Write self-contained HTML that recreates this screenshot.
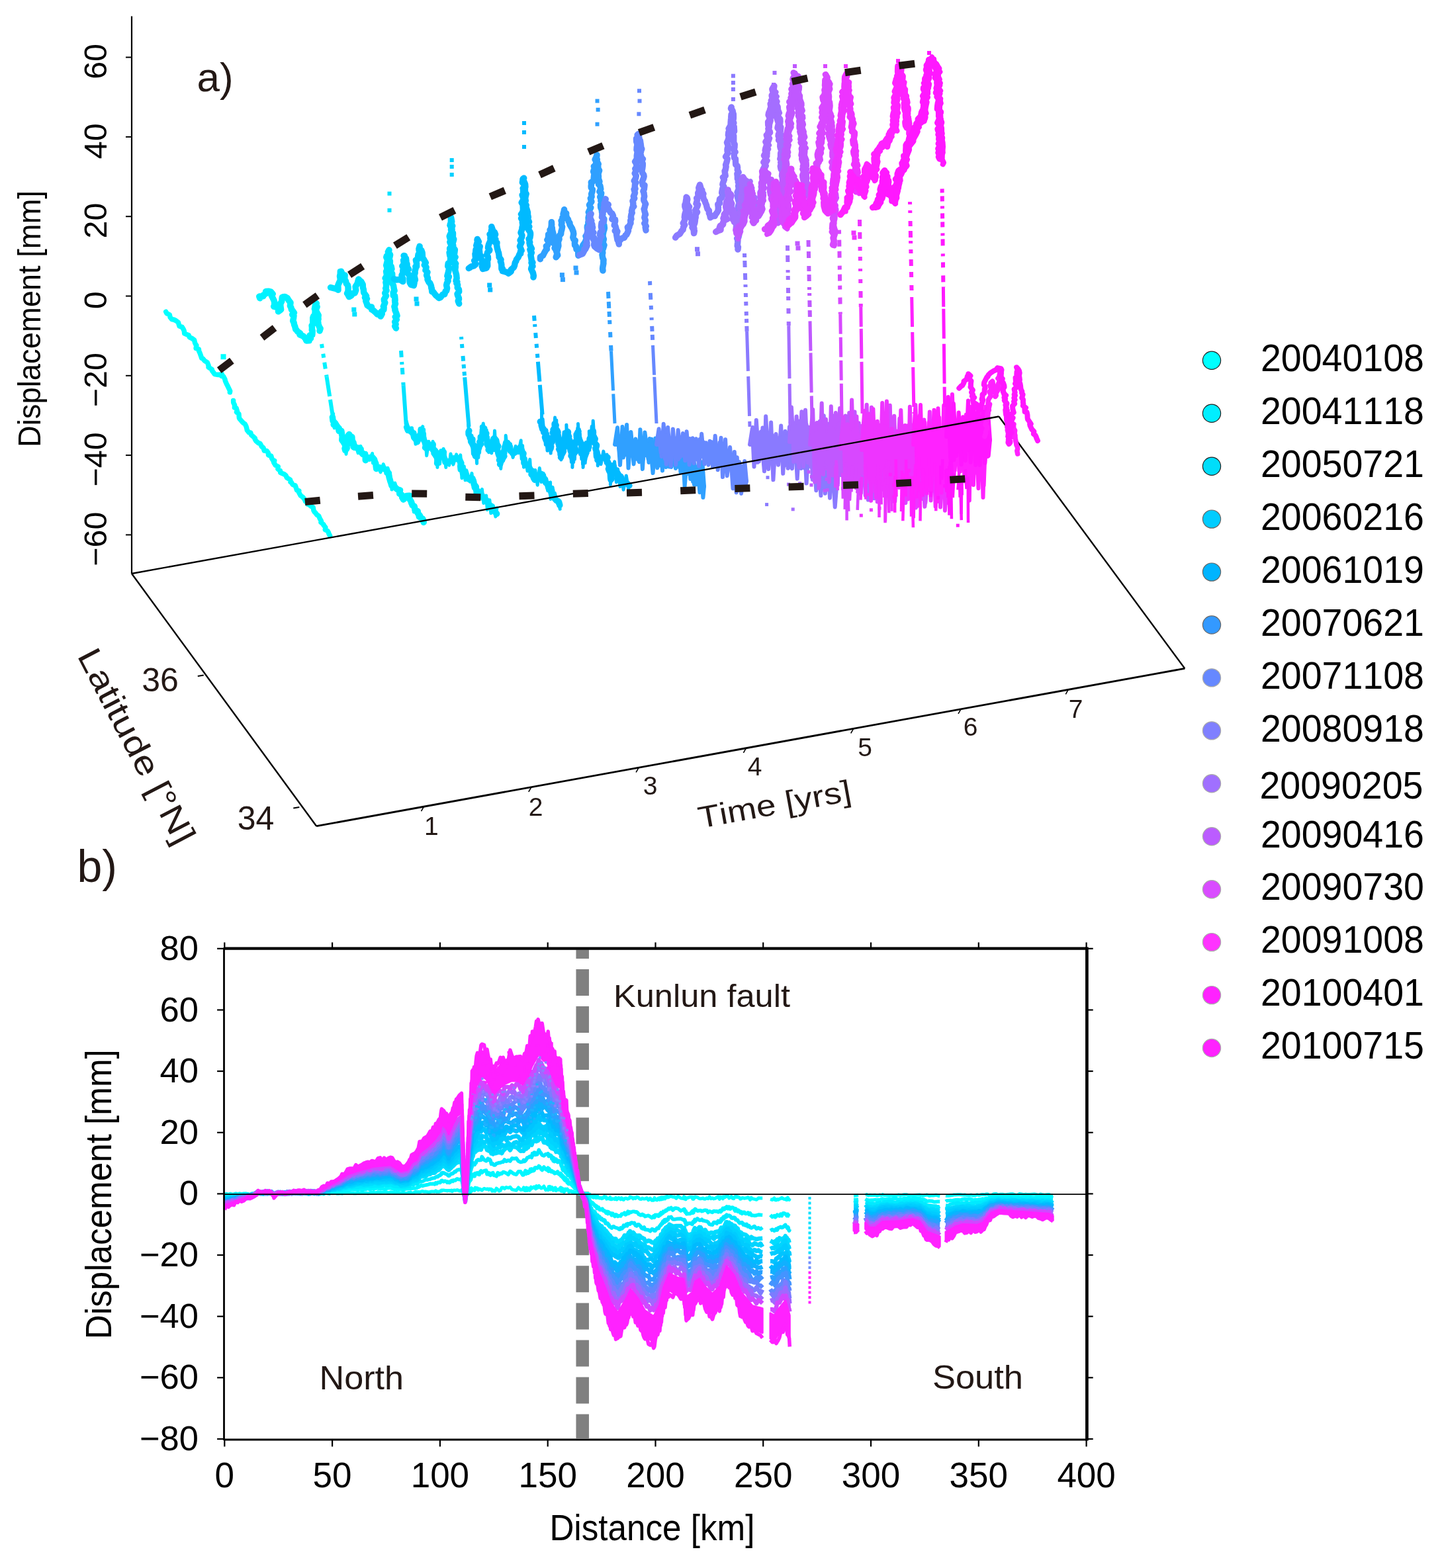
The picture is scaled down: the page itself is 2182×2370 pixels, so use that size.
<!DOCTYPE html>
<html><head><meta charset="utf-8"><title>Figure</title>
<style>html,body{margin:0;padding:0;background:#fff;}svg{display:block;}text{font-family:'Liberation Sans', Arial, sans-serif;font-kerning:none;}</style>
</head><body>
<svg width="2182" height="2370" viewBox="0 0 2182 2370">
<rect width="2182" height="2370" fill="#fff"/>
<line x1="199.0" y1="24.4" x2="199.0" y2="867.0" stroke="#000" stroke-width="2.2" />
<line x1="190.0" y1="86.6" x2="199.0" y2="86.6" stroke="#000" stroke-width="2" />
<text transform="translate(161.4,92.9) rotate(-90)" font-size="48.5" text-anchor="middle" fill="#000">60</text>
<line x1="190.0" y1="206.9" x2="199.0" y2="206.9" stroke="#000" stroke-width="2" />
<text transform="translate(161.4,213.2) rotate(-90)" font-size="48.5" text-anchor="middle" fill="#000">40</text>
<line x1="190.0" y1="327.2" x2="199.0" y2="327.2" stroke="#000" stroke-width="2" />
<text transform="translate(161.4,333.5) rotate(-90)" font-size="48.5" text-anchor="middle" fill="#000">20</text>
<line x1="190.0" y1="447.5" x2="199.0" y2="447.5" stroke="#000" stroke-width="2" />
<text transform="translate(161.4,453.8) rotate(-90)" font-size="48.5" text-anchor="middle" fill="#000">0</text>
<line x1="190.0" y1="567.8" x2="199.0" y2="567.8" stroke="#000" stroke-width="2" />
<text transform="translate(161.4,574.1) rotate(-90)" font-size="48.5" text-anchor="middle" fill="#000">−20</text>
<line x1="190.0" y1="688.1" x2="199.0" y2="688.1" stroke="#000" stroke-width="2" />
<text transform="translate(161.4,694.4) rotate(-90)" font-size="48.5" text-anchor="middle" fill="#000">−40</text>
<line x1="190.0" y1="808.4" x2="199.0" y2="808.4" stroke="#000" stroke-width="2" />
<text transform="translate(161.4,814.7) rotate(-90)" font-size="48.5" text-anchor="middle" fill="#000">−60</text>
<text transform="translate(60.5,482) rotate(-90)" font-size="48.5" text-anchor="middle" fill="#000" textLength="388" lengthAdjust="spacingAndGlyphs">Displacement [mm]</text>
<text x="297.5" y="138.0" font-size="62" text-anchor="start" fill="#231815" >a)</text>
<line x1="1509.4" y1="629.5" x2="1790.3" y2="1010.4" stroke="#000" stroke-width="2.4" />
<rect x="585.5" y="289.6" width="6" height="6" fill="#00E2FF"/>
<rect x="585.5" y="314.8" width="6" height="6" fill="#00E2FF"/>
<rect x="679.7" y="239.0" width="6" height="6" fill="#00D0FF"/>
<rect x="679.7" y="249.0" width="6" height="6" fill="#00D0FF"/>
<rect x="679.7" y="261.0" width="6" height="6" fill="#00D0FF"/>
<rect x="789.0" y="183.0" width="6" height="6" fill="#00BAFF"/>
<rect x="789.0" y="197.0" width="6" height="6" fill="#00BAFF"/>
<rect x="789.0" y="219.0" width="6" height="6" fill="#00BAFF"/>
<rect x="899.5" y="149.6" width="6" height="6" fill="#30A0FF"/>
<rect x="900.6" y="162.8" width="6" height="6" fill="#30A0FF"/>
<rect x="899.5" y="184.7" width="6" height="6" fill="#30A0FF"/>
<rect x="963.0" y="134.3" width="6" height="6" fill="#6688FF"/>
<rect x="963.5" y="149.6" width="6" height="6" fill="#6688FF"/>
<rect x="962.4" y="169.3" width="6" height="6" fill="#6688FF"/>
<rect x="1104.9" y="111.7" width="6" height="6" fill="#8A7AFF"/>
<rect x="1104.9" y="122.0" width="6" height="6" fill="#8A7AFF"/>
<rect x="1104.9" y="132.0" width="6" height="6" fill="#8A7AFF"/>
<rect x="1104.9" y="147.0" width="6" height="6" fill="#8A7AFF"/>
<rect x="1167.5" y="107.0" width="6" height="6" fill="#A46EFF"/>
<rect x="1166.0" y="125.0" width="6" height="6" fill="#A46EFF"/>
<rect x="1198.4" y="107.0" width="6" height="6" fill="#C058FF"/>
<rect x="1198.0" y="97.0" width="6" height="6" fill="#C058FF"/>
<rect x="1244.0" y="97.0" width="6" height="6" fill="#D848FF"/>
<rect x="1275.0" y="97.0" width="6" height="6" fill="#EE34FF"/>
<rect x="1354.0" y="89.0" width="6" height="6" fill="#FF22FF"/>
<rect x="1401.0" y="77.0" width="6" height="6" fill="#FF18FF"/>
<path d="M250.7,471.2 L252.0,473.6 L256.3,475.8 L257.1,479.6 L259.8,482.7 L262.4,483.0 L265.6,484.5 L269.4,487.2 L270.3,490.6 L271.1,493.0 L275.2,494.4 L277.2,497.7 L278.2,500.0 L278.5,501.8 L278.7,504.1 L285.2,506.8 L286.2,509.6 L289.7,511.3 L290.2,511.4 L293.6,514.0 L294.6,518.4 L296.7,522.5 L296.9,522.0 L296.1,526.4 L300.4,527.8 L300.6,530.6 L301.8,533.0 L303.5,537.6 L304.7,541.3 L306.4,542.0 L309.3,545.4 L313.3,547.9 L315.2,552.7 L315.0,555.1 L318.5,557.2 L320.4,558.6 L320.4,560.2 L322.5,562.9 L324.2,565.5 L330.1,566.5 L335.3,565.6 L335.0,568.5 L337.5,568.7 L340.0,573.5 L340.3,575.5 L342.6,580.9 L343.7,582.7 L344.7,584.9 L347.7,591.1 L347.4,592.9" fill="none" stroke="#00FFFF" stroke-width="7.5" stroke-linejoin="round" stroke-linecap="round" />
<path d="M352.6,605.6 L352.7,608.3 L354.6,612.4 L354.4,616.1 L357.0,616.7 L358.4,621.3 L357.5,622.9 L360.9,625.4 L361.4,631.8 L362.4,633.4 L366.4,638.0 L367.8,639.4 L370.1,640.9 L371.8,644.0 L372.8,647.3 L373.3,650.1 L376.3,653.8 L378.7,654.0 L379.9,657.8 L381.9,659.2 L385.4,662.5 L385.3,664.0 L387.0,666.6 L390.5,669.6 L393.0,670.4 L394.7,673.4 L395.2,674.8 L397.9,676.6 L399.3,681.2 L403.1,681.5 L405.4,684.7 L405.5,688.0 L409.7,689.2 L410.5,692.5 L412.5,695.7 L414.7,696.4 L413.6,698.8 L416.3,703.3 L420.3,705.4 L419.8,708.7 L423.5,711.5 L423.7,714.3 L428.8,716.7 L429.2,716.6 L432.0,718.7 L433.4,722.0 L438.6,725.1 L438.9,728.5 L439.9,728.5 L442.1,732.2 L446.2,734.0 L447.8,738.5 L448.5,740.8 L451.8,741.8 L451.0,742.9 L453.1,746.9 L454.2,749.0 L457.7,751.6 L460.4,755.0 L461.5,757.8 L463.9,759.2 L464.6,762.0 L466.3,762.2 L469.6,765.0 L473.2,767.0 L473.9,771.5 L475.7,774.4 L476.4,774.7 L478.8,778.0 L481.7,779.9 L483.5,784.3 L485.4,787.4 L484.9,789.5 L488.7,792.7 L488.2,792.6 L491.9,797.3 L491.3,800.7 L494.8,802.4 L496.5,805.0 L496.5,805.7 L498.6,809.9" fill="none" stroke="#00FFFF" stroke-width="7.5" stroke-linejoin="round" stroke-linecap="round" />
<rect x="333.5" y="535.2" width="8" height="8" fill="#00FFFF"/>
<path d="M502.4,630.5 L502.6,631.9 L503.1,636.1 L506.9,640.0 L504.2,641.8 L508.8,643.5 L511.4,646.7 L512.2,651.4 L515.9,651.6 L516.7,657.6 L517.8,660.3 L517.0,661.8 L516.8,665.2 L518.7,667.5 L522.0,673.2 L522.5,674.2 L521.0,677.8 L521.8,680.7 L524.2,677.3 L523.8,674.1 L526.1,669.8 L526.6,668.6 L526.2,665.6 L524.8,663.0 L526.3,658.1 L527.6,656.6 L527.9,658.4 L531.9,660.4 L531.9,663.3 L532.8,667.4 L534.1,669.0 L534.0,675.2 L535.1,676.2 L542.4,677.1 L545.2,678.8 L544.9,682.6 L548.4,686.7 L551.8,686.6 L552.2,690.6 L552.3,695.7 L555.0,692.8 L558.4,691.6 L561.3,691.2 L563.1,691.7 L565.5,694.4 L566.4,697.6 L567.8,700.6 L568.2,704.9 L568.7,708.5 L572.5,706.2 L576.1,707.9 L579.3,707.3 L580.2,708.5 L584.9,710.9 L584.9,714.7 L586.5,714.1 L587.5,718.2 L588.3,722.0 L590.0,727.8 L590.8,730.0 L591.9,734.0 L594.1,734.8 L597.0,736.8 L600.3,739.5 L604.5,741.0 L603.7,746.1 L607.6,748.3 L607.7,751.1 L609.5,754.9 L613.8,750.9 L614.5,749.5 L618.9,749.2 L617.8,749.5 L618.9,754.1 L621.8,759.1 L621.6,760.2 L624.3,764.5 L626.1,765.2 L627.1,769.8 L627.2,770.4 L631.3,772.9 L630.9,775.1 L634.6,779.5 L634.1,781.5 L636.5,782.5 L639.3,785.3 L640.2,789.4" fill="none" stroke="#00F2FF" stroke-width="9.5" stroke-linejoin="round" stroke-linecap="round" />
<path d="M503.7,625.3 L503.0,639.1 L504.7,635.4 L505.1,646.9 L509.8,641.0 L512.4,652.4 L514.3,646.3 L516.2,662.8 L516.7,655.8 L518.0,668.2 L518.9,666.2 L520.0,677.2 L522.8,672.4 L523.0,686.4 L524.9,673.5 L525.6,679.4 L525.2,665.8 L526.5,670.5 L526.6,655.9 L527.1,657.9 L529.7,656.0 L531.9,668.0 L532.1,662.9 L535.5,675.3 L537.2,671.6 L541.1,684.7 L545.0,674.3 L546.4,686.9 L549.4,683.2 L551.3,694.4 L554.3,690.4 L558.7,695.3 L562.6,685.4 L563.5,700.1 L566.5,695.8 L567.7,705.3 L568.4,700.4 L575.1,713.8 L579.3,701.5 L583.4,712.5 L586.0,707.3 L589.1,720.1 L589.6,714.3 L590.4,730.1 L590.9,726.5 L592.0,740.1 L596.8,730.0 L602.1,746.3 L603.5,740.0 L605.8,753.1 L608.2,748.8 L609.0,757.1 L613.7,747.5 L618.2,754.1 L620.5,749.9 L621.1,764.9 L623.3,761.2 L625.4,774.0 L628.7,769.1 L631.3,781.9 L633.8,777.5 L638.0,789.1 L640.0,782.5" fill="none" stroke="#00F2FF" stroke-width="5" stroke-linejoin="round" stroke-linecap="round" />
<line x1="486.0" y1="520.0" x2="493.6" y2="569.5" stroke="#00F2FF" stroke-width="6" stroke-dasharray="6 9 6 7 10 9 10 5 6 12 10 7 6 5 4 7 10 7 6 12 10 12 4 7"/>
<line x1="493.6" y1="569.5" x2="503.0" y2="630.0" stroke="#00F2FF" stroke-width="6" stroke-dasharray="30 5 80 8 45 8 80 8 80 5 45 3"/>
<path d="M392.8,450.8 L391.8,448.1 L397.8,447.8 L397.5,446.4 L402.2,443.5 L401.6,440.6 L405.6,440.2 L409.5,441.2 L412.1,444.3 L410.2,446.6 L412.1,450.2 L414.2,454.6 L414.6,456.2 L414.8,461.1 L413.7,463.2 L418.1,464.5 L421.3,466.9 L420.5,470.8 L424.6,467.8 L423.9,462.9 L423.7,458.7 L424.7,457.4 L425.7,455.4 L426.3,449.5 L428.2,448.7 L430.5,448.5 L434.4,450.7 L436.1,453.8 L439.0,457.5 L438.4,462.3 L440.0,465.3 L440.3,467.8 L441.4,468.6 L444.4,472.7 L441.7,475.6 L444.0,477.0 L443.5,481.1 L442.7,485.0 L444.1,487.7 L444.6,490.8 L445.7,493.3 L446.7,497.8 L447.2,497.7 L449.8,501.3 L453.6,503.7 L453.0,505.9 L458.4,508.2 L461.4,511.5 L463.0,514.9 L467.1,514.8 L467.2,512.1 L469.6,511.3 L468.2,506.8 L471.8,506.1 L472.2,499.9 L471.3,499.0 L471.5,495.4 L471.1,491.9 L473.0,489.9 L472.8,486.9 L472.8,480.4 L473.8,477.7 L475.9,476.7 L476.1,471.3 L476.7,470.5 L475.4,466.9 L476.5,461.3 L478.4,458.6 L477.5,462.9 L479.1,463.7 L477.2,468.7 L477.8,470.3 L481.2,476.5 L480.8,479.5 L481.1,482.7 L479.1,483.8 L480.8,486.8 L480.9,489.9 L483.0,495.3 L484.1,496.5 L483.0,500.0" fill="none" stroke="#00F2FF" stroke-width="9.5" stroke-linejoin="round" stroke-linecap="round" />
<path d="M614.6,645.6 L616.4,650.2 L620.1,649.4 L622.8,654.1 L624.9,654.7 L625.1,658.5 L625.8,661.2 L629.3,665.4 L630.5,667.8 L632.1,663.5 L631.7,661.3 L632.9,660.4 L634.0,658.0 L636.9,655.1 L636.3,649.3 L637.0,655.8 L639.3,655.6 L639.4,659.7 L640.0,662.7 L640.7,665.6 L642.1,668.2 L643.4,673.9 L642.6,676.4 L645.2,678.3 L647.0,675.6 L650.7,676.5 L654.2,671.6 L653.9,675.5 L654.3,680.0 L657.4,681.0 L656.0,685.0 L658.0,687.8 L660.3,691.6 L660.9,691.7 L661.0,696.4 L660.6,700.3 L662.1,696.9 L662.2,691.2 L663.3,688.4 L664.6,685.5 L668.0,685.6 L669.4,682.3 L670.4,683.3 L670.1,686.1 L670.4,689.9 L672.5,695.7 L673.2,698.1 L675.4,700.0 L675.9,698.1 L679.1,697.5 L682.2,696.4 L686.0,692.8 L691.2,693.9 L693.3,692.5 L695.1,696.3 L696.9,700.0 L695.7,704.3 L696.2,709.5 L699.9,710.0 L699.3,715.4 L702.8,717.0 L704.1,719.4 L705.5,722.7 L710.3,725.1 L713.9,723.2 L715.9,729.1 L716.1,731.8 L718.0,734.1 L719.2,736.4 L717.8,737.6 L721.6,742.3 L721.3,743.0 L726.0,744.8 L727.1,749.2 L728.2,748.7 L730.7,753.2 L734.6,755.7 L733.9,757.0 L737.6,759.9 L738.4,762.3 L742.9,765.6 L745.3,770.3 L745.7,771.9 L747.4,773.1 L750.6,776.5" fill="none" stroke="#00E2FF" stroke-width="9.5" stroke-linejoin="round" stroke-linecap="round" />
<path d="M614.0,636.2 L619.0,653.5 L622.5,646.8 L624.1,661.5 L626.1,653.2 L628.0,671.3 L630.0,658.4 L632.4,667.7 L634.3,647.8 L635.9,663.2 L638.8,644.6 L639.6,662.4 L640.6,649.1 L640.7,667.9 L641.3,658.0 L642.3,676.2 L643.1,667.4 L644.7,688.7 L647.9,667.2 L652.4,680.7 L654.1,667.3 L656.0,685.8 L657.5,678.2 L659.4,701.0 L661.4,682.4 L660.9,706.5 L663.2,683.7 L664.6,701.2 L665.9,680.7 L667.8,687.7 L670.2,678.3 L671.0,699.8 L671.4,685.1 L673.8,706.5 L673.9,694.0 L678.7,703.2 L681.0,686.1 L684.9,702.1 L689.6,686.9 L695.0,704.4 L695.8,687.8 L697.2,712.9 L696.7,698.7 L697.9,722.7 L701.3,704.7 L703.0,725.7 L704.8,710.8 L710.2,728.2 L713.0,715.4 L715.0,736.9 L717.3,725.9 L717.9,745.3 L721.1,734.3 L723.2,750.1 L728.4,739.6 L730.8,760.5 L734.7,749.0 L736.3,770.5 L739.9,755.8 L741.8,775.7 L745.2,764.1 L748.9,780.9 L750.9,767.8" fill="none" stroke="#00E2FF" stroke-width="5" stroke-linejoin="round" stroke-linecap="round" />
<line x1="606.0" y1="530.0" x2="609.6" y2="582.2" stroke="#00E2FF" stroke-width="6" stroke-dasharray="10 7 4 5 10 12 8 5 10 5 6 7 4 5 6 5 6 9 6 12 10 7 6 5"/>
<line x1="609.6" y1="582.2" x2="614.0" y2="646.0" stroke="#00E2FF" stroke-width="6" stroke-dasharray="60 3 45 8 80 5 60 3 80 8 45 8"/>
<path d="M499.6,434.5 L505.5,436.0 L507.2,435.9 L511.0,438.2 L510.9,433.9 L510.8,431.3 L511.8,428.8 L514.5,422.8 L514.1,420.9 L513.5,417.4 L514.3,413.7 L514.3,410.4 L515.6,410.3 L516.7,412.9 L517.2,415.2 L521.1,416.2 L520.8,420.9 L519.8,421.2 L522.5,424.8 L523.3,428.6 L525.4,430.9 L526.1,434.3 L526.1,439.8 L524.6,443.3 L524.8,443.4 L527.5,448.6 L531.1,446.6 L530.9,444.0 L536.2,442.8 L537.8,438.6 L537.5,436.9 L537.1,433.3 L539.0,430.3 L540.9,426.9 L540.6,426.4 L541.8,422.0 L544.4,424.8 L545.9,425.8 L548.2,430.0 L548.3,432.2 L548.4,434.7 L549.2,437.0 L549.5,439.6 L549.7,442.2 L553.5,447.5 L551.4,449.8 L554.4,451.7 L552.7,454.7 L554.4,459.1 L555.1,461.6 L559.2,464.2 L561.5,464.1 L561.7,467.9 L564.5,469.4 L568.4,473.0 L570.0,474.9 L572.1,473.9 L575.2,478.1 L577.3,474.3 L576.1,471.1 L579.9,468.0 L580.1,464.5 L579.3,463.3 L581.8,457.5 L580.5,454.7 L580.3,452.5 L581.0,451.3 L583.5,447.1 L581.7,443.1 L584.1,438.9 L582.7,435.8 L583.6,434.2 L583.5,429.6 L582.9,426.8 L585.2,424.6 L582.2,420.5 L583.8,417.8 L584.5,416.9 L584.0,412.5 L583.6,410.4 L584.9,407.7 L584.7,404.3 L583.7,401.1 L585.2,395.2 L585.5,392.7 L583.8,388.8 L584.3,387.0 L587.7,384.6 L587.5,379.8 L587.9,377.9 L586.4,380.9 L589.4,384.7 L589.6,385.3 L588.1,391.9 L587.8,391.9 L589.4,394.5 L589.2,400.5 L591.1,402.6 L591.9,406.4 L590.0,407.1 L590.1,410.4 L592.7,413.7 L592.7,419.3 L592.4,421.1 L593.1,423.8 L591.8,426.9 L594.5,431.4 L595.1,435.2 L595.3,436.6 L596.1,439.5 L594.2,441.8 L594.3,446.7 L596.6,447.4 L597.1,453.5 L596.6,453.6 L596.9,457.3 L597.5,459.2 L595.9,463.5 L597.2,468.0 L596.9,468.7 L599.0,474.0 L600.0,477.2 L597.3,479.0 L599.3,483.0 L596.7,486.5 L598.1,490.2 L596.7,493.0 L598.4,496.0" fill="none" stroke="#00E2FF" stroke-width="9.5" stroke-linejoin="round" stroke-linecap="round" />
<path d="M708.8,651.0 L708.0,652.7 L708.1,656.4 L710.2,659.8 L710.2,661.9 L713.9,663.9 L712.8,669.4 L713.8,670.9 L716.1,675.9 L718.0,677.2 L717.5,680.7 L717.7,684.4 L717.7,687.4 L718.6,689.2 L720.4,687.8 L720.8,683.4 L722.5,679.0 L723.9,676.4 L722.7,676.1 L726.5,671.3 L724.8,668.0 L726.5,666.2 L726.3,660.8 L729.5,660.3 L729.8,656.6 L729.5,653.8 L731.7,651.0 L729.6,645.7 L731.0,650.3 L730.9,654.0 L734.8,655.1 L733.3,660.3 L734.9,661.2 L735.7,664.1 L737.3,668.7 L737.1,673.3 L739.4,673.9 L738.5,677.9 L738.2,680.0 L740.5,679.2 L742.4,674.5 L744.7,673.8 L745.3,669.2 L746.1,666.9 L747.1,662.3 L749.7,665.7 L750.6,670.4 L751.5,672.5 L752.8,674.6 L750.5,679.3 L751.8,680.6 L753.4,686.8 L753.9,688.2 L756.0,692.8 L754.5,695.3 L757.0,696.9 L755.6,701.8 L756.8,697.5 L758.5,695.6 L759.7,692.7 L761.9,689.4 L759.3,687.7 L761.4,682.6 L761.9,681.3 L762.9,675.4 L763.9,673.1 L764.6,669.4 L766.8,669.6 L767.6,670.7 L767.3,672.9 L770.5,675.3 L771.3,681.2 L774.7,683.8 L774.5,685.0 L776.9,684.6 L778.3,683.6 L783.1,679.7 L786.1,677.7 L786.0,676.2 L787.5,678.4 L789.8,684.5 L791.0,685.3 L790.3,689.1 L790.3,692.7 L792.1,694.4 L791.9,699.8 L794.6,702.3 L794.4,702.3 L796.9,704.1 L800.2,707.3 L802.1,711.7 L803.7,713.1 L803.0,717.2 L805.4,718.9 L806.4,722.4 L808.0,725.2 L812.2,722.7 L812.5,721.3 L817.1,716.3 L818.8,716.8 L820.5,718.5 L819.9,720.5 L823.5,724.2 L823.1,724.5 L824.9,729.8 L826.0,730.2 L827.7,732.9 L829.2,738.5 L833.8,741.5 L832.5,742.7 L833.8,747.5 L836.1,748.0 L837.4,752.6 L840.9,756.5 L843.5,757.6 L844.6,758.9 L845.8,763.5" fill="none" stroke="#00D0FF" stroke-width="9.5" stroke-linejoin="round" stroke-linecap="round" />
<path d="M707.7,641.3 L709.5,668.4 L709.6,653.3 L711.4,669.5 L713.0,658.2 L714.4,686.0 L716.0,666.6 L716.8,690.9 L718.7,671.9 L720.6,700.5 L720.6,680.0 L722.8,691.8 L723.8,673.0 L724.6,684.5 L725.8,659.3 L725.7,673.4 L727.2,649.0 L728.3,665.0 L730.0,649.8 L730.5,662.2 L730.2,640.0 L732.8,663.3 L733.9,646.6 L733.7,672.3 L735.3,650.1 L735.6,673.5 L737.4,660.2 L738.7,683.8 L739.7,674.0 L742.8,684.9 L743.6,662.3 L746.1,680.8 L747.5,650.9 L748.9,676.2 L751.0,667.0 L751.2,686.1 L752.4,674.7 L753.7,693.9 L754.6,683.5 L756.1,703.5 L756.2,686.9 L756.8,708.4 L758.1,685.1 L758.5,696.9 L761.0,676.3 L760.6,694.6 L762.2,672.5 L764.0,685.7 L764.2,658.3 L766.0,674.4 L768.2,667.9 L769.8,682.9 L771.4,670.8 L775.1,691.5 L779.2,674.4 L783.3,684.7 L787.2,665.8 L787.5,687.7 L789.6,673.4 L790.4,700.9 L790.6,681.9 L791.4,706.2 L794.0,692.2 L797.1,712.1 L800.7,694.4 L802.1,717.4 L805.6,710.1 L807.1,725.7 L808.9,710.6 L812.2,733.2 L815.3,707.5 L818.0,728.6 L821.2,715.5 L823.1,730.9 L825.8,724.1 L827.7,741.8 L831.6,729.0 L831.9,754.4 L835.1,736.4 L837.0,753.8 L838.4,745.3 L842.3,760.8 L843.4,755.4 L846.2,769.4" fill="none" stroke="#00D0FF" stroke-width="5" stroke-linejoin="round" stroke-linecap="round" />
<line x1="697.0" y1="509.0" x2="702.2" y2="570.2" stroke="#00D0FF" stroke-width="6" stroke-dasharray="4 7 6 12 8 5 6 5 6 5 6 5 4 9 8 5 6 9 10 9 6 9 10 5"/>
<line x1="702.2" y1="570.2" x2="708.5" y2="645.0" stroke="#00D0FF" stroke-width="6" stroke-dasharray="80 5 45 5 45 8 30 3 30 8 30 3"/>
<path d="M595.2,421.5 L598.1,422.9 L604.0,422.4 L608.8,425.6 L608.9,420.8 L607.1,418.7 L607.0,416.1 L609.9,410.8 L608.7,409.7 L609.7,404.3 L607.8,402.2 L608.6,401.5 L610.4,398.6 L609.6,393.4 L612.1,391.2 L611.4,386.7 L610.1,386.5 L611.2,388.4 L613.4,390.4 L614.0,395.0 L612.5,397.5 L615.0,398.7 L615.1,403.5 L617.6,407.0 L615.8,407.7 L615.4,411.9 L617.9,415.4 L619.4,416.1 L618.9,420.1 L619.0,423.6 L619.2,427.2 L620.9,430.2 L625.3,431.5 L626.1,427.4 L625.6,425.4 L627.5,423.1 L626.4,418.6 L625.9,416.7 L627.2,412.3 L626.9,410.3 L628.2,405.4 L627.9,403.2 L629.6,402.5 L629.5,397.8 L628.4,393.1 L632.4,390.9 L631.3,390.4 L632.1,384.5 L633.6,382.7 L633.9,381.2 L633.1,378.0 L634.2,372.3 L633.0,376.0 L636.8,378.3 L638.1,382.1 L638.4,386.5 L638.3,389.8 L640.1,391.6 L642.3,395.6 L643.4,397.1 L641.3,400.5 L644.2,404.0 L642.9,408.3 L646.0,411.5 L645.8,411.4 L644.6,416.2 L646.5,420.5 L646.0,422.5 L648.1,426.7 L649.5,427.5 L651.4,431.8 L651.9,436.0 L652.3,435.6 L652.8,440.7 L654.4,441.0 L659.0,446.9 L658.5,446.1 L663.1,450.4 L665.7,449.5 L668.8,445.2 L671.7,444.9 L673.1,440.4 L674.7,439.4 L675.6,435.7 L674.6,431.1 L675.3,428.2 L677.1,424.5 L676.3,422.7 L678.3,418.4 L675.9,417.0 L677.7,410.4 L677.8,409.5 L678.8,405.1 L676.7,402.4 L677.3,398.0 L680.3,396.9 L680.6,391.8 L680.7,388.6 L679.8,386.3 L679.1,381.8 L681.0,380.6 L679.4,375.6 L681.9,373.1 L681.5,369.7 L679.8,365.8 L682.1,364.8 L680.3,361.0 L679.2,357.1 L680.6,353.7 L682.5,352.0 L681.5,347.2 L681.9,343.5 L680.1,340.8 L682.6,338.9 L681.3,335.9 L681.4,331.2 L681.1,327.7 L681.8,329.8 L682.8,335.2 L680.5,338.5 L683.8,341.5 L682.5,341.6 L683.1,347.3 L682.2,350.0 L684.5,352.1 L684.4,356.5 L684.3,359.2 L685.8,361.5 L684.8,365.4 L683.7,367.6 L684.8,370.9 L684.2,372.0 L685.2,374.5 L687.4,377.4 L686.7,382.5 L686.1,386.9 L688.2,388.6 L686.5,390.6 L686.4,395.7 L688.8,398.5 L687.3,401.7 L688.4,402.9 L687.7,408.2 L688.5,411.2 L689.6,415.0 L689.7,416.7 L690.2,420.6 L689.0,424.5 L690.8,426.1 L689.8,428.2 L691.6,430.3 L691.2,434.8 L693.4,437.5 L693.7,440.6 L691.0,444.3 L691.6,446.4 L693.4,450.7 L693.5,452.2 L692.2,454.8 L693.7,459.0" fill="none" stroke="#00D0FF" stroke-width="9.5" stroke-linejoin="round" stroke-linecap="round" />
<path d="M816.3,637.4 L818.0,638.4 L818.2,643.1 L818.9,645.3 L819.8,648.8 L823.7,651.4 L821.6,653.3 L825.5,656.3 L823.4,660.8 L824.9,665.0 L827.4,668.1 L827.5,671.3 L828.0,672.0 L829.7,677.4 L832.0,678.2 L832.7,674.7 L831.4,673.1 L830.9,671.2 L834.3,668.0 L835.0,665.1 L834.9,662.7 L836.5,657.3 L835.3,653.6 L837.9,650.7 L836.0,649.5 L838.5,646.1 L838.1,641.9 L838.1,640.5 L840.2,642.9 L839.0,646.4 L841.3,649.8 L842.9,652.8 L841.6,655.9 L843.3,658.4 L844.3,662.7 L844.6,663.4 L844.7,667.6 L845.1,669.6 L845.0,674.4 L846.1,676.8 L844.7,678.9 L847.8,684.8 L848.6,686.6 L847.5,691.2 L848.3,687.5 L849.8,685.4 L851.4,682.1 L850.7,677.4 L851.0,673.6 L853.2,670.5 L853.0,667.2 L854.9,665.7 L853.3,663.6 L854.2,658.3 L854.3,656.0 L854.3,655.6 L857.7,652.3 L858.6,653.8 L857.6,656.1 L859.7,659.9 L858.2,663.2 L860.8,665.4 L862.0,669.1 L861.0,673.6 L860.1,676.2 L862.0,678.2 L862.0,680.8 L864.0,685.7 L863.1,688.8 L864.4,689.4 L865.0,692.5 L864.8,690.1 L866.1,688.9 L866.9,686.1 L869.2,683.2 L869.5,678.7 L868.6,676.7 L868.0,673.4 L871.5,667.8 L869.5,668.1 L871.7,664.3 L871.4,661.6 L871.1,656.7 L872.3,655.5 L874.1,652.1 L872.9,653.3 L874.1,655.7 L874.2,659.8 L875.2,663.4 L875.8,665.1 L877.8,669.8 L879.5,671.5 L879.2,674.3 L879.6,678.7 L878.3,680.9 L878.4,685.5 L881.0,687.0 L881.3,690.9 L882.8,693.9 L882.9,692.0 L883.9,689.3 L885.8,684.4 L885.0,681.6 L885.0,680.3 L888.2,676.9 L889.7,675.6 L888.3,672.2 L891.0,668.9 L890.9,665.9 L891.2,662.8 L894.1,659.0 L893.5,657.9 L896.5,654.5 L896.3,651.7 L896.0,653.7 L896.3,657.4 L897.9,661.1 L899.3,663.4 L897.5,667.7 L900.4,671.7 L901.7,672.8 L900.5,677.7 L899.9,678.0 L901.4,682.8 L901.1,684.4 L901.5,690.0 L904.1,690.2 L902.9,695.3 L907.2,693.9 L908.4,692.9 L912.1,691.2 L918.0,691.3 L915.7,692.0 L917.0,696.1 L918.9,699.1 L919.9,703.5 L921.0,705.4 L919.4,708.8 L920.8,712.2 L922.8,714.2 L923.3,717.7 L923.1,720.3 L923.0,725.2 L924.3,723.3 L923.3,720.1 L924.4,714.3 L926.6,711.2 L926.7,708.4 L927.2,704.6 L927.8,707.6 L931.6,712.5 L931.4,715.3 L933.6,715.5 L935.1,718.9 L938.5,721.1 L938.6,724.5 L942.0,727.2 L944.6,729.3 L947.8,730.9 L950.9,733.8" fill="none" stroke="#00BAFF" stroke-width="9.5" stroke-linejoin="round" stroke-linecap="round" />
<path d="M818.6,623.4 L818.4,646.1 L820.1,633.2 L822.3,656.4 L823.1,646.7 L824.3,672.3 L825.8,649.7 L827.0,681.2 L829.1,659.6 L829.1,680.0 L829.8,666.4 L832.2,685.1 L832.5,660.2 L832.9,681.6 L835.2,649.6 L834.8,669.9 L836.7,641.4 L837.0,654.9 L838.6,631.1 L839.5,656.1 L840.8,635.1 L840.8,661.8 L841.0,647.7 L841.7,671.1 L843.4,653.4 L842.9,674.1 L845.0,654.1 L844.8,687.2 L845.7,666.7 L845.7,689.4 L846.6,680.7 L847.9,694.9 L849.8,674.6 L849.6,688.7 L850.3,667.2 L851.2,678.0 L852.1,652.9 L853.9,678.5 L853.9,652.4 L856.1,661.8 L855.9,642.2 L856.8,665.3 L858.1,650.0 L859.0,670.2 L860.2,651.8 L860.7,681.2 L860.9,659.7 L862.9,689.4 L862.4,674.9 L863.4,698.6 L865.4,679.3 L864.9,706.4 L865.7,679.9 L866.7,698.8 L867.4,668.7 L868.4,694.3 L869.4,664.4 L870.4,683.2 L870.6,660.3 L871.1,669.3 L872.8,646.7 L874.0,662.7 L873.5,640.6 L874.9,666.6 L875.3,648.7 L877.0,678.7 L875.9,656.3 L876.8,677.7 L878.1,667.5 L878.8,693.9 L879.8,672.5 L880.5,701.9 L881.2,682.0 L881.1,706.4 L882.5,676.0 L884.2,699.8 L885.3,668.5 L888.0,684.8 L889.4,665.2 L890.8,680.6 L890.3,651.7 L892.0,673.5 L894.2,644.6 L895.1,664.9 L896.2,635.9 L898.3,668.2 L897.1,650.0 L899.2,677.5 L898.5,656.9 L899.4,681.3 L900.4,667.7 L901.5,690.0 L902.8,680.3 L903.3,703.9 L904.0,682.6 L908.0,701.8 L911.9,682.1 L915.4,700.3 L917.1,687.0 L918.7,708.9 L918.7,693.3 L920.5,723.2 L920.7,699.2 L921.9,723.9 L922.9,710.8 L922.4,732.6 L924.7,708.9 L924.5,723.3 L925.0,701.5 L926.2,713.5 L928.6,697.8 L931.3,728.9 L933.6,709.1 L937.0,735.6 L938.9,718.1 L942.1,740.3 L946.3,719.0 L951.0,747.1" fill="none" stroke="#00BAFF" stroke-width="5" stroke-linejoin="round" stroke-linecap="round" />
<line x1="807.0" y1="477.0" x2="812.9" y2="546.8" stroke="#00BAFF" stroke-width="6" stroke-dasharray="8 5 4 9 8 9 6 9 6 7 4 12 8 7 10 12 10 12 6 7 8 9 4 9"/>
<line x1="812.9" y1="546.8" x2="820.0" y2="632.0" stroke="#00BAFF" stroke-width="6" stroke-dasharray="30 5 45 8 80 8 80 8 80 8 60 8"/>
<path d="M708.3,405.5 L709.7,404.7 L712.2,402.9 L715.8,402.0 L718.8,399.5 L717.5,396.0 L716.7,393.9 L719.9,390.9 L718.4,388.5 L718.0,383.8 L718.6,382.7 L719.0,377.4 L720.6,376.4 L721.6,372.0 L719.8,371.1 L721.7,364.7 L721.0,362.9 L721.3,361.4 L723.3,365.2 L722.1,366.0 L722.4,370.6 L725.2,372.5 L724.2,377.0 L724.3,377.2 L724.7,381.7 L725.1,385.7 L727.2,387.1 L726.6,390.4 L729.1,394.5 L727.9,398.0 L730.5,401.2 L728.3,402.9 L729.6,406.4 L735.1,405.1 L734.2,405.0 L736.7,401.9 L736.6,398.2 L736.4,393.3 L737.5,391.7 L737.3,387.9 L735.7,384.9 L736.7,381.3 L739.6,378.9 L739.8,377.6 L737.5,374.8 L737.9,371.9 L738.7,368.9 L741.2,363.4 L740.9,360.1 L741.3,357.1 L740.1,354.2 L742.8,352.6 L742.4,348.2 L743.4,347.7 L742.8,342.8 L744.3,347.0 L745.6,350.1 L747.3,351.0 L748.6,354.3 L746.5,360.0 L748.9,361.5 L748.5,366.3 L750.9,367.1 L750.5,370.0 L751.4,375.6 L751.8,376.7 L752.7,380.0 L753.5,382.3 L754.4,388.4 L754.1,388.4 L757.0,392.5 L756.3,395.3 L757.3,397.3 L757.8,400.3 L757.9,406.5 L759.5,406.3 L759.5,409.7 L763.4,410.8 L768.0,411.9 L768.3,413.4 L772.3,410.2 L772.2,407.6 L776.3,404.1 L777.5,401.3 L778.3,397.0 L779.8,394.7 L780.5,392.1 L783.2,388.7 L785.0,384.3 L786.7,383.4 L786.4,380.2 L788.1,378.7 L785.5,372.3 L786.0,371.0 L788.1,366.5 L786.1,363.2 L787.1,361.5 L788.5,358.7 L788.9,355.7 L787.0,351.7 L788.3,348.2 L788.7,346.5 L789.2,343.0 L790.1,341.7 L789.3,335.8 L790.5,334.2 L787.6,330.0 L790.1,326.6 L787.5,323.8 L789.4,321.3 L790.5,317.6 L790.4,316.3 L790.2,310.7 L790.4,309.7 L788.2,306.2 L790.7,302.1 L791.2,300.4 L789.2,294.8 L791.2,293.2 L790.6,289.3 L790.7,285.7 L790.2,284.7 L791.9,282.4 L792.5,279.4 L789.4,275.8 L790.3,270.2 L791.6,269.2 L790.0,271.1 L791.4,273.3 L793.6,278.4 L793.9,282.3 L793.5,282.4 L793.4,286.1 L793.5,290.8 L795.2,292.9 L794.4,295.8 L793.6,299.9 L794.3,303.4 L793.6,303.1 L794.0,309.0 L795.3,310.2 L794.5,312.6 L795.8,315.6 L797.4,320.9 L797.5,322.4 L797.3,323.9 L798.3,328.2 L797.2,330.2 L799.5,335.5 L796.7,339.2 L798.0,342.3 L799.8,342.5 L797.8,345.9 L800.9,350.7 L801.5,352.4 L801.5,355.0 L800.8,359.6 L799.1,361.1 L800.7,366.2 L800.0,366.9 L800.8,370.7 L803.4,375.9 L800.9,377.0 L802.0,380.5 L803.3,381.8 L801.9,385.7 L802.9,390.9 L803.3,394.0 L804.9,396.8 L803.0,397.0 L804.9,402.4 L803.3,403.6 L802.6,406.5 L805.5,412.6 L806.3,416.6 L806.0,419.0" fill="none" stroke="#00BAFF" stroke-width="9.5" stroke-linejoin="round" stroke-linecap="round" />
<path d="M929.0,672.0 L933.0,646.3 L937.0,703.0 L940.5,645.1 L943.1,688.6 L947.1,642.1 L949.5,707.5 L953.4,653.0 L957.6,701.4 L960.4,663.5 L965.4,697.2 L967.4,649.3 L970.9,709.0 L974.4,653.5 L979.5,693.9 L981.7,663.0 L986.6,715.1 L990.3,662.6 L993.3,707.3 L997.4,665.5 L1001.0,711.5 L1003.2,652.6 L1006.5,706.0 L1009.8,669.0 L1014.5,706.0 L1018.2,673.1 L1021.0,707.9 L1024.9,659.1 L1028.4,713.6 L1031.1,669.7 L1034.6,735.3 L1039.8,677.1 L1043.3,724.1 L1046.4,693.2 L1048.9,732.2 L1054.3,705.3 L1057.4,744.3 L1061.3,698.3 L1064.0,735.0" fill="none" stroke="#30A0FF" stroke-width="6" stroke-linejoin="round" stroke-linecap="round" />
<path d="M931.0,672.0 L933.2,660.0 L936.6,687.4 L939.0,663.8 L941.8,691.6 L944.4,665.5 L945.7,683.8 L949.4,659.3 L951.9,687.7 L953.2,661.0 L955.4,688.3 L957.9,667.6 L962.1,693.7 L962.7,667.4 L966.2,698.2 L968.1,665.2 L971.8,694.2 L973.5,665.5 L977.0,688.5 L978.7,671.5 L980.4,698.9 L984.6,663.8 L986.8,697.2 L988.6,672.3 L991.9,692.2 L993.6,670.8 L996.9,703.4 L998.7,663.4 L1001.7,698.0 L1003.4,670.3 L1005.6,697.8 L1009.8,672.4 L1011.6,705.5 L1013.5,671.7 L1015.9,695.7 L1019.6,669.1 L1021.9,699.9 L1024.2,670.1 L1026.9,706.7 L1029.3,680.8 L1031.3,708.0 L1034.3,681.8 L1037.3,714.1 L1039.1,689.2 L1041.5,716.6 L1044.3,700.0 L1047.1,728.0 L1049.5,701.1 L1051.7,732.6 L1054.6,705.9 L1057.2,738.5 L1059.4,710.2 L1062.4,752.1 L1064.0,735.0" fill="none" stroke="#30A0FF" stroke-width="6" stroke-linejoin="round" stroke-linecap="round" />
<line x1="919.0" y1="441.0" x2="923.5" y2="530.5" stroke="#30A0FF" stroke-width="6" stroke-dasharray="10 5 10 5 8 5 6 12 8 12 10 9 6 12 8 12 6 7 8 9 10 9 4 9"/>
<line x1="923.5" y1="530.5" x2="929.0" y2="640.0" stroke="#30A0FF" stroke-width="5" stroke-dasharray="60 5 45 3 80 3 30 3 60 3 45 8"/>
<path d="M816.4,391.7 L816.4,388.5 L820.5,386.2 L822.8,381.5 L825.5,377.1 L826.4,376.6 L825.3,372.0 L827.0,371.6 L829.5,365.8 L826.9,362.5 L828.2,360.5 L828.6,357.0 L828.6,354.4 L832.0,353.0 L831.0,347.5 L833.1,345.3 L832.8,344.1 L833.3,340.5 L833.4,335.7 L833.7,339.6 L832.9,343.2 L834.2,343.9 L834.5,347.8 L835.9,352.8 L836.2,356.3 L835.8,357.0 L837.6,360.0 L837.3,363.4 L836.3,367.3 L840.3,371.2 L838.1,375.0 L840.1,377.4 L840.1,378.3 L841.6,382.2 L842.7,385.8 L840.2,388.8 L841.7,384.3 L841.7,384.7 L841.3,379.3 L842.1,378.4 L843.1,374.4 L843.9,371.7 L843.4,366.2 L843.8,364.4 L845.1,361.3 L844.6,359.7 L845.5,355.8 L847.6,353.7 L848.0,349.7 L848.9,347.0 L849.6,342.7 L848.3,339.7 L849.0,336.8 L848.1,333.6 L851.4,330.0 L849.9,329.0 L853.0,327.3 L851.0,323.8 L852.3,319.0 L852.6,316.8 L852.3,320.0 L855.7,322.6 L855.3,324.4 L856.6,329.5 L858.4,331.4 L859.3,334.9 L861.0,337.0 L860.9,339.4 L862.6,342.2 L864.7,345.7 L865.3,347.8 L866.2,349.7 L866.8,353.5 L865.8,358.9 L866.8,361.6 L869.2,363.5 L868.4,367.0 L868.6,370.7 L870.4,372.0 L871.0,376.5 L874.1,377.2 L873.7,381.8 L873.9,386.2 L877.8,382.0 L877.3,378.6 L880.2,376.0 L880.2,372.3 L880.9,370.6 L884.0,366.3 L885.5,362.7 L886.3,360.9 L885.0,356.9 L886.2,355.6 L889.7,353.1 L888.2,348.7 L887.3,344.4 L887.4,341.8 L889.0,339.0 L888.8,335.9 L889.4,334.1 L889.1,329.1 L889.8,325.9 L891.2,323.0 L889.3,320.8 L891.1,317.0 L892.8,313.7 L892.1,313.7 L890.5,309.8 L893.9,304.9 L893.2,302.9 L892.3,299.7 L894.1,297.5 L893.6,293.3 L895.0,289.6 L895.3,286.1 L893.3,283.9 L893.2,281.4 L893.6,278.1 L893.3,275.5 L896.8,273.7 L897.3,268.6 L897.5,266.1 L898.0,262.7 L896.6,259.2 L897.5,256.6 L898.7,255.3 L897.4,251.4 L899.6,250.2 L900.8,245.4 L901.5,240.9 L899.1,241.2 L901.9,235.7 L902.0,234.0 L901.0,237.2 L902.3,241.3 L901.4,243.0 L904.2,247.9 L903.6,249.0 L903.9,254.5 L903.6,254.6 L905.6,257.7 L904.0,262.5 L904.5,267.4 L903.7,268.1 L904.8,271.4 L905.9,274.4 L904.5,278.6 L906.9,280.8 L907.8,285.8 L905.9,289.6 L908.7,291.7 L908.2,294.9 L906.7,297.6 L908.5,301.9 L907.8,303.6 L909.9,307.6 L907.5,309.2 L907.7,313.6 L909.3,317.3 L909.5,320.4 L910.9,323.9 L910.0,324.1 L909.8,327.0 L912.9,331.1 L912.2,336.2 L910.3,337.2 L912.9,340.3 L913.4,344.7 L912.9,347.2 L912.0,349.8 L911.0,355.0 L911.2,358.3 L912.4,361.4 L911.6,364.5 L911.4,366.0 L911.0,367.2 L913.0,370.5 L911.4,375.9 L910.0,377.4 L910.8,382.0 L910.0,385.2 L910.3,387.1 L910.8,390.1 L912.0,392.8 L911.8,396.3 L911.9,398.2 L910.9,403.3 L910.6,406.0 L911.0,409.0" fill="none" stroke="#30A0FF" stroke-width="9.5" stroke-linejoin="round" stroke-linecap="round" />
<path d="M992.0,672.0 L995.6,648.3 L999.8,690.0 L1002.7,640.8 L1006.8,701.8 L1009.2,646.1 L1013.6,704.6 L1016.9,648.4 L1021.2,702.5 L1024.7,650.1 L1027.1,691.3 L1031.7,655.1 L1035.3,696.3 L1037.6,652.3 L1041.6,702.5 L1045.0,665.0 L1048.6,700.3 L1051.9,663.2 L1056.2,704.4 L1060.2,655.7 L1064.4,700.8 L1067.0,669.2 L1070.6,702.7 L1075.0,667.9 L1077.0,705.6 L1080.7,658.8 L1084.7,710.2 L1089.5,661.7 L1092.0,721.1 L1096.1,664.2 L1098.7,719.2 L1103.1,675.9 L1107.5,738.4 L1109.8,682.9 L1112.7,744.4 L1117.4,700.3 L1120.1,745.9 L1125.2,696.9 L1128.0,727.0" fill="none" stroke="#6688FF" stroke-width="6" stroke-linejoin="round" stroke-linecap="round" />
<path d="M994.0,672.0 L996.4,659.6 L998.6,683.7 L1001.3,653.0 L1004.9,693.4 L1006.2,658.4 L1009.2,694.4 L1011.3,661.3 L1014.2,695.2 L1016.7,663.7 L1019.5,685.4 L1021.4,662.5 L1025.0,694.2 L1026.9,668.5 L1030.3,688.7 L1031.4,659.8 L1033.8,689.4 L1036.6,658.0 L1039.5,694.3 L1042.2,663.0 L1043.8,696.7 L1046.7,662.3 L1049.3,694.8 L1052.2,668.7 L1054.4,694.7 L1057.4,664.0 L1059.2,690.2 L1063.1,668.3 L1064.9,701.4 L1067.9,674.4 L1070.0,696.5 L1072.6,666.7 L1075.7,697.9 L1077.2,671.4 L1079.4,703.2 L1083.2,673.2 L1085.7,694.3 L1087.4,669.1 L1090.6,699.7 L1091.9,671.4 L1095.2,707.3 L1097.3,681.6 L1100.4,708.5 L1101.9,683.0 L1105.9,714.6 L1108.1,688.4 L1110.7,717.3 L1113.8,691.3 L1114.5,730.8 L1117.3,698.2 L1121.3,735.3 L1122.2,704.9 L1126.3,736.1 L1128.0,727.0" fill="none" stroke="#6688FF" stroke-width="6" stroke-linejoin="round" stroke-linecap="round" />
<line x1="982.0" y1="425.0" x2="986.5" y2="521.8" stroke="#6688FF" stroke-width="6" stroke-dasharray="6 12 10 9 6 12 4 9 8 5 8 9 6 7 6 7 6 7 8 5 4 7 4 12"/>
<line x1="986.5" y1="521.8" x2="992.0" y2="640.0" stroke="#6688FF" stroke-width="5" stroke-dasharray="45 3 80 5 30 3 60 5 80 3 30 8"/>
<path d="M875.5,385.4 L880.4,383.6 L882.8,379.1 L882.9,376.6 L884.5,376.8 L887.1,371.2 L885.5,369.9 L887.0,367.4 L886.5,365.2 L886.8,360.2 L889.8,357.7 L886.7,355.1 L887.5,351.3 L888.9,347.6 L888.5,344.8 L891.0,341.7 L891.5,337.9 L891.6,335.3 L889.7,334.3 L892.3,330.7 L890.9,325.4 L893.1,323.2 L891.7,326.7 L891.7,329.5 L893.8,333.8 L892.1,337.4 L894.8,338.9 L895.0,342.3 L895.6,343.8 L894.0,349.1 L897.0,351.4 L894.6,354.4 L896.6,358.3 L897.7,359.5 L896.7,362.0 L898.5,364.7 L897.5,370.0 L898.7,372.7 L902.4,375.8 L905.6,377.5 L906.1,373.6 L904.5,372.4 L904.9,367.7 L905.7,366.1 L905.8,363.8 L907.2,359.3 L908.7,357.4 L906.4,355.0 L907.1,351.2 L909.9,348.9 L908.5,343.1 L908.5,341.3 L909.1,336.7 L911.9,335.2 L912.0,331.2 L909.4,328.2 L910.0,327.8 L910.2,323.3 L911.4,319.8 L913.4,316.7 L912.3,313.9 L913.2,311.7 L913.0,307.5 L914.6,303.9 L915.2,300.8 L914.3,304.4 L916.3,307.7 L919.3,309.3 L917.6,311.6 L919.1,314.8 L920.4,317.4 L922.8,321.6 L924.9,322.7 L926.5,326.3 L924.8,331.2 L929.5,331.9 L929.7,333.9 L928.2,340.5 L929.9,341.6 L931.2,346.5 L929.2,348.8 L932.9,349.7 L931.5,353.9 L932.1,357.6 L933.0,362.8 L935.0,364.3 L935.3,369.0 L934.6,366.1 L936.9,363.1 L940.3,359.9 L943.4,359.3 L945.1,355.7 L946.7,354.7 L948.2,351.8 L949.5,348.6 L948.3,343.4 L950.8,343.4 L951.4,340.2 L953.0,337.3 L952.7,333.2 L953.9,331.0 L953.3,328.0 L954.0,323.8 L955.2,321.7 L954.5,319.3 L955.6,314.0 L957.7,312.0 L956.6,310.5 L956.8,307.1 L956.0,303.9 L958.7,299.6 L957.3,296.9 L959.3,292.1 L959.5,291.2 L958.1,286.2 L960.0,285.2 L959.2,282.8 L959.6,277.3 L961.1,276.1 L958.3,273.4 L960.6,269.2 L961.3,265.7 L959.2,262.0 L961.2,258.0 L959.8,255.0 L962.5,254.2 L961.8,249.7 L960.9,246.0 L959.6,244.3 L962.7,239.7 L962.3,239.5 L962.3,235.3 L963.0,230.7 L963.4,229.4 L962.0,226.6 L962.2,222.8 L963.0,219.0 L962.1,215.0 L961.7,214.2 L961.5,209.5 L963.6,207.6 L963.1,203.8 L965.3,202.2 L964.8,204.7 L965.9,208.0 L965.6,210.5 L967.4,212.5 L968.0,217.3 L968.5,220.1 L968.2,221.2 L969.8,225.3 L969.1,226.7 L967.7,232.7 L968.7,235.6 L969.0,238.2 L971.5,240.3 L969.5,242.6 L971.3,247.5 L971.2,250.7 L970.7,254.7 L970.0,257.8 L970.4,260.8 L972.7,264.4 L973.1,266.6 L972.4,269.4 L970.7,273.5 L970.5,273.9 L971.2,279.6 L974.0,280.0 L973.3,285.9 L971.9,289.1 L973.1,292.1 L973.1,293.4 L973.7,296.8 L972.8,300.2 L972.9,303.0 L975.7,308.6 L975.2,308.5 L973.9,314.6 L973.1,315.9 L974.3,320.5 L975.5,324.2 L974.8,324.7 L973.8,328.9 L975.3,332.9 L974.7,337.0 L973.8,337.8 L976.3,341.9 L975.2,343.5 L976.0,348.0" fill="none" stroke="#6688FF" stroke-width="9.5" stroke-linejoin="round" stroke-linecap="round" />
<path d="M1133.0,672.0 L1136.8,648.0 L1139.5,705.4 L1142.8,634.9 L1147.0,697.3 L1150.0,652.4 L1154.9,712.3 L1157.2,629.2 L1161.2,709.0 L1165.1,638.6 L1168.4,725.3 L1172.6,656.0 L1176.1,702.7 L1180.2,643.5 L1183.2,715.8 L1186.6,651.8 L1190.6,707.8 L1192.9,645.2 L1197.0,708.2 L1200.1,639.6 L1204.7,723.6 L1208.3,660.2 L1210.7,706.0 L1214.5,645.9 L1218.6,730.6 L1222.8,655.1 L1226.2,706.5 L1228.6,667.6 L1233.3,741.3 L1235.7,669.7 L1240.4,749.1 L1242.9,658.9 L1246.9,745.8 L1250.4,683.6 L1254.0,752.7 L1257.1,686.3 L1261.7,766.4 L1265.0,725.0" fill="none" stroke="#8A7AFF" stroke-width="6" stroke-linejoin="round" stroke-linecap="round" />
<path d="M1135.0,672.0 L1137.4,645.9 L1140.0,700.1 L1142.6,650.4 L1144.8,698.8 L1146.6,660.1 L1149.1,689.8 L1152.5,646.5 L1154.0,700.6 L1158.3,654.8 L1159.9,698.8 L1161.7,655.6 L1164.3,691.2 L1167.3,658.0 L1169.3,704.9 L1172.1,660.9 L1174.6,692.7 L1177.5,662.0 L1180.8,691.1 L1183.4,660.3 L1185.3,703.7 L1188.4,659.2 L1190.3,694.1 L1192.8,663.1 L1194.3,705.9 L1196.5,665.5 L1199.2,697.6 L1203.4,662.6 L1204.6,700.7 L1207.1,662.1 L1210.4,708.1 L1212.0,668.3 L1215.9,707.7 L1217.4,660.4 L1219.0,713.9 L1223.1,671.6 L1224.1,704.5 L1228.5,664.9 L1229.7,710.7 L1231.6,678.2 L1235.0,722.6 L1236.6,668.1 L1239.1,715.9 L1241.6,682.9 L1244.8,721.2 L1246.6,689.7 L1250.9,722.4 L1252.5,697.0 L1255.1,734.1 L1257.1,703.8 L1260.1,733.8 L1262.7,693.9 L1265.0,725.0" fill="none" stroke="#8A7AFF" stroke-width="6" stroke-linejoin="round" stroke-linecap="round" />
<line x1="1125.0" y1="383.0" x2="1128.6" y2="500.9" stroke="#8A7AFF" stroke-width="6" stroke-dasharray="6 5 10 9 10 7 4 9 6 7 6 9 6 5 6 5 10 5 8 12 6 5 10 5"/>
<line x1="1128.6" y1="500.9" x2="1133.0" y2="645.0" stroke="#8A7AFF" stroke-width="5" stroke-dasharray="60 8 60 8 45 3 80 3 30 3 80 8"/>
<path d="M1020.6,359.1 L1022.6,356.1 L1027.4,353.3 L1028.0,352.4 L1030.0,349.0 L1032.1,347.2 L1032.6,343.6 L1034.7,339.8 L1032.3,337.4 L1033.9,334.6 L1035.2,330.7 L1034.3,328.4 L1034.7,325.0 L1035.0,323.4 L1036.5,318.8 L1036.3,316.7 L1034.9,312.4 L1034.9,309.3 L1036.0,307.4 L1036.3,304.9 L1037.1,300.1 L1037.1,298.0 L1038.3,299.3 L1038.8,301.4 L1037.8,306.2 L1039.7,310.5 L1041.5,312.6 L1040.3,314.1 L1041.0,317.2 L1041.4,320.4 L1042.3,324.7 L1044.7,328.2 L1044.3,330.6 L1045.7,333.3 L1044.6,337.3 L1045.9,337.6 L1046.7,343.4 L1046.0,343.7 L1049.3,348.9 L1048.6,352.6 L1048.2,347.8 L1048.9,345.3 L1047.7,341.2 L1048.2,341.2 L1049.9,336.7 L1050.4,332.9 L1050.2,332.3 L1051.2,328.5 L1051.0,324.8 L1053.6,320.6 L1051.2,320.4 L1050.8,317.6 L1053.7,312.1 L1054.6,309.3 L1052.0,308.0 L1053.5,302.6 L1052.7,299.5 L1056.0,296.7 L1054.9,294.4 L1054.7,291.7 L1056.3,288.7 L1056.1,285.6 L1055.8,283.9 L1057.5,279.3 L1058.7,283.1 L1058.5,284.5 L1060.9,287.5 L1060.8,290.1 L1062.9,293.0 L1062.1,295.7 L1063.7,301.9 L1065.4,303.8 L1065.4,305.1 L1067.7,310.5 L1067.8,311.9 L1069.1,316.0 L1071.4,318.3 L1071.4,322.5 L1072.5,324.2 L1073.3,328.8 L1077.5,326.2 L1080.3,326.5 L1081.1,324.3 L1082.9,322.1 L1085.5,317.8 L1085.2,316.6 L1085.4,313.6 L1084.8,308.8 L1087.4,307.4 L1087.1,304.8 L1087.5,301.0 L1090.4,299.0 L1092.1,294.0 L1090.7,291.4 L1091.0,289.1 L1091.9,284.7 L1093.9,282.2 L1091.9,279.0 L1092.3,276.9 L1094.4,271.4 L1092.5,268.1 L1096.2,265.7 L1095.7,263.3 L1095.1,258.4 L1096.1,257.2 L1097.1,252.1 L1096.6,248.9 L1096.8,248.8 L1098.0,245.2 L1099.2,240.0 L1096.6,236.9 L1097.4,235.7 L1100.0,230.9 L1099.1,228.5 L1099.0,225.6 L1099.4,223.6 L1100.6,221.8 L1099.5,218.2 L1098.5,215.4 L1100.4,211.3 L1101.0,208.5 L1102.6,204.2 L1100.4,204.3 L1100.8,200.2 L1102.6,195.6 L1101.2,194.3 L1103.9,189.7 L1104.1,188.9 L1104.2,184.8 L1104.6,179.7 L1104.7,178.7 L1105.1,173.1 L1106.4,171.3 L1107.1,168.7 L1104.5,163.9 L1105.2,162.0 L1104.7,163.4 L1107.1,167.6 L1107.8,171.5 L1108.3,172.3 L1108.4,178.3 L1108.1,180.7 L1107.4,182.1 L1108.8,185.8 L1106.5,188.7 L1109.2,191.3 L1109.2,193.5 L1109.6,198.5 L1108.4,199.4 L1107.4,202.8 L1108.7,205.3 L1108.7,209.6 L1108.7,214.9 L1109.2,216.8 L1110.2,218.2 L1109.9,223.1 L1108.4,226.0 L1111.0,229.8 L1110.2,230.5 L1109.2,233.1 L1109.6,238.9 L1111.4,239.9 L1111.5,244.1 L1111.7,248.7 L1114.1,250.6 L1114.5,253.2 L1114.3,256.9 L1116.1,260.4 L1113.9,262.6 L1114.4,266.3 L1114.4,270.3 L1116.4,273.5 L1115.3,275.1 L1116.5,277.7 L1115.6,281.2 L1116.2,283.7 L1116.0,286.4 L1114.1,290.8 L1116.6,294.4 L1114.4,296.0 L1114.7,299.0 L1116.0,303.4 L1117.6,307.5 L1116.5,308.9 L1115.2,312.4 L1117.7,317.2 L1115.4,317.6 L1114.3,320.5 L1114.2,324.2 L1114.7,328.8 L1115.6,332.4 L1117.3,332.5 L1116.9,337.1 L1115.1,339.8 L1114.4,345.0 L1117.1,344.7 L1116.1,349.6 L1116.4,351.0 L1116.6,355.6 L1115.9,358.6 L1113.7,360.5 L1114.9,363.0 L1114.7,366.4 L1114.2,371.7 L1115.4,373.3 L1115.0,377.0" fill="none" stroke="#8A7AFF" stroke-width="9.5" stroke-linejoin="round" stroke-linecap="round" />
<path d="M1193.0,668.0 L1195.9,615.5 L1200.1,692.8 L1203.7,629.4 L1207.3,706.4 L1211.4,622.2 L1214.0,705.0 L1217.0,619.7 L1220.7,699.4 L1225.2,646.4 L1227.8,724.9 L1230.8,646.0 L1234.3,706.0 L1238.8,636.7 L1241.3,707.0 L1244.8,628.2 L1248.8,706.5 L1251.9,640.7 L1255.9,715.2 L1259.9,628.5 L1263.6,732.8 L1266.9,629.3 L1270.9,718.1 L1274.7,634.0 L1277.7,729.0 L1281.5,648.5 L1283.6,718.4 L1287.2,660.0 L1291.7,721.5 L1294.0,659.7 L1298.5,746.2 L1301.0,676.0 L1305.1,731.5 L1309.8,654.3 L1311.9,755.6 L1315.7,676.6 L1318.5,753.0 L1323.0,722.0" fill="none" stroke="#A46EFF" stroke-width="6" stroke-linejoin="round" stroke-linecap="round" />
<path d="M1195.0,668.0 L1198.2,642.3 L1199.2,697.9 L1201.9,644.1 L1204.9,698.2 L1208.1,636.4 L1209.7,686.7 L1212.5,637.6 L1215.0,694.0 L1218.5,641.5 L1221.0,696.8 L1221.8,645.8 L1225.0,703.5 L1228.6,657.9 L1230.3,687.9 L1233.4,649.7 L1234.6,696.2 L1237.1,654.7 L1239.9,700.5 L1242.2,645.6 L1244.7,696.8 L1248.4,641.5 L1250.5,708.0 L1252.0,654.4 L1255.2,708.4 L1257.1,662.7 L1260.7,693.8 L1262.2,645.5 L1264.9,709.2 L1268.5,650.8 L1270.9,706.3 L1271.8,657.9 L1275.5,704.7 L1277.6,662.7 L1279.4,701.4 L1282.6,660.8 L1285.8,706.2 L1288.8,662.7 L1291.2,718.5 L1293.2,661.8 L1296.0,718.0 L1298.1,674.0 L1300.5,726.3 L1302.1,681.0 L1305.1,719.2 L1308.5,680.1 L1310.1,737.6 L1312.5,678.1 L1314.6,742.9 L1318.3,687.1 L1321.3,753.3 L1323.0,722.0" fill="none" stroke="#A46EFF" stroke-width="6" stroke-linejoin="round" stroke-linecap="round" />
<line x1="1190.0" y1="371.0" x2="1191.8" y2="492.1" stroke="#A46EFF" stroke-width="6" stroke-dasharray="8 7 10 12 4 5 6 12 8 5 6 12 8 12 6 9 8 5 6 5 8 7 6 7"/>
<line x1="1191.8" y1="492.1" x2="1194.0" y2="640.0" stroke="#A46EFF" stroke-width="5" stroke-dasharray="80 8 80 3 80 5 45 3 30 8 30 5"/>
<path d="M1081.7,350.5 L1086.7,347.2 L1087.5,343.3 L1088.4,341.2 L1092.2,339.2 L1092.6,336.4 L1094.6,332.0 L1093.0,330.1 L1094.9,324.8 L1094.2,324.3 L1097.6,320.1 L1097.7,316.9 L1096.8,313.3 L1096.8,311.3 L1097.3,305.9 L1098.4,303.8 L1100.6,299.7 L1100.0,298.6 L1101.1,294.3 L1099.7,291.0 L1100.1,286.9 L1100.7,290.8 L1103.5,294.2 L1101.8,298.2 L1102.1,301.3 L1103.2,302.2 L1104.0,305.9 L1103.1,310.2 L1103.5,311.4 L1104.8,313.9 L1107.0,318.8 L1106.5,320.8 L1106.8,325.1 L1107.1,327.5 L1107.3,331.6 L1109.1,333.7 L1109.4,335.5 L1109.9,334.4 L1113.4,330.5 L1115.2,329.2 L1114.5,326.2 L1117.0,322.4 L1119.7,317.8 L1118.8,315.7 L1117.6,314.0 L1120.4,309.7 L1118.1,308.6 L1121.2,305.1 L1120.0,300.8 L1120.0,296.7 L1122.1,293.0 L1122.0,292.3 L1121.4,289.7 L1121.9,286.2 L1121.8,281.4 L1121.8,278.2 L1121.0,274.1 L1121.1,271.4 L1121.7,270.5 L1122.8,267.7 L1124.8,270.9 L1124.7,271.4 L1129.0,274.4 L1129.2,276.0 L1131.5,280.0 L1131.8,280.9 L1132.6,284.1 L1134.4,287.0 L1132.9,290.3 L1133.4,294.6 L1135.5,297.5 L1134.1,300.6 L1135.6,304.9 L1134.5,305.6 L1136.1,310.7 L1138.4,310.8 L1137.5,315.9 L1137.8,317.7 L1138.1,320.2 L1139.1,324.9 L1139.4,328.3 L1141.0,330.5 L1142.7,328.2 L1146.1,326.5 L1148.5,322.9 L1148.9,321.4 L1147.2,317.7 L1146.3,314.9 L1149.8,312.8 L1150.1,306.7 L1150.3,303.5 L1150.4,300.6 L1149.8,299.7 L1148.9,297.7 L1151.5,293.2 L1149.0,290.7 L1151.4,285.7 L1150.3,282.4 L1151.2,281.8 L1150.6,277.4 L1152.3,276.2 L1152.3,271.9 L1154.2,268.4 L1152.6,263.7 L1155.1,264.0 L1154.6,257.8 L1153.3,255.3 L1153.8,254.8 L1155.3,251.5 L1156.4,245.9 L1153.8,245.3 L1156.2,241.6 L1156.7,238.5 L1154.5,235.1 L1156.9,230.9 L1156.8,229.4 L1156.2,227.2 L1157.0,223.6 L1158.7,219.2 L1157.6,214.9 L1156.9,214.4 L1160.0,210.0 L1159.5,208.1 L1158.3,204.1 L1160.2,202.8 L1161.6,196.5 L1160.9,194.7 L1162.1,191.6 L1160.8,189.3 L1160.6,184.3 L1161.4,184.5 L1163.4,178.2 L1162.8,177.2 L1161.1,173.9 L1161.7,170.4 L1163.6,166.8 L1163.5,165.7 L1165.0,161.8 L1164.2,157.1 L1166.4,156.3 L1165.3,152.1 L1167.4,149.2 L1166.3,145.4 L1166.2,144.1 L1168.7,140.4 L1167.2,136.3 L1166.9,134.8 L1169.9,129.8 L1169.3,133.9 L1167.9,138.2 L1170.6,138.7 L1169.5,140.9 L1169.4,145.6 L1171.1,150.2 L1171.2,150.2 L1172.9,154.3 L1170.4,158.6 L1172.4,159.3 L1173.6,163.6 L1173.1,165.6 L1172.1,168.0 L1174.7,174.0 L1172.2,174.5 L1173.6,177.5 L1175.0,181.9 L1176.5,186.2 L1176.0,188.9 L1175.3,191.7 L1175.0,193.4 L1177.2,196.4 L1177.7,201.5 L1176.4,202.8 L1176.1,205.4 L1177.4,208.5 L1176.6,211.7 L1180.0,214.4 L1179.0,216.3 L1178.8,221.3 L1179.5,224.3 L1181.0,227.4 L1179.6,231.7 L1179.6,234.1 L1179.6,237.5 L1178.8,240.1 L1181.5,243.3 L1179.7,245.7 L1180.4,247.6 L1179.3,251.2 L1180.1,255.8 L1181.8,256.2 L1182.1,261.1 L1181.9,262.1 L1181.5,265.7 L1182.2,267.9 L1182.5,271.7 L1182.4,275.8 L1181.4,278.8 L1181.7,282.9 L1183.3,284.3 L1182.2,288.7 L1182.8,289.2 L1181.3,292.8 L1184.6,295.5 L1183.0,300.0" fill="none" stroke="#A46EFF" stroke-width="9.5" stroke-linejoin="round" stroke-linecap="round" />
<path d="M1085.8,349.3 L1089.7,347.9 L1089.9,342.7 L1090.8,341.9 L1093.4,339.2 L1093.6,334.1 L1095.7,333.5 L1099.5,331.7 L1097.2,327.1 L1098.0,323.4 L1099.9,319.4 L1100.8,316.6 L1098.1,316.0 L1099.6,310.5 L1099.5,310.2 L1101.1,304.9 L1101.6,303.7 L1102.4,301.3 L1103.1,298.5 L1101.0,292.5 L1101.5,290.3 L1104.6,293.1 L1105.9,295.3 L1104.1,301.4 L1103.7,304.3 L1104.8,304.3 L1106.5,307.8 L1105.2,313.0 L1106.8,315.8 L1109.1,317.3 L1108.9,320.2 L1109.8,323.5 L1109.6,326.4 L1109.4,330.7 L1112.1,333.8 L1109.9,334.7 L1112.0,339.7 L1111.7,343.4 L1111.3,347.4 L1113.0,342.0 L1115.7,340.8 L1117.7,336.2 L1116.0,332.6 L1117.2,330.5 L1119.9,328.6 L1119.3,323.1 L1120.4,323.1 L1121.1,320.1 L1122.7,317.6 L1124.0,311.2 L1124.6,309.0 L1124.2,306.3 L1122.1,304.0 L1124.2,301.5 L1123.6,299.4 L1124.3,295.1 L1126.7,290.2 L1126.9,289.7 L1126.4,286.6 L1128.0,283.7 L1125.4,279.7 L1125.8,276.8 L1127.3,273.9 L1131.1,275.3 L1133.9,274.2 L1132.9,277.7 L1134.5,281.8 L1136.5,284.2 L1135.6,286.6 L1136.5,289.4 L1136.2,294.4 L1138.7,296.4 L1140.9,298.7 L1140.5,302.9 L1142.4,305.5 L1140.9,310.6 L1140.3,313.5 L1143.0,316.1 L1145.0,320.2 L1142.6,321.8 L1143.6,324.6 L1148.2,323.5 L1148.5,318.2 L1147.9,317.7 L1150.8,311.8 L1149.4,310.7 L1151.3,307.3 L1150.7,302.8 L1151.2,299.5 L1151.7,299.5 L1151.2,295.9 L1153.9,291.5 L1151.7,289.7 L1152.5,285.0 L1154.9,283.4 L1152.5,279.8 L1154.7,276.0 L1153.5,274.7 L1155.0,269.0 L1156.4,268.8 L1156.4,262.7 L1155.3,261.4 L1155.3,257.4 L1156.2,254.0 L1158.0,250.6 L1157.1,248.6 L1157.1,247.3 L1159.8,242.8 L1157.4,240.3 L1159.6,235.8 L1159.2,233.4 L1159.7,232.8 L1159.7,226.9 L1161.3,225.3 L1159.7,221.4 L1162.1,219.3 L1159.7,217.9 L1162.2,212.1 L1163.3,209.0 L1161.4,207.0 L1162.0,203.3 L1164.3,200.7 L1164.0,198.4 L1162.2,197.0 L1163.0,191.0 L1163.2,188.2 L1163.7,186.3 L1164.9,182.3 L1164.5,179.9 L1164.9,178.2 L1167.2,173.9 L1165.8,170.3 L1168.1,168.0 L1167.7,164.1 L1169.6,161.4 L1167.7,159.4 L1169.2,155.9 L1170.4,153.3 L1169.5,148.8 L1170.8,145.8 L1170.0,142.5 L1171.3,141.4 L1172.6,139.2 L1170.9,143.0 L1173.9,145.9 L1172.4,147.7 L1172.3,149.5 L1174.7,153.5 L1173.0,155.6 L1174.3,158.5 L1175.9,161.5 L1176.2,166.2 L1178.1,170.5 L1177.2,170.5 L1176.4,175.9 L1178.8,178.9 L1179.4,179.7 L1179.7,183.5 L1179.1,188.5 L1178.4,192.3 L1180.6,192.2 L1180.0,198.4 L1179.0,199.3 L1180.7,203.7 L1180.0,206.1 L1179.3,207.9 L1181.7,212.6 L1182.8,215.4 L1183.0,220.4 L1183.0,221.0 L1182.5,226.8 L1181.9,229.2 L1181.8,230.6 L1180.9,234.5 L1182.4,237.8 L1182.3,240.0 L1183.6,244.2 L1181.9,245.9 L1184.3,249.1 L1184.6,251.3 L1185.0,254.7 L1184.0,257.5 L1185.0,260.4 L1183.0,266.6 L1184.0,269.7 L1184.6,272.8 L1186.4,272.9 L1186.0,279.0 L1186.3,278.7 L1186.1,282.5 L1187.7,287.3 L1187.2,290.7 L1185.4,294.0 L1185.7,295.1 L1187.5,299.0 L1187.1,301.8" fill="none" stroke="#A46EFF" stroke-width="8" stroke-linejoin="round" stroke-linecap="round" />
<path d="M1224.0,672.0 L1228.2,618.9 L1231.2,728.7 L1234.6,638.9 L1237.5,735.9 L1241.7,609.6 L1244.1,717.0 L1248.0,633.7 L1252.9,728.4 L1255.8,614.2 L1258.4,718.8 L1262.8,624.0 L1265.9,732.9 L1269.1,617.1 L1272.7,717.7 L1277.5,628.6 L1280.5,713.2 L1283.2,623.9 L1287.4,710.1 L1291.5,622.4 L1294.1,737.5 L1297.8,639.5 L1300.9,745.5 L1305.0,646.2 L1307.7,749.0 L1311.1,657.2 L1315.6,734.3 L1318.2,655.5 L1322.7,742.7 L1326.3,642.6 L1329.4,728.8 L1333.8,644.1 L1337.1,746.1 L1340.8,658.7 L1343.9,749.7 L1346.9,658.1 L1349.9,751.8 L1354.0,725.0" fill="none" stroke="#C058FF" stroke-width="6" stroke-linejoin="round" stroke-linecap="round" />
<path d="M1226.0,672.0 L1227.7,652.8 L1231.3,692.2 L1234.0,654.8 L1236.7,706.8 L1239.0,638.9 L1242.0,712.0 L1244.5,643.9 L1245.3,693.3 L1248.0,658.0 L1251.0,700.4 L1254.1,644.1 L1255.9,694.3 L1258.4,648.1 L1261.3,695.8 L1264.0,652.8 L1267.1,705.6 L1267.8,640.0 L1271.6,712.6 L1272.9,656.2 L1275.9,706.6 L1279.5,646.4 L1280.8,705.1 L1284.1,652.8 L1286.4,715.5 L1288.4,658.4 L1291.3,717.6 L1293.6,665.0 L1296.6,703.9 L1298.3,665.2 L1301.2,701.3 L1303.9,644.3 L1307.2,708.9 L1308.5,666.2 L1310.3,719.7 L1313.6,651.0 L1315.9,702.3 L1318.6,661.9 L1320.5,719.3 L1324.8,672.8 L1326.3,722.8 L1328.5,681.2 L1331.8,740.1 L1333.0,676.3 L1337.0,732.0 L1339.1,683.2 L1341.7,749.3 L1343.0,683.7 L1347.0,733.6 L1349.7,694.1 L1352.3,757.9 L1354.0,725.0" fill="none" stroke="#C058FF" stroke-width="6" stroke-linejoin="round" stroke-linecap="round" />
<line x1="1221.5" y1="363.0" x2="1224.0" y2="485.4" stroke="#C058FF" stroke-width="6" stroke-dasharray="10 7 10 12 8 5 10 9 4 5 4 7 10 5 10 7 8 9 8 9 4 12 10 9"/>
<line x1="1224.0" y1="485.4" x2="1227.0" y2="635.0" stroke="#C058FF" stroke-width="5" stroke-dasharray="45 3 60 5 80 3 45 5 45 3 80 5"/>
<path d="M1112.9,352.9 L1112.2,348.0 L1116.0,347.5 L1115.9,342.4 L1118.7,341.1 L1121.2,339.5 L1122.5,335.5 L1122.4,331.7 L1125.0,328.8 L1123.3,327.1 L1124.7,322.1 L1123.4,319.2 L1124.9,318.3 L1127.6,313.8 L1125.4,309.9 L1125.7,310.0 L1127.6,307.1 L1129.3,300.7 L1129.0,301.1 L1129.4,296.5 L1129.6,291.7 L1128.9,290.1 L1129.2,286.9 L1128.9,285.9 L1130.8,287.4 L1132.5,290.2 L1132.9,292.9 L1133.4,298.1 L1132.3,301.7 L1134.5,304.1 L1133.7,306.9 L1136.0,307.6 L1136.5,311.1 L1134.1,317.0 L1135.2,319.0 L1135.7,321.8 L1137.6,326.0 L1136.3,328.1 L1139.7,330.5 L1137.4,334.9 L1138.8,337.2 L1141.6,333.2 L1142.5,333.2 L1142.2,330.9 L1142.7,326.6 L1146.2,324.1 L1146.2,319.4 L1150.0,318.3 L1146.9,316.9 L1148.3,311.5 L1150.1,309.7 L1147.7,306.6 L1149.4,303.1 L1151.1,300.9 L1149.2,295.7 L1149.1,293.4 L1151.8,292.4 L1150.7,287.1 L1151.4,284.8 L1151.2,281.0 L1152.0,277.3 L1150.5,276.5 L1153.0,272.0 L1151.8,269.8 L1151.5,267.7 L1152.5,264.3 L1151.6,259.0 L1155.3,262.2 L1157.5,265.2 L1160.0,267.8 L1160.5,271.5 L1162.8,275.2 L1163.8,279.2 L1164.2,282.3 L1163.4,284.3 L1163.7,286.3 L1163.5,288.8 L1164.5,294.2 L1166.8,297.3 L1165.4,300.2 L1166.3,302.3 L1167.9,304.6 L1168.9,310.3 L1168.8,310.4 L1168.5,314.5 L1169.9,319.3 L1170.9,320.5 L1170.0,322.3 L1170.7,327.9 L1169.7,329.7 L1172.5,329.6 L1174.3,324.8 L1176.4,323.7 L1176.5,321.4 L1178.2,315.7 L1178.6,314.1 L1180.7,311.2 L1179.1,308.0 L1179.4,304.8 L1179.0,299.8 L1178.7,300.1 L1182.0,295.7 L1181.6,290.8 L1181.7,289.4 L1181.1,286.2 L1183.5,283.4 L1180.6,280.5 L1180.7,278.2 L1183.3,275.0 L1183.8,271.5 L1183.9,267.9 L1183.0,263.0 L1183.6,260.8 L1184.5,259.3 L1186.3,254.8 L1186.3,252.5 L1186.6,248.5 L1186.5,246.2 L1186.8,242.4 L1184.9,240.7 L1187.4,235.9 L1185.2,233.7 L1186.4,231.6 L1186.3,226.3 L1188.5,225.0 L1189.4,222.1 L1188.2,218.0 L1189.8,215.6 L1190.5,213.9 L1188.1,210.2 L1188.3,205.2 L1188.6,204.2 L1188.9,201.2 L1189.4,199.3 L1190.4,194.4 L1191.9,191.8 L1191.6,189.3 L1191.4,185.4 L1190.8,183.7 L1191.8,180.9 L1192.5,177.5 L1191.3,174.9 L1192.1,171.9 L1193.8,168.3 L1193.3,165.7 L1192.7,161.7 L1195.7,158.0 L1192.8,153.9 L1195.8,153.3 L1195.0,147.8 L1196.1,145.9 L1197.4,144.0 L1195.9,141.7 L1197.9,138.0 L1196.0,134.8 L1198.7,131.4 L1198.7,129.3 L1197.5,127.0 L1199.9,124.0 L1198.0,119.8 L1198.5,118.1 L1201.4,113.2 L1199.2,110.0 L1201.5,111.7 L1199.6,117.5 L1200.4,119.8 L1202.1,123.7 L1201.0,125.7 L1204.2,129.1 L1204.0,130.4 L1203.1,133.4 L1202.1,137.3 L1204.6,140.5 L1203.7,144.4 L1203.8,146.8 L1203.6,150.1 L1206.5,150.8 L1207.1,154.2 L1205.5,157.1 L1205.0,163.0 L1206.7,162.5 L1206.6,167.3 L1206.6,171.0 L1207.2,173.6 L1206.5,175.1 L1208.9,180.3 L1207.8,182.9 L1208.5,187.4 L1208.2,189.3 L1208.1,193.6 L1210.5,195.3 L1208.9,199.0 L1209.6,201.4 L1210.8,204.4 L1211.0,205.8 L1209.9,210.4 L1212.6,213.0 L1210.2,215.4 L1213.2,220.0 L1211.7,223.5 L1211.3,224.7 L1212.0,228.5 L1211.6,231.0 L1211.0,234.6 L1212.0,236.8 L1211.7,240.5 L1213.8,246.2 L1214.6,247.3 L1213.4,251.4 L1215.0,252.6 L1212.9,255.6 L1215.5,261.6 L1213.8,262.0 L1212.8,264.6 L1213.0,268.0 L1213.8,271.6 L1214.8,275.7 L1216.1,279.9 L1215.3,280.2 L1213.6,284.3 L1213.4,288.3 L1214.4,291.2 L1216.4,292.3 L1215.3,297.0" fill="none" stroke="#C058FF" stroke-width="9.5" stroke-linejoin="round" stroke-linecap="round" />
<path d="M1115.4,361.1 L1115.1,358.4 L1115.9,356.0 L1117.5,354.1 L1119.3,350.0 L1118.9,346.6 L1120.0,344.4 L1122.2,340.5 L1123.8,339.0 L1125.7,334.5 L1125.6,331.3 L1124.7,331.0 L1126.0,327.0 L1127.7,323.2 L1127.2,321.1 L1129.4,316.7 L1128.2,315.2 L1127.6,310.2 L1128.6,308.7 L1130.7,305.3 L1129.4,302.2 L1131.0,300.1 L1132.8,296.4 L1129.9,295.3 L1130.8,291.1 L1132.3,286.5 L1134.0,282.9 L1135.3,280.8 L1132.7,278.0 L1133.6,280.9 L1135.7,284.9 L1137.0,288.9 L1134.3,290.0 L1138.0,292.5 L1135.4,297.8 L1137.8,299.5 L1139.0,301.7 L1139.2,306.4 L1137.8,306.7 L1137.5,309.5 L1139.2,315.8 L1138.6,315.5 L1139.7,320.5 L1141.1,321.5 L1142.3,327.2 L1141.9,329.7 L1140.7,332.1 L1143.0,329.2 L1146.9,326.5 L1148.5,323.2 L1148.3,323.6 L1151.1,319.9 L1152.8,316.0 L1151.7,312.2 L1151.0,311.8 L1151.7,309.2 L1152.6,304.9 L1154.0,303.1 L1153.4,299.8 L1154.2,295.1 L1151.9,291.4 L1151.6,288.3 L1152.4,287.5 L1154.9,284.9 L1153.8,281.2 L1153.0,277.5 L1155.3,274.3 L1154.8,272.6 L1156.1,268.1 L1156.4,265.4 L1155.8,260.4 L1156.4,257.7 L1156.7,257.7 L1155.0,257.3 L1159.4,261.2 L1161.6,262.5 L1160.6,265.5 L1161.6,270.5 L1165.9,270.9 L1165.9,275.5 L1166.0,277.0 L1164.7,281.7 L1167.8,282.6 L1168.5,286.1 L1167.5,289.7 L1168.7,294.8 L1168.4,295.0 L1169.3,299.9 L1170.6,302.0 L1171.5,307.3 L1172.3,309.7 L1172.4,311.0 L1173.1,315.8 L1173.6,319.0 L1170.7,321.5 L1174.1,323.8 L1171.9,327.7 L1172.9,330.5 L1173.0,333.4 L1175.8,337.5 L1179.1,335.1 L1180.2,332.7 L1183.2,329.5 L1184.0,326.7 L1181.4,322.5 L1184.6,321.8 L1183.6,318.5 L1185.3,312.4 L1182.1,311.6 L1182.5,307.8 L1184.2,304.2 L1186.0,300.8 L1185.9,300.6 L1184.0,297.2 L1183.8,291.3 L1185.6,288.0 L1186.1,285.8 L1187.3,284.0 L1184.7,282.0 L1186.7,276.2 L1186.7,275.6 L1186.4,271.9 L1188.2,268.3 L1187.8,265.8 L1185.6,263.5 L1186.5,258.1 L1188.8,257.9 L1187.4,251.9 L1189.3,249.3 L1189.5,248.2 L1188.9,245.4 L1188.2,240.1 L1188.9,239.4 L1190.9,236.0 L1190.3,231.2 L1191.4,230.2 L1189.9,225.7 L1190.4,225.0 L1192.0,219.2 L1190.6,216.6 L1191.3,214.3 L1193.7,211.5 L1191.8,208.3 L1193.5,205.7 L1191.4,202.4 L1192.8,198.0 L1193.4,196.3 L1195.8,192.0 L1195.1,190.5 L1196.2,186.9 L1195.1,185.5 L1194.0,181.0 L1195.5,177.3 L1195.8,176.0 L1197.8,170.7 L1195.1,170.7 L1196.9,165.1 L1196.3,163.4 L1197.5,158.8 L1200.0,156.3 L1197.6,155.2 L1197.9,152.9 L1198.8,149.3 L1199.0,146.5 L1202.2,141.5 L1201.8,137.9 L1200.4,137.1 L1201.7,134.0 L1204.6,129.7 L1203.6,127.8 L1202.3,125.7 L1204.0,122.0 L1205.3,117.4 L1206.7,114.7 L1207.3,118.8 L1204.7,122.9 L1204.8,123.6 L1205.5,127.2 L1208.2,131.0 L1207.9,135.5 L1206.6,135.6 L1207.5,141.2 L1208.8,144.8 L1209.2,144.9 L1209.1,149.5 L1210.8,154.1 L1211.6,156.0 L1211.7,159.1 L1210.0,162.6 L1211.8,164.0 L1212.9,167.1 L1210.1,172.1 L1213.3,175.5 L1212.6,177.4 L1213.5,178.4 L1211.7,181.6 L1213.4,185.5 L1214.1,188.2 L1213.0,190.5 L1212.7,193.5 L1215.0,199.2 L1214.5,199.9 L1215.1,203.0 L1216.5,207.3 L1214.7,209.9 L1214.2,214.2 L1216.6,216.4 L1214.8,219.5 L1218.0,223.9 L1215.5,227.0 L1216.6,228.7 L1216.2,232.9 L1215.8,236.5 L1216.4,236.0 L1218.8,242.2 L1218.0,242.0 L1218.8,246.1 L1219.1,250.6 L1216.8,251.0 L1219.4,256.1 L1218.0,258.0 L1219.2,261.7 L1218.9,265.5 L1219.6,269.4 L1219.0,272.2 L1217.8,272.4 L1220.4,277.2 L1220.6,280.6 L1220.5,282.0 L1219.5,286.4 L1220.4,288.8 L1221.2,291.5 L1220.3,294.9" fill="none" stroke="#C058FF" stroke-width="8" stroke-linejoin="round" stroke-linecap="round" />
<path d="M1270.0,678.0 L1274.5,630.8 L1277.9,743.8 L1281.2,642.2 L1285.1,729.5 L1287.1,604.5 L1290.8,730.3 L1294.4,629.4 L1297.6,742.4 L1301.8,644.0 L1305.2,716.3 L1309.7,611.7 L1311.5,722.8 L1316.9,615.7 L1318.8,742.1 L1323.9,643.6 L1325.7,758.4 L1330.0,646.9 L1334.2,728.7 L1337.8,639.2 L1340.8,724.4 L1344.8,612.7 L1347.1,722.5 L1351.2,628.7 L1354.9,736.1 L1359.4,632.4 L1362.2,731.5 L1365.7,650.8 L1368.4,760.2 L1373.1,647.3 L1376.8,733.5 L1379.8,656.4 L1383.9,767.4 L1386.8,679.3 L1390.1,747.6 L1393.0,672.5 L1397.4,765.8 L1401.0,725.0" fill="none" stroke="#D848FF" stroke-width="6" stroke-linejoin="round" stroke-linecap="round" />
<path d="M1272.0,678.0 L1275.4,642.2 L1277.1,707.0 L1280.5,641.2 L1283.1,723.5 L1284.0,653.1 L1286.3,723.7 L1290.2,649.8 L1292.0,713.3 L1294.4,637.4 L1298.0,714.6 L1299.5,659.6 L1302.5,713.7 L1304.8,658.4 L1306.6,702.5 L1309.2,655.3 L1312.0,728.0 L1315.6,657.8 L1317.1,722.4 L1320.3,643.3 L1322.8,713.5 L1324.6,659.9 L1327.5,727.5 L1329.5,642.8 L1331.8,707.9 L1335.4,647.7 L1336.9,705.1 L1340.3,646.1 L1341.9,729.3 L1344.6,653.2 L1348.1,725.8 L1349.9,653.2 L1352.2,732.7 L1355.8,668.9 L1357.1,710.0 L1360.8,658.7 L1363.5,733.1 L1365.9,672.6 L1367.4,736.4 L1370.2,658.5 L1372.2,726.1 L1375.7,663.0 L1378.2,747.2 L1380.2,684.1 L1384.2,734.3 L1385.0,687.3 L1387.5,741.4 L1391.1,685.9 L1392.8,754.1 L1395.9,698.4 L1398.4,759.7 L1401.0,725.0" fill="none" stroke="#D848FF" stroke-width="6" stroke-linejoin="round" stroke-linecap="round" />
<line x1="1268.0" y1="347.6" x2="1269.8" y2="474.7" stroke="#D848FF" stroke-width="6" stroke-dasharray="6 9 10 7 10 12 6 7 10 7 6 12 10 12 8 12 6 9 10 5 8 7 10 12"/>
<line x1="1269.8" y1="474.7" x2="1272.0" y2="630.0" stroke="#D848FF" stroke-width="5" stroke-dasharray="30 5 30 5 30 5 80 3 60 3 30 8"/>
<path d="M1155.6,346.4 L1158.8,346.0 L1160.2,341.1 L1163.1,339.1 L1166.2,337.8 L1165.7,336.1 L1167.9,333.4 L1167.5,329.7 L1169.4,325.8 L1168.8,324.7 L1166.5,318.8 L1167.0,318.3 L1169.1,315.2 L1168.1,311.7 L1168.3,306.5 L1170.7,305.9 L1167.5,301.9 L1171.0,298.9 L1168.5,296.2 L1171.3,293.9 L1170.1,288.3 L1168.7,285.7 L1171.2,283.1 L1169.1,282.1 L1169.4,277.2 L1172.5,274.7 L1171.7,278.2 L1174.1,281.4 L1174.6,284.9 L1172.4,287.3 L1173.8,288.2 L1174.5,291.5 L1177.5,296.5 L1177.0,299.0 L1178.2,300.2 L1179.0,304.8 L1177.9,306.7 L1179.9,309.6 L1180.3,312.6 L1182.8,315.0 L1181.3,321.4 L1183.5,321.6 L1181.2,327.5 L1181.5,330.8 L1181.8,332.2 L1184.7,338.3 L1185.8,338.7 L1185.4,338.4 L1184.2,332.5 L1184.8,329.6 L1184.9,326.3 L1187.1,323.4 L1185.1,321.2 L1185.2,318.8 L1186.2,316.5 L1188.1,312.6 L1187.2,308.1 L1186.5,306.1 L1189.8,301.8 L1187.3,299.6 L1189.9,296.7 L1189.6,295.7 L1190.7,292.1 L1190.6,286.7 L1189.8,285.5 L1192.0,280.7 L1192.4,277.3 L1191.9,274.4 L1192.2,271.1 L1191.5,270.0 L1194.3,266.9 L1192.2,264.3 L1194.5,261.5 L1194.8,256.3 L1194.7,255.2 L1195.7,255.3 L1195.1,260.6 L1196.0,262.5 L1199.9,266.9 L1197.5,270.1 L1198.5,272.0 L1202.0,273.1 L1200.4,278.5 L1203.4,281.4 L1204.6,282.4 L1203.0,287.8 L1204.4,290.0 L1205.1,293.9 L1206.1,297.3 L1207.5,298.2 L1208.7,303.0 L1211.0,305.8 L1211.4,309.4 L1212.8,310.9 L1216.1,311.8 L1216.6,311.0 L1221.2,313.1 L1220.2,308.8 L1220.7,307.2 L1222.7,303.0 L1223.9,300.2 L1225.5,296.4 L1226.7,293.0 L1228.0,289.1 L1226.7,287.5 L1229.5,282.7 L1228.5,280.7 L1230.3,278.3 L1230.3,273.1 L1230.9,271.4 L1230.3,269.1 L1230.3,264.5 L1232.5,262.1 L1231.3,260.3 L1231.9,256.9 L1234.3,253.2 L1234.8,249.7 L1233.2,247.0 L1236.3,245.4 L1236.7,239.4 L1235.9,237.9 L1235.5,236.5 L1235.3,233.4 L1236.5,228.8 L1238.5,225.6 L1238.9,223.2 L1238.1,221.1 L1236.9,215.1 L1239.3,215.1 L1238.2,209.0 L1240.5,208.9 L1241.0,205.6 L1238.0,201.5 L1241.6,196.8 L1241.4,194.4 L1239.1,191.7 L1240.3,189.6 L1241.3,186.5 L1243.2,183.9 L1243.4,179.8 L1241.7,177.5 L1243.4,174.0 L1243.7,172.9 L1242.1,170.0 L1243.1,165.9 L1241.9,162.9 L1244.1,159.6 L1245.6,156.0 L1246.0,152.2 L1243.9,151.7 L1243.1,146.9 L1244.9,144.8 L1246.2,142.2 L1246.5,138.8 L1245.9,136.1 L1247.2,132.0 L1246.5,128.9 L1246.8,124.7 L1246.8,121.0 L1249.5,119.5 L1250.1,117.2 L1247.5,112.7 L1249.8,117.4 L1249.6,119.1 L1250.7,122.7 L1249.1,124.6 L1248.5,129.1 L1250.5,132.1 L1249.0,133.8 L1250.5,136.1 L1251.2,140.3 L1249.1,144.6 L1250.1,146.2 L1248.7,150.1 L1251.9,151.7 L1249.8,155.7 L1251.3,157.8 L1249.8,163.6 L1251.7,163.7 L1249.7,166.9 L1249.7,170.8 L1250.4,173.7 L1252.3,177.1 L1252.9,179.2 L1250.7,182.7 L1253.7,185.3 L1253.3,189.0 L1251.5,194.5 L1254.1,197.9 L1253.9,200.0 L1252.4,201.4 L1252.6,205.5 L1253.7,209.3 L1255.0,212.8 L1257.2,216.8 L1255.0,218.3 L1256.1,222.8 L1257.8,224.6 L1258.5,228.3 L1257.9,230.4 L1257.9,236.2 L1259.6,237.9 L1258.9,242.6 L1256.8,245.0 L1259.1,247.5 L1258.6,249.4 L1257.3,253.9 L1258.9,255.8 L1260.6,257.7 L1260.4,262.9 L1259.7,266.6 L1260.9,267.5 L1259.1,270.4 L1258.7,275.3 L1258.3,277.4 L1259.5,282.0 L1259.8,285.3 L1258.3,287.7 L1260.1,289.2 L1259.5,294.7 L1258.8,296.1 L1260.7,299.3 L1258.4,302.1 L1260.4,305.2 L1260.4,309.1 L1260.4,310.3 L1260.2,314.3 L1259.1,318.2 L1258.6,322.3 L1258.7,324.6 L1260.2,325.5 L1258.4,329.8 L1259.6,333.6 L1259.9,337.5 L1258.0,338.6 L1257.8,342.7 L1257.5,345.2 L1259.7,348.5 L1257.4,350.4 L1260.3,354.6 L1260.4,356.4 L1259.0,359.6 L1260.2,364.5 L1260.0,365.5 L1258.5,370.0" fill="none" stroke="#D848FF" stroke-width="9.5" stroke-linejoin="round" stroke-linecap="round" />
<path d="M1159.0,354.0 L1162.7,352.6 L1165.1,349.4 L1166.5,346.8 L1167.6,344.0 L1169.9,341.4 L1170.1,340.5 L1170.6,336.1 L1168.5,333.6 L1169.6,331.8 L1168.6,328.3 L1171.9,326.3 L1170.3,321.2 L1170.5,320.3 L1169.9,317.2 L1170.2,313.7 L1172.0,310.7 L1170.2,308.4 L1172.9,305.2 L1171.9,300.6 L1172.3,297.7 L1173.0,296.8 L1170.7,291.0 L1174.3,288.5 L1171.2,286.3 L1171.3,281.6 L1171.3,278.9 L1175.5,283.8 L1174.7,284.8 L1174.2,288.1 L1177.1,293.0 L1178.1,295.4 L1178.3,296.2 L1181.2,300.8 L1181.9,302.6 L1182.6,307.4 L1184.1,308.8 L1183.9,313.2 L1182.9,315.5 L1184.4,317.8 L1185.4,323.1 L1186.2,326.7 L1187.6,327.9 L1185.0,333.2 L1185.6,335.1 L1188.8,339.7 L1185.9,343.0 L1189.6,345.7 L1187.0,343.1 L1188.1,340.1 L1189.5,336.8 L1190.3,332.6 L1188.4,329.1 L1189.5,327.6 L1191.3,322.1 L1189.5,322.0 L1191.1,319.4 L1192.5,316.1 L1192.0,312.5 L1192.0,309.7 L1190.8,305.4 L1191.7,301.0 L1194.3,301.2 L1192.1,295.6 L1192.2,292.1 L1195.6,289.8 L1194.1,288.0 L1193.1,283.6 L1196.0,279.8 L1195.7,277.4 L1195.2,274.4 L1194.3,272.7 L1197.2,270.9 L1197.7,268.3 L1197.7,262.0 L1198.2,267.2 L1197.9,269.3 L1200.3,272.7 L1204.0,275.1 L1203.4,277.7 L1203.9,281.6 L1206.3,285.5 L1206.3,286.1 L1205.9,289.3 L1207.3,292.9 L1211.0,297.2 L1208.5,301.2 L1211.5,304.3 L1211.2,304.3 L1213.6,309.8 L1214.1,310.0 L1215.2,313.1 L1217.1,314.3 L1219.9,312.2 L1223.1,312.5 L1224.4,310.0 L1224.3,307.1 L1227.1,303.6 L1227.5,300.0 L1228.5,295.1 L1229.1,291.0 L1229.2,289.9 L1232.1,285.9 L1232.4,282.5 L1232.6,280.7 L1232.0,277.8 L1232.4,275.0 L1234.3,272.5 L1234.7,267.3 L1236.5,264.1 L1233.7,261.4 L1236.6,259.1 L1235.6,254.0 L1235.5,253.0 L1235.4,248.7 L1238.1,245.1 L1238.4,243.4 L1240.0,241.7 L1238.8,235.2 L1238.9,235.3 L1241.1,231.3 L1240.6,227.3 L1242.2,224.2 L1240.0,222.6 L1241.1,217.1 L1242.2,215.8 L1242.4,210.9 L1243.1,208.9 L1241.8,207.8 L1241.6,202.0 L1244.3,201.2 L1242.5,197.9 L1242.5,193.4 L1244.4,189.8 L1242.7,190.2 L1246.0,184.0 L1244.6,184.1 L1243.7,179.1 L1245.5,176.9 L1247.3,173.4 L1246.3,171.7 L1246.7,166.0 L1246.5,165.7 L1247.3,163.2 L1246.4,157.5 L1246.1,153.9 L1246.7,153.7 L1248.4,148.8 L1248.8,148.1 L1249.3,143.1 L1249.2,141.1 L1248.3,136.2 L1252.0,133.6 L1249.8,131.9 L1250.0,126.7 L1253.2,124.0 L1251.9,122.5 L1253.0,125.1 L1254.7,126.9 L1253.4,130.6 L1254.5,134.6 L1252.5,139.0 L1252.5,142.0 L1253.0,143.5 L1253.3,146.3 L1253.1,148.4 L1253.1,154.6 L1254.3,154.5 L1254.8,159.8 L1254.6,162.4 L1253.8,167.0 L1254.2,168.9 L1255.9,172.7 L1254.7,173.8 L1257.0,176.0 L1255.5,179.3 L1257.5,185.3 L1255.4,185.4 L1257.8,189.3 L1257.9,193.7 L1258.3,196.9 L1258.5,198.6 L1256.3,201.3 L1258.5,204.4 L1256.8,208.7 L1259.9,212.0 L1260.2,213.3 L1260.6,218.5 L1257.5,221.1 L1258.5,222.7 L1261.1,225.5 L1261.2,230.9 L1259.3,231.7 L1259.4,236.5 L1259.1,239.9 L1262.3,240.4 L1261.3,244.0 L1262.0,247.2 L1261.4,251.9 L1262.1,253.2 L1260.8,255.5 L1263.5,260.2 L1263.5,263.3 L1263.3,264.6 L1263.7,267.0 L1261.8,270.5 L1264.6,275.6 L1263.9,278.1 L1263.6,279.0 L1261.4,284.3 L1262.8,285.3 L1261.1,288.8 L1263.2,292.8 L1263.7,296.6 L1264.1,299.0 L1262.5,302.3 L1260.6,303.4 L1260.4,306.6 L1263.0,310.5 L1262.4,315.0 L1263.5,316.1 L1263.6,318.3 L1262.6,321.9 L1261.4,325.6 L1261.8,327.6 L1261.5,331.2 L1260.1,335.3 L1260.3,339.4 L1260.3,341.1 L1261.3,345.5 L1262.4,348.5 L1260.6,349.1 L1261.6,352.0 L1262.0,354.3 L1260.4,358.3 L1260.5,362.9 L1259.9,364.8 L1261.3,369.3 L1260.7,371.3" fill="none" stroke="#D848FF" stroke-width="8" stroke-linejoin="round" stroke-linecap="round" />
<path d="M1302.0,680.0 L1306.3,620.9 L1308.6,719.8 L1312.6,625.5 L1316.2,756.8 L1319.4,618.2 L1323.8,752.1 L1325.8,636.7 L1329.8,727.7 L1333.2,608.9 L1337.4,746.3 L1339.9,606.6 L1343.8,753.8 L1347.9,648.3 L1351.4,758.2 L1355.6,651.7 L1358.5,736.9 L1361.3,620.1 L1364.9,738.9 L1367.9,651.1 L1372.1,754.5 L1374.9,614.8 L1378.7,735.4 L1383.4,612.0 L1386.3,764.8 L1389.7,653.1 L1392.4,733.6 L1396.4,634.5 L1400.4,733.6 L1404.8,622.5 L1406.6,756.5 L1410.1,636.1 L1413.6,765.6 L1418.0,631.3 L1421.0,766.5 L1425.9,657.9 L1427.9,771.7 L1432.0,722.0" fill="none" stroke="#EE34FF" stroke-width="6" stroke-linejoin="round" stroke-linecap="round" />
<path d="M1304.0,680.0 L1307.3,646.3 L1309.3,710.8 L1311.2,635.2 L1314.1,723.7 L1315.7,658.3 L1319.0,728.0 L1322.4,650.1 L1324.1,718.1 L1327.1,655.3 L1329.0,709.5 L1331.8,642.2 L1333.5,706.6 L1337.1,644.6 L1340.1,706.3 L1341.0,661.4 L1344.0,706.5 L1347.4,648.0 L1349.6,709.2 L1351.8,663.4 L1353.9,712.3 L1357.1,665.5 L1359.7,709.2 L1361.9,657.9 L1364.2,724.7 L1367.6,643.0 L1368.9,715.0 L1371.0,643.5 L1374.1,719.5 L1376.0,641.2 L1379.8,726.9 L1380.8,648.9 L1383.9,735.8 L1387.1,645.9 L1390.0,721.3 L1391.5,651.6 L1394.4,731.4 L1397.1,653.5 L1398.7,737.4 L1400.9,663.9 L1404.9,741.3 L1406.0,658.1 L1409.4,738.1 L1411.3,682.9 L1415.1,754.8 L1417.6,683.6 L1419.2,749.7 L1421.4,676.0 L1423.5,742.9 L1427.1,679.8 L1429.5,760.6 L1432.0,722.0" fill="none" stroke="#EE34FF" stroke-width="6" stroke-linejoin="round" stroke-linecap="round" />
<line x1="1299.0" y1="332.0" x2="1300.8" y2="463.9" stroke="#EE34FF" stroke-width="6" stroke-dasharray="10 9 10 12 6 9 6 12 4 12 6 12 10 9 8 7 6 7 10 9 10 12 8 5"/>
<line x1="1300.8" y1="463.9" x2="1303.0" y2="625.0" stroke="#EE34FF" stroke-width="5" stroke-dasharray="30 3 45 5 80 8 30 8 30 3 45 5"/>
<path d="M1188.9,340.6 L1188.5,339.4 L1192.1,338.4 L1191.9,333.3 L1192.9,331.8 L1197.6,328.2 L1198.8,327.4 L1199.8,322.2 L1201.1,321.7 L1200.0,318.2 L1202.5,313.9 L1203.1,310.6 L1201.3,306.8 L1201.4,304.4 L1204.0,302.0 L1203.7,297.8 L1202.4,295.7 L1204.2,292.6 L1204.8,289.6 L1205.7,288.2 L1206.0,283.4 L1207.5,280.8 L1204.9,279.0 L1208.8,279.9 L1207.7,285.1 L1209.3,287.3 L1208.3,289.4 L1208.7,292.0 L1208.8,295.9 L1209.7,296.9 L1210.3,300.3 L1210.8,303.7 L1212.7,306.7 L1212.5,310.0 L1212.1,311.6 L1212.8,315.4 L1215.3,320.8 L1213.5,322.6 L1216.2,323.9 L1215.6,328.5 L1218.9,326.0 L1217.3,320.7 L1221.0,318.3 L1221.2,316.1 L1224.4,312.7 L1223.6,308.8 L1226.5,306.0 L1223.9,304.1 L1225.6,299.9 L1226.9,298.0 L1226.0,295.7 L1225.8,290.8 L1227.7,289.8 L1225.9,284.4 L1226.9,283.2 L1226.8,281.0 L1229.2,276.3 L1228.9,271.9 L1228.6,268.5 L1228.9,266.0 L1230.4,263.3 L1227.5,260.1 L1229.3,256.8 L1228.2,254.5 L1233.1,256.4 L1231.7,261.1 L1234.0,264.7 L1238.0,264.2 L1239.7,266.9 L1240.0,272.5 L1239.7,275.0 L1241.3,276.7 L1240.7,281.7 L1241.9,285.7 L1241.6,287.9 L1243.4,289.6 L1243.8,293.4 L1244.9,297.4 L1244.2,299.8 L1245.8,301.1 L1244.8,306.0 L1245.0,309.9 L1245.1,311.7 L1245.9,314.4 L1246.9,318.3 L1249.9,321.5 L1250.8,320.3 L1253.5,317.2 L1256.2,314.1 L1255.9,310.6 L1256.6,307.3 L1256.7,303.9 L1256.8,300.5 L1256.7,298.4 L1256.0,294.6 L1258.5,292.9 L1257.1,288.5 L1258.4,286.9 L1257.2,284.1 L1260.6,281.5 L1260.7,277.8 L1259.6,274.7 L1259.6,271.7 L1261.7,266.9 L1261.0,266.7 L1260.1,263.5 L1262.3,257.8 L1260.8,256.7 L1262.2,253.3 L1261.7,251.6 L1262.3,247.3 L1262.2,245.3 L1264.4,239.4 L1265.1,238.5 L1265.5,234.4 L1265.6,232.1 L1264.1,229.4 L1263.4,224.5 L1265.8,223.1 L1264.9,217.8 L1266.4,215.2 L1265.9,214.1 L1267.0,211.5 L1266.6,206.9 L1265.5,204.8 L1267.4,202.1 L1267.1,196.1 L1267.8,193.0 L1268.0,191.8 L1268.1,189.2 L1270.7,184.5 L1269.3,182.9 L1270.6,179.7 L1271.6,174.5 L1270.2,174.8 L1270.8,171.6 L1271.7,168.1 L1271.2,162.9 L1271.8,161.5 L1271.6,158.6 L1272.7,154.1 L1274.1,153.1 L1273.7,148.5 L1272.7,145.6 L1275.9,143.0 L1272.9,139.0 L1276.3,135.8 L1276.6,133.4 L1275.9,131.7 L1276.2,126.0 L1277.2,125.9 L1276.5,122.7 L1276.5,119.6 L1276.7,116.2 L1279.5,111.1 L1279.8,114.7 L1278.5,118.2 L1278.1,122.0 L1279.6,124.9 L1280.1,126.9 L1282.3,130.5 L1281.9,135.4 L1282.9,136.5 L1279.9,139.8 L1282.1,142.4 L1281.8,144.2 L1282.4,147.2 L1283.9,152.9 L1284.3,152.7 L1285.0,157.6 L1283.2,158.9 L1284.9,164.7 L1284.4,164.8 L1284.0,168.4 L1285.2,173.9 L1284.2,176.6 L1288.0,180.2 L1288.4,180.1 L1287.3,185.9 L1287.4,187.5 L1286.4,192.1 L1288.1,195.9 L1287.6,198.7 L1290.4,199.7 L1290.5,203.9 L1290.6,207.6 L1289.9,210.7 L1288.8,211.9 L1289.4,217.7 L1292.0,218.8 L1292.2,223.7 L1291.4,224.7 L1289.7,229.0 L1290.1,232.4 L1291.5,235.9 L1292.4,238.8 L1291.9,239.6 L1292.0,245.4 L1290.5,248.7 L1292.6,248.9 L1292.6,252.9 L1292.4,257.4 L1291.7,257.6 L1293.0,261.6 L1290.9,267.0 L1292.0,266.7 L1294.6,271.9 L1293.2,274.0 L1293.6,279.3 L1294.1,281.4 L1293.0,282.0 L1292.4,287.5 L1293.6,289.8" fill="none" stroke="#EE34FF" stroke-width="9.5" stroke-linejoin="round" stroke-linecap="round" />
<path d="M1189.9,342.7 L1193.6,339.5 L1195.8,336.4 L1196.7,337.2 L1199.3,332.9 L1200.0,332.1 L1202.3,328.9 L1202.5,326.3 L1202.1,323.4 L1203.1,319.1 L1205.9,316.1 L1205.2,314.5 L1205.6,310.4 L1205.1,308.0 L1205.4,305.5 L1208.4,302.2 L1207.3,298.6 L1206.7,295.6 L1210.2,290.9 L1208.0,287.6 L1211.1,287.7 L1211.6,282.1 L1212.4,279.7 L1212.0,282.5 L1210.7,287.2 L1213.9,288.8 L1213.3,293.7 L1213.0,296.0 L1214.7,298.8 L1214.0,301.9 L1215.1,304.9 L1216.4,306.8 L1214.7,310.3 L1218.5,313.7 L1218.9,316.4 L1217.2,318.9 L1218.4,325.1 L1218.0,327.0 L1222.4,323.7 L1221.5,320.5 L1224.4,317.6 L1225.5,315.4 L1228.2,311.1 L1228.4,308.3 L1229.7,306.0 L1228.2,303.4 L1228.5,299.3 L1230.3,294.0 L1230.7,290.9 L1230.0,287.5 L1231.6,286.3 L1230.7,282.0 L1232.2,278.0 L1233.7,276.5 L1233.3,273.2 L1231.8,268.7 L1234.4,266.7 L1232.6,265.0 L1233.7,259.6 L1235.8,257.0 L1233.8,255.6 L1237.5,258.3 L1238.6,260.7 L1239.0,261.9 L1241.7,264.3 L1241.5,266.7 L1241.9,270.7 L1242.4,273.2 L1245.6,275.4 L1245.3,278.4 L1245.6,282.8 L1245.4,285.1 L1244.9,287.7 L1246.9,292.6 L1246.3,295.1 L1247.7,297.4 L1248.7,302.0 L1250.2,304.5 L1248.3,305.7 L1248.2,309.9 L1251.7,313.7 L1251.5,315.0 L1251.2,318.8 L1251.3,323.3 L1254.6,320.7 L1260.3,318.1 L1259.3,317.6 L1261.3,311.3 L1258.6,310.1 L1259.2,306.3 L1259.2,305.5 L1260.1,302.3 L1260.8,297.7 L1260.5,293.1 L1260.9,291.8 L1262.2,288.5 L1263.6,286.4 L1262.1,281.8 L1263.7,280.8 L1263.9,275.6 L1265.3,272.9 L1265.5,270.4 L1266.1,268.2 L1265.6,264.9 L1265.1,260.9 L1267.3,258.6 L1265.7,254.9 L1267.2,252.3 L1267.5,249.1 L1268.4,245.2 L1268.1,243.9 L1266.8,240.1 L1269.2,235.5 L1268.0,233.9 L1270.6,229.4 L1268.5,226.8 L1269.2,226.2 L1270.9,221.2 L1271.1,216.8 L1270.3,215.0 L1272.6,210.4 L1270.7,208.7 L1271.6,204.3 L1272.0,203.0 L1271.3,199.6 L1274.1,195.0 L1271.2,192.0 L1273.1,191.2 L1273.8,185.8 L1274.0,183.6 L1272.8,181.7 L1273.0,178.6 L1273.4,175.5 L1273.4,173.5 L1274.8,169.0 L1276.6,166.6 L1273.9,164.4 L1276.6,159.3 L1277.8,155.2 L1277.7,154.3 L1277.3,151.6 L1278.9,145.9 L1277.7,145.1 L1279.3,140.0 L1278.7,139.9 L1279.6,134.2 L1279.9,133.2 L1279.9,129.1 L1282.4,124.5 L1281.2,123.3 L1283.3,124.4 L1282.6,128.4 L1282.1,131.7 L1281.9,135.9 L1282.3,136.8 L1282.8,141.2 L1283.3,143.8 L1286.0,146.9 L1285.0,151.5 L1284.4,153.0 L1286.4,157.1 L1284.0,159.1 L1284.5,163.0 L1284.6,166.6 L1286.9,170.3 L1287.7,172.7 L1287.4,174.7 L1287.8,177.2 L1286.6,182.1 L1290.0,184.6 L1290.7,186.9 L1289.6,189.6 L1288.3,194.1 L1288.4,198.5 L1292.1,200.3 L1291.9,204.7 L1289.8,206.0 L1290.5,211.3 L1291.6,212.8 L1292.2,215.8 L1293.0,220.7 L1293.1,222.7 L1292.3,225.4 L1294.3,228.3 L1293.6,230.5 L1294.0,235.4 L1292.7,239.1 L1294.7,241.9 L1293.0,244.1 L1295.4,246.9 L1296.5,250.3 L1293.9,252.3 L1296.1,256.2 L1297.0,260.6 L1294.4,260.2 L1295.9,265.1 L1296.3,267.4 L1297.1,271.9 L1297.3,273.2 L1297.3,278.0 L1298.0,279.3 L1296.1,283.5 L1299.7,285.4 L1297.0,289.6 L1298.4,292.3" fill="none" stroke="#EE34FF" stroke-width="8" stroke-linejoin="round" stroke-linecap="round" />
<path d="M1380.0,672.0 L1383.1,619.3 L1386.7,739.7 L1391.0,612.0 L1394.4,726.1 L1397.0,638.1 L1400.3,745.6 L1403.5,638.7 L1407.2,742.4 L1411.4,619.8 L1415.0,744.5 L1417.5,617.2 L1422.5,744.6 L1426.2,612.7 L1429.4,736.3 L1432.7,602.2 L1436.8,708.2 L1438.9,595.9 L1442.7,710.8 L1446.2,639.0 L1449.4,712.3 L1453.4,644.1 L1457.5,722.8 L1459.8,626.7 L1464.8,756.5 L1466.9,615.1 L1470.9,732.9 L1473.6,631.4 L1478.5,738.2 L1482.2,620.5 L1485.5,752.0 L1489.3,614.8 L1492.0,690.0" fill="none" stroke="#FF22FF" stroke-width="6" stroke-linejoin="round" stroke-linecap="round" />
<path d="M1382.0,672.0 L1384.3,630.1 L1387.3,710.5 L1389.9,627.8 L1391.4,704.6 L1394.0,644.1 L1397.5,711.7 L1399.6,648.3 L1401.7,716.6 L1404.7,651.4 L1406.3,703.1 L1408.5,646.1 L1411.9,697.2 L1413.5,651.7 L1417.9,709.1 L1419.2,631.0 L1421.2,720.2 L1423.5,651.0 L1427.2,695.5 L1429.5,633.8 L1431.9,717.3 L1434.7,629.4 L1436.3,709.9 L1439.4,643.9 L1441.5,718.4 L1445.1,648.0 L1447.1,697.0 L1449.8,650.4 L1451.2,712.4 L1454.3,636.0 L1457.7,704.8 L1459.1,635.1 L1461.2,716.4 L1463.7,644.6 L1467.8,717.4 L1468.6,643.3 L1471.9,715.8 L1473.8,650.9 L1476.9,711.1 L1479.8,663.6 L1481.6,712.1 L1484.1,665.1 L1486.6,734.0 L1489.2,667.0 L1492.0,690.0" fill="none" stroke="#FF22FF" stroke-width="6" stroke-linejoin="round" stroke-linecap="round" />
<line x1="1375.0" y1="305.0" x2="1377.7" y2="449.0" stroke="#FF22FF" stroke-width="6" stroke-dasharray="4 9 4 12 8 7 10 5 4 9 6 9 10 9 8 12 8 12 6 12 10 9 4 9"/>
<line x1="1377.7" y1="449.0" x2="1381.0" y2="625.0" stroke="#FF22FF" stroke-width="5" stroke-dasharray="45 8 45 8 60 8 80 8 80 3 60 5"/>
<path d="M1270.0,324.6 L1272.1,321.9 L1274.3,319.5 L1275.3,317.3 L1277.0,313.6 L1279.4,312.0 L1281.6,306.8 L1280.1,306.2 L1280.4,300.5 L1280.2,298.9 L1282.7,296.9 L1283.7,293.8 L1281.7,288.5 L1284.3,287.8 L1283.0,281.5 L1283.9,278.6 L1283.3,275.9 L1284.2,273.6 L1285.5,270.0 L1284.4,266.5 L1285.9,263.2 L1284.9,260.1 L1286.1,263.2 L1289.9,267.6 L1290.6,269.9 L1291.6,271.6 L1292.7,274.7 L1295.7,276.9 L1298.7,279.5 L1300.8,285.2 L1300.7,285.4 L1303.0,290.0 L1303.6,286.0 L1303.2,282.4 L1305.7,279.7 L1304.0,278.0 L1307.0,274.6 L1305.8,270.9 L1304.6,267.0 L1307.1,266.2 L1308.2,263.6 L1306.7,260.5 L1306.7,256.2 L1307.7,254.5 L1309.2,251.2 L1311.1,254.4 L1311.1,257.4 L1313.2,256.6 L1313.0,259.7 L1314.6,264.6 L1318.7,268.0 L1318.8,264.9 L1320.0,261.1 L1320.7,256.8 L1319.5,254.2 L1321.1,251.4 L1321.8,247.7 L1321.2,244.0 L1321.0,239.0 L1323.1,236.6 L1320.8,233.1 L1325.2,230.9 L1325.1,228.0 L1328.0,225.1 L1329.7,221.5 L1330.8,221.0 L1332.7,216.9 L1337.0,215.5 L1337.7,213.7 L1340.5,209.2 L1343.2,207.9 L1343.1,203.3 L1345.8,200.6 L1344.7,200.0 L1348.8,195.1 L1350.1,193.1 L1349.0,188.4 L1350.1,186.1 L1349.4,181.6 L1351.1,178.8 L1349.3,175.8 L1350.0,172.2 L1350.4,170.7 L1351.6,167.4 L1350.5,162.4 L1352.6,159.4 L1352.8,156.1 L1351.0,155.3 L1351.8,150.3 L1351.0,147.7 L1353.5,143.1 L1353.4,140.2 L1352.3,138.2 L1354.6,133.4 L1355.2,131.1 L1355.2,128.7 L1352.8,125.4 L1354.1,121.2 L1354.2,119.7 L1356.7,117.4 L1355.6,115.3 L1357.7,110.7 L1356.6,108.9 L1356.7,103.6 L1356.9,99.9 L1359.3,102.9 L1358.7,107.4 L1357.8,111.9 L1360.0,114.4 L1359.7,116.1 L1360.2,118.8 L1361.7,123.1 L1362.5,124.9 L1363.0,129.9 L1365.5,133.1 L1363.7,134.6 L1364.9,137.9 L1365.6,143.0 L1365.6,145.4 L1365.8,146.3 L1365.7,149.3 L1368.2,153.9 L1366.3,155.9 L1366.6,160.8 L1366.4,162.3 L1367.2,166.3 L1369.1,171.6 L1368.4,173.8 L1368.7,178.2 L1370.4,179.3 L1367.9,184.4 L1368.0,186.3 L1368.5,189.9 L1370.3,193.0" fill="none" stroke="#FF22FF" stroke-width="9.5" stroke-linejoin="round" stroke-linecap="round" />
<path d="M1277.8,319.6 L1277.5,313.9 L1279.7,313.4 L1281.9,310.0 L1282.7,307.2 L1284.2,303.3 L1285.5,299.4 L1285.3,296.9 L1284.2,292.0 L1285.0,291.9 L1286.9,286.7 L1286.5,286.0 L1285.6,279.7 L1288.4,278.3 L1288.4,276.5 L1288.8,273.3 L1287.8,270.6 L1289.0,266.5 L1288.9,270.3 L1291.6,273.2 L1290.8,275.6 L1294.6,275.6 L1295.5,278.9 L1295.5,283.6 L1299.9,283.5 L1299.0,288.7 L1302.1,292.4 L1304.0,293.3 L1305.0,296.3 L1306.6,297.9 L1306.1,296.9 L1306.8,293.3 L1308.6,288.4 L1307.1,285.6 L1309.6,282.5 L1308.9,279.9 L1308.2,278.2 L1310.3,274.7 L1311.2,272.1 L1311.6,266.5 L1312.4,266.2 L1311.3,261.7 L1311.2,260.7 L1311.1,255.4 L1314.5,257.6 L1316.3,260.9 L1318.0,264.8 L1318.5,267.1 L1320.9,270.4 L1321.7,273.1 L1322.8,272.4 L1322.9,269.6 L1324.1,265.1 L1321.9,262.2 L1323.1,257.8 L1323.9,254.5 L1322.3,253.4 L1324.2,250.0 L1324.6,247.2 L1325.5,243.0 L1324.1,240.9 L1323.4,237.2 L1323.0,234.6 L1324.5,231.9 L1324.1,229.2 L1327.0,224.7 L1329.7,225.0 L1332.3,220.5 L1331.6,217.3 L1334.4,217.1 L1339.3,217.7 L1341.2,222.1 L1341.6,219.8 L1342.9,213.9 L1343.7,213.3 L1345.5,210.1 L1343.7,204.8 L1347.5,203.8 L1348.5,199.5 L1349.5,199.3 L1351.8,196.4 L1355.6,197.9 L1354.5,195.4 L1353.8,193.1 L1354.9,188.1 L1354.1,184.0 L1355.1,183.6 L1354.7,179.8 L1355.3,174.9 L1354.6,174.1 L1357.2,170.6 L1355.5,167.8 L1356.4,164.5 L1357.0,159.6 L1356.8,158.7 L1355.0,155.9 L1356.7,149.8 L1356.5,148.0 L1355.7,146.3 L1358.4,142.9 L1357.3,138.8 L1357.5,136.9 L1357.8,133.2 L1356.5,127.7 L1356.4,125.7 L1356.7,124.3 L1359.0,121.1 L1359.9,118.0 L1358.0,114.6 L1358.2,110.5 L1361.4,106.2 L1361.5,106.0 L1359.5,100.7 L1359.6,98.8 L1362.2,101.2 L1362.7,103.6 L1362.2,108.6 L1360.5,109.9 L1363.3,113.4 L1362.1,116.3 L1363.3,117.3 L1362.9,123.4 L1364.3,124.4 L1364.1,127.3 L1366.2,132.0 L1365.0,135.7 L1364.9,135.7 L1367.7,138.5 L1368.3,143.4 L1368.9,145.9 L1367.0,148.5 L1370.3,153.3 L1368.6,154.5 L1368.6,156.8 L1372.5,162.6 L1372.0,163.1 L1371.1,165.5 L1371.5,171.5 L1371.4,174.9 L1373.0,177.4 L1372.7,180.9 L1370.7,183.7 L1372.3,184.4 L1373.5,190.4 L1373.4,193.7 L1373.8,195.0 L1373.3,197.7 L1373.1,202.0" fill="none" stroke="#FF22FF" stroke-width="8" stroke-linejoin="round" stroke-linecap="round" />
<path d="M1276.6,317.6 L1276.1,316.2 L1280.8,313.9 L1280.7,309.0 L1283.1,307.5 L1284.5,304.5 L1283.9,302.1 L1285.0,298.2 L1285.6,295.7 L1283.8,291.3 L1284.2,289.7 L1287.3,284.6 L1286.0,281.7 L1286.2,281.4 L1287.8,275.3 L1286.3,273.5 L1287.1,270.8 L1287.3,268.3 L1290.4,270.6 L1295.9,271.8 L1296.1,270.7 L1298.2,274.4 L1302.4,277.0 L1301.3,279.1 L1302.6,283.0 L1306.2,287.5 L1305.2,284.8 L1305.7,280.6 L1305.8,275.8 L1307.2,274.4 L1309.1,269.5 L1308.0,267.9 L1309.7,266.3 L1309.9,260.6 L1309.1,259.7 L1309.3,254.7 L1311.8,253.9 L1312.5,250.3 L1309.7,247.7 L1313.3,250.6 L1312.1,252.5 L1316.1,253.9 L1316.4,258.4 L1319.2,258.9 L1319.2,262.8 L1320.1,267.4 L1320.2,270.1 L1322.6,270.9 L1323.7,268.3 L1321.5,265.5 L1321.8,261.2 L1323.0,258.2 L1325.4,255.8 L1324.1,253.3 L1325.1,250.7 L1326.0,246.7 L1326.6,244.2 L1325.8,242.1 L1325.8,235.9 L1326.8,234.4 L1326.2,231.9 L1330.3,228.1 L1330.4,225.2 L1334.2,222.3 L1335.3,219.2 L1335.7,216.9 L1337.9,219.5 L1340.5,221.7 L1341.8,215.8 L1344.8,212.7 L1344.3,209.8 L1347.6,206.5 L1346.4,205.6 L1347.7,201.6 L1348.6,198.2 L1351.2,194.2 L1351.1,193.7 L1353.5,188.6 L1352.2,184.2 L1354.3,183.1 L1352.9,180.4 L1355.8,177.2 L1355.5,172.7 L1355.7,168.0 L1354.3,165.3 L1355.5,162.2 L1353.8,161.6 L1354.0,158.5 L1355.1,153.6 L1355.0,152.8 L1355.7,147.7 L1354.9,144.8 L1357.7,143.2 L1356.3,137.8 L1355.7,136.9 L1356.5,132.4 L1355.8,130.2 L1358.7,124.5 L1357.6,123.1 L1357.4,121.5 L1360.3,115.4 L1360.6,114.1 L1362.2,111.9 L1364.1,113.7 L1364.9,115.2 L1364.4,120.6 L1363.9,123.3 L1366.6,124.4 L1365.1,130.7 L1365.8,133.9 L1368.2,135.0 L1367.8,139.2 L1367.4,142.2 L1370.1,145.1 L1369.7,148.2 L1371.0,151.1 L1371.7,154.9 L1371.1,156.5 L1369.2,158.9 L1372.8,164.7 L1372.8,166.4 L1372.2,170.0 L1372.4,171.9 L1372.0,174.2 L1373.5,179.9 L1373.6,181.6 L1374.6,186.7 L1374.3,188.3 L1374.0,191.1" fill="none" stroke="#FF22FF" stroke-width="8" stroke-linejoin="round" stroke-linecap="round" />
<path d="M1430.0,660.0 L1432.8,600.1 L1436.8,697.7 L1440.9,610.1 L1445.4,688.9 L1448.7,623.5 L1452.7,702.2 L1455.1,633.7 L1458.9,696.2 L1463.0,605.5 L1466.7,698.7 L1470.5,604.8 L1474.3,702.8 L1477.5,613.8 L1480.6,702.9 L1485.8,621.8 L1488.4,699.8 L1492.5,617.1 L1496.0,665.0" fill="none" stroke="#FF18FF" stroke-width="6" stroke-linejoin="round" stroke-linecap="round" />
<path d="M1432.0,660.0 L1434.5,641.3 L1436.2,691.4 L1440.2,642.9 L1441.4,695.4 L1445.1,643.7 L1447.7,681.7 L1449.8,644.9 L1452.1,679.1 L1455.1,630.3 L1458.3,694.6 L1460.9,632.1 L1462.7,679.7 L1465.5,638.9 L1468.6,678.4 L1471.0,637.9 L1473.8,697.1 L1476.2,637.6 L1477.3,698.6 L1481.1,630.4 L1482.8,687.6 L1485.6,644.3 L1488.1,699.2 L1491.1,643.4 L1493.7,689.1 L1496.0,665.0" fill="none" stroke="#FF18FF" stroke-width="6" stroke-linejoin="round" stroke-linecap="round" />
<line x1="1423.6" y1="285.4" x2="1425.4" y2="433.7" stroke="#FF18FF" stroke-width="6" stroke-dasharray="6 5 8 7 4 7 8 5 8 9 4 5 10 12 4 9 8 12 10 7 10 7 8 9"/>
<line x1="1425.4" y1="433.7" x2="1427.5" y2="615.0" stroke="#FF18FF" stroke-width="5" stroke-dasharray="30 3 45 8 60 5 45 8 45 5 60 3"/>
<path d="M1318.7,313.6 L1323.2,311.2 L1324.2,307.2 L1325.6,305.5 L1326.6,301.3 L1329.3,298.7 L1328.3,294.6 L1330.7,292.1 L1330.9,290.9 L1330.1,286.4 L1331.4,281.9 L1333.8,280.2 L1333.3,278.4 L1333.4,273.3 L1334.6,272.8 L1333.5,267.5 L1335.8,267.2 L1334.0,261.3 L1336.8,257.8 L1337.2,261.9 L1337.8,267.0 L1336.9,267.7 L1337.2,271.5 L1336.4,276.1 L1337.6,277.9 L1337.7,280.5 L1340.0,283.8 L1341.3,287.8 L1341.0,288.5 L1341.3,293.2 L1343.5,294.0 L1346.9,297.0 L1349.6,300.2 L1347.9,303.8 L1348.9,300.3 L1350.4,298.1 L1352.9,293.6 L1351.4,291.9 L1352.9,286.6 L1352.2,282.5 L1353.5,282.2 L1354.9,277.0 L1356.2,274.4 L1353.5,270.8 L1357.1,266.5 L1356.2,266.2 L1356.2,262.8 L1357.8,258.2 L1359.8,256.6 L1362.6,256.4 L1364.2,253.1 L1363.1,247.2 L1365.3,246.6 L1364.9,243.1 L1366.5,240.8 L1365.8,235.8 L1368.9,234.7 L1368.9,229.1 L1368.8,227.7 L1369.1,222.7 L1369.1,219.4 L1370.3,217.2 L1372.6,215.1 L1373.7,209.6 L1374.6,206.8 L1378.0,203.4 L1378.8,201.2 L1380.0,198.2 L1383.4,194.9 L1381.4,193.1 L1384.2,191.7 L1384.6,187.4 L1387.9,182.9 L1387.3,180.2 L1389.8,177.4 L1391.5,175.8 L1392.6,170.0 L1393.6,167.8 L1394.8,166.2 L1395.6,161.8 L1395.8,161.1 L1395.5,155.3 L1394.5,154.4 L1395.7,149.2 L1396.0,146.6 L1394.7,145.2 L1396.9,141.5 L1398.1,139.6 L1395.5,134.7 L1395.6,132.7 L1399.4,129.5 L1396.6,125.7 L1399.6,123.0 L1397.8,122.2 L1397.8,118.8 L1400.6,114.6 L1399.9,113.6 L1401.4,110.7 L1399.5,105.4 L1400.7,101.7 L1400.3,98.8 L1401.7,97.1 L1403.9,91.8 L1403.6,90.5 L1406.2,92.6 L1407.3,96.8 L1408.6,97.9 L1410.6,99.2 L1413.4,102.0 L1415.6,107.2 L1414.8,110.0 L1412.5,112.1 L1415.5,114.5 L1413.2,117.5 L1416.2,119.6 L1415.9,123.9 L1415.9,125.7 L1416.4,129.0 L1415.1,133.5 L1417.1,134.5 L1414.5,140.1 L1417.4,143.1 L1416.0,146.3 L1418.3,146.8 L1418.1,149.3 L1418.4,154.0 L1417.5,155.3 L1416.7,160.5 L1416.4,164.7 L1417.4,164.6 L1418.5,167.4 L1418.7,172.9 L1418.6,175.4 L1419.0,176.5 L1419.4,180.0 L1416.8,185.7 L1419.2,188.6 L1420.5,190.6 L1417.1,195.1 L1417.6,197.3 L1419.8,198.4 L1418.0,203.5 L1419.3,205.0 L1418.8,210.2 L1420.5,210.8 L1419.3,214.9 L1418.3,217.1 L1420.8,219.9 L1417.9,224.7 L1419.4,228.2 L1418.0,230.7 L1419.5,234.3 L1418.5,237.1 L1420.0,240.0" fill="none" stroke="#FF18FF" stroke-width="9.5" stroke-linejoin="round" stroke-linecap="round" />
<path d="M1321.9,311.0 L1327.4,311.0 L1329.7,308.2 L1329.6,306.2 L1331.2,303.7 L1330.9,300.5 L1331.0,297.0 L1334.4,295.5 L1332.9,291.4 L1333.1,286.9 L1333.2,285.9 L1335.3,283.9 L1336.1,280.9 L1336.8,277.2 L1338.0,271.7 L1335.6,269.6 L1339.0,267.7 L1336.2,263.4 L1340.1,260.8 L1337.6,258.9 L1338.5,260.4 L1338.9,262.1 L1340.7,267.6 L1340.6,271.2 L1341.2,271.3 L1340.7,275.4 L1341.1,278.8 L1341.7,281.8 L1340.4,283.8 L1343.6,290.1 L1344.3,290.0 L1345.2,295.1 L1347.7,299.0 L1349.7,300.8 L1349.9,303.6 L1352.2,307.6 L1353.4,304.7 L1351.3,300.4 L1351.7,296.1 L1352.1,295.7 L1354.3,292.3 L1355.3,288.3 L1354.1,286.4 L1356.7,281.9 L1357.6,277.8 L1356.8,275.1 L1357.6,273.2 L1356.4,268.9 L1359.2,267.8 L1359.1,264.5 L1360.5,258.7 L1359.4,257.8 L1364.3,256.5 L1366.7,256.7 L1367.6,250.1 L1366.9,247.4 L1368.7,244.9 L1369.9,241.2 L1369.7,237.5 L1370.0,237.0 L1370.7,232.9 L1373.5,228.0 L1374.1,225.9 L1373.0,224.4 L1374.7,221.0 L1375.4,218.7 L1378.7,215.7 L1380.5,213.5 L1380.4,210.8 L1382.0,207.9 L1384.6,203.3 L1386.8,198.7 L1385.5,195.1 L1389.0,192.1 L1387.3,188.7 L1391.9,186.1 L1391.7,183.7 L1394.8,181.0 L1397.2,181.0 L1398.6,177.5 L1398.2,172.6 L1399.7,171.4 L1397.7,165.6 L1398.2,162.0 L1398.9,162.3 L1399.7,158.6 L1400.7,154.3 L1399.2,150.3 L1401.3,147.9 L1401.0,146.8 L1399.1,143.6 L1402.2,138.7 L1401.9,136.3 L1402.4,134.4 L1403.1,131.6 L1404.1,126.8 L1401.4,123.7 L1403.2,120.8 L1404.1,116.4 L1402.1,115.6 L1405.8,111.0 L1405.4,109.1 L1404.1,103.7 L1404.1,102.0 L1406.9,97.9 L1407.6,94.8 L1407.7,90.0 L1405.2,89.8 L1408.2,86.3 L1407.0,89.5 L1409.0,90.9 L1412.0,93.0 L1414.0,96.8 L1413.5,102.3 L1414.9,103.2 L1416.1,108.5 L1417.9,111.3 L1416.6,114.7 L1418.1,114.5 L1415.7,118.8 L1416.6,123.6 L1417.0,125.2 L1415.9,129.5 L1417.6,130.2 L1418.0,135.7 L1418.8,138.4 L1419.2,139.4 L1420.1,141.7 L1417.6,147.8 L1417.9,149.6 L1421.0,153.0 L1419.4,154.1 L1420.1,159.1 L1420.0,162.5 L1419.9,163.0 L1420.2,167.1 L1422.1,170.1 L1421.2,172.6 L1421.4,175.7 L1421.1,180.7 L1423.1,184.1 L1423.3,185.4 L1421.4,190.4 L1421.5,193.5 L1423.1,193.9 L1423.1,198.5 L1423.7,202.3 L1421.5,204.1 L1423.9,207.3 L1421.2,209.5 L1423.9,212.4 L1424.6,215.4 L1425.0,221.8 L1424.7,222.3 L1424.6,227.7 L1423.8,231.3 L1423.4,231.6 L1423.8,234.3 L1423.4,240.2 L1424.4,242.7 L1426.0,245.8 L1424.7,248.3" fill="none" stroke="#FF18FF" stroke-width="8" stroke-linejoin="round" stroke-linecap="round" />
<path d="M1323.6,314.0 L1327.3,312.9 L1328.3,308.7 L1331.3,306.1 L1331.6,302.0 L1333.5,300.3 L1334.4,297.2 L1333.9,295.3 L1333.3,290.4 L1334.9,288.3 L1336.7,283.4 L1336.7,282.8 L1336.4,280.5 L1338.6,276.3 L1338.0,272.9 L1341.6,271.4 L1341.6,266.8 L1341.6,271.4 L1343.2,272.4 L1343.5,275.2 L1342.6,278.8 L1344.4,282.6 L1345.1,285.7 L1345.8,287.6 L1345.2,291.1 L1346.8,295.0 L1347.0,300.1 L1349.2,303.2 L1352.3,306.7 L1353.2,307.9 L1352.5,304.7 L1353.5,302.6 L1355.4,299.3 L1355.0,294.7 L1355.5,293.8 L1357.1,288.4 L1356.4,287.7 L1358.0,284.5 L1358.5,280.8 L1359.7,276.2 L1357.2,273.6 L1360.7,272.8 L1360.0,267.1 L1361.3,264.3 L1361.8,264.5 L1364.3,259.1 L1365.9,257.4 L1367.8,253.7 L1369.3,252.3 L1370.7,250.4 L1368.9,245.8 L1371.0,241.2 L1369.3,240.9 L1370.7,234.5 L1371.1,233.9 L1372.0,231.6 L1373.6,226.8 L1373.1,222.5 L1374.1,220.0 L1376.5,218.6 L1378.9,213.3 L1377.2,212.1 L1379.9,210.5 L1382.1,205.0 L1382.2,203.9 L1384.3,198.2 L1385.3,195.3 L1385.3,192.5 L1388.2,191.2 L1388.8,187.4 L1391.3,185.3 L1396.7,183.2 L1397.7,179.0 L1397.6,177.0 L1395.7,173.0 L1396.7,172.0 L1398.2,167.0 L1398.6,165.0 L1398.0,161.8 L1398.2,159.7 L1399.9,155.0 L1398.9,151.6 L1398.9,149.8 L1402.0,147.0 L1401.0,143.4 L1402.2,141.4 L1400.5,135.8 L1403.1,132.8 L1401.0,129.6 L1403.5,129.4 L1402.2,124.6 L1401.2,122.7 L1404.3,118.5 L1403.7,114.7 L1403.3,113.6 L1404.0,108.3 L1404.3,107.1 L1404.8,102.0 L1403.8,100.4 L1406.4,96.0 L1405.6,96.1 L1407.9,91.4 L1409.1,89.9 L1411.2,89.6 L1410.6,94.7 L1413.7,96.8 L1415.2,96.6 L1417.3,100.5 L1419.4,103.6 L1419.0,107.6 L1420.4,108.7 L1417.9,111.5 L1417.4,114.9 L1419.8,119.8 L1417.7,120.6 L1420.9,125.7 L1419.2,128.5 L1420.3,129.1 L1418.0,132.8 L1421.2,137.2 L1419.1,139.0 L1420.6,141.4 L1418.7,145.4 L1421.3,149.2 L1419.3,152.7 L1418.4,155.9 L1421.8,156.2 L1419.4,160.6 L1418.7,165.3 L1421.9,168.8 L1419.3,171.5 L1420.6,171.7 L1419.2,175.4 L1422.0,180.0 L1420.9,183.3 L1422.0,185.3 L1422.1,188.7 L1422.5,193.0 L1421.6,194.8 L1420.5,197.4 L1423.2,201.1 L1422.0,201.8 L1420.6,207.8 L1424.2,208.8 L1422.4,213.9 L1423.4,216.3 L1423.8,219.1 L1422.6,223.1 L1424.6,223.4 L1422.4,226.7 L1424.8,230.6 L1422.9,235.2 L1423.5,237.8 L1423.2,240.1 L1424.0,242.7" fill="none" stroke="#FF18FF" stroke-width="8" stroke-linejoin="round" stroke-linecap="round" />
<path d="M1487.9,659.8 L1488.4,657.9 L1489.9,654.4 L1489.5,652.5 L1491.3,648.5 L1491.5,645.2 L1488.9,642.2 L1489.8,638.6 L1490.3,635.9 L1491.5,631.0 L1491.8,630.3 L1493.2,624.9 L1491.8,625.4 L1494.4,619.8 L1493.9,618.1 L1494.7,614.6 L1495.6,610.8 L1493.0,610.1 L1493.6,604.0 L1495.3,601.3 L1496.7,599.5 L1497.0,596.2 L1495.1,592.1 L1498.0,589.7 L1498.2,588.4 L1495.8,582.7 L1497.8,581.5 L1497.0,578.6 L1499.6,576.3 L1499.9,576.6 L1500.5,581.6 L1501.2,584.2 L1502.4,587.1 L1501.3,591.6 L1505.2,594.5 L1505.0,595.3 L1504.1,599.5 L1505.3,597.7 L1504.8,595.0 L1508.0,589.4 L1507.6,589.2 L1508.7,585.0 L1508.0,581.2 L1509.7,577.8 L1510.2,574.0 L1507.9,571.9 L1509.7,569.8 L1510.1,567.0 L1510.8,564.2 L1510.5,559.3 L1513.3,564.6 L1512.7,566.0 L1512.6,568.4 L1512.0,573.3 L1514.0,573.8 L1513.1,578.3 L1514.9,582.1 L1515.6,586.0 L1515.0,588.3 L1515.6,590.7 L1515.4,591.9 L1518.3,595.6 L1517.2,601.2 L1519.3,602.9 L1517.5,605.1 L1520.3,609.5 L1519.1,612.2 L1519.6,613.5 L1521.4,616.6 L1519.0,619.4 L1519.6,625.7 L1519.9,627.5 L1522.3,628.8 L1521.1,633.2 L1522.3,636.1 L1522.4,637.7 L1523.3,642.6 L1522.1,646.0 L1524.4,646.6 L1522.2,649.9 L1523.4,654.1 L1525.2,656.7 L1522.9,659.7 L1524.4,661.5 L1525.1,666.1 L1525.0,668.1 L1525.6,670.4 L1526.7,668.8 L1526.8,666.8 L1525.6,662.8 L1528.7,660.5 L1529.0,656.2 L1527.9,653.2 L1527.4,650.0 L1529.2,645.1 L1531.6,642.5 L1532.0,641.0 L1531.5,643.6 L1531.8,647.6 L1532.9,649.6 L1533.7,650.5 L1533.1,654.8 L1534.0,658.5 L1533.9,660.1 L1534.3,663.1 L1534.9,666.8 L1535.9,671.9 L1535.8,672.2 L1537.5,676.0 L1537.7,678.8 L1536.8,681.2 L1537.7,686.0" fill="none" stroke="#FF22FF" stroke-width="7.5" stroke-linejoin="round" stroke-linecap="round" />
<path d="M1449.3,586.7 L1452.2,583.7 L1454.2,582.7 L1456.4,578.6 L1456.5,576.2 L1460.8,573.3 L1461.8,568.7 L1463.0,567.8 L1463.3,565.2 L1466.4,568.0 L1464.0,570.6 L1466.7,575.2 L1467.5,575.7 L1467.0,579.5 L1466.9,584.3 L1466.5,585.0 L1469.9,589.7 L1468.0,593.0 L1470.1,596.5 L1468.9,598.7 L1472.2,600.9 L1469.8,603.3 L1470.6,608.2 L1472.4,609.1 L1476.4,611.7 L1475.2,615.8 L1479.6,617.2 L1479.3,619.5 L1482.6,616.6 L1481.4,616.0 L1483.2,612.4 L1484.4,607.6 L1485.4,604.3 L1483.6,603.4 L1484.6,599.8 L1484.5,596.3 L1487.5,594.2 L1487.8,588.3 L1488.7,586.7 L1487.8,582.3 L1486.7,581.7 L1487.2,578.0 L1489.5,573.5 L1491.4,569.8 L1492.7,569.2 L1493.5,566.8 L1497.0,563.4 L1499.0,562.3 L1501.6,560.5 L1504.8,559.3 L1507.2,556.1 L1512.6,557.1 L1513.5,559.1 L1513.1,561.3 L1512.1,565.3 L1512.5,566.9 L1513.1,571.5 L1514.8,572.3 L1513.3,577.3 L1515.8,578.2 L1517.4,582.9 L1517.6,585.1 L1515.5,588.0 L1516.5,593.6 L1517.2,595.7 L1520.1,597.6 L1517.8,600.6 L1519.0,602.5 L1518.2,605.3 L1521.5,609.9 L1520.4,613.8 L1520.0,615.0 L1519.9,619.3 L1522.1,620.5 L1521.3,624.2 L1522.4,626.4 L1520.9,629.9 L1521.1,635.4 L1522.3,637.8 L1522.7,642.0 L1522.2,644.3 L1524.7,645.2 L1524.6,648.5 L1524.8,652.7 L1525.4,655.7 L1523.6,657.0 L1525.3,660.9 L1524.0,664.4 L1523.4,669.0 L1524.6,671.1 L1524.8,668.9 L1523.8,664.1 L1525.3,659.5 L1525.1,657.1 L1528.4,653.9 L1527.9,653.4 L1526.1,647.3 L1529.6,644.2 L1529.0,641.4 L1528.7,639.7 L1528.7,635.2 L1530.6,631.6 L1528.2,630.3 L1528.5,625.4 L1531.8,623.5 L1531.3,622.0 L1530.3,618.3 L1530.0,613.5 L1533.2,610.2 L1532.0,606.9 L1533.7,604.2 L1532.3,601.6 L1534.0,597.7 L1532.6,596.4 L1533.7,593.2 L1532.6,588.3 L1535.3,585.9 L1536.4,583.6 L1534.0,579.9 L1536.0,576.6 L1534.9,576.0 L1534.5,570.8 L1537.8,568.0 L1536.3,566.4 L1536.5,562.1 L1538.1,560.1 L1536.1,555.2 L1538.9,558.4 L1540.1,560.7 L1540.7,563.8 L1539.6,569.2 L1540.3,569.4 L1540.9,574.2 L1540.1,576.6 L1541.5,580.0 L1542.1,583.4 L1542.3,585.8 L1542.7,588.4 L1544.3,591.8 L1544.0,594.0 L1545.6,596.3 L1544.1,601.3 L1546.0,604.1 L1545.9,608.6 L1546.4,610.3 L1545.8,613.3 L1550.0,616.2 L1548.4,617.7 L1548.6,622.3 L1551.6,622.9 L1552.5,627.6 L1552.6,631.4 L1553.0,633.8 L1553.7,634.6 L1557.7,640.6 L1556.1,641.1 L1556.6,643.6 L1559.2,648.9 L1562.4,652.2 L1561.8,655.8 L1564.4,657.8 L1565.9,660.8 L1566.2,662.1 L1568.0,666.1" fill="none" stroke="#FF18FF" stroke-width="8" stroke-linejoin="round" stroke-linecap="round" />
<line x1="1307.6" y1="728.5" x2="1308.4" y2="754.8" stroke="#EE34FF" stroke-width="4.5"/>
<line x1="1277.9" y1="699.9" x2="1276.7" y2="769.9" stroke="#D848FF" stroke-width="4.5"/>
<line x1="1394.8" y1="708.4" x2="1394.8" y2="751.0" stroke="#FF22FF" stroke-width="4.5"/>
<line x1="1300.4" y1="723.2" x2="1299.3" y2="747.7" stroke="#EE34FF" stroke-width="4.5"/>
<line x1="1264.2" y1="700.7" x2="1265.8" y2="741.1" stroke="#D848FF" stroke-width="4.5"/>
<line x1="1339.6" y1="694.5" x2="1341.6" y2="727.5" stroke="#EE34FF" stroke-width="4.5"/>
<line x1="1273.2" y1="714.8" x2="1273.9" y2="753.7" stroke="#D848FF" stroke-width="4.5"/>
<line x1="1331.1" y1="717.7" x2="1331.7" y2="762.5" stroke="#EE34FF" stroke-width="4.5"/>
<line x1="1449.3" y1="713.3" x2="1447.5" y2="740.4" stroke="#FF18FF" stroke-width="4.5"/>
<line x1="1458.7" y1="709.5" x2="1460.5" y2="739.2" stroke="#FF18FF" stroke-width="4.5"/>
<line x1="1381.6" y1="719.2" x2="1380.7" y2="783.2" stroke="#FF22FF" stroke-width="4.5"/>
<line x1="1334.9" y1="725.1" x2="1336.0" y2="751.9" stroke="#EE34FF" stroke-width="4.5"/>
<line x1="1280.5" y1="717.6" x2="1282.3" y2="772.7" stroke="#D848FF" stroke-width="4.5"/>
<line x1="1437.1" y1="710.1" x2="1435.7" y2="740.0" stroke="#FF18FF" stroke-width="4.5"/>
<line x1="1371.0" y1="710.4" x2="1372.6" y2="734.0" stroke="#FF22FF" stroke-width="4.5"/>
<line x1="1366.6" y1="718.1" x2="1365.5" y2="749.0" stroke="#FF22FF" stroke-width="4.5"/>
<line x1="1262.5" y1="703.7" x2="1262.2" y2="737.1" stroke="#D848FF" stroke-width="4.5"/>
<line x1="1339.2" y1="723.4" x2="1337.9" y2="787.9" stroke="#EE34FF" stroke-width="4.5"/>
<line x1="1343.2" y1="696.6" x2="1345.1" y2="749.8" stroke="#EE34FF" stroke-width="4.5"/>
<line x1="1302.4" y1="720.7" x2="1300.4" y2="755.7" stroke="#EE34FF" stroke-width="4.5"/>
<line x1="1420.5" y1="703.7" x2="1420.2" y2="732.2" stroke="#FF18FF" stroke-width="4.5"/>
<line x1="1308.7" y1="706.4" x2="1308.3" y2="748.7" stroke="#EE34FF" stroke-width="4.5"/>
<line x1="1383.6" y1="701.5" x2="1381.9" y2="726.3" stroke="#FF22FF" stroke-width="4.5"/>
<line x1="1282.4" y1="710.8" x2="1283.6" y2="748.8" stroke="#D848FF" stroke-width="4.5"/>
<line x1="1366.0" y1="718.3" x2="1364.3" y2="787.3" stroke="#FF22FF" stroke-width="4.5"/>
<line x1="1263.6" y1="695.6" x2="1263.9" y2="734.9" stroke="#D848FF" stroke-width="4.5"/>
<line x1="1416.2" y1="704.1" x2="1414.2" y2="772.3" stroke="#FF22FF" stroke-width="4.5"/>
<line x1="1435.5" y1="698.4" x2="1433.6" y2="762.2" stroke="#FF18FF" stroke-width="4.5"/>
<line x1="1462.7" y1="720.4" x2="1463.0" y2="789.9" stroke="#FF18FF" stroke-width="4.5"/>
<line x1="1297.3" y1="728.8" x2="1295.7" y2="770.9" stroke="#D848FF" stroke-width="4.5"/>
<line x1="1387.1" y1="709.9" x2="1385.8" y2="753.5" stroke="#FF22FF" stroke-width="4.5"/>
<line x1="1285.6" y1="713.2" x2="1284.1" y2="755.9" stroke="#D848FF" stroke-width="4.5"/>
<line x1="1352.3" y1="719.0" x2="1352.2" y2="774.8" stroke="#FF22FF" stroke-width="4.5"/>
<line x1="1342.7" y1="704.4" x2="1341.5" y2="735.7" stroke="#EE34FF" stroke-width="4.5"/>
<line x1="1353.7" y1="694.3" x2="1354.5" y2="750.6" stroke="#FF22FF" stroke-width="4.5"/>
<line x1="1388.4" y1="690.9" x2="1388.1" y2="729.1" stroke="#FF22FF" stroke-width="4.5"/>
<line x1="1279.6" y1="728.7" x2="1279.6" y2="786.5" stroke="#D848FF" stroke-width="4.5"/>
<line x1="1408.1" y1="698.0" x2="1408.2" y2="729.5" stroke="#FF22FF" stroke-width="4.5"/>
<line x1="1416.2" y1="715.9" x2="1416.7" y2="736.2" stroke="#FF22FF" stroke-width="4.5"/>
<line x1="1450.9" y1="719.7" x2="1452.8" y2="786.1" stroke="#FF18FF" stroke-width="4.5"/>
<line x1="1307.0" y1="701.9" x2="1308.9" y2="749.2" stroke="#EE34FF" stroke-width="4.5"/>
<line x1="1337.5" y1="727.7" x2="1337.6" y2="790.2" stroke="#EE34FF" stroke-width="4.5"/>
<line x1="1391.3" y1="728.3" x2="1390.5" y2="787.4" stroke="#FF22FF" stroke-width="4.5"/>
<line x1="1437.6" y1="697.8" x2="1439.4" y2="736.3" stroke="#FF18FF" stroke-width="4.5"/>
<line x1="1437.9" y1="702.5" x2="1438.3" y2="737.0" stroke="#FF18FF" stroke-width="4.5"/>
<line x1="1437.0" y1="717.4" x2="1437.9" y2="784.2" stroke="#FF18FF" stroke-width="4.5"/>
<line x1="1432.4" y1="714.2" x2="1432.1" y2="752.3" stroke="#FF18FF" stroke-width="4.5"/>
<line x1="1362.9" y1="711.2" x2="1362.0" y2="773.1" stroke="#FF22FF" stroke-width="4.5"/>
<line x1="1274.4" y1="719.3" x2="1274.1" y2="752.9" stroke="#D848FF" stroke-width="4.5"/>
<line x1="1284.6" y1="723.2" x2="1283.7" y2="756.9" stroke="#D848FF" stroke-width="4.5"/>
<line x1="1428.9" y1="710.2" x2="1430.4" y2="744.0" stroke="#FF18FF" stroke-width="4.5"/>
<line x1="1346.5" y1="704.5" x2="1347.6" y2="772.7" stroke="#EE34FF" stroke-width="4.5"/>
<line x1="1417.0" y1="700.0" x2="1417.3" y2="760.7" stroke="#FF22FF" stroke-width="4.5"/>
<line x1="1434.2" y1="704.7" x2="1435.4" y2="763.8" stroke="#FF18FF" stroke-width="4.5"/>
<line x1="1341.5" y1="716.2" x2="1343.4" y2="775.2" stroke="#EE34FF" stroke-width="4.5"/>
<line x1="1453.3" y1="721.4" x2="1453.7" y2="748.3" stroke="#FF18FF" stroke-width="4.5"/>
<line x1="1403.9" y1="693.5" x2="1405.3" y2="736.6" stroke="#FF22FF" stroke-width="4.5"/>
<line x1="1450.1" y1="727.0" x2="1450.6" y2="751.6" stroke="#FF18FF" stroke-width="4.5"/>
<line x1="1441.7" y1="716.1" x2="1439.8" y2="752.1" stroke="#FF18FF" stroke-width="4.5"/>
<line x1="1453.2" y1="724.4" x2="1452.6" y2="777.0" stroke="#FF18FF" stroke-width="4.5"/>
<line x1="1434.0" y1="722.6" x2="1434.4" y2="778.8" stroke="#FF18FF" stroke-width="4.5"/>
<line x1="1327.1" y1="701.9" x2="1326.4" y2="739.7" stroke="#EE34FF" stroke-width="4.5"/>
<line x1="1369.2" y1="694.6" x2="1368.6" y2="750.6" stroke="#FF22FF" stroke-width="4.5"/>
<line x1="1293.5" y1="700.2" x2="1293.3" y2="739.7" stroke="#D848FF" stroke-width="4.5"/>
<line x1="1424.3" y1="694.0" x2="1423.4" y2="725.1" stroke="#FF18FF" stroke-width="4.5"/>
<line x1="1297.1" y1="720.0" x2="1295.3" y2="745.4" stroke="#D848FF" stroke-width="4.5"/>
<line x1="1376.7" y1="719.4" x2="1377.0" y2="780.7" stroke="#FF22FF" stroke-width="4.5"/>
<line x1="1328.6" y1="725.3" x2="1328.5" y2="782.1" stroke="#EE34FF" stroke-width="4.5"/>
<line x1="1378.2" y1="727.4" x2="1379.9" y2="797.3" stroke="#FF22FF" stroke-width="4.5"/>
<line x1="1287.9" y1="703.1" x2="1286.5" y2="743.5" stroke="#D848FF" stroke-width="4.5"/>
<rect x="531.3" y="464.5" width="7" height="7" fill="#00E2FF"/>
<rect x="532.3" y="471.5" width="7" height="7" fill="#00E2FF"/>
<rect x="625.5" y="448.5" width="7" height="7" fill="#00D0FF"/>
<rect x="626.5" y="455.5" width="7" height="7" fill="#00D0FF"/>
<rect x="736.2" y="427.5" width="7" height="7" fill="#00BAFF"/>
<rect x="737.2" y="434.5" width="7" height="7" fill="#00BAFF"/>
<rect x="845.9" y="412.1" width="7" height="7" fill="#30A0FF"/>
<rect x="846.9" y="419.1" width="7" height="7" fill="#30A0FF"/>
<rect x="1050.0" y="373.2" width="7" height="7" fill="#8A7AFF"/>
<rect x="1051.0" y="380.2" width="7" height="7" fill="#8A7AFF"/>
<rect x="866.5" y="401.5" width="7" height="7" fill="#30A0FF"/>
<rect x="867.5" y="408.5" width="7" height="7" fill="#30A0FF"/>
<rect x="1201.5" y="364.5" width="7" height="7" fill="#C058FF"/>
<rect x="1202.5" y="371.5" width="7" height="7" fill="#C058FF"/>
<rect x="1286.5" y="348.5" width="7" height="7" fill="#EE34FF"/>
<rect x="1287.5" y="355.5" width="7" height="7" fill="#EE34FF"/>
<rect x="1415.2" y="749.9" width="5" height="5" fill="#FF18FF"/>
<rect x="1195.7" y="767.3" width="5" height="5" fill="#A46EFF"/>
<rect x="1243.9" y="700.9" width="5" height="5" fill="#C058FF"/>
<rect x="1298.8" y="776.6" width="5" height="5" fill="#EE34FF"/>
<rect x="1403.8" y="746.4" width="5" height="5" fill="#FF18FF"/>
<rect x="1428.7" y="708.2" width="5" height="5" fill="#FF18FF"/>
<rect x="1348.0" y="730.6" width="5" height="5" fill="#FF22FF"/>
<rect x="1271.0" y="736.1" width="5" height="5" fill="#D848FF"/>
<rect x="1444.8" y="791.7" width="5" height="5" fill="#FF18FF"/>
<rect x="1362.3" y="715.4" width="5" height="5" fill="#FF22FF"/>
<rect x="1375.9" y="720.7" width="5" height="5" fill="#FF22FF"/>
<rect x="1331.0" y="728.8" width="5" height="5" fill="#EE34FF"/>
<rect x="1403.7" y="742.7" width="5" height="5" fill="#FF18FF"/>
<rect x="1377.4" y="733.9" width="5" height="5" fill="#FF22FF"/>
<rect x="1461.3" y="753.1" width="5" height="5" fill="#FF18FF"/>
<rect x="1246.6" y="706.0" width="5" height="5" fill="#C058FF"/>
<rect x="1157.5" y="719.2" width="5" height="5" fill="#8A7AFF"/>
<rect x="1342.8" y="714.7" width="5" height="5" fill="#FF22FF"/>
<rect x="1425.2" y="732.0" width="5" height="5" fill="#FF18FF"/>
<rect x="1434.4" y="739.1" width="5" height="5" fill="#FF18FF"/>
<rect x="1313.9" y="768.3" width="5" height="5" fill="#EE34FF"/>
<rect x="1326.5" y="765.7" width="5" height="5" fill="#EE34FF"/>
<rect x="1309.7" y="744.9" width="5" height="5" fill="#EE34FF"/>
<rect x="1223.5" y="730.6" width="5" height="5" fill="#C058FF"/>
<rect x="1348.2" y="748.8" width="5" height="5" fill="#FF22FF"/>
<rect x="1154.6" y="704.2" width="5" height="5" fill="#8A7AFF"/>
<rect x="1455.8" y="725.1" width="5" height="5" fill="#FF18FF"/>
<rect x="1337.2" y="732.7" width="5" height="5" fill="#EE34FF"/>
<rect x="1247.6" y="738.1" width="5" height="5" fill="#C058FF"/>
<rect x="1243.6" y="739.0" width="5" height="5" fill="#C058FF"/>
<rect x="1156.1" y="760.1" width="5" height="5" fill="#8A7AFF"/>
<rect x="1246.7" y="722.0" width="5" height="5" fill="#C058FF"/>
<rect x="1223.9" y="718.1" width="5" height="5" fill="#C058FF"/>
<rect x="1370.9" y="708.7" width="5" height="5" fill="#FF22FF"/>
<rect x="1421.3" y="716.1" width="5" height="5" fill="#FF18FF"/>
<rect x="1219.5" y="710.8" width="5" height="5" fill="#C058FF"/>
<rect x="1206.2" y="728.1" width="5" height="5" fill="#A46EFF"/>
<rect x="1189.0" y="729.6" width="5" height="5" fill="#A46EFF"/>
<rect x="1234.3" y="735.6" width="5" height="5" fill="#C058FF"/>
<line x1="199.0" y1="867.0" x2="1509.4" y2="629.5" stroke="#000" stroke-width="2.3" />
<line x1="1790.3" y1="1010.4" x2="478.2" y2="1248.7" stroke="#000" stroke-width="2.8" />
<line x1="478.2" y1="1248.7" x2="199.0" y2="867.0" stroke="#000" stroke-width="2.4" />
<rect x="-12.0" y="-5.5" width="24" height="11" fill="#231815" transform="translate(340.8,552.3) rotate(-37.3)"/>
<rect x="-12.0" y="-5.5" width="24" height="11" fill="#231815" transform="translate(405.5,503.0) rotate(-37.3)"/>
<rect x="-12.0" y="-5.5" width="24" height="11" fill="#231815" transform="translate(470.1,453.7) rotate(-35.4)"/>
<rect x="-12.0" y="-5.5" width="24" height="11" fill="#231815" transform="translate(538.1,408.8) rotate(-33.0)"/>
<rect x="-12.0" y="-5.5" width="24" height="11" fill="#231815" transform="translate(607.1,364.9) rotate(-31.8)"/>
<rect x="-12.0" y="-5.5" width="24" height="11" fill="#231815" transform="translate(676.2,323.3) rotate(-26.5)"/>
<rect x="-12.0" y="-5.5" width="24" height="11" fill="#231815" transform="translate(751.8,292.6) rotate(-23.1)"/>
<rect x="-12.0" y="-5.5" width="24" height="11" fill="#231815" transform="translate(826.4,259.3) rotate(-24.5)"/>
<rect x="-12.0" y="-5.5" width="24" height="11" fill="#231815" transform="translate(900.3,224.9) rotate(-22.7)"/>
<rect x="-12.0" y="-5.5" width="24" height="11" fill="#231815" transform="translate(977.0,196.4) rotate(-19.7)"/>
<rect x="-12.0" y="-5.5" width="24" height="11" fill="#231815" transform="translate(1053.7,170.1) rotate(-19.3)"/>
<rect x="-12.0" y="-5.5" width="24" height="11" fill="#231815" transform="translate(1130.4,142.6) rotate(-17.7)"/>
<rect x="-12.0" y="-5.5" width="24" height="11" fill="#231815" transform="translate(1208.5,120.8) rotate(-12.3)"/>
<rect x="-12.0" y="-5.5" width="24" height="11" fill="#231815" transform="translate(1288.8,108.0) rotate(-8.1)"/>
<rect x="-12.0" y="-5.5" width="24" height="11" fill="#231815" transform="translate(1370.3,97.8) rotate(-7.1)"/>
<rect x="-11.5" y="-5.5" width="23" height="11" fill="#231815" transform="translate(472.3,757.3) rotate(-5.6)"/>
<rect x="-11.5" y="-5.5" width="23" height="11" fill="#231815" transform="translate(552.5,749.4) rotate(-4.0)"/>
<rect x="-11.5" y="-5.5" width="23" height="11" fill="#231815" transform="translate(633.7,746.1) rotate(0.8)"/>
<rect x="-11.5" y="-5.5" width="23" height="11" fill="#231815" transform="translate(714.8,751.6) rotate(1.2)"/>
<rect x="-11.5" y="-5.5" width="23" height="11" fill="#231815" transform="translate(796.0,749.4) rotate(-2.0)"/>
<rect x="-11.5" y="-5.5" width="23" height="11" fill="#231815" transform="translate(877.3,745.9) rotate(-1.7)"/>
<rect x="-11.5" y="-5.5" width="23" height="11" fill="#231815" transform="translate(958.5,744.6) rotate(-1.6)"/>
<rect x="-11.5" y="-5.5" width="23" height="11" fill="#231815" transform="translate(1039.7,741.3) rotate(-2.3)"/>
<rect x="-11.5" y="-5.5" width="23" height="11" fill="#231815" transform="translate(1121.9,738.1) rotate(-2.0)"/>
<rect x="-11.5" y="-5.5" width="23" height="11" fill="#231815" transform="translate(1203.1,735.7) rotate(-1.7)"/>
<rect x="-11.5" y="-5.5" width="23" height="11" fill="#231815" transform="translate(1285.5,733.2) rotate(-2.0)"/>
<rect x="-11.5" y="-5.5" width="23" height="11" fill="#231815" transform="translate(1365.6,730.0) rotate(-3.1)"/>
<rect x="-11.5" y="-5.5" width="23" height="11" fill="#231815" transform="translate(1446.8,724.6) rotate(-3.8)"/>
<line x1="307.8" y1="1020.5" x2="298.8" y2="1022.1" stroke="#000" stroke-width="2" />
<line x1="452.3" y1="1220.0" x2="443.3" y2="1221.6" stroke="#000" stroke-width="2" />
<line x1="640.5" y1="1219.2" x2="636.5" y2="1226.2" stroke="#000" stroke-width="1.6" />
<line x1="802.8" y1="1189.8" x2="798.8" y2="1196.8" stroke="#000" stroke-width="1.6" />
<line x1="965.1" y1="1160.3" x2="961.1" y2="1167.3" stroke="#000" stroke-width="1.6" />
<line x1="1127.4" y1="1130.8" x2="1123.4" y2="1137.8" stroke="#000" stroke-width="1.6" />
<line x1="1289.7" y1="1101.3" x2="1285.7" y2="1108.3" stroke="#000" stroke-width="1.6" />
<line x1="1452.0" y1="1071.9" x2="1448.0" y2="1078.9" stroke="#000" stroke-width="1.6" />
<line x1="1614.3" y1="1042.4" x2="1610.3" y2="1049.4" stroke="#000" stroke-width="1.6" />
<text x="242.0" y="1045.0" font-size="50" text-anchor="middle" fill="#231815" >36</text>
<text x="386.5" y="1254.0" font-size="50" text-anchor="middle" fill="#231815" >34</text>
<text x="651.8" y="1262.2" font-size="39" text-anchor="middle" fill="#231815" >1</text>
<text x="809.5" y="1232.5" font-size="39" text-anchor="middle" fill="#231815" >2</text>
<text x="982.7" y="1200.9" font-size="39" text-anchor="middle" fill="#231815" >3</text>
<text x="1140.5" y="1172.3" font-size="39" text-anchor="middle" fill="#231815" >4</text>
<text x="1307.1" y="1142.6" font-size="39" text-anchor="middle" fill="#231815" >5</text>
<text x="1466.7" y="1111.6" font-size="39" text-anchor="middle" fill="#231815" >6</text>
<text x="1625.6" y="1084.8" font-size="39" text-anchor="middle" fill="#231815" >7</text>
<text transform="translate(1058,1252) rotate(-10.3)" font-size="46" fill="#231815" textLength="234" lengthAdjust="spacingAndGlyphs">Time [yrs]</text>
<text transform="translate(116,991) rotate(62.5)" font-size="50" fill="#231815" textLength="326" lengthAdjust="spacingAndGlyphs">Latitude [°N]</text>
<circle cx="1831" cy="544.8" r="13.6" fill="#00FFFF" stroke="#222" stroke-width="1.2"/>
<text x="1905.0" y="561.0" font-size="56.5" fill="#000" textLength="247" lengthAdjust="spacingAndGlyphs">20040108</text>
<circle cx="1831" cy="624.7" r="13.6" fill="#00EEFF" stroke="#222" stroke-width="1.2"/>
<text x="1905.0" y="640.9" font-size="56.5" fill="#000" textLength="247" lengthAdjust="spacingAndGlyphs">20041118</text>
<circle cx="1831" cy="704.7" r="13.6" fill="#00DDFA" stroke="#222" stroke-width="1.2"/>
<text x="1905.0" y="720.9" font-size="56.5" fill="#000" textLength="247" lengthAdjust="spacingAndGlyphs">20050721</text>
<circle cx="1831" cy="784.6" r="13.6" fill="#00CCFF" stroke="#666" stroke-width="1.2"/>
<text x="1905.0" y="800.8" font-size="56.5" fill="#000" textLength="247" lengthAdjust="spacingAndGlyphs">20060216</text>
<circle cx="1831" cy="864.6" r="13.6" fill="#00B4FF" stroke="#666" stroke-width="1.2"/>
<text x="1905.0" y="880.8" font-size="56.5" fill="#000" textLength="247" lengthAdjust="spacingAndGlyphs">20061019</text>
<circle cx="1831" cy="944.5" r="13.6" fill="#3399FF" stroke="#666" stroke-width="1.2"/>
<text x="1905.0" y="960.7" font-size="56.5" fill="#000" textLength="247" lengthAdjust="spacingAndGlyphs">20070621</text>
<circle cx="1831" cy="1024.4" r="13.6" fill="#6688FF" stroke="#aaa" stroke-width="1.2"/>
<text x="1905.0" y="1040.6" font-size="56.5" fill="#000" textLength="247" lengthAdjust="spacingAndGlyphs">20071108</text>
<circle cx="1831" cy="1104.4" r="13.6" fill="#8080FF" stroke="#aaa" stroke-width="1.2"/>
<text x="1905.0" y="1120.6" font-size="56.5" fill="#000" textLength="247" lengthAdjust="spacingAndGlyphs">20080918</text>
<circle cx="1831" cy="1184.3" r="13.6" fill="#A070FF" stroke="#aaa" stroke-width="1.2"/>
<text x="1903.4" y="1206.5" font-size="56.5" fill="#000" textLength="247" lengthAdjust="spacingAndGlyphs">20090205</text>
<circle cx="1831" cy="1264.3" r="13.6" fill="#BB5CFF" stroke="#aaa" stroke-width="1.2"/>
<text x="1905.0" y="1280.5" font-size="56.5" fill="#000" textLength="247" lengthAdjust="spacingAndGlyphs">20090416</text>
<circle cx="1831" cy="1344.2" r="13.6" fill="#D94CFF" stroke="#aaa" stroke-width="1.2"/>
<text x="1905.0" y="1360.4" font-size="56.5" fill="#000" textLength="247" lengthAdjust="spacingAndGlyphs">20090730</text>
<circle cx="1831" cy="1424.1" r="13.6" fill="#FF33FF" stroke="#aaa" stroke-width="1.2"/>
<text x="1905.0" y="1440.3" font-size="56.5" fill="#000" textLength="247" lengthAdjust="spacingAndGlyphs">20091008</text>
<circle cx="1831" cy="1504.1" r="13.6" fill="#FF22FF" stroke="#aaa" stroke-width="1.2"/>
<text x="1905.0" y="1520.3" font-size="56.5" fill="#000" textLength="247" lengthAdjust="spacingAndGlyphs">20100401</text>
<circle cx="1831" cy="1584.0" r="13.6" fill="#FF22FF" stroke="#aaa" stroke-width="1.2"/>
<text x="1905.0" y="1600.2" font-size="56.5" fill="#000" textLength="247" lengthAdjust="spacingAndGlyphs">20100715</text>
<text x="116.5" y="1332.6" font-size="68" text-anchor="start" fill="#231815" >b)</text>
<line x1="880.2" y1="1435.5" x2="880.2" y2="2174" stroke="#808080" stroke-width="19.5" stroke-dasharray="40 16.04" stroke-dashoffset="26.5"/>
<path d="M339.5,1804.8 L342.3,1804.4 L345.1,1805.4 L347.9,1804.2 L350.8,1805.1 L353.6,1804.7 L356.4,1804.0 L359.2,1804.9 L362.0,1803.9 L365.1,1804.6 L368.3,1803.9 L371.4,1803.9 L374.6,1804.5 L377.7,1805.3 L380.9,1803.8 L384.0,1804.0 L386.0,1804.7 L388.0,1805.3 L390.0,1804.4 L394.0,1804.1 L398.0,1805.2 L401.0,1803.4 L404.0,1805.0 L407.0,1803.9 L410.0,1803.6 L412.0,1803.6 L414.0,1804.1 L417.0,1805.1 L420.0,1803.7 L423.5,1804.5 L427.0,1804.6 L430.4,1804.1 L433.8,1804.4 L437.2,1803.4 L440.6,1803.4 L444.0,1803.7 L447.1,1804.6 L450.2,1804.1 L453.2,1803.9 L456.3,1804.5 L459.4,1804.2 L462.5,1803.9 L465.6,1804.9 L468.7,1804.7 L471.8,1803.8 L474.8,1804.4 L477.9,1804.3 L481.0,1805.0 L483.8,1804.7 L486.5,1803.7 L489.2,1805.0 L492.0,1803.2 L494.8,1803.7 L497.7,1804.4 L500.5,1803.1 L503.3,1803.7 L506.2,1802.7 L509.0,1803.9 L511.7,1804.0 L514.3,1803.6 L517.0,1804.1 L519.7,1802.9 L522.3,1803.6 L525.0,1803.3 L528.2,1803.2 L531.4,1802.9 L534.6,1803.7 L537.8,1803.8 L541.0,1802.8 L544.0,1803.2 L547.0,1801.9 L550.0,1803.2 L553.0,1803.0 L556.0,1803.7 L559.0,1803.3 L562.0,1802.2 L565.0,1802.4 L568.1,1802.9 L571.2,1801.6 L574.4,1802.5 L577.5,1801.9 L580.6,1801.8 L583.8,1801.6 L586.9,1803.0 L590.0,1801.8 L592.7,1802.1 L595.3,1802.4 L598.0,1803.4 L600.7,1801.9 L603.3,1802.7 L606.0,1803.0 L609.3,1803.6 L612.7,1803.5 L616.0,1803.5 L617.5,1802.3 L619.0,1802.4 L620.5,1802.2 L622.0,1803.1 L624.7,1803.2 L627.3,1801.5 L630.0,1801.5 L631.0,1801.5 L632.0,1801.4 L633.0,1801.8 L634.0,1801.9 L636.3,1801.1 L638.6,1800.5 L640.9,1801.3 L643.2,1801.1 L645.5,1801.4 L647.8,1802.1 L650.0,1801.5 L652.3,1801.0 L654.5,1801.1 L656.8,1801.2 L658.4,1799.8 L660.0,1801.4 L661.7,1801.1 L663.3,1801.2 L664.9,1800.9 L665.6,1800.0 L666.2,1799.9 L666.9,1799.2 L667.5,1800.2 L668.2,1798.9 L670.4,1799.0 L672.5,1799.4 L674.7,1799.4 L675.8,1799.9 L676.8,1799.5 L677.9,1799.5 L679.0,1799.7 L680.1,1799.4 L681.1,1799.9 L682.2,1799.1 L683.3,1800.7 L684.4,1800.0 L685.7,1799.0 L687.0,1799.1 L688.3,1799.2 L689.6,1799.1 L690.9,1798.5 L694.1,1799.9 L697.4,1800.1 L697.5,1799.1 L697.6,1799.2 L697.7,1798.6 L697.8,1798.7 L697.9,1799.3 L698.0,1799.2 L698.1,1800.5 L698.2,1799.2 L698.3,1799.1 L698.4,1801.0 L698.5,1800.3 L698.6,1799.6 L698.7,1800.5 L698.8,1799.6 L698.9,1800.7 L699.0,1801.7 L699.1,1801.6 L699.1,1801.3 L699.2,1800.6 L699.3,1800.9 L699.3,1800.6 L699.4,1801.9 L699.5,1801.5 L699.5,1802.1 L699.6,1801.4 L699.7,1801.2 L699.7,1802.5 L699.8,1803.0 L699.9,1802.8 L699.9,1802.8 L700.0,1804.2 L700.1,1803.9 L700.1,1800.9 L700.2,1802.7 L700.3,1801.9 L700.3,1800.0 L700.4,1800.1 L700.5,1801.7 L700.5,1801.7 L700.6,1804.4 L700.7,1806.1 L700.7,1803.2 L700.8,1806.2 L700.9,1806.6 L700.9,1806.5 L701.0,1803.1 L701.2,1802.3 L701.5,1802.5 L701.8,1802.4 L702.0,1802.6 L702.2,1805.2 L702.5,1807.0 L702.8,1806.7 L703.0,1804.6 L703.2,1805.6 L703.5,1806.4 L703.8,1802.0 L704.0,1805.3 L704.2,1806.7 L704.5,1805.8 L704.8,1805.5 L705.0,1803.8 L705.1,1801.9 L705.2,1805.4 L705.3,1802.6 L705.4,1805.3 L705.5,1806.2 L705.6,1802.6 L705.7,1802.6 L705.8,1805.7 L705.9,1804.3 L706.0,1800.9 L706.1,1800.5 L706.2,1800.5 L706.3,1805.0 L706.4,1804.3 L706.5,1800.2 L706.6,1804.2 L706.7,1805.0 L706.8,1802.9 L706.9,1801.0 L707.0,1802.1 L707.1,1799.5 L707.2,1798.7 L707.3,1804.3 L707.4,1802.3 L707.5,1801.4 L707.6,1803.8 L707.7,1800.7 L707.8,1803.2 L707.9,1802.8 L708.0,1799.0 L708.2,1799.2 L708.4,1799.3 L708.6,1798.9 L708.9,1800.8 L709.1,1798.8 L709.3,1799.6 L709.5,1797.8 L709.7,1802.4 L709.9,1798.9 L710.2,1799.4 L710.4,1800.1 L710.6,1801.9 L710.8,1798.9 L711.0,1801.8 L711.2,1799.2 L711.4,1799.3 L711.7,1799.1 L711.9,1796.0 L712.1,1798.4 L712.3,1796.7 L712.5,1795.6 L712.7,1800.2 L713.0,1796.4 L713.2,1798.1 L713.4,1799.5 L713.6,1798.4 L714.5,1796.9 L715.5,1797.9 L716.4,1798.0 L717.3,1799.3 L718.2,1795.1 L719.2,1797.7 L720.1,1795.7 L721.5,1795.8 L722.8,1798.7 L724.2,1797.0 L725.5,1797.2 L726.9,1798.3 L728.2,1799.1 L731.5,1796.4 L734.7,1797.5 L736.0,1797.0 L737.3,1797.1 L738.6,1798.3 L739.9,1797.0 L741.2,1797.6 L742.4,1797.3 L743.7,1800.2 L744.9,1798.9 L746.1,1800.1 L748.1,1800.4 L750.2,1796.2 L752.2,1797.9 L754.2,1800.1 L756.2,1799.4 L758.2,1795.1 L760.3,1794.9 L762.3,1796.8 L765.1,1794.5 L768.0,1795.5 L770.9,1794.4 L773.7,1797.9 L776.9,1798.6 L780.2,1799.3 L783.4,1794.9 L786.6,1798.4 L789.9,1798.1 L791.3,1794.9 L792.6,1799.3 L794.0,1799.7 L795.4,1795.1 L796.7,1799.4 L798.1,1795.9 L799.2,1796.4 L800.2,1799.3 L801.3,1798.2 L802.4,1794.1 L803.4,1795.6 L804.5,1796.0 L805.7,1794.9 L807.0,1793.9 L808.2,1794.5 L809.4,1796.9 L810.6,1792.6 L811.8,1795.7 L813.1,1794.9 L814.3,1792.3 L815.9,1794.3 L817.6,1796.1 L819.2,1795.6 L821.9,1793.0 L824.6,1798.6 L827.3,1797.5 L828.2,1798.7 L829.2,1793.6 L830.1,1794.7 L831.0,1793.5 L831.9,1798.0 L832.9,1795.1 L833.8,1794.3 L834.9,1796.2 L836.0,1799.2 L837.0,1798.8 L838.1,1795.5 L839.2,1795.0 L840.3,1799.7 L842.5,1797.7 L844.6,1798.5 L846.8,1795.0 L847.1,1794.9 L847.4,1798.8 L847.7,1797.3 L848.0,1795.3 L848.3,1800.6 L848.5,1798.9 L848.8,1800.0 L849.1,1795.8 L849.4,1800.6 L849.7,1795.9 L850.0,1800.8 L850.6,1798.5 L851.3,1797.9 L852.0,1799.3 L852.6,1801.7 L853.2,1797.8 L853.9,1797.1 L854.5,1799.6 L855.2,1798.0 L855.9,1797.3 L856.5,1797.7 L857.1,1797.2 L857.8,1798.2 L858.5,1799.0 L859.1,1799.0 L859.8,1801.9 L860.4,1800.0 L861.0,1800.6 L861.7,1800.0 L862.4,1800.5 L863.0,1799.9 L863.4,1800.5 L863.8,1800.1 L864.2,1801.7 L864.6,1801.4 L865.0,1800.8 L865.4,1801.5 L865.8,1802.5 L866.2,1800.9 L866.7,1802.5 L867.1,1801.8 L867.5,1802.0 L867.9,1802.8 L868.3,1802.0 L868.7,1802.4 L869.1,1802.8 L869.5,1803.5 L870.0,1802.4 L870.5,1803.4 L871.0,1803.3 L871.5,1803.3 L872.0,1802.9 L872.5,1802.9 L873.0,1802.4 L873.5,1802.7 L874.0,1802.7 L874.5,1804.1 L875.0,1803.3 L875.5,1803.2 L876.0,1803.1 L876.8,1804.8 L877.6,1804.9 L878.4,1804.6 L879.2,1803.9 L880.0,1803.5 L880.8,1803.8 L881.8,1804.5 L882.8,1803.5 L883.7,1804.7 L884.7,1804.1 L885.7,1807.0 L886.0,1807.2 L886.3,1805.6 L886.6,1804.5 L886.9,1807.4 L887.2,1804.9 L887.6,1805.2 L887.9,1803.9 L888.2,1805.5 L888.5,1806.0 L888.8,1806.2 L889.1,1805.1 L889.4,1806.5 L889.7,1804.6 L890.0,1805.7 L890.3,1805.1 L890.6,1806.5 L891.0,1805.1 L891.3,1805.2 L891.6,1806.4 L891.9,1806.2 L892.2,1807.7 L892.5,1807.6 L893.1,1808.6 L893.7,1808.3 L894.3,1808.7 L894.9,1809.4 L895.5,1807.6 L896.1,1807.4 L896.7,1810.2 L897.3,1806.9 L897.9,1809.3 L898.5,1809.1 L899.1,1806.8 L899.7,1810.1 L900.3,1810.4 L900.9,1809.5 L901.5,1810.0 L902.1,1810.4 L902.7,1807.8 L903.3,1809.5 L904.3,1809.5 L905.3,1810.9 L906.2,1810.9 L907.2,1811.1 L908.2,1810.3 L909.2,1811.6 L910.2,1810.9 L911.2,1811.0 L912.1,1809.3 L913.1,1808.6 L914.1,1809.1 L915.0,1810.1 L915.8,1809.2 L916.7,1812.2 L917.6,1811.2 L918.5,1811.6 L919.3,1811.7 L920.2,1812.0 L921.1,1811.3 L921.9,1809.5 L922.8,1812.8 L924.3,1812.7 L925.9,1811.8 L927.4,1812.0 L929.0,1812.6 L930.5,1810.3 L932.1,1813.1 L933.6,1811.3 L935.0,1810.5 L936.5,1811.1 L937.9,1812.9 L939.4,1810.7 L940.8,1812.7 L942.3,1813.5 L943.7,1811.5 L945.2,1811.0 L946.6,1811.2 L947.7,1812.0 L948.8,1812.2 L949.9,1811.5 L950.9,1811.5 L952.0,1809.1 L953.1,1809.3 L954.9,1809.8 L956.7,1811.9 L958.5,1810.2 L960.3,1811.4 L962.1,1809.3 L963.9,1809.6 L965.2,1810.5 L966.6,1812.2 L968.0,1812.4 L969.3,1812.4 L970.6,1811.0 L972.0,1812.0 L973.4,1811.9 L974.7,1812.0 L977.3,1810.7 L979.9,1813.8 L982.5,1811.1 L985.1,1814.3 L987.7,1814.3 L988.9,1810.5 L990.2,1812.1 L991.4,1813.5 L992.7,1814.0 L993.9,1811.8 L995.2,1811.0 L996.4,1810.6 L997.0,1813.4 L997.6,1810.4 L998.2,1811.8 L998.8,1809.9 L999.4,1811.3 L999.9,1812.9 L1000.5,1809.5 L1001.1,1812.2 L1001.7,1810.8 L1002.3,1812.2 L1002.9,1811.4 L1004.0,1809.4 L1005.0,1811.9 L1006.1,1810.2 L1007.2,1808.2 L1008.3,1808.0 L1009.4,1809.9 L1010.4,1809.6 L1011.5,1808.9 L1014.1,1808.3 L1016.7,1809.2 L1019.3,1809.1 L1021.9,1811.3 L1024.5,1808.0 L1028.8,1811.0 L1033.2,1811.4 L1033.6,1808.6 L1034.0,1811.9 L1034.4,1811.2 L1034.8,1812.1 L1035.2,1809.7 L1035.5,1810.2 L1035.9,1810.3 L1036.3,1812.9 L1036.7,1811.4 L1037.1,1810.5 L1037.5,1810.9 L1040.4,1810.2 L1043.2,1809.2 L1046.1,1809.3 L1046.7,1812.2 L1047.4,1809.9 L1048.0,1812.4 L1048.6,1809.5 L1049.2,1809.5 L1049.9,1810.3 L1050.5,1809.0 L1053.8,1809.6 L1057.0,1811.8 L1058.7,1811.7 L1060.4,1811.5 L1062.2,1810.9 L1063.9,1812.1 L1065.6,1812.3 L1067.8,1810.8 L1070.0,1811.6 L1072.1,1809.0 L1074.3,1811.8 L1076.5,1810.8 L1078.7,1811.9 L1080.8,1811.4 L1083.0,1809.9 L1085.1,1808.8 L1087.3,1812.3 L1088.1,1809.0 L1089.0,1810.2 L1089.8,1809.6 L1090.6,1809.3 L1091.5,1811.0 L1092.3,1811.8 L1093.1,1808.9 L1093.9,1810.3 L1094.8,1808.8 L1095.6,1809.7 L1096.4,1809.0 L1097.3,1808.0 L1098.1,1807.8 L1099.9,1808.1 L1101.7,1811.0 L1103.5,1809.5 L1105.3,1808.5 L1107.1,1811.3 L1108.9,1811.8 L1109.9,1809.7 L1110.9,1808.5 L1111.8,1808.9 L1112.8,1808.5 L1113.8,1809.7 L1114.8,1808.8 L1115.8,1809.4 L1116.8,1809.6 L1117.7,1811.0 L1118.7,1812.3 L1119.7,1811.9 L1121.4,1810.6 L1123.2,1810.7 L1124.9,1811.3 L1126.6,1810.8 L1128.3,1810.7 L1130.1,1809.7 L1131.8,1810.6 L1133.5,1813.5 L1135.3,1810.2 L1137.0,1811.8 L1140.0,1812.4 L1143.1,1813.3 L1146.1,1810.8 L1149.2,1811.0 L1152.2,1811.0" fill="none" stroke="#00FFFF" stroke-width="5.0" stroke-linejoin="round"/>
<path d="M339.5,1807.4 L342.3,1807.3 L345.1,1808.2 L347.9,1807.8 L350.8,1807.6 L353.6,1805.7 L356.4,1805.6 L359.2,1806.7 L362.0,1806.9 L365.1,1805.9 L368.3,1806.0 L371.4,1804.6 L374.6,1805.2 L377.7,1806.1 L380.9,1805.8 L384.0,1805.7 L386.0,1805.5 L388.0,1803.7 L390.0,1803.1 L394.0,1803.2 L398.0,1803.9 L401.0,1804.3 L404.0,1804.8 L407.0,1804.3 L410.0,1804.2 L412.0,1804.9 L414.0,1804.9 L417.0,1804.6 L420.0,1803.1 L423.5,1804.7 L427.0,1803.7 L430.4,1805.0 L433.8,1804.4 L437.2,1803.6 L440.6,1803.2 L444.0,1803.4 L447.1,1804.2 L450.2,1804.3 L453.2,1803.1 L456.3,1803.0 L459.4,1803.9 L462.5,1804.1 L465.6,1803.7 L468.7,1803.3 L471.8,1804.1 L474.8,1802.9 L477.9,1803.5 L481.0,1803.8 L483.8,1804.5 L486.5,1803.5 L489.2,1803.6 L492.0,1802.5 L494.8,1801.7 L497.7,1801.5 L500.5,1802.6 L503.3,1801.8 L506.2,1800.8 L509.0,1799.9 L511.7,1800.6 L514.3,1800.6 L517.0,1799.8 L519.7,1799.1 L522.3,1799.6 L525.0,1799.8 L528.2,1798.2 L531.4,1797.6 L534.6,1798.0 L537.8,1797.9 L541.0,1798.3 L544.0,1797.1 L547.0,1798.2 L550.0,1797.9 L553.0,1797.3 L556.0,1796.6 L559.0,1797.9 L562.0,1796.5 L565.0,1797.3 L568.1,1796.1 L571.2,1796.0 L574.4,1797.0 L577.5,1796.1 L580.6,1797.3 L583.8,1796.3 L586.9,1795.7 L590.0,1795.7 L592.7,1796.4 L595.3,1797.2 L598.0,1798.0 L600.7,1796.7 L603.3,1797.5 L606.0,1797.5 L609.3,1798.8 L612.7,1797.0 L616.0,1796.7 L617.5,1796.2 L619.0,1796.4 L620.5,1796.9 L622.0,1796.4 L624.7,1795.8 L627.3,1796.0 L630.0,1795.6 L631.0,1793.9 L632.0,1793.1 L633.0,1794.1 L634.0,1793.3 L636.3,1791.5 L638.6,1792.5 L640.9,1791.6 L643.2,1791.2 L645.5,1790.8 L647.8,1790.1 L650.0,1789.3 L652.3,1789.4 L654.5,1789.2 L656.8,1790.0 L658.4,1787.9 L660.0,1789.1 L661.7,1787.2 L663.3,1787.1 L664.9,1787.6 L665.6,1787.1 L666.2,1785.9 L666.9,1784.7 L667.5,1785.1 L668.2,1784.4 L670.4,1786.0 L672.5,1785.0 L674.7,1785.8 L675.8,1787.3 L676.8,1786.1 L677.9,1787.4 L679.0,1787.7 L680.1,1787.1 L681.1,1785.2 L682.2,1784.7 L683.3,1784.3 L684.4,1785.5 L685.7,1783.7 L687.0,1784.2 L688.3,1784.0 L689.6,1782.4 L690.9,1781.8 L694.1,1782.8 L697.4,1781.8 L697.5,1781.5 L697.6,1782.9 L697.7,1782.5 L697.8,1782.9 L697.9,1782.8 L698.0,1784.8 L698.1,1785.5 L698.2,1785.4 L698.3,1786.5 L698.4,1785.1 L698.5,1786.0 L698.6,1786.9 L698.7,1788.3 L698.8,1788.7 L698.9,1788.1 L699.0,1788.2 L699.1,1789.0 L699.1,1789.6 L699.2,1790.9 L699.3,1789.9 L699.3,1791.6 L699.4,1791.9 L699.5,1792.5 L699.5,1792.9 L699.6,1793.0 L699.7,1792.9 L699.7,1793.3 L699.8,1793.9 L699.9,1795.2 L699.9,1794.2 L700.0,1793.7 L700.1,1797.5 L700.1,1794.9 L700.2,1794.2 L700.3,1794.5 L700.3,1798.1 L700.4,1797.1 L700.5,1801.5 L700.5,1801.4 L700.6,1802.5 L700.7,1798.6 L700.7,1797.9 L700.8,1798.5 L700.9,1801.3 L700.9,1803.0 L701.0,1801.9 L701.2,1801.1 L701.5,1802.7 L701.8,1804.4 L702.0,1805.2 L702.2,1806.1 L702.5,1807.1 L702.8,1806.5 L703.0,1803.7 L703.2,1807.6 L703.5,1803.8 L703.8,1805.0 L704.0,1803.4 L704.2,1805.1 L704.5,1801.4 L704.8,1801.2 L705.0,1800.7 L705.1,1799.7 L705.2,1803.6 L705.3,1801.4 L705.4,1799.4 L705.5,1799.4 L705.6,1802.5 L705.7,1799.1 L705.8,1797.0 L705.9,1800.0 L706.0,1798.7 L706.1,1800.2 L706.2,1794.5 L706.3,1796.2 L706.4,1797.9 L706.5,1797.5 L706.6,1797.5 L706.7,1791.8 L706.8,1792.9 L706.9,1791.4 L707.0,1791.4 L707.1,1795.6 L707.2,1792.8 L707.3,1794.5 L707.4,1790.7 L707.5,1793.2 L707.6,1790.2 L707.7,1788.6 L707.8,1791.3 L707.9,1791.9 L708.0,1786.4 L708.2,1788.9 L708.4,1788.6 L708.6,1785.7 L708.9,1786.2 L709.1,1784.3 L709.3,1784.3 L709.5,1784.1 L709.7,1785.7 L709.9,1785.6 L710.2,1782.5 L710.4,1780.9 L710.6,1782.3 L710.8,1784.0 L711.0,1780.6 L711.2,1780.9 L711.4,1779.8 L711.7,1782.9 L711.9,1780.9 L712.1,1777.6 L712.3,1777.3 L712.5,1778.7 L712.7,1779.1 L713.0,1779.2 L713.2,1775.5 L713.4,1775.5 L713.6,1778.2 L714.5,1776.0 L715.5,1774.8 L716.4,1774.5 L717.3,1777.9 L718.2,1773.6 L719.2,1774.6 L720.1,1772.9 L721.5,1772.8 L722.8,1775.0 L724.2,1775.4 L725.5,1771.1 L726.9,1769.7 L728.2,1772.4 L731.5,1769.7 L734.7,1769.0 L736.0,1774.8 L737.3,1772.4 L738.6,1775.2 L739.9,1773.2 L741.2,1776.5 L742.4,1774.4 L743.7,1773.1 L744.9,1772.7 L746.1,1776.4 L748.1,1776.6 L750.2,1777.8 L752.2,1772.5 L754.2,1775.4 L756.2,1773.5 L758.2,1774.0 L760.3,1771.5 L762.3,1772.0 L765.1,1773.2 L768.0,1775.4 L770.9,1770.3 L773.7,1772.3 L776.9,1774.3 L780.2,1775.3 L783.4,1770.7 L786.6,1770.7 L789.9,1776.1 L791.3,1775.8 L792.6,1772.4 L794.0,1769.4 L795.4,1774.2 L796.7,1770.5 L798.1,1773.2 L799.2,1771.0 L800.2,1771.8 L801.3,1767.4 L802.4,1770.7 L803.4,1766.8 L804.5,1767.5 L805.7,1769.7 L807.0,1769.2 L808.2,1764.9 L809.4,1764.7 L810.6,1765.4 L811.8,1765.7 L813.1,1764.5 L814.3,1762.5 L815.9,1763.7 L817.6,1767.1 L819.2,1768.6 L821.9,1763.9 L824.6,1767.4 L827.3,1769.0 L828.2,1765.1 L829.2,1770.4 L830.1,1766.6 L831.0,1769.9 L831.9,1770.1 L832.9,1771.0 L833.8,1769.6 L834.9,1770.7 L836.0,1772.1 L837.0,1771.6 L838.1,1773.5 L839.2,1772.7 L840.3,1773.1 L842.5,1770.9 L844.6,1774.9 L846.8,1774.4 L847.1,1773.4 L847.4,1777.0 L847.7,1777.6 L848.0,1776.1 L848.3,1775.0 L848.5,1777.2 L848.8,1775.5 L849.1,1776.1 L849.4,1778.4 L849.7,1776.8 L850.0,1779.4 L850.6,1780.3 L851.3,1777.9 L852.0,1782.0 L852.6,1779.2 L853.2,1783.5 L853.9,1784.3 L854.5,1783.2 L855.2,1780.9 L855.9,1784.1 L856.5,1783.8 L857.1,1787.7 L857.8,1783.3 L858.5,1788.1 L859.1,1789.4 L859.8,1788.3 L860.4,1788.0 L861.0,1787.3 L861.7,1789.3 L862.4,1788.8 L863.0,1790.3 L863.4,1790.6 L863.8,1789.6 L864.2,1791.3 L864.6,1792.0 L865.0,1790.7 L865.4,1791.7 L865.8,1793.0 L866.2,1792.3 L866.7,1794.2 L867.1,1793.4 L867.5,1794.9 L867.9,1794.0 L868.3,1795.2 L868.7,1796.5 L869.1,1795.5 L869.5,1796.1 L870.0,1797.0 L870.5,1797.1 L871.0,1797.0 L871.5,1797.8 L872.0,1798.2 L872.5,1800.2 L873.0,1800.1 L873.5,1801.0 L874.0,1800.0 L874.5,1801.7 L875.0,1800.8 L875.5,1802.1 L876.0,1802.8 L876.8,1802.7 L877.6,1804.2 L878.4,1804.0 L879.2,1804.5 L880.0,1806.3 L880.8,1803.7 L881.8,1807.7 L882.8,1806.7 L883.7,1806.3 L884.7,1808.4 L885.7,1806.7 L886.0,1810.1 L886.3,1808.9 L886.6,1808.5 L886.9,1810.5 L887.2,1809.7 L887.6,1809.1 L887.9,1811.8 L888.2,1809.5 L888.5,1813.0 L888.8,1811.2 L889.1,1813.2 L889.4,1815.1 L889.7,1813.9 L890.0,1814.7 L890.3,1813.7 L890.6,1813.0 L891.0,1813.5 L891.3,1814.5 L891.6,1816.8 L891.9,1816.5 L892.2,1817.3 L892.5,1819.3 L893.1,1816.7 L893.7,1817.5 L894.3,1819.7 L894.9,1817.6 L895.5,1818.0 L896.1,1819.8 L896.7,1819.3 L897.3,1820.7 L897.9,1820.6 L898.5,1822.5 L899.1,1823.0 L899.7,1821.9 L900.3,1824.0 L900.9,1823.9 L901.5,1823.0 L902.1,1826.6 L902.7,1824.3 L903.3,1824.4 L904.3,1824.6 L905.3,1827.2 L906.2,1828.6 L907.2,1828.7 L908.2,1827.6 L909.2,1827.5 L910.2,1827.0 L911.2,1830.0 L912.1,1830.1 L913.1,1829.7 L914.1,1831.3 L915.0,1831.0 L915.8,1833.4 L916.7,1833.0 L917.6,1831.5 L918.5,1834.6 L919.3,1831.6 L920.2,1834.0 L921.1,1834.0 L921.9,1833.7 L922.8,1833.5 L924.3,1836.8 L925.9,1834.1 L927.4,1836.7 L929.0,1838.6 L930.5,1835.8 L932.1,1836.5 L933.6,1838.5 L935.0,1837.7 L936.5,1837.8 L937.9,1838.0 L939.4,1835.0 L940.8,1835.1 L942.3,1834.6 L943.7,1833.1 L945.2,1836.0 L946.6,1835.2 L947.7,1834.5 L948.8,1831.2 L949.9,1834.1 L950.9,1833.3 L952.0,1831.8 L953.1,1832.5 L954.9,1831.7 L956.7,1831.2 L958.5,1831.2 L960.3,1832.1 L962.1,1831.8 L963.9,1833.4 L965.2,1835.5 L966.6,1835.7 L968.0,1836.7 L969.3,1836.6 L970.6,1835.3 L972.0,1836.8 L973.4,1836.8 L974.7,1838.6 L977.3,1837.9 L979.9,1837.2 L982.5,1839.0 L985.1,1840.7 L987.7,1838.0 L988.9,1840.2 L990.2,1836.3 L991.4,1836.8 L992.7,1836.3 L993.9,1837.9 L995.2,1838.2 L996.4,1837.0 L997.0,1834.8 L997.6,1836.6 L998.2,1833.9 L998.8,1833.0 L999.4,1835.2 L999.9,1833.6 L1000.5,1833.4 L1001.1,1832.8 L1001.7,1833.6 L1002.3,1831.1 L1002.9,1832.1 L1004.0,1831.1 L1005.0,1831.2 L1006.1,1829.1 L1007.2,1829.8 L1008.3,1828.7 L1009.4,1827.2 L1010.4,1826.3 L1011.5,1827.5 L1014.1,1825.5 L1016.7,1829.1 L1019.3,1826.3 L1021.9,1826.1 L1024.5,1826.6 L1028.8,1830.1 L1033.2,1827.9 L1033.6,1827.5 L1034.0,1827.5 L1034.4,1828.0 L1034.8,1831.1 L1035.2,1831.3 L1035.5,1832.1 L1035.9,1832.7 L1036.3,1830.5 L1036.7,1833.0 L1037.1,1832.6 L1037.5,1834.9 L1040.4,1834.5 L1043.2,1834.4 L1046.1,1830.7 L1046.7,1833.4 L1047.4,1833.1 L1048.0,1832.8 L1048.6,1829.0 L1049.2,1829.0 L1049.9,1828.1 L1050.5,1827.4 L1053.8,1830.3 L1057.0,1829.7 L1058.7,1829.5 L1060.4,1830.7 L1062.2,1830.4 L1063.9,1829.4 L1065.6,1829.1 L1067.8,1829.5 L1070.0,1832.5 L1072.1,1830.7 L1074.3,1831.6 L1076.5,1832.4 L1078.7,1830.4 L1080.8,1830.9 L1083.0,1830.7 L1085.1,1832.0 L1087.3,1830.2 L1088.1,1829.6 L1089.0,1831.7 L1089.8,1829.4 L1090.6,1830.3 L1091.5,1829.0 L1092.3,1826.2 L1093.1,1827.2 L1093.9,1826.9 L1094.8,1827.8 L1095.6,1825.6 L1096.4,1826.6 L1097.3,1825.5 L1098.1,1823.8 L1099.9,1826.8 L1101.7,1824.1 L1103.5,1827.4 L1105.3,1825.3 L1107.1,1825.0 L1108.9,1826.2 L1109.9,1828.9 L1110.9,1830.2 L1111.8,1826.8 L1112.8,1829.1 L1113.8,1829.6 L1114.8,1831.2 L1115.8,1829.2 L1116.8,1830.9 L1117.7,1830.8 L1118.7,1833.1 L1119.7,1831.3 L1121.4,1834.4 L1123.2,1832.2 L1124.9,1832.3 L1126.6,1834.6 L1128.3,1834.2 L1130.1,1833.0 L1131.8,1835.5 L1133.5,1833.7 L1135.3,1836.9 L1137.0,1836.9 L1140.0,1837.4 L1143.1,1837.0 L1146.1,1836.0 L1149.2,1836.3 L1152.2,1836.5" fill="none" stroke="#00F6FF" stroke-width="5.5" stroke-linejoin="round"/>
<path d="M339.5,1810.4 L342.3,1808.5 L345.1,1809.8 L347.9,1807.7 L350.8,1807.8 L353.6,1807.6 L356.4,1808.6 L359.2,1807.5 L362.0,1806.9 L365.1,1807.7 L368.3,1806.1 L371.4,1806.3 L374.6,1806.1 L377.7,1806.3 L380.9,1806.0 L384.0,1805.6 L386.0,1804.4 L388.0,1803.8 L390.0,1802.9 L394.0,1804.3 L398.0,1803.9 L401.0,1804.1 L404.0,1802.9 L407.0,1803.5 L410.0,1804.1 L412.0,1804.6 L414.0,1804.5 L417.0,1804.5 L420.0,1804.6 L423.5,1803.4 L427.0,1803.4 L430.4,1803.6 L433.8,1804.3 L437.2,1804.5 L440.6,1803.0 L444.0,1802.9 L447.1,1803.1 L450.2,1803.2 L453.2,1803.6 L456.3,1802.9 L459.4,1803.2 L462.5,1803.0 L465.6,1804.5 L468.7,1804.0 L471.8,1802.8 L474.8,1804.5 L477.9,1802.8 L481.0,1803.4 L483.8,1804.0 L486.5,1803.1 L489.2,1802.4 L492.0,1801.3 L494.8,1800.4 L497.7,1800.8 L500.5,1799.3 L503.3,1799.1 L506.2,1799.0 L509.0,1797.9 L511.7,1798.1 L514.3,1798.3 L517.0,1797.6 L519.7,1796.7 L522.3,1796.4 L525.0,1795.6 L528.2,1794.6 L531.4,1795.2 L534.6,1794.5 L537.8,1794.8 L541.0,1794.8 L544.0,1793.6 L547.0,1793.7 L550.0,1793.8 L553.0,1792.9 L556.0,1792.2 L559.0,1793.0 L562.0,1793.1 L565.0,1792.6 L568.1,1792.4 L571.2,1792.6 L574.4,1792.2 L577.5,1792.0 L580.6,1791.5 L583.8,1791.2 L586.9,1791.7 L590.0,1790.5 L592.7,1791.7 L595.3,1792.9 L598.0,1793.2 L600.7,1793.5 L603.3,1793.2 L606.0,1794.1 L609.3,1793.9 L612.7,1794.0 L616.0,1793.3 L617.5,1793.1 L619.0,1792.8 L620.5,1790.5 L622.0,1790.7 L624.7,1790.5 L627.3,1789.2 L630.0,1788.9 L631.0,1789.1 L632.0,1786.5 L633.0,1786.7 L634.0,1785.1 L636.3,1785.9 L638.6,1785.6 L640.9,1784.3 L643.2,1782.9 L645.5,1783.3 L647.8,1782.6 L650.0,1782.3 L652.3,1781.2 L654.5,1780.8 L656.8,1780.5 L658.4,1779.2 L660.0,1778.3 L661.7,1778.7 L663.3,1776.6 L664.9,1776.8 L665.6,1775.5 L666.2,1775.5 L666.9,1773.5 L667.5,1774.6 L668.2,1772.6 L670.4,1772.7 L672.5,1773.9 L674.7,1774.8 L675.8,1774.9 L676.8,1776.5 L677.9,1777.3 L679.0,1777.1 L680.1,1775.6 L681.1,1774.7 L682.2,1773.8 L683.3,1774.1 L684.4,1773.7 L685.7,1772.2 L687.0,1770.8 L688.3,1771.2 L689.6,1769.6 L690.9,1768.4 L694.1,1767.7 L697.4,1768.4 L697.5,1769.2 L697.6,1769.5 L697.7,1769.9 L697.8,1770.8 L697.9,1770.9 L698.0,1773.1 L698.1,1772.6 L698.2,1773.9 L698.3,1774.9 L698.4,1775.7 L698.5,1775.7 L698.6,1776.1 L698.7,1777.3 L698.8,1777.2 L698.9,1779.3 L699.0,1779.1 L699.1,1780.8 L699.1,1780.3 L699.2,1781.3 L699.3,1781.7 L699.3,1782.8 L699.4,1783.0 L699.5,1783.4 L699.5,1785.5 L699.6,1785.4 L699.7,1786.0 L699.7,1786.9 L699.8,1787.9 L699.9,1788.6 L699.9,1789.7 L700.0,1791.1 L700.1,1790.0 L700.1,1794.2 L700.2,1794.4 L700.3,1790.4 L700.3,1795.7 L700.4,1796.9 L700.5,1796.9 L700.5,1793.7 L700.6,1798.6 L700.7,1798.1 L700.7,1795.2 L700.8,1795.9 L700.9,1802.2 L700.9,1801.2 L701.0,1799.4 L701.2,1799.3 L701.5,1800.3 L701.8,1801.6 L702.0,1805.6 L702.2,1803.8 L702.5,1803.4 L702.8,1808.6 L703.0,1808.7 L703.2,1804.2 L703.5,1807.8 L703.8,1805.3 L704.0,1805.6 L704.2,1804.2 L704.5,1804.8 L704.8,1803.4 L705.0,1803.0 L705.1,1798.4 L705.2,1800.7 L705.3,1799.0 L705.4,1799.5 L705.5,1797.0 L705.6,1798.9 L705.7,1796.2 L705.8,1793.8 L705.9,1792.9 L706.0,1791.6 L706.1,1793.0 L706.2,1789.7 L706.3,1791.4 L706.4,1788.7 L706.5,1790.1 L706.6,1789.4 L706.7,1788.9 L706.8,1790.2 L706.9,1784.3 L707.0,1788.6 L707.1,1785.6 L707.2,1785.5 L707.3,1785.4 L707.4,1785.7 L707.5,1782.2 L707.6,1781.7 L707.7,1784.3 L707.8,1778.2 L707.9,1780.9 L708.0,1780.2 L708.2,1775.8 L708.4,1778.6 L708.6,1778.3 L708.9,1779.1 L709.1,1774.7 L709.3,1777.9 L709.5,1774.4 L709.7,1773.5 L709.9,1775.2 L710.2,1769.3 L710.4,1772.7 L710.6,1771.5 L710.8,1769.0 L711.0,1771.4 L711.2,1767.7 L711.4,1767.7 L711.7,1767.3 L711.9,1768.0 L712.1,1763.9 L712.3,1764.6 L712.5,1763.8 L712.7,1763.8 L713.0,1764.7 L713.2,1760.8 L713.4,1763.3 L713.6,1760.0 L714.5,1759.9 L715.5,1757.7 L716.4,1758.4 L717.3,1760.5 L718.2,1757.8 L719.2,1757.8 L720.1,1754.3 L721.5,1753.5 L722.8,1752.7 L724.2,1753.7 L725.5,1753.3 L726.9,1753.4 L728.2,1748.3 L731.5,1753.1 L734.7,1754.8 L736.0,1753.5 L737.3,1751.2 L738.6,1753.4 L739.9,1752.4 L741.2,1754.2 L742.4,1759.4 L743.7,1758.3 L744.9,1759.4 L746.1,1760.9 L748.1,1761.0 L750.2,1758.7 L752.2,1758.1 L754.2,1757.5 L756.2,1757.4 L758.2,1756.3 L760.3,1756.2 L762.3,1752.9 L765.1,1755.3 L768.0,1753.7 L770.9,1755.1 L773.7,1750.8 L776.9,1751.4 L780.2,1750.6 L783.4,1755.1 L786.6,1756.6 L789.9,1755.8 L791.3,1753.4 L792.6,1755.4 L794.0,1754.4 L795.4,1752.4 L796.7,1749.8 L798.1,1749.4 L799.2,1749.4 L800.2,1748.0 L801.3,1748.0 L802.4,1748.5 L803.4,1749.5 L804.5,1743.6 L805.7,1746.0 L807.0,1742.1 L808.2,1742.0 L809.4,1745.4 L810.6,1743.4 L811.8,1744.8 L813.1,1741.3 L814.3,1738.0 L815.9,1741.1 L817.6,1743.1 L819.2,1746.0 L821.9,1746.9 L824.6,1744.5 L827.3,1744.7 L828.2,1743.6 L829.2,1747.6 L830.1,1745.8 L831.0,1746.2 L831.9,1746.1 L832.9,1746.8 L833.8,1751.6 L834.9,1749.0 L836.0,1754.8 L837.0,1750.2 L838.1,1755.6 L839.2,1751.9 L840.3,1752.0 L842.5,1756.7 L844.6,1754.4 L846.8,1757.9 L847.1,1755.4 L847.4,1755.4 L847.7,1760.5 L848.0,1760.9 L848.3,1762.5 L848.5,1762.5 L848.8,1759.4 L849.1,1763.4 L849.4,1764.7 L849.7,1763.9 L850.0,1767.5 L850.6,1764.2 L851.3,1769.3 L852.0,1768.6 L852.6,1765.1 L853.2,1765.9 L853.9,1770.5 L854.5,1772.2 L855.2,1768.6 L855.9,1770.7 L856.5,1774.0 L857.1,1771.4 L857.8,1776.3 L858.5,1774.8 L859.1,1773.1 L859.8,1775.7 L860.4,1777.4 L861.0,1777.9 L861.7,1779.1 L862.4,1778.8 L863.0,1780.9 L863.4,1780.8 L863.8,1782.0 L864.2,1782.7 L864.6,1783.0 L865.0,1783.7 L865.4,1785.2 L865.8,1786.2 L866.2,1786.6 L866.7,1786.9 L867.1,1787.1 L867.5,1787.3 L867.9,1789.9 L868.3,1790.1 L868.7,1791.0 L869.1,1790.8 L869.5,1792.0 L870.0,1793.5 L870.5,1794.0 L871.0,1794.2 L871.5,1794.4 L872.0,1795.4 L872.5,1797.0 L873.0,1796.7 L873.5,1798.1 L874.0,1798.7 L874.5,1800.0 L875.0,1800.6 L875.5,1800.3 L876.0,1800.4 L876.8,1801.7 L877.6,1802.7 L878.4,1803.8 L879.2,1804.9 L880.0,1806.6 L880.8,1803.9 L881.8,1807.8 L882.8,1808.5 L883.7,1809.5 L884.7,1809.1 L885.7,1808.7 L886.0,1811.7 L886.3,1812.3 L886.6,1812.5 L886.9,1814.2 L887.2,1812.6 L887.6,1812.3 L887.9,1814.9 L888.2,1816.6 L888.5,1815.0 L888.8,1817.9 L889.1,1819.4 L889.4,1817.3 L889.7,1819.5 L890.0,1820.5 L890.3,1820.4 L890.6,1820.1 L891.0,1821.0 L891.3,1823.7 L891.6,1824.6 L891.9,1824.0 L892.2,1823.3 L892.5,1826.9 L893.1,1827.5 L893.7,1826.0 L894.3,1828.1 L894.9,1830.1 L895.5,1830.8 L896.1,1830.1 L896.7,1830.6 L897.3,1831.8 L897.9,1830.9 L898.5,1831.6 L899.1,1832.3 L899.7,1835.1 L900.3,1834.5 L900.9,1836.0 L901.5,1836.1 L902.1,1837.3 L902.7,1836.5 L903.3,1836.8 L904.3,1841.3 L905.3,1839.6 L906.2,1839.2 L907.2,1842.0 L908.2,1843.4 L909.2,1841.6 L910.2,1844.1 L911.2,1843.8 L912.1,1845.2 L913.1,1843.9 L914.1,1844.7 L915.0,1849.2 L915.8,1849.4 L916.7,1848.6 L917.6,1849.7 L918.5,1849.2 L919.3,1852.0 L920.2,1851.3 L921.1,1854.1 L921.9,1854.1 L922.8,1855.0 L924.3,1856.2 L925.9,1854.1 L927.4,1853.8 L929.0,1855.2 L930.5,1855.7 L932.1,1856.0 L933.6,1856.5 L935.0,1857.8 L936.5,1858.3 L937.9,1856.0 L939.4,1857.2 L940.8,1856.3 L942.3,1852.2 L943.7,1853.7 L945.2,1852.1 L946.6,1850.3 L947.7,1853.0 L948.8,1849.5 L949.9,1850.0 L950.9,1849.7 L952.0,1850.2 L953.1,1848.4 L954.9,1848.0 L956.7,1848.9 L958.5,1848.4 L960.3,1852.3 L962.1,1853.1 L963.9,1850.7 L965.2,1850.7 L966.6,1852.2 L968.0,1853.3 L969.3,1856.2 L970.6,1856.9 L972.0,1857.3 L973.4,1854.8 L974.7,1858.5 L977.3,1858.7 L979.9,1859.0 L982.5,1860.9 L985.1,1857.7 L987.7,1858.6 L988.9,1860.3 L990.2,1860.3 L991.4,1858.5 L992.7,1856.3 L993.9,1856.7 L995.2,1856.7 L996.4,1853.4 L997.0,1853.5 L997.6,1852.4 L998.2,1851.1 L998.8,1851.8 L999.4,1849.8 L999.9,1849.3 L1000.5,1848.2 L1001.1,1849.5 L1001.7,1846.1 L1002.3,1848.2 L1002.9,1845.3 L1004.0,1843.9 L1005.0,1846.8 L1006.1,1843.2 L1007.2,1845.3 L1008.3,1844.3 L1009.4,1843.6 L1010.4,1839.9 L1011.5,1840.3 L1014.1,1839.3 L1016.7,1843.0 L1019.3,1843.1 L1021.9,1842.6 L1024.5,1842.3 L1028.8,1842.1 L1033.2,1844.2 L1033.6,1843.6 L1034.0,1844.9 L1034.4,1843.7 L1034.8,1844.8 L1035.2,1844.9 L1035.5,1848.2 L1035.9,1848.4 L1036.3,1847.5 L1036.7,1851.1 L1037.1,1849.4 L1037.5,1850.8 L1040.4,1849.1 L1043.2,1848.9 L1046.1,1850.5 L1046.7,1847.8 L1047.4,1846.4 L1048.0,1847.0 L1048.6,1845.6 L1049.2,1847.2 L1049.9,1843.3 L1050.5,1846.1 L1053.8,1841.8 L1057.0,1844.5 L1058.7,1844.3 L1060.4,1843.2 L1062.2,1845.0 L1063.9,1845.0 L1065.6,1845.6 L1067.8,1846.0 L1070.0,1847.2 L1072.1,1850.4 L1074.3,1851.0 L1076.5,1851.4 L1078.7,1847.4 L1080.8,1847.6 L1083.0,1849.4 L1085.1,1845.4 L1087.3,1847.4 L1088.1,1845.0 L1089.0,1847.0 L1089.8,1842.4 L1090.6,1844.9 L1091.5,1842.3 L1092.3,1840.8 L1093.1,1839.5 L1093.9,1842.1 L1094.8,1840.2 L1095.6,1838.1 L1096.4,1838.4 L1097.3,1839.6 L1098.1,1836.1 L1099.9,1838.1 L1101.7,1837.1 L1103.5,1837.9 L1105.3,1841.0 L1107.1,1841.4 L1108.9,1840.1 L1109.9,1840.3 L1110.9,1841.0 L1111.8,1843.8 L1112.8,1844.0 L1113.8,1843.9 L1114.8,1844.3 L1115.8,1846.6 L1116.8,1847.7 L1117.7,1848.8 L1118.7,1848.6 L1119.7,1847.8 L1121.4,1847.8 L1123.2,1851.1 L1124.9,1850.4 L1126.6,1852.3 L1128.3,1850.3 L1130.1,1853.9 L1131.8,1852.7 L1133.5,1855.3 L1135.3,1856.0 L1137.0,1855.2 L1140.0,1853.5 L1143.1,1857.3 L1146.1,1855.8 L1149.2,1857.6 L1152.2,1855.4" fill="none" stroke="#00EAFF" stroke-width="5.5" stroke-linejoin="round"/>
<path d="M339.5,1810.6 L342.3,1811.7 L345.1,1810.2 L347.9,1809.3 L350.8,1809.4 L353.6,1809.5 L356.4,1807.7 L359.2,1808.6 L362.0,1808.0 L365.1,1807.8 L368.3,1806.5 L371.4,1807.5 L374.6,1807.4 L377.7,1807.2 L380.9,1805.5 L384.0,1806.1 L386.0,1804.5 L388.0,1804.7 L390.0,1802.3 L394.0,1804.2 L398.0,1804.4 L401.0,1803.3 L404.0,1803.3 L407.0,1803.4 L410.0,1803.4 L412.0,1803.3 L414.0,1806.7 L417.0,1803.9 L420.0,1802.9 L423.5,1802.8 L427.0,1803.4 L430.4,1804.6 L433.8,1802.6 L437.2,1802.6 L440.6,1803.9 L444.0,1802.6 L447.1,1802.2 L450.2,1803.6 L453.2,1803.5 L456.3,1803.4 L459.4,1803.8 L462.5,1802.4 L465.6,1804.2 L468.7,1803.8 L471.8,1802.2 L474.8,1802.4 L477.9,1803.3 L481.0,1803.3 L483.8,1802.1 L486.5,1801.0 L489.2,1800.9 L492.0,1799.6 L494.8,1800.1 L497.7,1800.1 L500.5,1797.8 L503.3,1798.3 L506.2,1798.1 L509.0,1796.1 L511.7,1797.0 L514.3,1796.6 L517.0,1794.6 L519.7,1793.9 L522.3,1794.3 L525.0,1792.8 L528.2,1792.1 L531.4,1792.9 L534.6,1792.1 L537.8,1790.6 L541.0,1789.9 L544.0,1789.8 L547.0,1789.7 L550.0,1790.7 L553.0,1790.0 L556.0,1789.9 L559.0,1789.3 L562.0,1789.1 L565.0,1786.9 L568.1,1787.9 L571.2,1788.8 L574.4,1788.6 L577.5,1786.9 L580.6,1787.2 L583.8,1787.6 L586.9,1786.8 L590.0,1787.1 L592.7,1786.6 L595.3,1788.1 L598.0,1788.9 L600.7,1788.4 L603.3,1789.3 L606.0,1792.0 L609.3,1791.2 L612.7,1791.2 L616.0,1790.2 L617.5,1789.6 L619.0,1788.7 L620.5,1787.7 L622.0,1784.6 L624.7,1785.4 L627.3,1783.9 L630.0,1784.2 L631.0,1782.2 L632.0,1781.8 L633.0,1781.7 L634.0,1779.9 L636.3,1778.3 L638.6,1778.3 L640.9,1777.4 L643.2,1777.9 L645.5,1775.6 L647.8,1774.7 L650.0,1774.7 L652.3,1772.5 L654.5,1772.8 L656.8,1772.7 L658.4,1770.8 L660.0,1769.3 L661.7,1768.9 L663.3,1768.1 L664.9,1766.3 L665.6,1765.3 L666.2,1764.3 L666.9,1763.8 L667.5,1763.1 L668.2,1761.8 L670.4,1762.7 L672.5,1763.3 L674.7,1765.3 L675.8,1767.1 L676.8,1767.6 L677.9,1768.6 L679.0,1767.8 L680.1,1765.7 L681.1,1765.9 L682.2,1764.3 L683.3,1763.5 L684.4,1762.6 L685.7,1761.3 L687.0,1759.8 L688.3,1758.7 L689.6,1757.6 L690.9,1757.3 L694.1,1756.2 L697.4,1755.8 L697.5,1755.4 L697.6,1757.2 L697.7,1759.4 L697.8,1758.8 L697.9,1760.6 L698.0,1761.4 L698.1,1761.8 L698.2,1764.5 L698.3,1763.8 L698.4,1765.9 L698.5,1765.4 L698.6,1766.1 L698.7,1769.0 L698.8,1768.9 L698.9,1769.0 L699.0,1770.7 L699.1,1771.8 L699.1,1773.5 L699.2,1772.9 L699.3,1774.2 L699.3,1776.9 L699.4,1777.3 L699.5,1776.9 L699.5,1778.3 L699.6,1779.3 L699.7,1781.0 L699.7,1781.8 L699.8,1783.4 L699.9,1784.2 L699.9,1784.5 L700.0,1787.1 L700.1,1788.1 L700.1,1789.2 L700.2,1788.1 L700.3,1791.3 L700.3,1791.7 L700.4,1794.1 L700.5,1789.4 L700.5,1795.7 L700.6,1790.5 L700.7,1796.9 L700.7,1796.6 L700.8,1796.9 L700.9,1801.2 L700.9,1799.4 L701.0,1799.2 L701.2,1802.8 L701.5,1804.5 L701.8,1803.6 L702.0,1802.9 L702.2,1804.4 L702.5,1805.5 L702.8,1808.4 L703.0,1806.3 L703.2,1806.0 L703.5,1806.2 L703.8,1804.0 L704.0,1802.5 L704.2,1804.9 L704.5,1804.3 L704.8,1800.8 L705.0,1799.4 L705.1,1796.6 L705.2,1796.5 L705.3,1794.4 L705.4,1796.5 L705.5,1795.6 L705.6,1791.1 L705.7,1796.1 L705.8,1790.8 L705.9,1793.6 L706.0,1792.6 L706.1,1792.5 L706.2,1786.1 L706.3,1786.8 L706.4,1789.3 L706.5,1781.9 L706.6,1781.2 L706.7,1783.9 L706.8,1782.5 L706.9,1784.6 L707.0,1782.6 L707.1,1779.9 L707.2,1782.3 L707.3,1777.8 L707.4,1776.9 L707.5,1777.1 L707.6,1774.0 L707.7,1772.8 L707.8,1773.6 L707.9,1770.9 L708.0,1774.2 L708.2,1771.3 L708.4,1769.3 L708.6,1765.2 L708.9,1766.2 L709.1,1765.5 L709.3,1765.7 L709.5,1764.8 L709.7,1766.0 L709.9,1765.7 L710.2,1761.3 L710.4,1760.0 L710.6,1760.4 L710.8,1762.1 L711.0,1756.4 L711.2,1756.8 L711.4,1757.9 L711.7,1752.3 L711.9,1752.4 L712.1,1756.2 L712.3,1754.1 L712.5,1750.9 L712.7,1747.1 L713.0,1751.8 L713.2,1749.3 L713.4,1749.3 L713.6,1749.6 L714.5,1747.8 L715.5,1743.5 L716.4,1740.5 L717.3,1740.5 L718.2,1741.1 L719.2,1740.0 L720.1,1736.7 L721.5,1735.7 L722.8,1738.0 L724.2,1736.9 L725.5,1734.1 L726.9,1737.7 L728.2,1734.2 L731.5,1730.9 L734.7,1734.5 L736.0,1738.2 L737.3,1735.7 L738.6,1739.4 L739.9,1735.4 L741.2,1738.5 L742.4,1743.5 L743.7,1742.7 L744.9,1744.3 L746.1,1741.9 L748.1,1743.3 L750.2,1742.9 L752.2,1740.0 L754.2,1742.0 L756.2,1740.4 L758.2,1743.1 L760.3,1739.3 L762.3,1737.4 L765.1,1734.8 L768.0,1734.6 L770.9,1738.5 L773.7,1733.3 L776.9,1733.3 L780.2,1734.0 L783.4,1736.6 L786.6,1739.7 L789.9,1739.2 L791.3,1739.6 L792.6,1733.3 L794.0,1732.0 L795.4,1736.5 L796.7,1732.3 L798.1,1734.1 L799.2,1730.6 L800.2,1728.3 L801.3,1728.0 L802.4,1725.9 L803.4,1730.7 L804.5,1727.4 L805.7,1724.9 L807.0,1724.7 L808.2,1723.4 L809.4,1720.1 L810.6,1725.2 L811.8,1722.1 L813.1,1724.0 L814.3,1719.4 L815.9,1721.7 L817.6,1720.1 L819.2,1719.7 L821.9,1726.9 L824.6,1727.3 L827.3,1724.2 L828.2,1729.4 L829.2,1729.8 L830.1,1727.2 L831.0,1730.3 L831.9,1733.9 L832.9,1731.6 L833.8,1735.8 L834.9,1731.7 L836.0,1733.7 L837.0,1737.0 L838.1,1734.4 L839.2,1736.0 L840.3,1741.1 L842.5,1739.0 L844.6,1742.0 L846.8,1738.7 L847.1,1739.3 L847.4,1741.6 L847.7,1741.4 L848.0,1748.1 L848.3,1744.2 L848.5,1747.1 L848.8,1744.9 L849.1,1749.0 L849.4,1748.9 L849.7,1750.1 L850.0,1748.7 L850.6,1750.1 L851.3,1756.2 L852.0,1753.8 L852.6,1754.1 L853.2,1754.7 L853.9,1756.4 L854.5,1757.1 L855.2,1756.6 L855.9,1762.2 L856.5,1760.9 L857.1,1760.6 L857.8,1765.6 L858.5,1762.2 L859.1,1764.5 L859.8,1769.6 L860.4,1767.3 L861.0,1769.1 L861.7,1771.0 L862.4,1772.0 L863.0,1771.5 L863.4,1772.9 L863.8,1774.7 L864.2,1774.9 L864.6,1777.2 L865.0,1776.4 L865.4,1779.1 L865.8,1779.0 L866.2,1779.3 L866.7,1780.8 L867.1,1781.0 L867.5,1783.3 L867.9,1783.2 L868.3,1785.7 L868.7,1785.9 L869.1,1786.4 L869.5,1787.0 L870.0,1788.9 L870.5,1788.9 L871.0,1791.5 L871.5,1790.7 L872.0,1792.6 L872.5,1793.6 L873.0,1794.0 L873.5,1796.2 L874.0,1796.2 L874.5,1797.9 L875.0,1798.6 L875.5,1799.0 L876.0,1800.2 L876.8,1800.4 L877.6,1801.6 L878.4,1804.2 L879.2,1803.8 L880.0,1806.0 L880.8,1804.3 L881.8,1807.5 L882.8,1807.6 L883.7,1809.3 L884.7,1809.3 L885.7,1809.2 L886.0,1811.4 L886.3,1811.9 L886.6,1812.4 L886.9,1816.3 L887.2,1815.1 L887.6,1816.7 L887.9,1820.1 L888.2,1820.4 L888.5,1821.9 L888.8,1822.8 L889.1,1820.3 L889.4,1821.9 L889.7,1821.7 L890.0,1825.8 L890.3,1826.7 L890.6,1826.2 L891.0,1827.5 L891.3,1829.6 L891.6,1830.8 L891.9,1829.6 L892.2,1833.4 L892.5,1832.0 L893.1,1834.3 L893.7,1833.1 L894.3,1833.8 L894.9,1838.6 L895.5,1838.7 L896.1,1839.5 L896.7,1837.3 L897.3,1838.2 L897.9,1839.8 L898.5,1840.9 L899.1,1842.4 L899.7,1843.7 L900.3,1843.0 L900.9,1845.3 L901.5,1847.8 L902.1,1846.6 L902.7,1850.7 L903.3,1850.4 L904.3,1852.0 L905.3,1850.8 L906.2,1852.6 L907.2,1854.8 L908.2,1854.1 L909.2,1853.4 L910.2,1858.4 L911.2,1859.0 L912.1,1857.6 L913.1,1857.4 L914.1,1862.3 L915.0,1862.1 L915.8,1860.3 L916.7,1862.2 L917.6,1862.6 L918.5,1866.8 L919.3,1865.0 L920.2,1869.3 L921.1,1869.5 L921.9,1867.2 L922.8,1871.1 L924.3,1870.6 L925.9,1873.1 L927.4,1874.4 L929.0,1872.6 L930.5,1872.6 L932.1,1877.5 L933.6,1875.9 L935.0,1877.4 L936.5,1875.3 L937.9,1874.5 L939.4,1874.0 L940.8,1872.1 L942.3,1870.3 L943.7,1867.4 L945.2,1869.5 L946.6,1867.3 L947.7,1866.8 L948.8,1867.9 L949.9,1863.1 L950.9,1865.3 L952.0,1860.9 L953.1,1863.2 L954.9,1864.6 L956.7,1862.9 L958.5,1865.1 L960.3,1868.1 L962.1,1867.4 L963.9,1867.8 L965.2,1867.4 L966.6,1867.4 L968.0,1869.7 L969.3,1870.9 L970.6,1870.8 L972.0,1872.2 L973.4,1872.3 L974.7,1876.0 L977.3,1876.5 L979.9,1875.1 L982.5,1875.9 L985.1,1877.9 L987.7,1878.2 L988.9,1879.6 L990.2,1875.9 L991.4,1874.7 L992.7,1876.5 L993.9,1872.0 L995.2,1873.1 L996.4,1871.0 L997.0,1872.3 L997.6,1870.0 L998.2,1870.0 L998.8,1866.1 L999.4,1867.5 L999.9,1866.2 L1000.5,1864.5 L1001.1,1864.9 L1001.7,1864.2 L1002.3,1859.8 L1002.9,1859.6 L1004.0,1858.9 L1005.0,1857.2 L1006.1,1855.5 L1007.2,1855.5 L1008.3,1854.1 L1009.4,1855.6 L1010.4,1853.3 L1011.5,1850.7 L1014.1,1852.3 L1016.7,1853.5 L1019.3,1853.5 L1021.9,1853.0 L1024.5,1853.1 L1028.8,1853.1 L1033.2,1858.2 L1033.6,1858.0 L1034.0,1855.8 L1034.4,1859.8 L1034.8,1862.1 L1035.2,1861.0 L1035.5,1859.8 L1035.9,1862.7 L1036.3,1863.4 L1036.7,1863.2 L1037.1,1865.9 L1037.5,1864.3 L1040.4,1867.8 L1043.2,1865.7 L1046.1,1864.7 L1046.7,1865.2 L1047.4,1862.9 L1048.0,1860.0 L1048.6,1859.1 L1049.2,1857.6 L1049.9,1856.1 L1050.5,1858.7 L1053.8,1858.2 L1057.0,1854.8 L1058.7,1855.2 L1060.4,1858.4 L1062.2,1860.3 L1063.9,1861.7 L1065.6,1859.0 L1067.8,1862.8 L1070.0,1863.8 L1072.1,1864.3 L1074.3,1863.1 L1076.5,1863.2 L1078.7,1865.5 L1080.8,1862.2 L1083.0,1861.6 L1085.1,1861.7 L1087.3,1860.0 L1088.1,1861.2 L1089.0,1857.4 L1089.8,1855.5 L1090.6,1857.1 L1091.5,1856.4 L1092.3,1856.4 L1093.1,1854.9 L1093.9,1854.9 L1094.8,1854.1 L1095.6,1851.0 L1096.4,1850.0 L1097.3,1847.4 L1098.1,1847.1 L1099.9,1849.4 L1101.7,1847.9 L1103.5,1851.7 L1105.3,1850.1 L1107.1,1852.4 L1108.9,1855.8 L1109.9,1852.5 L1110.9,1853.2 L1111.8,1856.1 L1112.8,1855.8 L1113.8,1859.3 L1114.8,1856.8 L1115.8,1861.7 L1116.8,1862.7 L1117.7,1863.3 L1118.7,1862.5 L1119.7,1862.8 L1121.4,1865.4 L1123.2,1865.5 L1124.9,1865.9 L1126.6,1866.3 L1128.3,1867.7 L1130.1,1869.6 L1131.8,1871.2 L1133.5,1872.4 L1135.3,1869.7 L1137.0,1871.1 L1140.0,1872.2 L1143.1,1873.1 L1146.1,1872.3 L1149.2,1871.9 L1152.2,1871.7" fill="none" stroke="#00DCFF" stroke-width="6.5" stroke-linejoin="round"/>
<path d="M339.5,1811.8 L342.3,1811.6 L345.1,1812.4 L347.9,1811.8 L350.8,1811.3 L353.6,1811.1 L356.4,1810.6 L359.2,1809.3 L362.0,1809.3 L365.1,1807.1 L368.3,1808.2 L371.4,1807.6 L374.6,1806.4 L377.7,1806.7 L380.9,1807.2 L384.0,1805.6 L386.0,1805.2 L388.0,1803.5 L390.0,1802.8 L394.0,1804.1 L398.0,1802.0 L401.0,1802.4 L404.0,1803.6 L407.0,1803.0 L410.0,1802.2 L412.0,1804.8 L414.0,1805.4 L417.0,1804.8 L420.0,1803.3 L423.5,1803.8 L427.0,1804.1 L430.4,1803.5 L433.8,1802.7 L437.2,1802.7 L440.6,1804.3 L444.0,1803.3 L447.1,1802.2 L450.2,1804.0 L453.2,1802.6 L456.3,1802.2 L459.4,1803.2 L462.5,1802.6 L465.6,1803.2 L468.7,1803.3 L471.8,1802.5 L474.8,1803.4 L477.9,1802.2 L481.0,1803.2 L483.8,1802.6 L486.5,1800.5 L489.2,1800.5 L492.0,1798.9 L494.8,1799.1 L497.7,1799.5 L500.5,1798.1 L503.3,1797.8 L506.2,1797.3 L509.0,1795.1 L511.7,1796.4 L514.3,1794.9 L517.0,1792.7 L519.7,1793.6 L522.3,1791.8 L525.0,1790.5 L528.2,1791.9 L531.4,1790.4 L534.6,1790.4 L537.8,1788.4 L541.0,1789.4 L544.0,1787.4 L547.0,1787.4 L550.0,1787.4 L553.0,1786.2 L556.0,1787.2 L559.0,1785.9 L562.0,1785.8 L565.0,1786.4 L568.1,1785.6 L571.2,1786.6 L574.4,1785.8 L577.5,1786.2 L580.6,1785.4 L583.8,1786.1 L586.9,1785.8 L590.0,1784.0 L592.7,1786.1 L595.3,1785.9 L598.0,1787.6 L600.7,1788.1 L603.3,1789.2 L606.0,1788.2 L609.3,1788.5 L612.7,1789.0 L616.0,1789.1 L617.5,1787.4 L619.0,1784.6 L620.5,1784.8 L622.0,1782.4 L624.7,1782.8 L627.3,1782.7 L630.0,1780.3 L631.0,1781.1 L632.0,1779.3 L633.0,1777.1 L634.0,1775.8 L636.3,1775.6 L638.6,1775.8 L640.9,1774.4 L643.2,1772.4 L645.5,1771.4 L647.8,1770.6 L650.0,1771.3 L652.3,1768.8 L654.5,1768.7 L656.8,1767.0 L658.4,1767.0 L660.0,1765.2 L661.7,1763.7 L663.3,1764.4 L664.9,1762.6 L665.6,1761.9 L666.2,1761.1 L666.9,1760.3 L667.5,1757.0 L668.2,1756.7 L670.4,1757.3 L672.5,1759.3 L674.7,1761.2 L675.8,1762.3 L676.8,1761.6 L677.9,1763.2 L679.0,1763.6 L680.1,1762.1 L681.1,1760.3 L682.2,1759.3 L683.3,1757.4 L684.4,1757.9 L685.7,1755.7 L687.0,1755.7 L688.3,1753.9 L689.6,1751.5 L690.9,1750.9 L694.1,1749.8 L697.4,1750.5 L697.5,1750.8 L697.6,1750.6 L697.7,1752.0 L697.8,1753.5 L697.9,1754.9 L698.0,1756.2 L698.1,1756.8 L698.2,1757.8 L698.3,1758.1 L698.4,1760.5 L698.5,1761.0 L698.6,1761.3 L698.7,1763.5 L698.8,1765.8 L698.9,1764.6 L699.0,1766.0 L699.1,1768.3 L699.1,1768.4 L699.2,1769.5 L699.3,1771.1 L699.3,1771.6 L699.4,1773.5 L699.5,1774.4 L699.5,1776.6 L699.6,1777.7 L699.7,1776.5 L699.7,1778.8 L699.8,1780.4 L699.9,1781.7 L699.9,1782.6 L700.0,1784.0 L700.1,1785.1 L700.1,1784.2 L700.2,1784.7 L700.3,1789.5 L700.3,1791.1 L700.4,1792.7 L700.5,1791.9 L700.5,1790.2 L700.6,1794.6 L700.7,1795.5 L700.7,1795.0 L700.8,1796.9 L700.9,1796.0 L700.9,1798.5 L701.0,1798.5 L701.2,1797.2 L701.5,1800.3 L701.8,1801.3 L702.0,1807.2 L702.2,1804.7 L702.5,1805.0 L702.8,1805.2 L703.0,1806.3 L703.2,1806.0 L703.5,1803.3 L703.8,1801.3 L704.0,1806.4 L704.2,1802.3 L704.5,1801.1 L704.8,1800.8 L705.0,1797.8 L705.1,1795.8 L705.2,1793.9 L705.3,1794.5 L705.4,1793.5 L705.5,1795.4 L705.6,1793.1 L705.7,1794.8 L705.8,1789.4 L705.9,1792.5 L706.0,1789.0 L706.1,1784.3 L706.2,1783.9 L706.3,1785.8 L706.4,1787.6 L706.5,1782.0 L706.6,1783.9 L706.7,1780.3 L706.8,1782.4 L706.9,1775.6 L707.0,1777.5 L707.1,1779.4 L707.2,1773.8 L707.3,1772.6 L707.4,1769.9 L707.5,1769.8 L707.6,1769.5 L707.7,1771.5 L707.8,1766.9 L707.9,1767.2 L708.0,1764.7 L708.2,1766.5 L708.4,1767.3 L708.6,1764.6 L708.9,1760.3 L709.1,1763.1 L709.3,1763.7 L709.5,1760.0 L709.7,1755.1 L709.9,1759.3 L710.2,1758.7 L710.4,1753.8 L710.6,1751.2 L710.8,1750.5 L711.0,1752.0 L711.2,1753.3 L711.4,1750.5 L711.7,1751.5 L711.9,1745.3 L712.1,1745.0 L712.3,1747.0 L712.5,1745.2 L712.7,1742.4 L713.0,1743.3 L713.2,1739.7 L713.4,1736.6 L713.6,1738.1 L714.5,1734.3 L715.5,1737.4 L716.4,1734.2 L717.3,1734.2 L718.2,1733.8 L719.2,1730.2 L720.1,1730.6 L721.5,1726.2 L722.8,1731.7 L724.2,1728.0 L725.5,1730.0 L726.9,1722.2 L728.2,1725.2 L731.5,1727.0 L734.7,1725.3 L736.0,1724.6 L737.3,1726.2 L738.6,1727.2 L739.9,1732.7 L741.2,1728.9 L742.4,1735.3 L743.7,1733.7 L744.9,1735.7 L746.1,1737.2 L748.1,1736.1 L750.2,1735.9 L752.2,1734.6 L754.2,1731.8 L756.2,1733.9 L758.2,1729.6 L760.3,1732.1 L762.3,1731.6 L765.1,1731.2 L768.0,1727.3 L770.9,1730.1 L773.7,1731.0 L776.9,1727.4 L780.2,1726.2 L783.4,1728.1 L786.6,1732.2 L789.9,1727.4 L791.3,1725.5 L792.6,1727.8 L794.0,1728.0 L795.4,1727.7 L796.7,1723.7 L798.1,1727.1 L799.2,1720.6 L800.2,1723.3 L801.3,1717.4 L802.4,1715.9 L803.4,1715.6 L804.5,1714.0 L805.7,1716.2 L807.0,1715.6 L808.2,1711.9 L809.4,1716.3 L810.6,1711.2 L811.8,1708.7 L813.1,1707.9 L814.3,1710.9 L815.9,1713.5 L817.6,1709.2 L819.2,1709.4 L821.9,1715.8 L824.6,1712.9 L827.3,1719.2 L828.2,1716.8 L829.2,1718.9 L830.1,1718.0 L831.0,1722.4 L831.9,1721.1 L832.9,1721.2 L833.8,1726.5 L834.9,1721.9 L836.0,1727.5 L837.0,1723.7 L838.1,1729.0 L839.2,1728.3 L840.3,1732.7 L842.5,1727.8 L844.6,1732.2 L846.8,1732.0 L847.1,1736.8 L847.4,1738.1 L847.7,1737.0 L848.0,1735.2 L848.3,1736.6 L848.5,1737.8 L848.8,1740.2 L849.1,1739.8 L849.4,1740.8 L849.7,1745.9 L850.0,1746.2 L850.6,1744.9 L851.3,1751.1 L852.0,1746.6 L852.6,1750.3 L853.2,1748.5 L853.9,1754.7 L854.5,1755.9 L855.2,1752.8 L855.9,1757.4 L856.5,1759.1 L857.1,1756.3 L857.8,1757.8 L858.5,1760.1 L859.1,1764.2 L859.8,1760.1 L860.4,1764.1 L861.0,1765.0 L861.7,1765.8 L862.4,1767.3 L863.0,1769.2 L863.4,1768.6 L863.8,1771.3 L864.2,1771.2 L864.6,1773.2 L865.0,1774.5 L865.4,1774.0 L865.8,1776.7 L866.2,1778.1 L866.7,1777.5 L867.1,1777.9 L867.5,1779.2 L867.9,1782.4 L868.3,1781.1 L868.7,1784.4 L869.1,1783.6 L869.5,1786.1 L870.0,1785.7 L870.5,1787.0 L871.0,1789.3 L871.5,1789.0 L872.0,1790.7 L872.5,1793.2 L873.0,1793.8 L873.5,1795.3 L874.0,1796.7 L874.5,1795.5 L875.0,1797.1 L875.5,1799.5 L876.0,1800.4 L876.8,1799.9 L877.6,1802.1 L878.4,1802.5 L879.2,1804.1 L880.0,1803.4 L880.8,1804.1 L881.8,1809.9 L882.8,1807.8 L883.7,1811.7 L884.7,1809.2 L885.7,1812.1 L886.0,1811.5 L886.3,1814.0 L886.6,1813.9 L886.9,1817.5 L887.2,1816.0 L887.6,1819.9 L887.9,1819.9 L888.2,1819.1 L888.5,1821.3 L888.8,1823.1 L889.1,1826.2 L889.4,1824.6 L889.7,1825.1 L890.0,1829.8 L890.3,1830.5 L890.6,1830.8 L891.0,1829.7 L891.3,1830.4 L891.6,1831.9 L891.9,1832.0 L892.2,1833.0 L892.5,1836.3 L893.1,1836.9 L893.7,1838.7 L894.3,1838.9 L894.9,1838.3 L895.5,1842.6 L896.1,1843.5 L896.7,1844.1 L897.3,1845.2 L897.9,1846.9 L898.5,1849.4 L899.1,1850.0 L899.7,1850.3 L900.3,1849.9 L900.9,1850.5 L901.5,1852.1 L902.1,1855.8 L902.7,1854.1 L903.3,1855.2 L904.3,1856.4 L905.3,1856.2 L906.2,1861.4 L907.2,1857.7 L908.2,1861.7 L909.2,1864.3 L910.2,1862.1 L911.2,1864.9 L912.1,1864.9 L913.1,1865.3 L914.1,1866.2 L915.0,1866.9 L915.8,1871.4 L916.7,1872.2 L917.6,1873.9 L918.5,1870.9 L919.3,1875.0 L920.2,1874.3 L921.1,1877.0 L921.9,1877.6 L922.8,1877.5 L924.3,1881.7 L925.9,1878.0 L927.4,1882.5 L929.0,1884.0 L930.5,1883.4 L932.1,1884.7 L933.6,1887.6 L935.0,1882.9 L936.5,1883.7 L937.9,1883.2 L939.4,1880.4 L940.8,1880.9 L942.3,1878.3 L943.7,1877.8 L945.2,1877.2 L946.6,1876.4 L947.7,1873.7 L948.8,1874.1 L949.9,1872.7 L950.9,1870.1 L952.0,1871.0 L953.1,1868.3 L954.9,1872.4 L956.7,1871.3 L958.5,1873.5 L960.3,1873.6 L962.1,1874.4 L963.9,1874.2 L965.2,1874.9 L966.6,1879.7 L968.0,1878.8 L969.3,1879.8 L970.6,1880.8 L972.0,1883.3 L973.4,1881.5 L974.7,1882.2 L977.3,1886.2 L979.9,1885.2 L982.5,1886.9 L985.1,1888.6 L987.7,1889.7 L988.9,1888.5 L990.2,1883.4 L991.4,1884.0 L992.7,1885.1 L993.9,1883.9 L995.2,1879.5 L996.4,1878.6 L997.0,1877.9 L997.6,1876.0 L998.2,1876.1 L998.8,1877.1 L999.4,1874.6 L999.9,1873.1 L1000.5,1870.2 L1001.1,1870.6 L1001.7,1872.3 L1002.3,1869.7 L1002.9,1867.4 L1004.0,1866.4 L1005.0,1866.8 L1006.1,1865.5 L1007.2,1861.4 L1008.3,1862.9 L1009.4,1860.2 L1010.4,1859.8 L1011.5,1857.4 L1014.1,1858.6 L1016.7,1859.0 L1019.3,1859.8 L1021.9,1858.6 L1024.5,1860.1 L1028.8,1862.2 L1033.2,1860.1 L1033.6,1861.8 L1034.0,1865.5 L1034.4,1864.5 L1034.8,1865.8 L1035.2,1866.5 L1035.5,1870.5 L1035.9,1868.0 L1036.3,1871.8 L1036.7,1874.0 L1037.1,1871.9 L1037.5,1874.1 L1040.4,1874.9 L1043.2,1873.1 L1046.1,1871.0 L1046.7,1868.3 L1047.4,1869.1 L1048.0,1867.7 L1048.6,1868.3 L1049.2,1865.2 L1049.9,1864.7 L1050.5,1864.7 L1053.8,1864.6 L1057.0,1861.5 L1058.7,1862.7 L1060.4,1864.8 L1062.2,1867.5 L1063.9,1865.1 L1065.6,1869.9 L1067.8,1869.6 L1070.0,1868.9 L1072.1,1871.2 L1074.3,1870.5 L1076.5,1870.2 L1078.7,1872.6 L1080.8,1869.8 L1083.0,1869.6 L1085.1,1868.5 L1087.3,1869.5 L1088.1,1867.8 L1089.0,1863.2 L1089.8,1864.8 L1090.6,1863.1 L1091.5,1862.0 L1092.3,1862.8 L1093.1,1859.6 L1093.9,1858.8 L1094.8,1859.8 L1095.6,1856.5 L1096.4,1855.7 L1097.3,1854.7 L1098.1,1855.1 L1099.9,1855.4 L1101.7,1856.8 L1103.5,1856.2 L1105.3,1855.5 L1107.1,1859.5 L1108.9,1860.0 L1109.9,1862.0 L1110.9,1863.1 L1111.8,1861.0 L1112.8,1862.5 L1113.8,1862.9 L1114.8,1867.5 L1115.8,1865.1 L1116.8,1866.1 L1117.7,1870.3 L1118.7,1870.5 L1119.7,1869.1 L1121.4,1873.0 L1123.2,1874.1 L1124.9,1873.9 L1126.6,1872.8 L1128.3,1876.8 L1130.1,1876.4 L1131.8,1878.2 L1133.5,1881.1 L1135.3,1881.2 L1137.0,1882.4 L1140.0,1879.2 L1143.1,1880.5 L1146.1,1881.7 L1149.2,1879.6 L1152.2,1884.7" fill="none" stroke="#00D4FF" stroke-width="6.5" stroke-linejoin="round"/>
<path d="M339.5,1812.5 L342.3,1811.9 L345.1,1811.6 L347.9,1810.9 L350.8,1812.0 L353.6,1810.7 L356.4,1810.1 L359.2,1809.3 L362.0,1807.9 L365.1,1808.1 L368.3,1809.1 L371.4,1808.5 L374.6,1808.1 L377.7,1806.1 L380.9,1805.5 L384.0,1804.7 L386.0,1805.0 L388.0,1803.6 L390.0,1802.9 L394.0,1803.0 L398.0,1803.3 L401.0,1802.7 L404.0,1803.8 L407.0,1802.3 L410.0,1804.1 L412.0,1804.6 L414.0,1804.7 L417.0,1804.2 L420.0,1803.5 L423.5,1803.4 L427.0,1804.0 L430.4,1803.2 L433.8,1802.9 L437.2,1804.1 L440.6,1802.7 L444.0,1803.6 L447.1,1803.8 L450.2,1803.3 L453.2,1802.9 L456.3,1804.2 L459.4,1802.9 L462.5,1804.0 L465.6,1801.9 L468.7,1802.9 L471.8,1803.4 L474.8,1801.9 L477.9,1804.0 L481.0,1801.9 L483.8,1802.4 L486.5,1800.4 L489.2,1801.4 L492.0,1799.6 L494.8,1799.5 L497.7,1798.0 L500.5,1797.7 L503.3,1797.0 L506.2,1795.2 L509.0,1794.3 L511.7,1795.1 L514.3,1792.4 L517.0,1793.5 L519.7,1790.8 L522.3,1789.7 L525.0,1788.8 L528.2,1790.0 L531.4,1789.9 L534.6,1787.9 L537.8,1788.0 L541.0,1786.4 L544.0,1787.7 L547.0,1786.7 L550.0,1784.9 L553.0,1784.3 L556.0,1785.5 L559.0,1783.4 L562.0,1785.1 L565.0,1783.3 L568.1,1783.0 L571.2,1783.8 L574.4,1782.9 L577.5,1783.4 L580.6,1782.2 L583.8,1784.0 L586.9,1782.3 L590.0,1783.5 L592.7,1782.5 L595.3,1785.0 L598.0,1786.3 L600.7,1785.6 L603.3,1785.4 L606.0,1787.1 L609.3,1787.4 L612.7,1785.9 L616.0,1786.4 L617.5,1783.9 L619.0,1783.5 L620.5,1782.9 L622.0,1780.9 L624.7,1780.7 L627.3,1778.4 L630.0,1779.5 L631.0,1776.4 L632.0,1777.1 L633.0,1776.0 L634.0,1774.6 L636.3,1772.6 L638.6,1771.1 L640.9,1770.4 L643.2,1770.6 L645.5,1769.0 L647.8,1769.0 L650.0,1765.7 L652.3,1765.6 L654.5,1765.5 L656.8,1763.7 L658.4,1762.4 L660.0,1760.1 L661.7,1759.1 L663.3,1758.4 L664.9,1758.9 L665.6,1757.5 L666.2,1754.7 L666.9,1755.3 L667.5,1751.8 L668.2,1752.1 L670.4,1754.3 L672.5,1753.8 L674.7,1756.6 L675.8,1757.2 L676.8,1756.9 L677.9,1759.0 L679.0,1758.0 L680.1,1756.2 L681.1,1756.3 L682.2,1753.5 L683.3,1753.9 L684.4,1751.3 L685.7,1749.4 L687.0,1749.4 L688.3,1746.9 L689.6,1746.9 L690.9,1746.2 L694.1,1744.7 L697.4,1743.3 L697.5,1743.4 L697.6,1745.9 L697.7,1746.0 L697.8,1748.6 L697.9,1748.5 L698.0,1750.8 L698.1,1751.5 L698.2,1752.7 L698.3,1754.7 L698.4,1754.6 L698.5,1755.8 L698.6,1759.0 L698.7,1758.6 L698.8,1761.1 L698.9,1762.4 L699.0,1762.6 L699.1,1762.9 L699.1,1764.0 L699.2,1767.2 L699.3,1766.4 L699.3,1768.6 L699.4,1769.9 L699.5,1770.0 L699.5,1772.2 L699.6,1772.6 L699.7,1774.7 L699.7,1775.9 L699.8,1776.7 L699.9,1777.5 L699.9,1779.2 L700.0,1778.3 L700.1,1778.9 L700.1,1781.0 L700.2,1787.1 L700.3,1785.5 L700.3,1789.7 L700.4,1784.1 L700.5,1792.5 L700.5,1790.1 L700.6,1793.7 L700.7,1793.2 L700.7,1795.3 L700.8,1792.9 L700.9,1798.2 L700.9,1794.7 L701.0,1796.8 L701.2,1796.2 L701.5,1800.3 L701.8,1802.5 L702.0,1802.0 L702.2,1807.9 L702.5,1802.9 L702.8,1808.0 L703.0,1806.6 L703.2,1808.1 L703.5,1808.4 L703.8,1806.5 L704.0,1800.2 L704.2,1800.4 L704.5,1801.9 L704.8,1803.7 L705.0,1795.1 L705.1,1798.4 L705.2,1797.7 L705.3,1797.5 L705.4,1792.6 L705.5,1795.1 L705.6,1791.1 L705.7,1793.5 L705.8,1785.2 L705.9,1791.3 L706.0,1786.0 L706.1,1784.7 L706.2,1781.0 L706.3,1781.0 L706.4,1783.7 L706.5,1782.0 L706.6,1776.7 L706.7,1777.0 L706.8,1774.2 L706.9,1773.5 L707.0,1772.5 L707.1,1772.1 L707.2,1776.0 L707.3,1774.9 L707.4,1772.1 L707.5,1768.5 L707.6,1767.4 L707.7,1768.4 L707.8,1768.2 L707.9,1765.8 L708.0,1763.7 L708.2,1759.1 L708.4,1761.2 L708.6,1761.7 L708.9,1760.1 L709.1,1753.5 L709.3,1757.1 L709.5,1753.1 L709.7,1750.4 L709.9,1755.5 L710.2,1752.0 L710.4,1751.4 L710.6,1745.4 L710.8,1749.6 L711.0,1749.2 L711.2,1747.8 L711.4,1745.4 L711.7,1744.8 L711.9,1743.4 L712.1,1740.5 L712.3,1738.1 L712.5,1740.0 L712.7,1738.5 L713.0,1737.9 L713.2,1732.3 L713.4,1736.2 L713.6,1731.7 L714.5,1733.7 L715.5,1725.9 L716.4,1731.3 L717.3,1728.7 L718.2,1723.2 L719.2,1726.5 L720.1,1720.6 L721.5,1719.1 L722.8,1719.9 L724.2,1717.0 L725.5,1717.8 L726.9,1719.8 L728.2,1716.9 L731.5,1718.3 L734.7,1717.0 L736.0,1721.3 L737.3,1722.5 L738.6,1722.9 L739.9,1726.1 L741.2,1726.4 L742.4,1724.4 L743.7,1723.2 L744.9,1728.9 L746.1,1731.7 L748.1,1726.8 L750.2,1727.8 L752.2,1728.7 L754.2,1727.3 L756.2,1720.3 L758.2,1723.2 L760.3,1718.6 L762.3,1718.4 L765.1,1723.3 L768.0,1719.6 L770.9,1720.5 L773.7,1718.7 L776.9,1717.9 L780.2,1717.1 L783.4,1718.3 L786.6,1723.3 L789.9,1722.8 L791.3,1719.0 L792.6,1716.2 L794.0,1716.5 L795.4,1718.6 L796.7,1715.4 L798.1,1715.9 L799.2,1715.8 L800.2,1709.3 L801.3,1712.5 L802.4,1706.3 L803.4,1711.2 L804.5,1705.0 L805.7,1704.6 L807.0,1708.8 L808.2,1703.1 L809.4,1700.9 L810.6,1705.0 L811.8,1701.7 L813.1,1702.8 L814.3,1697.8 L815.9,1700.0 L817.6,1704.9 L819.2,1702.7 L821.9,1707.5 L824.6,1702.4 L827.3,1708.4 L828.2,1704.5 L829.2,1708.6 L830.1,1705.7 L831.0,1708.3 L831.9,1715.6 L832.9,1713.0 L833.8,1717.1 L834.9,1713.9 L836.0,1715.9 L837.0,1715.1 L838.1,1719.9 L839.2,1723.5 L840.3,1721.9 L842.5,1721.8 L844.6,1727.0 L846.8,1727.7 L847.1,1727.2 L847.4,1723.9 L847.7,1729.4 L848.0,1729.3 L848.3,1734.6 L848.5,1731.2 L848.8,1734.8 L849.1,1735.9 L849.4,1735.1 L849.7,1737.5 L850.0,1740.0 L850.6,1743.1 L851.3,1741.2 L852.0,1741.4 L852.6,1747.5 L853.2,1741.6 L853.9,1748.9 L854.5,1749.0 L855.2,1749.3 L855.9,1749.8 L856.5,1753.4 L857.1,1755.8 L857.8,1755.8 L858.5,1757.2 L859.1,1752.9 L859.8,1756.5 L860.4,1758.2 L861.0,1761.6 L861.7,1762.7 L862.4,1762.0 L863.0,1764.5 L863.4,1765.6 L863.8,1765.5 L864.2,1767.6 L864.6,1769.7 L865.0,1770.6 L865.4,1770.9 L865.8,1773.3 L866.2,1773.3 L866.7,1775.2 L867.1,1776.0 L867.5,1778.7 L867.9,1779.0 L868.3,1780.6 L868.7,1781.5 L869.1,1781.9 L869.5,1784.6 L870.0,1785.2 L870.5,1786.4 L871.0,1786.6 L871.5,1787.5 L872.0,1789.8 L872.5,1791.7 L873.0,1792.8 L873.5,1792.9 L874.0,1793.6 L874.5,1795.8 L875.0,1798.0 L875.5,1797.3 L876.0,1800.1 L876.8,1799.8 L877.6,1801.4 L878.4,1801.9 L879.2,1803.7 L880.0,1804.8 L880.8,1809.1 L881.8,1810.3 L882.8,1807.6 L883.7,1809.5 L884.7,1814.1 L885.7,1811.5 L886.0,1813.3 L886.3,1815.2 L886.6,1814.7 L886.9,1816.7 L887.2,1818.6 L887.6,1819.8 L887.9,1824.0 L888.2,1821.6 L888.5,1822.5 L888.8,1827.3 L889.1,1826.2 L889.4,1829.4 L889.7,1829.6 L890.0,1831.5 L890.3,1830.3 L890.6,1830.7 L891.0,1835.1 L891.3,1834.8 L891.6,1836.5 L891.9,1838.3 L892.2,1839.9 L892.5,1838.7 L893.1,1840.3 L893.7,1844.4 L894.3,1843.6 L894.9,1843.5 L895.5,1846.5 L896.1,1845.8 L896.7,1849.7 L897.3,1847.1 L897.9,1852.3 L898.5,1852.2 L899.1,1852.3 L899.7,1856.5 L900.3,1854.2 L900.9,1855.3 L901.5,1855.6 L902.1,1859.3 L902.7,1861.6 L903.3,1862.4 L904.3,1862.2 L905.3,1865.4 L906.2,1863.0 L907.2,1865.2 L908.2,1868.2 L909.2,1871.1 L910.2,1870.5 L911.2,1872.0 L912.1,1873.7 L913.1,1872.9 L914.1,1876.9 L915.0,1877.1 L915.8,1876.2 L916.7,1877.7 L917.6,1881.0 L918.5,1879.9 L919.3,1880.2 L920.2,1885.0 L921.1,1884.4 L921.9,1885.6 L922.8,1887.5 L924.3,1889.8 L925.9,1886.9 L927.4,1889.1 L929.0,1888.7 L930.5,1891.6 L932.1,1893.2 L933.6,1896.1 L935.0,1893.9 L936.5,1892.2 L937.9,1890.1 L939.4,1889.8 L940.8,1887.1 L942.3,1888.8 L943.7,1887.3 L945.2,1886.4 L946.6,1881.6 L947.7,1883.2 L948.8,1882.5 L949.9,1880.0 L950.9,1881.0 L952.0,1879.8 L953.1,1877.9 L954.9,1879.4 L956.7,1879.7 L958.5,1882.0 L960.3,1879.3 L962.1,1883.4 L963.9,1884.5 L965.2,1885.2 L966.6,1884.6 L968.0,1884.6 L969.3,1888.6 L970.6,1890.9 L972.0,1889.2 L973.4,1890.0 L974.7,1891.2 L977.3,1891.4 L979.9,1895.3 L982.5,1897.7 L985.1,1897.7 L987.7,1896.3 L988.9,1896.9 L990.2,1892.4 L991.4,1895.2 L992.7,1891.3 L993.9,1888.5 L995.2,1890.5 L996.4,1886.8 L997.0,1886.2 L997.6,1883.8 L998.2,1884.5 L998.8,1883.8 L999.4,1883.9 L999.9,1878.6 L1000.5,1881.4 L1001.1,1876.4 L1001.7,1875.8 L1002.3,1876.6 L1002.9,1873.8 L1004.0,1872.5 L1005.0,1872.5 L1006.1,1869.4 L1007.2,1871.2 L1008.3,1866.9 L1009.4,1868.9 L1010.4,1867.5 L1011.5,1864.8 L1014.1,1862.8 L1016.7,1867.4 L1019.3,1864.1 L1021.9,1867.2 L1024.5,1867.4 L1028.8,1866.0 L1033.2,1869.3 L1033.6,1871.0 L1034.0,1871.6 L1034.4,1871.8 L1034.8,1873.6 L1035.2,1875.3 L1035.5,1874.6 L1035.9,1879.2 L1036.3,1881.1 L1036.7,1881.3 L1037.1,1883.4 L1037.5,1881.4 L1040.4,1883.7 L1043.2,1877.9 L1046.1,1878.9 L1046.7,1875.9 L1047.4,1876.4 L1048.0,1876.4 L1048.6,1875.3 L1049.2,1872.8 L1049.9,1871.0 L1050.5,1869.0 L1053.8,1869.1 L1057.0,1867.5 L1058.7,1868.2 L1060.4,1872.3 L1062.2,1872.3 L1063.9,1873.1 L1065.6,1873.1 L1067.8,1876.7 L1070.0,1875.1 L1072.1,1876.5 L1074.3,1879.1 L1076.5,1880.9 L1078.7,1881.3 L1080.8,1879.0 L1083.0,1879.1 L1085.1,1877.9 L1087.3,1875.8 L1088.1,1874.6 L1089.0,1870.0 L1089.8,1869.5 L1090.6,1867.3 L1091.5,1870.5 L1092.3,1868.6 L1093.1,1866.9 L1093.9,1863.8 L1094.8,1863.1 L1095.6,1860.9 L1096.4,1862.1 L1097.3,1862.8 L1098.1,1858.0 L1099.9,1857.8 L1101.7,1859.6 L1103.5,1861.7 L1105.3,1865.6 L1107.1,1866.3 L1108.9,1865.6 L1109.9,1864.9 L1110.9,1866.1 L1111.8,1867.5 L1112.8,1871.9 L1113.8,1871.5 L1114.8,1875.4 L1115.8,1876.1 L1116.8,1876.7 L1117.7,1876.2 L1118.7,1879.2 L1119.7,1876.7 L1121.4,1877.6 L1123.2,1881.0 L1124.9,1881.8 L1126.6,1881.3 L1128.3,1882.6 L1130.1,1882.4 L1131.8,1888.0 L1133.5,1888.1 L1135.3,1890.3 L1137.0,1891.5 L1140.0,1889.1 L1143.1,1891.0 L1146.1,1889.6 L1149.2,1892.3 L1152.2,1892.8" fill="none" stroke="#00CCFF" stroke-width="6.5" stroke-linejoin="round"/>
<path d="M339.5,1812.9 L342.3,1812.0 L345.1,1812.0 L347.9,1812.5 L350.8,1811.4 L353.6,1809.8 L356.4,1811.5 L359.2,1810.9 L362.0,1809.4 L365.1,1807.7 L368.3,1809.6 L371.4,1808.1 L374.6,1806.3 L377.7,1806.5 L380.9,1806.8 L384.0,1807.1 L386.0,1804.9 L388.0,1804.3 L390.0,1802.1 L394.0,1802.2 L398.0,1804.0 L401.0,1802.6 L404.0,1801.8 L407.0,1803.2 L410.0,1801.9 L412.0,1803.6 L414.0,1805.9 L417.0,1804.9 L420.0,1803.7 L423.5,1804.1 L427.0,1803.6 L430.4,1802.4 L433.8,1804.1 L437.2,1802.0 L440.6,1803.0 L444.0,1802.6 L447.1,1803.4 L450.2,1803.5 L453.2,1802.2 L456.3,1803.3 L459.4,1803.4 L462.5,1802.8 L465.6,1801.9 L468.7,1804.0 L471.8,1803.2 L474.8,1801.7 L477.9,1802.2 L481.0,1804.3 L483.8,1801.2 L486.5,1800.6 L489.2,1800.7 L492.0,1799.9 L494.8,1798.5 L497.7,1798.0 L500.5,1795.2 L503.3,1794.6 L506.2,1796.2 L509.0,1795.0 L511.7,1791.9 L514.3,1790.9 L517.0,1790.5 L519.7,1791.5 L522.3,1788.6 L525.0,1788.9 L528.2,1789.0 L531.4,1787.5 L534.6,1787.7 L537.8,1785.3 L541.0,1784.3 L544.0,1783.5 L547.0,1785.1 L550.0,1782.9 L553.0,1784.9 L556.0,1783.7 L559.0,1781.8 L562.0,1783.1 L565.0,1780.8 L568.1,1781.7 L571.2,1780.4 L574.4,1782.1 L577.5,1782.2 L580.6,1782.1 L583.8,1779.4 L586.9,1781.6 L590.0,1780.6 L592.7,1782.2 L595.3,1782.2 L598.0,1783.4 L600.7,1784.2 L603.3,1785.7 L606.0,1784.6 L609.3,1784.1 L612.7,1785.0 L616.0,1783.8 L617.5,1782.7 L619.0,1780.2 L620.5,1780.8 L622.0,1777.4 L624.7,1778.7 L627.3,1777.8 L630.0,1775.9 L631.0,1773.6 L632.0,1773.6 L633.0,1771.0 L634.0,1770.1 L636.3,1768.3 L638.6,1769.7 L640.9,1767.6 L643.2,1766.1 L645.5,1764.4 L647.8,1764.9 L650.0,1764.0 L652.3,1762.8 L654.5,1759.5 L656.8,1759.0 L658.4,1757.6 L660.0,1757.6 L661.7,1754.7 L663.3,1754.7 L664.9,1754.5 L665.6,1752.6 L666.2,1749.2 L666.9,1748.0 L667.5,1746.8 L668.2,1747.1 L670.4,1748.2 L672.5,1749.3 L674.7,1750.4 L675.8,1751.8 L676.8,1753.8 L677.9,1755.4 L679.0,1754.7 L680.1,1752.8 L681.1,1751.6 L682.2,1750.5 L683.3,1748.9 L684.4,1747.2 L685.7,1743.9 L687.0,1744.3 L688.3,1743.3 L689.6,1740.8 L690.9,1740.6 L694.1,1737.5 L697.4,1738.6 L697.5,1738.5 L697.6,1740.6 L697.7,1740.6 L697.8,1742.1 L697.9,1743.5 L698.0,1744.8 L698.1,1745.4 L698.2,1747.7 L698.3,1750.6 L698.4,1751.0 L698.5,1753.1 L698.6,1753.9 L698.7,1755.4 L698.8,1757.2 L698.9,1757.9 L699.0,1757.8 L699.1,1759.1 L699.1,1760.9 L699.2,1761.1 L699.3,1763.0 L699.3,1766.1 L699.4,1767.6 L699.5,1767.2 L699.5,1769.8 L699.6,1771.1 L699.7,1772.8 L699.7,1773.8 L699.8,1774.4 L699.9,1774.5 L699.9,1777.9 L700.0,1776.7 L700.1,1780.7 L700.1,1779.8 L700.2,1782.5 L700.3,1787.5 L700.3,1782.0 L700.4,1786.4 L700.5,1788.8 L700.5,1789.1 L700.6,1793.8 L700.7,1790.7 L700.7,1796.3 L700.8,1795.7 L700.9,1799.4 L700.9,1793.3 L701.0,1795.6 L701.2,1797.7 L701.5,1804.2 L701.8,1798.1 L702.0,1801.5 L702.2,1806.8 L702.5,1810.4 L702.8,1805.0 L703.0,1808.5 L703.2,1809.3 L703.5,1807.9 L703.8,1807.0 L704.0,1805.7 L704.2,1800.1 L704.5,1798.8 L704.8,1795.5 L705.0,1799.7 L705.1,1794.3 L705.2,1793.4 L705.3,1798.0 L705.4,1794.0 L705.5,1792.2 L705.6,1791.5 L705.7,1789.6 L705.8,1789.1 L705.9,1784.5 L706.0,1781.2 L706.1,1779.9 L706.2,1778.1 L706.3,1779.7 L706.4,1776.6 L706.5,1775.0 L706.6,1776.9 L706.7,1779.6 L706.8,1775.9 L706.9,1771.1 L707.0,1773.9 L707.1,1767.6 L707.2,1765.7 L707.3,1766.1 L707.4,1765.6 L707.5,1766.7 L707.6,1763.3 L707.7,1764.3 L707.8,1757.7 L707.9,1763.4 L708.0,1757.1 L708.2,1759.9 L708.4,1751.9 L708.6,1757.3 L708.9,1750.9 L709.1,1754.8 L709.3,1753.1 L709.5,1750.7 L709.7,1746.0 L709.9,1742.5 L710.2,1742.7 L710.4,1747.3 L710.6,1739.8 L710.8,1742.6 L711.0,1740.7 L711.2,1740.0 L711.4,1734.7 L711.7,1733.0 L711.9,1731.3 L712.1,1737.4 L712.3,1731.1 L712.5,1732.0 L712.7,1730.0 L713.0,1725.8 L713.2,1723.1 L713.4,1721.4 L713.6,1727.1 L714.5,1719.7 L715.5,1725.3 L716.4,1718.8 L717.3,1720.5 L718.2,1714.2 L719.2,1718.3 L720.1,1712.4 L721.5,1712.0 L722.8,1712.0 L724.2,1707.2 L725.5,1707.1 L726.9,1710.4 L728.2,1704.7 L731.5,1706.9 L734.7,1711.4 L736.0,1708.2 L737.3,1709.3 L738.6,1710.8 L739.9,1713.5 L741.2,1714.7 L742.4,1718.4 L743.7,1718.4 L744.9,1723.2 L746.1,1717.7 L748.1,1721.8 L750.2,1722.1 L752.2,1716.0 L754.2,1713.2 L756.2,1715.6 L758.2,1711.9 L760.3,1713.8 L762.3,1714.9 L765.1,1709.1 L768.0,1708.6 L770.9,1711.0 L773.7,1707.8 L776.9,1708.4 L780.2,1710.3 L783.4,1707.7 L786.6,1708.6 L789.9,1712.4 L791.3,1712.0 L792.6,1714.6 L794.0,1710.1 L795.4,1704.7 L796.7,1704.7 L798.1,1707.7 L799.2,1704.9 L800.2,1706.1 L801.3,1705.6 L802.4,1703.4 L803.4,1695.8 L804.5,1701.5 L805.7,1696.7 L807.0,1693.1 L808.2,1691.3 L809.4,1696.0 L810.6,1689.3 L811.8,1687.0 L813.1,1687.3 L814.3,1691.6 L815.9,1689.2 L817.6,1692.9 L819.2,1688.9 L821.9,1693.2 L824.6,1693.3 L827.3,1693.5 L828.2,1698.7 L829.2,1697.6 L830.1,1696.9 L831.0,1705.6 L831.9,1702.7 L832.9,1701.6 L833.8,1701.6 L834.9,1708.3 L836.0,1708.4 L837.0,1705.6 L838.1,1710.7 L839.2,1714.3 L840.3,1713.9 L842.5,1712.4 L844.6,1715.6 L846.8,1717.5 L847.1,1719.3 L847.4,1716.5 L847.7,1723.4 L848.0,1726.0 L848.3,1725.7 L848.5,1728.1 L848.8,1725.4 L849.1,1731.2 L849.4,1726.6 L849.7,1728.4 L850.0,1732.9 L850.6,1736.8 L851.3,1731.4 L852.0,1733.9 L852.6,1733.8 L853.2,1738.6 L853.9,1737.5 L854.5,1739.3 L855.2,1745.4 L855.9,1745.4 L856.5,1749.8 L857.1,1746.7 L857.8,1750.5 L858.5,1746.3 L859.1,1755.5 L859.8,1750.9 L860.4,1754.5 L861.0,1756.0 L861.7,1758.7 L862.4,1758.8 L863.0,1761.6 L863.4,1761.9 L863.8,1762.1 L864.2,1765.1 L864.6,1764.7 L865.0,1768.2 L865.4,1768.0 L865.8,1768.7 L866.2,1772.1 L866.7,1771.6 L867.1,1773.2 L867.5,1774.3 L867.9,1776.5 L868.3,1776.0 L868.7,1778.4 L869.1,1779.1 L869.5,1782.3 L870.0,1781.3 L870.5,1784.4 L871.0,1784.7 L871.5,1786.6 L872.0,1788.3 L872.5,1790.1 L873.0,1789.8 L873.5,1791.4 L874.0,1792.5 L874.5,1796.2 L875.0,1795.3 L875.5,1796.6 L876.0,1799.0 L876.8,1800.5 L877.6,1802.7 L878.4,1801.7 L879.2,1803.5 L880.0,1803.7 L880.8,1807.3 L881.8,1808.0 L882.8,1809.2 L883.7,1813.3 L884.7,1813.4 L885.7,1815.9 L886.0,1817.8 L886.3,1815.3 L886.6,1820.4 L886.9,1818.7 L887.2,1818.1 L887.6,1824.3 L887.9,1821.1 L888.2,1821.9 L888.5,1824.8 L888.8,1826.1 L889.1,1831.3 L889.4,1832.1 L889.7,1830.9 L890.0,1832.8 L890.3,1836.0 L890.6,1837.1 L891.0,1837.5 L891.3,1838.1 L891.6,1837.2 L891.9,1839.3 L892.2,1842.9 L892.5,1843.9 L893.1,1846.4 L893.7,1848.3 L894.3,1849.9 L894.9,1846.9 L895.5,1847.6 L896.1,1853.5 L896.7,1853.0 L897.3,1852.2 L897.9,1856.3 L898.5,1855.2 L899.1,1856.4 L899.7,1858.5 L900.3,1860.7 L900.9,1862.9 L901.5,1860.8 L902.1,1865.9 L902.7,1866.5 L903.3,1867.0 L904.3,1869.4 L905.3,1871.5 L906.2,1868.4 L907.2,1872.3 L908.2,1874.7 L909.2,1876.2 L910.2,1877.2 L911.2,1875.9 L912.1,1881.6 L913.1,1881.9 L914.1,1880.2 L915.0,1882.6 L915.8,1886.9 L916.7,1884.0 L917.6,1886.4 L918.5,1890.8 L919.3,1891.8 L920.2,1889.4 L921.1,1893.5 L921.9,1892.8 L922.8,1895.8 L924.3,1897.6 L925.9,1895.2 L927.4,1896.9 L929.0,1898.0 L930.5,1899.5 L932.1,1899.4 L933.6,1901.2 L935.0,1901.4 L936.5,1900.1 L937.9,1896.9 L939.4,1898.4 L940.8,1899.1 L942.3,1895.7 L943.7,1893.2 L945.2,1893.8 L946.6,1891.0 L947.7,1888.3 L948.8,1888.7 L949.9,1884.9 L950.9,1887.3 L952.0,1883.2 L953.1,1883.1 L954.9,1887.7 L956.7,1887.9 L958.5,1889.5 L960.3,1889.6 L962.1,1890.9 L963.9,1892.5 L965.2,1895.2 L966.6,1892.2 L968.0,1896.6 L969.3,1895.3 L970.6,1896.3 L972.0,1900.7 L973.4,1900.8 L974.7,1903.4 L977.3,1904.5 L979.9,1903.9 L982.5,1902.7 L985.1,1902.6 L987.7,1906.5 L988.9,1906.2 L990.2,1902.4 L991.4,1899.9 L992.7,1898.3 L993.9,1897.9 L995.2,1899.5 L996.4,1894.3 L997.0,1894.2 L997.6,1892.9 L998.2,1894.0 L998.8,1894.2 L999.4,1887.4 L999.9,1886.5 L1000.5,1889.7 L1001.1,1888.5 L1001.7,1882.5 L1002.3,1882.1 L1002.9,1881.8 L1004.0,1879.3 L1005.0,1878.5 L1006.1,1877.4 L1007.2,1874.8 L1008.3,1872.3 L1009.4,1871.1 L1010.4,1870.1 L1011.5,1868.4 L1014.1,1872.1 L1016.7,1873.2 L1019.3,1871.4 L1021.9,1875.1 L1024.5,1875.5 L1028.8,1873.7 L1033.2,1875.0 L1033.6,1874.7 L1034.0,1880.2 L1034.4,1879.5 L1034.8,1878.0 L1035.2,1879.9 L1035.5,1884.3 L1035.9,1883.9 L1036.3,1887.2 L1036.7,1885.8 L1037.1,1890.3 L1037.5,1891.7 L1040.4,1886.6 L1043.2,1888.2 L1046.1,1884.8 L1046.7,1886.3 L1047.4,1885.6 L1048.0,1884.2 L1048.6,1879.7 L1049.2,1877.6 L1049.9,1879.5 L1050.5,1877.6 L1053.8,1874.1 L1057.0,1873.3 L1058.7,1876.8 L1060.4,1875.5 L1062.2,1879.8 L1063.9,1878.9 L1065.6,1880.3 L1067.8,1882.4 L1070.0,1884.1 L1072.1,1886.4 L1074.3,1883.6 L1076.5,1888.6 L1078.7,1884.7 L1080.8,1883.9 L1083.0,1884.7 L1085.1,1883.9 L1087.3,1882.3 L1088.1,1882.6 L1089.0,1877.4 L1089.8,1876.6 L1090.6,1877.3 L1091.5,1873.7 L1092.3,1871.8 L1093.1,1870.9 L1093.9,1872.6 L1094.8,1871.6 L1095.6,1869.7 L1096.4,1869.7 L1097.3,1867.5 L1098.1,1863.4 L1099.9,1864.7 L1101.7,1868.2 L1103.5,1865.8 L1105.3,1870.1 L1107.1,1868.4 L1108.9,1869.5 L1109.9,1873.3 L1110.9,1872.6 L1111.8,1878.2 L1112.8,1879.2 L1113.8,1878.2 L1114.8,1878.0 L1115.8,1878.8 L1116.8,1882.3 L1117.7,1883.6 L1118.7,1884.0 L1119.7,1887.3 L1121.4,1887.4 L1123.2,1889.9 L1124.9,1887.3 L1126.6,1888.2 L1128.3,1891.2 L1130.1,1892.8 L1131.8,1892.7 L1133.5,1896.2 L1135.3,1894.8 L1137.0,1896.5 L1140.0,1897.8 L1143.1,1899.6 L1146.1,1900.3 L1149.2,1898.5 L1152.2,1899.4" fill="none" stroke="#00C4FF" stroke-width="6.5" stroke-linejoin="round"/>
<path d="M339.5,1816.1 L342.3,1815.5 L345.1,1813.9 L347.9,1811.8 L350.8,1812.2 L353.6,1812.2 L356.4,1810.5 L359.2,1809.2 L362.0,1811.4 L365.1,1810.6 L368.3,1807.8 L371.4,1808.2 L374.6,1808.1 L377.7,1806.6 L380.9,1805.4 L384.0,1806.9 L386.0,1805.8 L388.0,1803.7 L390.0,1801.5 L394.0,1802.4 L398.0,1801.6 L401.0,1804.2 L404.0,1801.4 L407.0,1802.1 L410.0,1803.6 L412.0,1803.4 L414.0,1804.9 L417.0,1803.4 L420.0,1802.2 L423.5,1803.6 L427.0,1804.7 L430.4,1802.5 L433.8,1802.4 L437.2,1803.9 L440.6,1802.7 L444.0,1802.3 L447.1,1801.6 L450.2,1802.0 L453.2,1804.2 L456.3,1801.6 L459.4,1802.0 L462.5,1803.5 L465.6,1803.9 L468.7,1804.0 L471.8,1802.7 L474.8,1804.1 L477.9,1803.1 L481.0,1802.1 L483.8,1801.6 L486.5,1801.3 L489.2,1800.2 L492.0,1797.3 L494.8,1796.6 L497.7,1798.1 L500.5,1794.6 L503.3,1795.9 L506.2,1793.6 L509.0,1792.4 L511.7,1791.4 L514.3,1791.0 L517.0,1791.5 L519.7,1788.0 L522.3,1789.0 L525.0,1786.4 L528.2,1785.3 L531.4,1786.3 L534.6,1784.4 L537.8,1783.3 L541.0,1783.3 L544.0,1784.1 L547.0,1783.7 L550.0,1782.4 L553.0,1780.2 L556.0,1782.0 L559.0,1781.0 L562.0,1781.4 L565.0,1781.1 L568.1,1779.0 L571.2,1780.4 L574.4,1780.1 L577.5,1778.3 L580.6,1778.4 L583.8,1778.3 L586.9,1778.0 L590.0,1777.9 L592.7,1778.1 L595.3,1779.4 L598.0,1782.4 L600.7,1781.9 L603.3,1783.5 L606.0,1785.2 L609.3,1784.3 L612.7,1782.3 L616.0,1783.9 L617.5,1782.0 L619.0,1781.0 L620.5,1778.6 L622.0,1777.1 L624.7,1776.3 L627.3,1773.7 L630.0,1774.0 L631.0,1771.6 L632.0,1771.4 L633.0,1767.7 L634.0,1767.4 L636.3,1765.7 L638.6,1766.1 L640.9,1763.6 L643.2,1764.1 L645.5,1763.0 L647.8,1761.8 L650.0,1758.2 L652.3,1759.3 L654.5,1757.3 L656.8,1755.8 L658.4,1754.4 L660.0,1751.2 L661.7,1752.3 L663.3,1750.0 L664.9,1748.4 L665.6,1746.6 L666.2,1746.5 L666.9,1745.1 L667.5,1743.9 L668.2,1740.5 L670.4,1742.3 L672.5,1743.5 L674.7,1744.4 L675.8,1746.7 L676.8,1747.4 L677.9,1751.3 L679.0,1748.1 L680.1,1746.1 L681.1,1744.6 L682.2,1745.1 L683.3,1741.9 L684.4,1741.2 L685.7,1739.5 L687.0,1739.2 L688.3,1738.1 L689.6,1734.6 L690.9,1734.0 L694.1,1733.6 L697.4,1731.2 L697.5,1733.9 L697.6,1734.8 L697.7,1735.0 L697.8,1738.1 L697.9,1738.7 L698.0,1738.7 L698.1,1741.6 L698.2,1743.8 L698.3,1744.3 L698.4,1745.6 L698.5,1746.8 L698.6,1749.7 L698.7,1750.5 L698.8,1750.5 L698.9,1752.4 L699.0,1753.9 L699.1,1757.1 L699.1,1757.8 L699.2,1757.5 L699.3,1761.3 L699.3,1760.1 L699.4,1763.2 L699.5,1764.2 L699.5,1766.5 L699.6,1767.0 L699.7,1767.5 L699.7,1770.2 L699.8,1772.5 L699.9,1773.9 L699.9,1774.0 L700.0,1773.4 L700.1,1779.5 L700.1,1781.5 L700.2,1777.7 L700.3,1785.1 L700.3,1787.5 L700.4,1783.9 L700.5,1784.9 L700.5,1789.3 L700.6,1792.7 L700.7,1787.6 L700.7,1789.9 L700.8,1791.6 L700.9,1796.7 L700.9,1793.2 L701.0,1797.9 L701.2,1799.0 L701.5,1802.0 L701.8,1798.8 L702.0,1807.6 L702.2,1809.5 L702.5,1807.0 L702.8,1810.6 L703.0,1806.6 L703.2,1811.7 L703.5,1807.0 L703.8,1807.3 L704.0,1806.8 L704.2,1800.7 L704.5,1804.3 L704.8,1796.4 L705.0,1793.2 L705.1,1796.1 L705.2,1798.2 L705.3,1796.8 L705.4,1795.8 L705.5,1790.4 L705.6,1792.7 L705.7,1787.9 L705.8,1782.8 L705.9,1785.7 L706.0,1785.8 L706.1,1781.0 L706.2,1781.1 L706.3,1776.6 L706.4,1775.3 L706.5,1775.2 L706.6,1774.6 L706.7,1772.7 L706.8,1767.9 L706.9,1765.7 L707.0,1767.2 L707.1,1769.2 L707.2,1768.0 L707.3,1762.0 L707.4,1760.7 L707.5,1761.6 L707.6,1757.1 L707.7,1759.5 L707.8,1760.8 L707.9,1753.0 L708.0,1755.1 L708.2,1754.8 L708.4,1753.7 L708.6,1751.9 L708.9,1750.4 L709.1,1745.0 L709.3,1748.7 L709.5,1748.0 L709.7,1738.7 L709.9,1745.3 L710.2,1739.4 L710.4,1734.7 L710.6,1733.1 L710.8,1738.2 L711.0,1735.7 L711.2,1729.5 L711.4,1730.9 L711.7,1731.1 L711.9,1732.8 L712.1,1725.5 L712.3,1727.9 L712.5,1721.8 L712.7,1719.9 L713.0,1718.1 L713.2,1718.9 L713.4,1719.4 L713.6,1715.1 L714.5,1712.3 L715.5,1711.3 L716.4,1708.6 L717.3,1708.1 L718.2,1707.6 L719.2,1707.8 L720.1,1703.4 L721.5,1704.7 L722.8,1702.9 L724.2,1706.2 L725.5,1700.4 L726.9,1703.1 L728.2,1697.4 L731.5,1696.4 L734.7,1701.4 L736.0,1698.8 L737.3,1700.4 L738.6,1701.0 L739.9,1708.1 L741.2,1711.9 L742.4,1708.4 L743.7,1709.5 L744.9,1711.7 L746.1,1712.6 L748.1,1714.5 L750.2,1710.6 L752.2,1707.2 L754.2,1712.4 L756.2,1708.7 L758.2,1702.6 L760.3,1709.1 L762.3,1706.9 L765.1,1702.8 L768.0,1704.6 L770.9,1706.5 L773.7,1701.1 L776.9,1701.5 L780.2,1700.5 L783.4,1702.9 L786.6,1705.4 L789.9,1707.4 L791.3,1707.9 L792.6,1699.3 L794.0,1699.8 L795.4,1702.7 L796.7,1700.7 L798.1,1697.5 L799.2,1696.8 L800.2,1692.4 L801.3,1696.4 L802.4,1691.4 L803.4,1688.6 L804.5,1685.2 L805.7,1683.3 L807.0,1689.0 L808.2,1686.8 L809.4,1678.5 L810.6,1679.9 L811.8,1679.9 L813.1,1678.8 L814.3,1676.3 L815.9,1682.6 L817.6,1679.3 L819.2,1682.6 L821.9,1687.4 L824.6,1686.1 L827.3,1685.9 L828.2,1686.1 L829.2,1688.1 L830.1,1691.6 L831.0,1694.7 L831.9,1691.5 L832.9,1694.0 L833.8,1695.7 L834.9,1696.9 L836.0,1703.3 L837.0,1701.4 L838.1,1700.4 L839.2,1702.4 L840.3,1708.2 L842.5,1703.4 L844.6,1709.3 L846.8,1704.4 L847.1,1707.5 L847.4,1707.8 L847.7,1716.0 L848.0,1711.6 L848.3,1713.9 L848.5,1713.9 L848.8,1717.3 L849.1,1723.0 L849.4,1724.4 L849.7,1727.7 L850.0,1729.5 L850.6,1727.5 L851.3,1732.4 L852.0,1726.4 L852.6,1735.5 L853.2,1732.6 L853.9,1731.9 L854.5,1738.5 L855.2,1741.0 L855.9,1738.3 L856.5,1737.2 L857.1,1745.7 L857.8,1746.2 L858.5,1746.3 L859.1,1751.3 L859.8,1744.4 L860.4,1748.7 L861.0,1750.5 L861.7,1751.7 L862.4,1755.3 L863.0,1756.6 L863.4,1756.5 L863.8,1758.1 L864.2,1759.6 L864.6,1762.3 L865.0,1763.9 L865.4,1766.3 L865.8,1765.9 L866.2,1769.2 L866.7,1769.0 L867.1,1770.3 L867.5,1771.3 L867.9,1772.7 L868.3,1776.4 L868.7,1777.9 L869.1,1778.4 L869.5,1778.3 L870.0,1779.8 L870.5,1781.2 L871.0,1783.2 L871.5,1785.9 L872.0,1785.3 L872.5,1788.2 L873.0,1790.1 L873.5,1789.7 L874.0,1792.4 L874.5,1794.9 L875.0,1795.7 L875.5,1796.8 L876.0,1799.6 L876.8,1800.2 L877.6,1800.8 L878.4,1802.5 L879.2,1805.5 L880.0,1807.8 L880.8,1809.6 L881.8,1809.0 L882.8,1808.0 L883.7,1809.7 L884.7,1812.5 L885.7,1815.9 L886.0,1813.3 L886.3,1819.5 L886.6,1820.9 L886.9,1820.7 L887.2,1819.1 L887.6,1825.3 L887.9,1824.5 L888.2,1827.5 L888.5,1828.3 L888.8,1830.8 L889.1,1830.3 L889.4,1835.1 L889.7,1836.5 L890.0,1837.8 L890.3,1837.4 L890.6,1837.1 L891.0,1838.9 L891.3,1839.7 L891.6,1845.0 L891.9,1845.8 L892.2,1847.2 L892.5,1848.9 L893.1,1851.3 L893.7,1850.9 L894.3,1850.2 L894.9,1854.2 L895.5,1852.7 L896.1,1856.2 L896.7,1855.0 L897.3,1860.6 L897.9,1859.8 L898.5,1860.0 L899.1,1865.3 L899.7,1861.7 L900.3,1868.2 L900.9,1868.6 L901.5,1866.4 L902.1,1871.5 L902.7,1871.8 L903.3,1875.3 L904.3,1874.8 L905.3,1875.3 L906.2,1879.8 L907.2,1876.1 L908.2,1881.7 L909.2,1879.1 L910.2,1881.6 L911.2,1882.1 L912.1,1888.0 L913.1,1886.9 L914.1,1890.0 L915.0,1888.7 L915.8,1892.9 L916.7,1893.9 L917.6,1892.0 L918.5,1895.9 L919.3,1898.7 L920.2,1897.1 L921.1,1901.1 L921.9,1900.3 L922.8,1902.3 L924.3,1906.9 L925.9,1908.4 L927.4,1910.0 L929.0,1907.9 L930.5,1910.0 L932.1,1912.8 L933.6,1913.8 L935.0,1910.5 L936.5,1911.5 L937.9,1907.3 L939.4,1909.1 L940.8,1904.8 L942.3,1901.3 L943.7,1903.6 L945.2,1898.6 L946.6,1900.3 L947.7,1895.2 L948.8,1899.5 L949.9,1895.4 L950.9,1895.3 L952.0,1890.2 L953.1,1891.9 L954.9,1891.7 L956.7,1892.3 L958.5,1897.1 L960.3,1893.7 L962.1,1897.8 L963.9,1896.8 L965.2,1902.7 L966.6,1904.4 L968.0,1900.6 L969.3,1904.6 L970.6,1906.0 L972.0,1908.8 L973.4,1910.3 L974.7,1909.3 L977.3,1913.9 L979.9,1910.5 L982.5,1911.3 L985.1,1916.4 L987.7,1913.3 L988.9,1912.2 L990.2,1912.7 L991.4,1910.3 L992.7,1907.8 L993.9,1910.9 L995.2,1906.8 L996.4,1907.2 L997.0,1902.5 L997.6,1904.9 L998.2,1899.2 L998.8,1901.8 L999.4,1898.5 L999.9,1899.2 L1000.5,1896.4 L1001.1,1894.1 L1001.7,1891.9 L1002.3,1892.3 L1002.9,1888.3 L1004.0,1884.8 L1005.0,1888.2 L1006.1,1886.0 L1007.2,1883.8 L1008.3,1882.7 L1009.4,1878.1 L1010.4,1878.0 L1011.5,1878.6 L1014.1,1880.2 L1016.7,1880.8 L1019.3,1877.0 L1021.9,1880.9 L1024.5,1880.9 L1028.8,1880.4 L1033.2,1879.5 L1033.6,1880.8 L1034.0,1884.3 L1034.4,1885.9 L1034.8,1886.0 L1035.2,1888.1 L1035.5,1890.7 L1035.9,1893.4 L1036.3,1893.9 L1036.7,1892.8 L1037.1,1898.6 L1037.5,1897.0 L1040.4,1899.3 L1043.2,1898.1 L1046.1,1891.8 L1046.7,1893.0 L1047.4,1893.9 L1048.0,1889.0 L1048.6,1888.5 L1049.2,1885.7 L1049.9,1882.5 L1050.5,1882.1 L1053.8,1880.4 L1057.0,1880.2 L1058.7,1883.7 L1060.4,1884.7 L1062.2,1888.5 L1063.9,1888.4 L1065.6,1887.9 L1067.8,1892.6 L1070.0,1892.0 L1072.1,1892.7 L1074.3,1895.9 L1076.5,1895.9 L1078.7,1892.8 L1080.8,1893.1 L1083.0,1890.0 L1085.1,1892.8 L1087.3,1887.2 L1088.1,1890.1 L1089.0,1883.2 L1089.8,1881.4 L1090.6,1883.2 L1091.5,1879.7 L1092.3,1880.1 L1093.1,1876.3 L1093.9,1879.2 L1094.8,1876.7 L1095.6,1875.4 L1096.4,1875.4 L1097.3,1874.4 L1098.1,1871.0 L1099.9,1872.6 L1101.7,1869.7 L1103.5,1871.3 L1105.3,1875.0 L1107.1,1879.6 L1108.9,1877.0 L1109.9,1879.9 L1110.9,1878.0 L1111.8,1881.8 L1112.8,1886.1 L1113.8,1885.6 L1114.8,1888.5 L1115.8,1885.0 L1116.8,1887.5 L1117.7,1888.8 L1118.7,1894.1 L1119.7,1891.1 L1121.4,1897.3 L1123.2,1894.6 L1124.9,1899.5 L1126.6,1898.6 L1128.3,1898.7 L1130.1,1903.8 L1131.8,1901.7 L1133.5,1904.7 L1135.3,1902.1 L1137.0,1908.0 L1140.0,1909.3 L1143.1,1904.6 L1146.1,1908.9 L1149.2,1906.5 L1152.2,1906.3" fill="none" stroke="#00BAFF" stroke-width="6.5" stroke-linejoin="round"/>
<path d="M339.5,1815.2 L342.3,1815.5 L345.1,1815.8 L347.9,1815.3 L350.8,1814.6 L353.6,1812.8 L356.4,1812.2 L359.2,1810.0 L362.0,1811.2 L365.1,1810.0 L368.3,1808.8 L371.4,1809.9 L374.6,1807.3 L377.7,1806.3 L380.9,1805.8 L384.0,1805.1 L386.0,1805.3 L388.0,1804.8 L390.0,1801.5 L394.0,1802.6 L398.0,1802.9 L401.0,1802.8 L404.0,1802.4 L407.0,1802.8 L410.0,1801.1 L412.0,1803.0 L414.0,1806.0 L417.0,1803.9 L420.0,1804.0 L423.5,1802.6 L427.0,1804.7 L430.4,1802.6 L433.8,1802.0 L437.2,1803.0 L440.6,1802.5 L444.0,1802.1 L447.1,1803.5 L450.2,1801.7 L453.2,1803.2 L456.3,1803.7 L459.4,1802.5 L462.5,1802.6 L465.6,1804.0 L468.7,1803.0 L471.8,1801.6 L474.8,1801.3 L477.9,1801.3 L481.0,1802.1 L483.8,1800.1 L486.5,1800.8 L489.2,1798.9 L492.0,1797.3 L494.8,1797.0 L497.7,1797.4 L500.5,1794.3 L503.3,1793.0 L506.2,1792.6 L509.0,1791.7 L511.7,1792.4 L514.3,1790.6 L517.0,1788.6 L519.7,1786.7 L522.3,1785.1 L525.0,1784.3 L528.2,1785.9 L531.4,1784.5 L534.6,1782.2 L537.8,1783.0 L541.0,1780.4 L544.0,1781.3 L547.0,1780.3 L550.0,1779.0 L553.0,1780.5 L556.0,1779.9 L559.0,1778.7 L562.0,1777.1 L565.0,1778.2 L568.1,1777.3 L571.2,1777.8 L574.4,1775.8 L577.5,1778.2 L580.6,1775.1 L583.8,1775.6 L586.9,1776.0 L590.0,1775.1 L592.7,1775.8 L595.3,1778.8 L598.0,1780.8 L600.7,1779.7 L603.3,1780.6 L606.0,1782.9 L609.3,1780.9 L612.7,1781.0 L616.0,1781.4 L617.5,1778.9 L619.0,1776.3 L620.5,1774.3 L622.0,1774.2 L624.7,1774.6 L627.3,1773.3 L630.0,1769.6 L631.0,1769.2 L632.0,1767.5 L633.0,1764.9 L634.0,1764.7 L636.3,1763.0 L638.6,1762.9 L640.9,1760.1 L643.2,1761.0 L645.5,1759.4 L647.8,1756.9 L650.0,1754.4 L652.3,1754.0 L654.5,1751.4 L656.8,1751.7 L658.4,1750.3 L660.0,1748.5 L661.7,1748.3 L663.3,1743.9 L664.9,1744.6 L665.6,1743.3 L666.2,1739.5 L666.9,1738.6 L667.5,1736.2 L668.2,1736.3 L670.4,1738.3 L672.5,1738.7 L674.7,1741.4 L675.8,1742.1 L676.8,1744.9 L677.9,1745.2 L679.0,1745.8 L680.1,1742.5 L681.1,1739.4 L682.2,1738.1 L683.3,1738.4 L684.4,1737.2 L685.7,1734.8 L687.0,1731.6 L688.3,1732.3 L689.6,1730.1 L690.9,1726.5 L694.1,1726.1 L697.4,1725.7 L697.5,1725.1 L697.6,1726.8 L697.7,1729.4 L697.8,1732.6 L697.9,1734.5 L698.0,1733.9 L698.1,1737.4 L698.2,1738.5 L698.3,1740.4 L698.4,1741.0 L698.5,1743.8 L698.6,1744.3 L698.7,1746.9 L698.8,1747.2 L698.9,1747.6 L699.0,1750.2 L699.1,1751.6 L699.1,1752.7 L699.2,1754.4 L699.3,1756.4 L699.3,1758.2 L699.4,1758.6 L699.5,1760.3 L699.5,1762.6 L699.6,1764.2 L699.7,1765.5 L699.7,1767.8 L699.8,1767.8 L699.9,1770.5 L699.9,1771.2 L700.0,1776.1 L700.1,1777.0 L700.1,1779.3 L700.2,1778.4 L700.3,1777.3 L700.3,1785.4 L700.4,1783.0 L700.5,1783.2 L700.5,1784.0 L700.6,1786.6 L700.7,1791.1 L700.7,1793.7 L700.8,1792.1 L700.9,1796.0 L700.9,1792.6 L701.0,1796.5 L701.2,1797.2 L701.5,1798.3 L701.8,1800.4 L702.0,1805.9 L702.2,1807.3 L702.5,1803.9 L702.8,1805.7 L703.0,1812.6 L703.2,1809.8 L703.5,1808.4 L703.8,1806.3 L704.0,1805.3 L704.2,1799.6 L704.5,1795.9 L704.8,1797.2 L705.0,1792.4 L705.1,1799.8 L705.2,1794.0 L705.3,1793.9 L705.4,1795.2 L705.5,1792.0 L705.6,1785.0 L705.7,1784.4 L705.8,1780.7 L705.9,1785.7 L706.0,1783.6 L706.1,1779.6 L706.2,1776.9 L706.3,1774.4 L706.4,1774.9 L706.5,1775.5 L706.6,1775.7 L706.7,1773.7 L706.8,1772.4 L706.9,1766.7 L707.0,1765.0 L707.1,1762.4 L707.2,1767.1 L707.3,1758.0 L707.4,1756.2 L707.5,1755.8 L707.6,1760.4 L707.7,1758.2 L707.8,1751.6 L707.9,1755.0 L708.0,1753.9 L708.2,1747.9 L708.4,1744.0 L708.6,1748.1 L708.9,1742.7 L709.1,1738.7 L709.3,1744.6 L709.5,1738.6 L709.7,1736.6 L709.9,1737.0 L710.2,1732.2 L710.4,1728.3 L710.6,1730.3 L710.8,1728.7 L711.0,1723.6 L711.2,1725.5 L711.4,1727.7 L711.7,1722.0 L711.9,1723.8 L712.1,1721.7 L712.3,1715.9 L712.5,1712.7 L712.7,1717.5 L713.0,1715.3 L713.2,1710.7 L713.4,1708.2 L713.6,1713.0 L714.5,1711.8 L715.5,1703.7 L716.4,1705.5 L717.3,1703.7 L718.2,1699.7 L719.2,1695.3 L720.1,1696.4 L721.5,1697.9 L722.8,1696.0 L724.2,1693.5 L725.5,1688.2 L726.9,1687.6 L728.2,1686.9 L731.5,1689.5 L734.7,1690.6 L736.0,1697.3 L737.3,1691.3 L738.6,1701.2 L739.9,1695.6 L741.2,1703.1 L742.4,1698.9 L743.7,1703.9 L744.9,1703.6 L746.1,1702.0 L748.1,1708.0 L750.2,1706.8 L752.2,1700.3 L754.2,1703.9 L756.2,1699.9 L758.2,1703.6 L760.3,1693.4 L762.3,1695.4 L765.1,1693.2 L768.0,1696.2 L770.9,1696.9 L773.7,1696.7 L776.9,1694.1 L780.2,1692.7 L783.4,1696.8 L786.6,1691.7 L789.9,1694.8 L791.3,1697.9 L792.6,1693.4 L794.0,1697.1 L795.4,1686.9 L796.7,1688.9 L798.1,1685.0 L799.2,1681.4 L800.2,1680.7 L801.3,1679.1 L802.4,1680.2 L803.4,1679.3 L804.5,1678.4 L805.7,1674.9 L807.0,1677.4 L808.2,1674.2 L809.4,1677.3 L810.6,1668.0 L811.8,1669.9 L813.1,1668.3 L814.3,1665.7 L815.9,1672.1 L817.6,1667.6 L819.2,1675.7 L821.9,1672.1 L824.6,1673.3 L827.3,1677.4 L828.2,1678.5 L829.2,1677.5 L830.1,1677.2 L831.0,1687.2 L831.9,1683.2 L832.9,1682.4 L833.8,1689.2 L834.9,1689.6 L836.0,1689.2 L837.0,1690.7 L838.1,1697.3 L839.2,1694.0 L840.3,1696.3 L842.5,1702.7 L844.6,1698.2 L846.8,1699.8 L847.1,1699.1 L847.4,1705.6 L847.7,1707.3 L848.0,1706.8 L848.3,1708.1 L848.5,1708.1 L848.8,1715.1 L849.1,1713.5 L849.4,1718.8 L849.7,1716.1 L850.0,1721.2 L850.6,1716.1 L851.3,1719.5 L852.0,1728.3 L852.6,1727.3 L853.2,1728.9 L853.9,1728.9 L854.5,1730.3 L855.2,1729.3 L855.9,1730.7 L856.5,1736.9 L857.1,1739.1 L857.8,1736.6 L858.5,1741.9 L859.1,1738.7 L859.8,1745.0 L860.4,1744.5 L861.0,1747.2 L861.7,1748.3 L862.4,1750.7 L863.0,1751.0 L863.4,1753.7 L863.8,1755.7 L864.2,1755.7 L864.6,1757.8 L865.0,1760.6 L865.4,1761.7 L865.8,1763.5 L866.2,1765.6 L866.7,1766.5 L867.1,1766.9 L867.5,1769.2 L867.9,1772.0 L868.3,1772.7 L868.7,1774.8 L869.1,1775.2 L869.5,1777.0 L870.0,1780.3 L870.5,1781.4 L871.0,1782.4 L871.5,1782.3 L872.0,1785.5 L872.5,1785.3 L873.0,1789.7 L873.5,1791.5 L874.0,1792.3 L874.5,1792.4 L875.0,1795.9 L875.5,1795.3 L876.0,1799.0 L876.8,1799.6 L877.6,1799.5 L878.4,1803.9 L879.2,1804.0 L880.0,1807.9 L880.8,1808.5 L881.8,1809.2 L882.8,1813.0 L883.7,1810.4 L884.7,1816.5 L885.7,1814.6 L886.0,1814.2 L886.3,1817.8 L886.6,1817.6 L886.9,1819.2 L887.2,1824.3 L887.6,1822.7 L887.9,1824.5 L888.2,1827.0 L888.5,1828.5 L888.8,1834.2 L889.1,1835.6 L889.4,1837.0 L889.7,1839.4 L890.0,1837.4 L890.3,1841.3 L890.6,1839.6 L891.0,1845.3 L891.3,1846.1 L891.6,1847.2 L891.9,1845.6 L892.2,1846.3 L892.5,1853.2 L893.1,1852.4 L893.7,1854.3 L894.3,1857.5 L894.9,1854.4 L895.5,1859.5 L896.1,1859.6 L896.7,1863.2 L897.3,1862.7 L897.9,1862.6 L898.5,1869.0 L899.1,1866.2 L899.7,1870.8 L900.3,1872.9 L900.9,1870.7 L901.5,1875.1 L902.1,1874.8 L902.7,1875.2 L903.3,1876.7 L904.3,1883.0 L905.3,1880.8 L906.2,1883.3 L907.2,1884.8 L908.2,1883.3 L909.2,1889.5 L910.2,1891.0 L911.2,1893.4 L912.1,1891.7 L913.1,1892.3 L914.1,1894.7 L915.0,1898.8 L915.8,1899.8 L916.7,1899.8 L917.6,1902.1 L918.5,1901.3 L919.3,1907.8 L920.2,1906.5 L921.1,1908.2 L921.9,1911.6 L922.8,1909.4 L924.3,1914.1 L925.9,1913.2 L927.4,1917.5 L929.0,1914.4 L930.5,1916.9 L932.1,1920.6 L933.6,1921.1 L935.0,1918.8 L936.5,1918.6 L937.9,1914.7 L939.4,1914.6 L940.8,1910.2 L942.3,1913.7 L943.7,1908.7 L945.2,1910.8 L946.6,1907.5 L947.7,1906.3 L948.8,1905.0 L949.9,1900.3 L950.9,1903.0 L952.0,1898.5 L953.1,1900.6 L954.9,1901.6 L956.7,1902.4 L958.5,1904.7 L960.3,1903.8 L962.1,1906.8 L963.9,1910.0 L965.2,1906.7 L966.6,1907.6 L968.0,1911.1 L969.3,1913.2 L970.6,1912.4 L972.0,1914.3 L973.4,1920.0 L974.7,1918.4 L977.3,1918.0 L979.9,1919.4 L982.5,1923.0 L985.1,1921.7 L987.7,1924.7 L988.9,1923.5 L990.2,1921.3 L991.4,1920.2 L992.7,1920.7 L993.9,1913.9 L995.2,1918.2 L996.4,1912.0 L997.0,1909.3 L997.6,1912.3 L998.2,1909.4 L998.8,1907.5 L999.4,1903.8 L999.9,1905.8 L1000.5,1901.1 L1001.1,1902.1 L1001.7,1897.3 L1002.3,1897.8 L1002.9,1896.7 L1004.0,1893.3 L1005.0,1892.3 L1006.1,1888.1 L1007.2,1890.1 L1008.3,1888.8 L1009.4,1883.7 L1010.4,1884.7 L1011.5,1884.2 L1014.1,1881.0 L1016.7,1886.5 L1019.3,1887.6 L1021.9,1883.2 L1024.5,1885.3 L1028.8,1884.7 L1033.2,1886.3 L1033.6,1886.9 L1034.0,1891.1 L1034.4,1891.1 L1034.8,1893.1 L1035.2,1895.7 L1035.5,1896.7 L1035.9,1901.0 L1036.3,1902.2 L1036.7,1899.9 L1037.1,1902.2 L1037.5,1902.4 L1040.4,1903.1 L1043.2,1900.3 L1046.1,1902.7 L1046.7,1901.7 L1047.4,1901.5 L1048.0,1894.9 L1048.6,1892.2 L1049.2,1895.3 L1049.9,1891.5 L1050.5,1893.3 L1053.8,1888.5 L1057.0,1886.7 L1058.7,1886.7 L1060.4,1893.9 L1062.2,1892.7 L1063.9,1893.8 L1065.6,1895.3 L1067.8,1898.8 L1070.0,1900.5 L1072.1,1899.6 L1074.3,1899.1 L1076.5,1901.9 L1078.7,1903.6 L1080.8,1899.2 L1083.0,1899.4 L1085.1,1897.4 L1087.3,1895.5 L1088.1,1894.6 L1089.0,1891.0 L1089.8,1891.4 L1090.6,1891.8 L1091.5,1885.2 L1092.3,1885.5 L1093.1,1887.2 L1093.9,1886.3 L1094.8,1878.6 L1095.6,1880.9 L1096.4,1879.4 L1097.3,1879.2 L1098.1,1875.2 L1099.9,1874.5 L1101.7,1877.1 L1103.5,1881.2 L1105.3,1882.8 L1107.1,1880.9 L1108.9,1885.2 L1109.9,1886.8 L1110.9,1888.3 L1111.8,1885.8 L1112.8,1889.9 L1113.8,1890.7 L1114.8,1894.0 L1115.8,1893.8 L1116.8,1894.0 L1117.7,1899.0 L1118.7,1898.0 L1119.7,1902.8 L1121.4,1901.0 L1123.2,1903.9 L1124.9,1906.9 L1126.6,1903.9 L1128.3,1909.2 L1130.1,1906.3 L1131.8,1913.2 L1133.5,1908.7 L1135.3,1914.5 L1137.0,1913.6 L1140.0,1912.9 L1143.1,1914.8 L1146.1,1916.0 L1149.2,1916.0 L1152.2,1914.6" fill="none" stroke="#10B0FF" stroke-width="6.5" stroke-linejoin="round"/>
<path d="M339.5,1816.6 L342.3,1815.1 L345.1,1816.7 L347.9,1814.0 L350.8,1813.5 L353.6,1812.1 L356.4,1813.9 L359.2,1811.0 L362.0,1811.4 L365.1,1811.4 L368.3,1809.3 L371.4,1809.8 L374.6,1807.6 L377.7,1806.4 L380.9,1805.5 L384.0,1806.2 L386.0,1806.4 L388.0,1802.8 L390.0,1802.3 L394.0,1803.4 L398.0,1801.7 L401.0,1801.3 L404.0,1802.6 L407.0,1802.2 L410.0,1804.0 L412.0,1805.8 L414.0,1805.5 L417.0,1804.9 L420.0,1802.8 L423.5,1801.8 L427.0,1803.4 L430.4,1804.8 L433.8,1802.5 L437.2,1803.2 L440.6,1803.4 L444.0,1801.0 L447.1,1803.9 L450.2,1801.2 L453.2,1801.8 L456.3,1803.2 L459.4,1800.9 L462.5,1802.1 L465.6,1801.2 L468.7,1802.4 L471.8,1800.8 L474.8,1801.3 L477.9,1801.6 L481.0,1801.1 L483.8,1799.8 L486.5,1798.9 L489.2,1798.8 L492.0,1796.2 L494.8,1797.5 L497.7,1795.1 L500.5,1793.5 L503.3,1792.5 L506.2,1793.5 L509.0,1789.8 L511.7,1790.9 L514.3,1787.5 L517.0,1789.2 L519.7,1786.1 L522.3,1785.6 L525.0,1785.3 L528.2,1781.9 L531.4,1781.0 L534.6,1782.3 L537.8,1781.2 L541.0,1780.8 L544.0,1778.8 L547.0,1779.0 L550.0,1777.4 L553.0,1777.6 L556.0,1776.6 L559.0,1777.0 L562.0,1775.5 L565.0,1774.9 L568.1,1775.9 L571.2,1773.8 L574.4,1776.0 L577.5,1774.8 L580.6,1773.6 L583.8,1773.0 L586.9,1774.2 L590.0,1773.9 L592.7,1775.8 L595.3,1775.7 L598.0,1777.0 L600.7,1779.8 L603.3,1778.8 L606.0,1782.3 L609.3,1781.4 L612.7,1781.2 L616.0,1780.5 L617.5,1776.3 L619.0,1776.4 L620.5,1773.9 L622.0,1770.7 L624.7,1772.3 L627.3,1770.0 L630.0,1769.4 L631.0,1766.7 L632.0,1763.3 L633.0,1764.1 L634.0,1760.0 L636.3,1759.0 L638.6,1759.0 L640.9,1756.3 L643.2,1756.0 L645.5,1755.6 L647.8,1752.0 L650.0,1752.3 L652.3,1748.8 L654.5,1748.5 L656.8,1747.6 L658.4,1746.1 L660.0,1742.4 L661.7,1741.3 L663.3,1742.3 L664.9,1738.8 L665.6,1737.3 L666.2,1735.4 L666.9,1734.8 L667.5,1733.3 L668.2,1731.3 L670.4,1732.2 L672.5,1734.4 L674.7,1735.9 L675.8,1736.7 L676.8,1741.1 L677.9,1743.0 L679.0,1740.6 L680.1,1739.6 L681.1,1736.0 L682.2,1735.5 L683.3,1731.7 L684.4,1731.6 L685.7,1729.8 L687.0,1728.7 L688.3,1726.6 L689.6,1724.9 L690.9,1721.1 L694.1,1721.4 L697.4,1719.0 L697.5,1720.1 L697.6,1722.0 L697.7,1725.1 L697.8,1726.9 L697.9,1728.6 L698.0,1729.7 L698.1,1729.7 L698.2,1731.3 L698.3,1734.4 L698.4,1734.9 L698.5,1737.0 L698.6,1737.9 L698.7,1739.7 L698.8,1743.3 L698.9,1743.3 L699.0,1747.1 L699.1,1747.0 L699.1,1750.5 L699.2,1750.3 L699.3,1751.9 L699.3,1754.0 L699.4,1754.4 L699.5,1757.5 L699.5,1759.0 L699.6,1759.4 L699.7,1764.0 L699.7,1764.0 L699.8,1764.4 L699.9,1769.3 L699.9,1768.5 L700.0,1768.6 L700.1,1768.0 L700.1,1770.4 L700.2,1778.3 L700.3,1778.7 L700.3,1779.6 L700.4,1778.6 L700.5,1780.7 L700.5,1789.4 L700.6,1785.0 L700.7,1792.9 L700.7,1793.6 L700.8,1787.5 L700.9,1796.5 L700.9,1789.8 L701.0,1798.5 L701.2,1801.2 L701.5,1801.8 L701.8,1802.1 L702.0,1806.5 L702.2,1801.6 L702.5,1807.2 L702.8,1806.2 L703.0,1809.3 L703.2,1805.4 L703.5,1809.0 L703.8,1805.8 L704.0,1806.2 L704.2,1802.9 L704.5,1800.8 L704.8,1802.4 L705.0,1799.5 L705.1,1795.3 L705.2,1791.2 L705.3,1795.7 L705.4,1788.3 L705.5,1783.9 L705.6,1784.6 L705.7,1786.7 L705.8,1787.3 L705.9,1782.7 L706.0,1781.2 L706.1,1782.3 L706.2,1779.0 L706.3,1773.9 L706.4,1772.4 L706.5,1773.8 L706.6,1767.6 L706.7,1763.8 L706.8,1767.3 L706.9,1767.6 L707.0,1760.2 L707.1,1762.9 L707.2,1763.4 L707.3,1753.9 L707.4,1752.3 L707.5,1754.3 L707.6,1751.0 L707.7,1755.6 L707.8,1754.4 L707.9,1747.1 L708.0,1748.9 L708.2,1745.6 L708.4,1739.2 L708.6,1745.7 L708.9,1735.9 L709.1,1733.2 L709.3,1735.4 L709.5,1729.3 L709.7,1732.3 L709.9,1729.9 L710.2,1733.8 L710.4,1726.6 L710.6,1729.3 L710.8,1726.9 L711.0,1723.3 L711.2,1718.1 L711.4,1717.1 L711.7,1717.3 L711.9,1714.6 L712.1,1715.5 L712.3,1712.4 L712.5,1708.9 L712.7,1710.1 L713.0,1712.4 L713.2,1702.6 L713.4,1702.3 L713.6,1697.3 L714.5,1696.4 L715.5,1694.2 L716.4,1696.2 L717.3,1698.6 L718.2,1695.5 L719.2,1696.5 L720.1,1693.4 L721.5,1689.1 L722.8,1687.4 L724.2,1679.9 L725.5,1682.0 L726.9,1679.1 L728.2,1681.1 L731.5,1677.1 L734.7,1683.6 L736.0,1683.6 L737.3,1686.5 L738.6,1687.3 L739.9,1685.9 L741.2,1694.0 L742.4,1696.5 L743.7,1696.3 L744.9,1693.2 L746.1,1699.9 L748.1,1701.3 L750.2,1701.1 L752.2,1697.3 L754.2,1688.7 L756.2,1695.9 L758.2,1692.5 L760.3,1687.2 L762.3,1692.5 L765.1,1690.7 L768.0,1690.6 L770.9,1683.2 L773.7,1685.7 L776.9,1683.8 L780.2,1683.2 L783.4,1688.1 L786.6,1688.3 L789.9,1687.1 L791.3,1687.6 L792.6,1689.8 L794.0,1684.5 L795.4,1686.3 L796.7,1681.1 L798.1,1683.8 L799.2,1672.3 L800.2,1675.0 L801.3,1674.2 L802.4,1674.3 L803.4,1675.1 L804.5,1669.9 L805.7,1666.9 L807.0,1666.9 L808.2,1664.4 L809.4,1664.6 L810.6,1665.5 L811.8,1654.5 L813.1,1656.0 L814.3,1660.2 L815.9,1653.7 L817.6,1663.0 L819.2,1657.2 L821.9,1664.9 L824.6,1668.0 L827.3,1663.7 L828.2,1667.0 L829.2,1667.1 L830.1,1673.8 L831.0,1673.7 L831.9,1676.3 L832.9,1675.2 L833.8,1679.6 L834.9,1685.1 L836.0,1684.9 L837.0,1688.4 L838.1,1682.9 L839.2,1687.3 L840.3,1687.7 L842.5,1688.6 L844.6,1694.5 L846.8,1689.4 L847.1,1695.1 L847.4,1699.1 L847.7,1702.5 L848.0,1695.0 L848.3,1699.3 L848.5,1703.4 L848.8,1709.7 L849.1,1703.6 L849.4,1712.2 L849.7,1709.5 L850.0,1712.8 L850.6,1718.5 L851.3,1711.5 L852.0,1716.0 L852.6,1716.0 L853.2,1717.6 L853.9,1721.1 L854.5,1726.9 L855.2,1727.5 L855.9,1724.6 L856.5,1733.3 L857.1,1732.1 L857.8,1730.2 L858.5,1738.9 L859.1,1740.7 L859.8,1736.3 L860.4,1742.5 L861.0,1743.9 L861.7,1743.7 L862.4,1744.7 L863.0,1749.4 L863.4,1751.0 L863.8,1750.2 L864.2,1754.1 L864.6,1755.8 L865.0,1757.0 L865.4,1759.4 L865.8,1761.6 L866.2,1761.0 L866.7,1764.4 L867.1,1766.4 L867.5,1766.0 L867.9,1769.0 L868.3,1770.6 L868.7,1772.9 L869.1,1773.6 L869.5,1774.3 L870.0,1775.9 L870.5,1778.6 L871.0,1779.0 L871.5,1783.2 L872.0,1785.0 L872.5,1784.5 L873.0,1787.8 L873.5,1789.4 L874.0,1789.3 L874.5,1793.2 L875.0,1794.9 L875.5,1795.1 L876.0,1796.1 L876.8,1798.4 L877.6,1801.7 L878.4,1802.4 L879.2,1805.2 L880.0,1803.5 L880.8,1804.9 L881.8,1808.3 L882.8,1813.7 L883.7,1810.6 L884.7,1811.8 L885.7,1818.2 L886.0,1815.4 L886.3,1821.0 L886.6,1818.8 L886.9,1821.6 L887.2,1826.1 L887.6,1829.3 L887.9,1827.8 L888.2,1829.8 L888.5,1828.7 L888.8,1832.5 L889.1,1833.5 L889.4,1838.9 L889.7,1840.1 L890.0,1842.3 L890.3,1842.3 L890.6,1845.1 L891.0,1843.0 L891.3,1846.4 L891.6,1847.5 L891.9,1849.1 L892.2,1853.9 L892.5,1852.1 L893.1,1854.5 L893.7,1855.9 L894.3,1861.5 L894.9,1861.7 L895.5,1862.3 L896.1,1863.3 L896.7,1868.6 L897.3,1870.4 L897.9,1868.8 L898.5,1871.3 L899.1,1875.0 L899.7,1872.5 L900.3,1874.2 L900.9,1874.8 L901.5,1879.2 L902.1,1882.7 L902.7,1880.2 L903.3,1883.8 L904.3,1889.3 L905.3,1887.5 L906.2,1888.5 L907.2,1893.3 L908.2,1895.3 L909.2,1893.5 L910.2,1893.5 L911.2,1898.6 L912.1,1901.0 L913.1,1903.9 L914.1,1903.8 L915.0,1903.1 L915.8,1906.2 L916.7,1906.3 L917.6,1909.1 L918.5,1910.9 L919.3,1915.6 L920.2,1917.3 L921.1,1919.1 L921.9,1917.7 L922.8,1922.7 L924.3,1918.6 L925.9,1925.4 L927.4,1925.0 L929.0,1928.1 L930.5,1926.5 L932.1,1932.0 L933.6,1926.9 L935.0,1930.9 L936.5,1929.0 L937.9,1924.3 L939.4,1925.7 L940.8,1919.8 L942.3,1921.8 L943.7,1918.2 L945.2,1916.1 L946.6,1913.0 L947.7,1915.5 L948.8,1913.5 L949.9,1907.5 L950.9,1912.0 L952.0,1905.2 L953.1,1904.7 L954.9,1906.5 L956.7,1909.2 L958.5,1912.9 L960.3,1914.9 L962.1,1914.4 L963.9,1914.1 L965.2,1914.0 L966.6,1915.3 L968.0,1920.0 L969.3,1922.1 L970.6,1922.7 L972.0,1928.0 L973.4,1925.7 L974.7,1926.9 L977.3,1928.6 L979.9,1928.2 L982.5,1934.6 L985.1,1933.5 L987.7,1934.4 L988.9,1931.9 L990.2,1929.0 L991.4,1927.8 L992.7,1927.3 L993.9,1925.3 L995.2,1927.3 L996.4,1922.8 L997.0,1918.6 L997.6,1915.7 L998.2,1914.7 L998.8,1914.2 L999.4,1915.3 L999.9,1914.3 L1000.5,1908.1 L1001.1,1910.0 L1001.7,1905.9 L1002.3,1904.8 L1002.9,1903.0 L1004.0,1897.9 L1005.0,1896.3 L1006.1,1898.6 L1007.2,1897.0 L1008.3,1893.2 L1009.4,1895.1 L1010.4,1892.7 L1011.5,1887.4 L1014.1,1886.7 L1016.7,1890.9 L1019.3,1892.5 L1021.9,1890.4 L1024.5,1890.1 L1028.8,1893.7 L1033.2,1891.2 L1033.6,1897.7 L1034.0,1898.7 L1034.4,1898.0 L1034.8,1900.9 L1035.2,1901.2 L1035.5,1902.6 L1035.9,1904.3 L1036.3,1910.3 L1036.7,1909.6 L1037.1,1913.1 L1037.5,1912.3 L1040.4,1914.0 L1043.2,1911.0 L1046.1,1909.9 L1046.7,1906.5 L1047.4,1906.0 L1048.0,1901.8 L1048.6,1905.4 L1049.2,1901.7 L1049.9,1899.0 L1050.5,1898.1 L1053.8,1893.0 L1057.0,1893.2 L1058.7,1894.2 L1060.4,1900.0 L1062.2,1896.1 L1063.9,1900.7 L1065.6,1905.2 L1067.8,1906.1 L1070.0,1907.1 L1072.1,1905.8 L1074.3,1906.7 L1076.5,1911.4 L1078.7,1907.2 L1080.8,1908.6 L1083.0,1904.6 L1085.1,1906.0 L1087.3,1903.2 L1088.1,1903.2 L1089.0,1902.7 L1089.8,1896.9 L1090.6,1899.3 L1091.5,1891.0 L1092.3,1895.2 L1093.1,1887.8 L1093.9,1889.6 L1094.8,1886.9 L1095.6,1887.8 L1096.4,1883.0 L1097.3,1880.6 L1098.1,1882.8 L1099.9,1882.8 L1101.7,1885.8 L1103.5,1885.6 L1105.3,1884.1 L1107.1,1890.7 L1108.9,1888.5 L1109.9,1891.9 L1110.9,1890.3 L1111.8,1893.7 L1112.8,1898.1 L1113.8,1900.4 L1114.8,1901.1 L1115.8,1901.4 L1116.8,1905.0 L1117.7,1906.2 L1118.7,1904.7 L1119.7,1908.6 L1121.4,1910.5 L1123.2,1912.8 L1124.9,1910.6 L1126.6,1912.9 L1128.3,1914.5 L1130.1,1914.3 L1131.8,1917.5 L1133.5,1921.5 L1135.3,1922.0 L1137.0,1920.7 L1140.0,1925.0 L1143.1,1921.4 L1146.1,1926.3 L1149.2,1922.7 L1152.2,1923.0" fill="none" stroke="#2AA0FF" stroke-width="6.5" stroke-linejoin="round"/>
<path d="M339.5,1816.5 L342.3,1816.7 L345.1,1815.0 L347.9,1816.5 L350.8,1815.9 L353.6,1812.8 L356.4,1813.8 L359.2,1812.8 L362.0,1811.6 L365.1,1809.8 L368.3,1811.6 L371.4,1810.9 L374.6,1806.9 L377.7,1807.3 L380.9,1806.6 L384.0,1805.5 L386.0,1804.9 L388.0,1805.2 L390.0,1800.6 L394.0,1803.6 L398.0,1801.7 L401.0,1800.6 L404.0,1803.8 L407.0,1801.5 L410.0,1801.3 L412.0,1803.1 L414.0,1806.1 L417.0,1803.4 L420.0,1801.8 L423.5,1802.4 L427.0,1803.8 L430.4,1803.1 L433.8,1802.4 L437.2,1802.9 L440.6,1803.6 L444.0,1803.2 L447.1,1801.8 L450.2,1803.9 L453.2,1803.4 L456.3,1802.6 L459.4,1802.3 L462.5,1801.7 L465.6,1801.0 L468.7,1803.7 L471.8,1802.7 L474.8,1800.9 L477.9,1803.9 L481.0,1803.8 L483.8,1799.3 L486.5,1800.4 L489.2,1797.4 L492.0,1797.1 L494.8,1797.1 L497.7,1794.2 L500.5,1793.7 L503.3,1793.2 L506.2,1790.4 L509.0,1790.8 L511.7,1788.8 L514.3,1789.5 L517.0,1785.3 L519.7,1785.9 L522.3,1782.2 L525.0,1781.7 L528.2,1780.3 L531.4,1779.6 L534.6,1780.1 L537.8,1778.0 L541.0,1779.4 L544.0,1776.3 L547.0,1777.6 L550.0,1777.9 L553.0,1774.6 L556.0,1774.3 L559.0,1775.7 L562.0,1774.1 L565.0,1775.1 L568.1,1772.8 L571.2,1772.7 L574.4,1774.5 L577.5,1772.1 L580.6,1774.1 L583.8,1773.6 L586.9,1770.9 L590.0,1771.9 L592.7,1774.5 L595.3,1772.8 L598.0,1776.6 L600.7,1777.5 L603.3,1778.7 L606.0,1779.3 L609.3,1776.9 L612.7,1779.4 L616.0,1775.7 L617.5,1776.2 L619.0,1774.1 L620.5,1770.7 L622.0,1770.0 L624.7,1767.8 L627.3,1767.9 L630.0,1764.1 L631.0,1765.4 L632.0,1761.4 L633.0,1761.0 L634.0,1757.9 L636.3,1757.8 L638.6,1754.6 L640.9,1754.2 L643.2,1751.0 L645.5,1751.3 L647.8,1748.2 L650.0,1749.3 L652.3,1747.0 L654.5,1744.4 L656.8,1744.7 L658.4,1742.9 L660.0,1741.2 L661.7,1736.4 L663.3,1737.0 L664.9,1735.4 L665.6,1733.1 L666.2,1729.2 L666.9,1730.7 L667.5,1727.1 L668.2,1725.9 L670.4,1728.5 L672.5,1728.4 L674.7,1729.3 L675.8,1734.5 L676.8,1734.1 L677.9,1735.3 L679.0,1733.8 L680.1,1734.9 L681.1,1732.1 L682.2,1728.3 L683.3,1726.2 L684.4,1727.0 L685.7,1724.2 L687.0,1722.0 L688.3,1718.5 L689.6,1717.6 L690.9,1717.6 L694.1,1712.7 L697.4,1712.7 L697.5,1713.2 L697.6,1718.4 L697.7,1716.9 L697.8,1721.8 L697.9,1723.2 L698.0,1724.6 L698.1,1723.9 L698.2,1728.1 L698.3,1729.1 L698.4,1730.9 L698.5,1731.5 L698.6,1734.6 L698.7,1737.4 L698.8,1736.8 L698.9,1741.3 L699.0,1741.5 L699.1,1742.7 L699.1,1744.4 L699.2,1747.0 L699.3,1749.5 L699.3,1751.0 L699.4,1754.0 L699.5,1754.4 L699.5,1756.2 L699.6,1759.7 L699.7,1758.7 L699.7,1759.8 L699.8,1762.7 L699.9,1764.5 L699.9,1765.6 L700.0,1767.9 L700.1,1765.5 L700.1,1776.9 L700.2,1774.0 L700.3,1780.1 L700.3,1779.9 L700.4,1782.0 L700.5,1784.2 L700.5,1781.0 L700.6,1787.4 L700.7,1783.6 L700.7,1789.2 L700.8,1791.4 L700.9,1795.1 L700.9,1790.4 L701.0,1794.1 L701.2,1801.1 L701.5,1802.8 L701.8,1806.5 L702.0,1799.1 L702.2,1802.0 L702.5,1802.8 L702.8,1811.3 L703.0,1813.4 L703.2,1810.5 L703.5,1810.0 L703.8,1805.3 L704.0,1803.9 L704.2,1805.9 L704.5,1801.1 L704.8,1799.3 L705.0,1796.7 L705.1,1793.9 L705.2,1794.9 L705.3,1791.1 L705.4,1784.6 L705.5,1786.0 L705.6,1784.1 L705.7,1782.4 L705.8,1782.0 L705.9,1778.1 L706.0,1776.6 L706.1,1775.2 L706.2,1772.8 L706.3,1777.5 L706.4,1766.1 L706.5,1763.5 L706.6,1769.4 L706.7,1764.0 L706.8,1762.8 L706.9,1762.6 L707.0,1758.3 L707.1,1755.1 L707.2,1750.9 L707.3,1758.4 L707.4,1757.3 L707.5,1748.4 L707.6,1748.6 L707.7,1745.3 L707.8,1740.6 L707.9,1747.8 L708.0,1745.4 L708.2,1737.2 L708.4,1735.5 L708.6,1738.5 L708.9,1737.8 L709.1,1732.4 L709.3,1729.7 L709.5,1726.3 L709.7,1730.6 L709.9,1729.5 L710.2,1727.6 L710.4,1717.8 L710.6,1721.2 L710.8,1723.6 L711.0,1718.9 L711.2,1714.3 L711.4,1709.1 L711.7,1706.4 L711.9,1711.9 L712.1,1702.9 L712.3,1709.1 L712.5,1705.7 L712.7,1701.9 L713.0,1704.6 L713.2,1703.2 L713.4,1698.0 L713.6,1690.6 L714.5,1694.0 L715.5,1690.3 L716.4,1686.6 L717.3,1692.0 L718.2,1688.0 L719.2,1679.6 L720.1,1678.8 L721.5,1678.3 L722.8,1678.9 L724.2,1674.5 L725.5,1673.9 L726.9,1676.1 L728.2,1667.5 L731.5,1675.1 L734.7,1672.7 L736.0,1681.2 L737.3,1683.0 L738.6,1678.1 L739.9,1682.9 L741.2,1679.4 L742.4,1684.5 L743.7,1688.8 L744.9,1690.9 L746.1,1689.7 L748.1,1684.8 L750.2,1684.3 L752.2,1687.5 L754.2,1681.8 L756.2,1681.9 L758.2,1683.9 L760.3,1685.6 L762.3,1680.1 L765.1,1676.4 L768.0,1679.1 L770.9,1674.8 L773.7,1679.4 L776.9,1672.8 L780.2,1674.2 L783.4,1676.3 L786.6,1683.2 L789.9,1676.9 L791.3,1675.4 L792.6,1673.0 L794.0,1672.1 L795.4,1671.5 L796.7,1670.4 L798.1,1672.6 L799.2,1666.9 L800.2,1665.9 L801.3,1663.2 L802.4,1665.5 L803.4,1665.1 L804.5,1658.2 L805.7,1661.9 L807.0,1653.0 L808.2,1659.2 L809.4,1652.6 L810.6,1652.7 L811.8,1647.8 L813.1,1644.9 L814.3,1641.8 L815.9,1651.9 L817.6,1648.2 L819.2,1653.9 L821.9,1652.9 L824.6,1655.2 L827.3,1653.4 L828.2,1655.0 L829.2,1658.6 L830.1,1664.2 L831.0,1664.6 L831.9,1660.6 L832.9,1670.2 L833.8,1669.0 L834.9,1666.9 L836.0,1670.8 L837.0,1672.0 L838.1,1680.4 L839.2,1679.3 L840.3,1678.7 L842.5,1679.2 L844.6,1681.1 L846.8,1682.4 L847.1,1685.0 L847.4,1691.7 L847.7,1693.6 L848.0,1694.5 L848.3,1698.5 L848.5,1697.9 L848.8,1693.9 L849.1,1695.1 L849.4,1698.3 L849.7,1701.2 L850.0,1706.1 L850.6,1711.2 L851.3,1710.5 L852.0,1710.8 L852.6,1710.7 L853.2,1720.6 L853.9,1720.0 L854.5,1717.5 L855.2,1716.2 L855.9,1728.2 L856.5,1722.3 L857.1,1730.6 L857.8,1724.7 L858.5,1732.4 L859.1,1731.1 L859.8,1738.8 L860.4,1735.7 L861.0,1737.0 L861.7,1739.2 L862.4,1743.3 L863.0,1745.9 L863.4,1746.5 L863.8,1748.4 L864.2,1748.8 L864.6,1750.5 L865.0,1751.7 L865.4,1756.7 L865.8,1755.1 L866.2,1759.0 L866.7,1759.8 L867.1,1761.0 L867.5,1763.7 L867.9,1767.3 L868.3,1766.7 L868.7,1768.2 L869.1,1771.6 L869.5,1773.5 L870.0,1774.8 L870.5,1775.5 L871.0,1779.8 L871.5,1778.9 L872.0,1781.0 L872.5,1783.1 L873.0,1785.9 L873.5,1787.6 L874.0,1789.8 L874.5,1792.2 L875.0,1794.7 L875.5,1795.0 L876.0,1795.3 L876.8,1800.0 L877.6,1798.8 L878.4,1801.7 L879.2,1802.9 L880.0,1806.7 L880.8,1809.8 L881.8,1807.0 L882.8,1810.1 L883.7,1816.0 L884.7,1816.8 L885.7,1814.5 L886.0,1820.5 L886.3,1823.1 L886.6,1822.2 L886.9,1822.2 L887.2,1827.6 L887.6,1827.0 L887.9,1827.5 L888.2,1829.6 L888.5,1833.1 L888.8,1832.9 L889.1,1836.6 L889.4,1839.7 L889.7,1841.5 L890.0,1842.2 L890.3,1846.9 L890.6,1843.6 L891.0,1847.2 L891.3,1853.4 L891.6,1854.7 L891.9,1856.9 L892.2,1857.6 L892.5,1857.8 L893.1,1861.4 L893.7,1861.7 L894.3,1860.2 L894.9,1863.0 L895.5,1863.7 L896.1,1871.1 L896.7,1868.9 L897.3,1871.3 L897.9,1874.0 L898.5,1872.7 L899.1,1878.8 L899.7,1881.3 L900.3,1883.1 L900.9,1885.5 L901.5,1883.2 L902.1,1883.8 L902.7,1890.0 L903.3,1891.4 L904.3,1890.8 L905.3,1892.4 L906.2,1892.9 L907.2,1899.5 L908.2,1898.7 L909.2,1903.0 L910.2,1901.4 L911.2,1903.1 L912.1,1906.3 L913.1,1909.7 L914.1,1912.5 L915.0,1910.5 L915.8,1914.8 L916.7,1914.5 L917.6,1919.6 L918.5,1920.6 L919.3,1921.0 L920.2,1921.4 L921.1,1922.5 L921.9,1928.7 L922.8,1929.9 L924.3,1928.0 L925.9,1928.0 L927.4,1930.5 L929.0,1937.6 L930.5,1932.6 L932.1,1939.8 L933.6,1939.4 L935.0,1937.7 L936.5,1935.8 L937.9,1933.1 L939.4,1932.4 L940.8,1927.2 L942.3,1931.4 L943.7,1923.7 L945.2,1922.2 L946.6,1924.2 L947.7,1922.3 L948.8,1921.8 L949.9,1919.2 L950.9,1919.3 L952.0,1911.2 L953.1,1909.2 L954.9,1912.6 L956.7,1918.2 L958.5,1915.4 L960.3,1919.8 L962.1,1923.2 L963.9,1920.5 L965.2,1924.9 L966.6,1929.3 L968.0,1929.9 L969.3,1929.1 L970.6,1931.4 L972.0,1931.7 L973.4,1938.4 L974.7,1938.8 L977.3,1939.4 L979.9,1938.0 L982.5,1942.4 L985.1,1941.9 L987.7,1945.5 L988.9,1940.6 L990.2,1942.5 L991.4,1939.3 L992.7,1935.8 L993.9,1934.8 L995.2,1934.8 L996.4,1931.0 L997.0,1932.2 L997.6,1923.4 L998.2,1927.9 L998.8,1924.7 L999.4,1921.1 L999.9,1921.8 L1000.5,1914.9 L1001.1,1914.3 L1001.7,1915.1 L1002.3,1914.0 L1002.9,1908.8 L1004.0,1911.4 L1005.0,1907.1 L1006.1,1900.9 L1007.2,1899.5 L1008.3,1897.3 L1009.4,1899.0 L1010.4,1895.4 L1011.5,1893.0 L1014.1,1895.3 L1016.7,1893.6 L1019.3,1900.6 L1021.9,1901.0 L1024.5,1900.0 L1028.8,1899.8 L1033.2,1899.4 L1033.6,1903.4 L1034.0,1903.4 L1034.4,1909.7 L1034.8,1911.5 L1035.2,1911.7 L1035.5,1914.2 L1035.9,1910.7 L1036.3,1912.9 L1036.7,1916.3 L1037.1,1916.6 L1037.5,1920.6 L1040.4,1923.1 L1043.2,1920.4 L1046.1,1919.7 L1046.7,1912.6 L1047.4,1910.8 L1048.0,1907.5 L1048.6,1907.5 L1049.2,1904.2 L1049.9,1905.8 L1050.5,1902.3 L1053.8,1903.5 L1057.0,1901.2 L1058.7,1903.3 L1060.4,1902.9 L1062.2,1907.9 L1063.9,1909.3 L1065.6,1911.3 L1067.8,1911.1 L1070.0,1912.6 L1072.1,1912.9 L1074.3,1912.7 L1076.5,1917.3 L1078.7,1916.8 L1080.8,1912.2 L1083.0,1915.5 L1085.1,1914.0 L1087.3,1912.3 L1088.1,1910.2 L1089.0,1906.1 L1089.8,1902.0 L1090.6,1900.9 L1091.5,1902.5 L1092.3,1902.4 L1093.1,1894.4 L1093.9,1891.8 L1094.8,1892.5 L1095.6,1890.7 L1096.4,1890.7 L1097.3,1885.4 L1098.1,1888.8 L1099.9,1886.9 L1101.7,1892.7 L1103.5,1890.2 L1105.3,1891.8 L1107.1,1892.5 L1108.9,1899.9 L1109.9,1898.9 L1110.9,1902.4 L1111.8,1898.7 L1112.8,1903.9 L1113.8,1907.0 L1114.8,1910.5 L1115.8,1911.9 L1116.8,1907.7 L1117.7,1911.4 L1118.7,1917.6 L1119.7,1916.0 L1121.4,1920.6 L1123.2,1917.1 L1124.9,1917.0 L1126.6,1925.2 L1128.3,1921.9 L1130.1,1925.6 L1131.8,1925.7 L1133.5,1928.8 L1135.3,1932.9 L1137.0,1934.6 L1140.0,1934.7 L1143.1,1930.8 L1146.1,1935.5 L1149.2,1930.3 L1152.2,1933.8" fill="none" stroke="#4494FF" stroke-width="6.5" stroke-linejoin="round"/>
<path d="M339.5,1819.9 L342.3,1816.5 L345.1,1816.1 L347.9,1816.1 L350.8,1814.0 L353.6,1815.0 L356.4,1814.0 L359.2,1811.1 L362.0,1813.4 L365.1,1809.5 L368.3,1811.1 L371.4,1809.1 L374.6,1807.5 L377.7,1806.6 L380.9,1809.3 L384.0,1807.8 L386.0,1805.1 L388.0,1804.8 L390.0,1804.0 L394.0,1803.8 L398.0,1802.3 L401.0,1801.4 L404.0,1802.3 L407.0,1804.1 L410.0,1803.1 L412.0,1805.1 L414.0,1808.0 L417.0,1804.4 L420.0,1803.1 L423.5,1804.5 L427.0,1802.4 L430.4,1804.6 L433.8,1801.2 L437.2,1802.9 L440.6,1802.8 L444.0,1800.9 L447.1,1803.8 L450.2,1802.0 L453.2,1801.0 L456.3,1801.9 L459.4,1802.6 L462.5,1802.0 L465.6,1800.3 L468.7,1800.7 L471.8,1803.0 L474.8,1800.8 L477.9,1801.3 L481.0,1803.4 L483.8,1802.2 L486.5,1800.8 L489.2,1796.7 L492.0,1794.6 L494.8,1796.3 L497.7,1794.5 L500.5,1792.4 L503.3,1789.9 L506.2,1790.3 L509.0,1788.4 L511.7,1788.4 L514.3,1788.5 L517.0,1784.2 L519.7,1782.3 L522.3,1783.2 L525.0,1779.6 L528.2,1779.2 L531.4,1779.1 L534.6,1780.3 L537.8,1776.9 L541.0,1775.9 L544.0,1775.9 L547.0,1774.1 L550.0,1774.3 L553.0,1774.8 L556.0,1772.8 L559.0,1773.9 L562.0,1770.9 L565.0,1770.0 L568.1,1771.7 L571.2,1770.8 L574.4,1772.4 L577.5,1769.0 L580.6,1771.2 L583.8,1770.7 L586.9,1769.3 L590.0,1768.2 L592.7,1771.3 L595.3,1773.1 L598.0,1773.3 L600.7,1774.6 L603.3,1776.7 L606.0,1777.7 L609.3,1776.3 L612.7,1774.8 L616.0,1775.2 L617.5,1773.5 L619.0,1772.7 L620.5,1771.0 L622.0,1767.2 L624.7,1765.1 L627.3,1763.4 L630.0,1763.7 L631.0,1762.0 L632.0,1758.1 L633.0,1757.7 L634.0,1756.8 L636.3,1753.0 L638.6,1753.7 L640.9,1750.4 L643.2,1749.8 L645.5,1749.2 L647.8,1744.9 L650.0,1743.7 L652.3,1744.3 L654.5,1739.0 L656.8,1738.1 L658.4,1737.0 L660.0,1736.2 L661.7,1734.0 L663.3,1733.3 L664.9,1730.5 L665.6,1726.1 L666.2,1724.4 L666.9,1722.4 L667.5,1722.0 L668.2,1718.5 L670.4,1722.3 L672.5,1724.6 L674.7,1724.9 L675.8,1729.6 L676.8,1730.0 L677.9,1734.2 L679.0,1729.9 L680.1,1728.9 L681.1,1726.5 L682.2,1723.5 L683.3,1723.4 L684.4,1718.4 L685.7,1717.3 L687.0,1715.5 L688.3,1715.6 L689.6,1712.1 L690.9,1708.3 L694.1,1707.7 L697.4,1707.3 L697.5,1710.0 L697.6,1709.2 L697.7,1713.7 L697.8,1714.1 L697.9,1716.6 L698.0,1718.1 L698.1,1720.1 L698.2,1724.1 L698.3,1725.7 L698.4,1727.7 L698.5,1728.9 L698.6,1730.7 L698.7,1730.5 L698.8,1732.0 L698.9,1736.9 L699.0,1738.2 L699.1,1740.0 L699.1,1740.7 L699.2,1742.5 L699.3,1746.9 L699.3,1747.3 L699.4,1747.3 L699.5,1750.4 L699.5,1752.4 L699.6,1753.2 L699.7,1758.6 L699.7,1760.2 L699.8,1761.8 L699.9,1760.7 L699.9,1764.2 L700.0,1762.0 L700.1,1770.9 L700.1,1773.8 L700.2,1775.4 L700.3,1777.4 L700.3,1771.7 L700.4,1772.4 L700.5,1775.2 L700.5,1785.6 L700.6,1787.4 L700.7,1785.8 L700.7,1784.5 L700.8,1793.5 L700.9,1787.0 L700.9,1791.3 L701.0,1789.5 L701.2,1802.7 L701.5,1798.2 L701.8,1804.3 L702.0,1806.6 L702.2,1806.1 L702.5,1812.7 L702.8,1812.3 L703.0,1816.1 L703.2,1814.5 L703.5,1802.4 L703.8,1808.0 L704.0,1800.1 L704.2,1799.2 L704.5,1797.4 L704.8,1802.8 L705.0,1790.2 L705.1,1792.5 L705.2,1787.1 L705.3,1795.1 L705.4,1787.5 L705.5,1787.9 L705.6,1783.9 L705.7,1784.8 L705.8,1778.0 L705.9,1776.9 L706.0,1778.8 L706.1,1776.4 L706.2,1776.6 L706.3,1768.0 L706.4,1772.3 L706.5,1769.1 L706.6,1765.3 L706.7,1761.5 L706.8,1761.4 L706.9,1753.9 L707.0,1752.2 L707.1,1752.7 L707.2,1748.6 L707.3,1745.9 L707.4,1751.6 L707.5,1749.8 L707.6,1746.6 L707.7,1740.0 L707.8,1744.0 L707.9,1743.2 L708.0,1738.9 L708.2,1732.6 L708.4,1734.5 L708.6,1730.6 L708.9,1727.3 L709.1,1724.0 L709.3,1730.2 L709.5,1725.7 L709.7,1727.2 L709.9,1716.6 L710.2,1715.7 L710.4,1716.6 L710.6,1709.5 L710.8,1710.4 L711.0,1711.2 L711.2,1708.6 L711.4,1711.5 L711.7,1705.8 L711.9,1704.6 L712.1,1702.1 L712.3,1702.4 L712.5,1695.7 L712.7,1689.7 L713.0,1698.9 L713.2,1694.8 L713.4,1685.3 L713.6,1683.2 L714.5,1682.5 L715.5,1685.4 L716.4,1677.4 L717.3,1674.1 L718.2,1677.5 L719.2,1670.0 L720.1,1670.8 L721.5,1670.3 L722.8,1666.4 L724.2,1662.2 L725.5,1663.2 L726.9,1661.1 L728.2,1660.1 L731.5,1663.0 L734.7,1664.3 L736.0,1665.8 L737.3,1664.3 L738.6,1675.5 L739.9,1676.3 L741.2,1675.4 L742.4,1671.9 L743.7,1676.6 L744.9,1686.3 L746.1,1683.3 L748.1,1678.9 L750.2,1684.3 L752.2,1683.5 L754.2,1673.1 L756.2,1676.0 L758.2,1675.2 L760.3,1668.7 L762.3,1669.6 L765.1,1672.1 L768.0,1671.7 L770.9,1670.2 L773.7,1669.2 L776.9,1666.6 L780.2,1663.3 L783.4,1662.9 L786.6,1674.2 L789.9,1676.5 L791.3,1675.0 L792.6,1663.6 L794.0,1669.6 L795.4,1660.9 L796.7,1661.0 L798.1,1657.4 L799.2,1663.0 L800.2,1660.6 L801.3,1658.8 L802.4,1651.8 L803.4,1656.2 L804.5,1646.5 L805.7,1648.3 L807.0,1647.7 L808.2,1640.9 L809.4,1640.9 L810.6,1635.9 L811.8,1642.1 L813.1,1633.3 L814.3,1631.0 L815.9,1634.8 L817.6,1641.0 L819.2,1643.1 L821.9,1643.6 L824.6,1649.0 L827.3,1649.6 L828.2,1645.4 L829.2,1651.1 L830.1,1649.0 L831.0,1651.8 L831.9,1652.7 L832.9,1654.0 L833.8,1659.1 L834.9,1667.1 L836.0,1666.4 L837.0,1661.8 L838.1,1665.3 L839.2,1671.4 L840.3,1672.6 L842.5,1668.4 L844.6,1670.7 L846.8,1677.5 L847.1,1680.0 L847.4,1676.1 L847.7,1686.0 L848.0,1682.0 L848.3,1688.0 L848.5,1689.3 L848.8,1689.2 L849.1,1698.2 L849.4,1693.9 L849.7,1696.3 L850.0,1699.6 L850.6,1705.1 L851.3,1708.8 L852.0,1708.4 L852.6,1707.8 L853.2,1711.9 L853.9,1713.0 L854.5,1718.8 L855.2,1720.9 L855.9,1720.6 L856.5,1716.4 L857.1,1722.5 L857.8,1723.1 L858.5,1722.7 L859.1,1731.1 L859.8,1726.7 L860.4,1732.7 L861.0,1734.0 L861.7,1735.8 L862.4,1738.9 L863.0,1741.0 L863.4,1743.9 L863.8,1745.9 L864.2,1747.0 L864.6,1746.9 L865.0,1750.4 L865.4,1751.6 L865.8,1755.3 L866.2,1755.3 L866.7,1756.9 L867.1,1757.5 L867.5,1761.2 L867.9,1763.3 L868.3,1764.4 L868.7,1765.5 L869.1,1768.9 L869.5,1769.2 L870.0,1771.6 L870.5,1774.6 L871.0,1776.2 L871.5,1778.7 L872.0,1780.8 L872.5,1782.3 L873.0,1783.3 L873.5,1784.8 L874.0,1788.8 L874.5,1792.3 L875.0,1791.7 L875.5,1793.9 L876.0,1795.8 L876.8,1799.3 L877.6,1800.3 L878.4,1803.3 L879.2,1802.3 L880.0,1803.3 L880.8,1805.8 L881.8,1809.0 L882.8,1811.3 L883.7,1813.3 L884.7,1819.7 L885.7,1817.8 L886.0,1820.7 L886.3,1825.6 L886.6,1825.1 L886.9,1826.7 L887.2,1830.5 L887.6,1828.7 L887.9,1828.3 L888.2,1837.3 L888.5,1836.0 L888.8,1838.3 L889.1,1836.4 L889.4,1843.5 L889.7,1842.6 L890.0,1846.6 L890.3,1845.8 L890.6,1852.6 L891.0,1850.4 L891.3,1851.6 L891.6,1858.3 L891.9,1855.1 L892.2,1857.4 L892.5,1861.0 L893.1,1866.7 L893.7,1862.0 L894.3,1864.7 L894.9,1871.0 L895.5,1867.5 L896.1,1872.0 L896.7,1876.7 L897.3,1878.1 L897.9,1880.6 L898.5,1877.4 L899.1,1885.2 L899.7,1883.1 L900.3,1888.5 L900.9,1887.8 L901.5,1892.9 L902.1,1891.7 L902.7,1891.9 L903.3,1893.0 L904.3,1897.6 L905.3,1896.1 L906.2,1898.9 L907.2,1906.2 L908.2,1905.8 L909.2,1909.9 L910.2,1906.5 L911.2,1910.9 L912.1,1912.7 L913.1,1911.9 L914.1,1915.0 L915.0,1921.9 L915.8,1922.3 L916.7,1922.6 L917.6,1925.3 L918.5,1929.1 L919.3,1931.8 L920.2,1930.9 L921.1,1928.7 L921.9,1936.9 L922.8,1933.4 L924.3,1935.7 L925.9,1936.7 L927.4,1941.3 L929.0,1943.6 L930.5,1944.4 L932.1,1946.2 L933.6,1945.4 L935.0,1947.9 L936.5,1944.6 L937.9,1940.9 L939.4,1943.0 L940.8,1941.9 L942.3,1939.8 L943.7,1938.4 L945.2,1929.5 L946.6,1930.0 L947.7,1928.7 L948.8,1925.4 L949.9,1927.3 L950.9,1926.7 L952.0,1919.1 L953.1,1920.0 L954.9,1925.4 L956.7,1926.6 L958.5,1925.1 L960.3,1924.2 L962.1,1928.7 L963.9,1931.0 L965.2,1934.9 L966.6,1932.2 L968.0,1934.7 L969.3,1941.9 L970.6,1936.4 L972.0,1942.7 L973.4,1940.7 L974.7,1947.5 L977.3,1946.4 L979.9,1951.6 L982.5,1947.7 L985.1,1954.1 L987.7,1950.6 L988.9,1947.3 L990.2,1945.6 L991.4,1943.6 L992.7,1944.1 L993.9,1946.6 L995.2,1940.0 L996.4,1940.8 L997.0,1933.6 L997.6,1935.2 L998.2,1933.4 L998.8,1928.0 L999.4,1929.6 L999.9,1926.6 L1000.5,1923.6 L1001.1,1925.4 L1001.7,1922.3 L1002.3,1915.9 L1002.9,1913.8 L1004.0,1911.4 L1005.0,1911.0 L1006.1,1911.8 L1007.2,1912.3 L1008.3,1910.3 L1009.4,1907.6 L1010.4,1899.9 L1011.5,1903.0 L1014.1,1903.8 L1016.7,1902.6 L1019.3,1907.6 L1021.9,1905.6 L1024.5,1903.0 L1028.8,1904.4 L1033.2,1904.4 L1033.6,1910.0 L1034.0,1912.1 L1034.4,1915.8 L1034.8,1911.4 L1035.2,1913.3 L1035.5,1922.6 L1035.9,1919.2 L1036.3,1921.2 L1036.7,1927.8 L1037.1,1924.0 L1037.5,1931.2 L1040.4,1930.3 L1043.2,1926.0 L1046.1,1924.6 L1046.7,1918.1 L1047.4,1920.8 L1048.0,1918.9 L1048.6,1918.2 L1049.2,1914.4 L1049.9,1909.4 L1050.5,1908.3 L1053.8,1909.9 L1057.0,1904.0 L1058.7,1906.1 L1060.4,1909.1 L1062.2,1915.2 L1063.9,1915.2 L1065.6,1915.7 L1067.8,1922.0 L1070.0,1920.7 L1072.1,1919.8 L1074.3,1923.9 L1076.5,1927.8 L1078.7,1922.4 L1080.8,1921.3 L1083.0,1920.7 L1085.1,1922.2 L1087.3,1917.8 L1088.1,1912.4 L1089.0,1913.6 L1089.8,1909.7 L1090.6,1908.9 L1091.5,1908.8 L1092.3,1901.6 L1093.1,1903.4 L1093.9,1900.0 L1094.8,1900.3 L1095.6,1900.0 L1096.4,1895.4 L1097.3,1894.7 L1098.1,1890.2 L1099.9,1891.8 L1101.7,1895.5 L1103.5,1897.5 L1105.3,1897.0 L1107.1,1902.9 L1108.9,1902.7 L1109.9,1903.5 L1110.9,1904.6 L1111.8,1910.8 L1112.8,1913.2 L1113.8,1915.3 L1114.8,1912.0 L1115.8,1912.5 L1116.8,1918.6 L1117.7,1915.8 L1118.7,1924.0 L1119.7,1924.5 L1121.4,1923.6 L1123.2,1926.1 L1124.9,1929.6 L1126.6,1927.3 L1128.3,1930.5 L1130.1,1935.3 L1131.8,1936.2 L1133.5,1937.1 L1135.3,1935.1 L1137.0,1937.7 L1140.0,1938.6 L1143.1,1937.5 L1146.1,1942.8 L1149.2,1942.9 L1152.2,1946.2" fill="none" stroke="#6088FF" stroke-width="6.5" stroke-linejoin="round"/>
<path d="M339.5,1819.3 L342.3,1819.9 L345.1,1817.3 L347.9,1816.6 L350.8,1814.8 L353.6,1814.7 L356.4,1815.7 L359.2,1813.1 L362.0,1810.3 L365.1,1810.9 L368.3,1809.5 L371.4,1810.5 L374.6,1809.2 L377.7,1808.3 L380.9,1809.3 L384.0,1807.9 L386.0,1803.6 L388.0,1801.8 L390.0,1802.9 L394.0,1802.5 L398.0,1802.7 L401.0,1802.1 L404.0,1800.2 L407.0,1801.9 L410.0,1803.4 L412.0,1804.9 L414.0,1805.0 L417.0,1803.3 L420.0,1804.4 L423.5,1803.3 L427.0,1802.1 L430.4,1804.0 L433.8,1804.6 L437.2,1804.1 L440.6,1802.9 L444.0,1803.3 L447.1,1800.4 L450.2,1801.9 L453.2,1803.3 L456.3,1801.5 L459.4,1800.7 L462.5,1803.6 L465.6,1802.9 L468.7,1800.1 L471.8,1800.3 L474.8,1802.3 L477.9,1803.9 L481.0,1802.6 L483.8,1802.1 L486.5,1797.4 L489.2,1797.8 L492.0,1794.7 L494.8,1794.0 L497.7,1792.1 L500.5,1792.1 L503.3,1789.2 L506.2,1790.4 L509.0,1789.1 L511.7,1788.6 L514.3,1786.6 L517.0,1782.4 L519.7,1784.1 L522.3,1781.3 L525.0,1781.4 L528.2,1778.7 L531.4,1776.1 L534.6,1777.6 L537.8,1774.5 L541.0,1776.8 L544.0,1774.4 L547.0,1775.1 L550.0,1772.8 L553.0,1771.5 L556.0,1772.1 L559.0,1771.6 L562.0,1770.0 L565.0,1768.6 L568.1,1768.9 L571.2,1769.8 L574.4,1767.6 L577.5,1767.1 L580.6,1768.1 L583.8,1768.5 L586.9,1765.9 L590.0,1766.5 L592.7,1770.7 L595.3,1769.2 L598.0,1772.6 L600.7,1772.1 L603.3,1772.6 L606.0,1775.5 L609.3,1776.4 L612.7,1775.3 L616.0,1771.7 L617.5,1772.1 L619.0,1769.6 L620.5,1766.8 L622.0,1765.3 L624.7,1763.4 L627.3,1760.7 L630.0,1761.4 L631.0,1756.9 L632.0,1755.4 L633.0,1755.4 L634.0,1752.0 L636.3,1750.3 L638.6,1749.6 L640.9,1747.2 L643.2,1745.3 L645.5,1744.5 L647.8,1740.5 L650.0,1739.9 L652.3,1736.7 L654.5,1738.7 L656.8,1736.4 L658.4,1733.5 L660.0,1729.6 L661.7,1730.5 L663.3,1726.3 L664.9,1726.5 L665.6,1723.8 L666.2,1721.6 L666.9,1720.1 L667.5,1716.2 L668.2,1716.4 L670.4,1717.3 L672.5,1720.2 L674.7,1722.5 L675.8,1722.5 L676.8,1725.3 L677.9,1727.4 L679.0,1724.1 L680.1,1725.2 L681.1,1722.3 L682.2,1719.3 L683.3,1717.4 L684.4,1716.6 L685.7,1711.2 L687.0,1710.1 L688.3,1709.3 L689.6,1706.5 L690.9,1704.2 L694.1,1701.5 L697.4,1699.7 L697.5,1703.5 L697.6,1704.2 L697.7,1708.6 L697.8,1710.5 L697.9,1712.8 L698.0,1712.1 L698.1,1715.1 L698.2,1715.5 L698.3,1718.6 L698.4,1719.5 L698.5,1723.2 L698.6,1727.1 L698.7,1728.3 L698.8,1728.8 L698.9,1730.5 L699.0,1735.1 L699.1,1733.7 L699.1,1738.9 L699.2,1741.0 L699.3,1739.8 L699.3,1745.4 L699.4,1746.2 L699.5,1747.2 L699.5,1749.4 L699.6,1752.2 L699.7,1753.9 L699.7,1757.3 L699.8,1759.5 L699.9,1759.2 L699.9,1760.0 L700.0,1767.4 L700.1,1767.8 L700.1,1769.9 L700.2,1765.0 L700.3,1767.1 L700.3,1779.0 L700.4,1774.6 L700.5,1778.0 L700.5,1786.0 L700.6,1778.7 L700.7,1786.0 L700.7,1781.2 L700.8,1789.2 L700.9,1793.4 L700.9,1788.5 L701.0,1797.7 L701.2,1802.4 L701.5,1802.8 L701.8,1804.5 L702.0,1808.5 L702.2,1807.8 L702.5,1807.9 L702.8,1813.4 L703.0,1815.3 L703.2,1811.0 L703.5,1809.4 L703.8,1801.4 L704.0,1801.2 L704.2,1798.9 L704.5,1803.2 L704.8,1800.1 L705.0,1792.1 L705.1,1798.5 L705.2,1785.2 L705.3,1783.2 L705.4,1784.4 L705.5,1779.3 L705.6,1787.8 L705.7,1778.6 L705.8,1776.9 L705.9,1780.5 L706.0,1774.6 L706.1,1773.7 L706.2,1769.4 L706.3,1767.6 L706.4,1771.5 L706.5,1761.3 L706.6,1762.3 L706.7,1759.7 L706.8,1753.6 L706.9,1751.6 L707.0,1753.9 L707.1,1755.4 L707.2,1748.9 L707.3,1742.4 L707.4,1750.9 L707.5,1739.3 L707.6,1746.2 L707.7,1734.1 L707.8,1739.3 L707.9,1731.2 L708.0,1730.5 L708.2,1730.4 L708.4,1732.4 L708.6,1726.5 L708.9,1724.3 L709.1,1722.0 L709.3,1721.4 L709.5,1716.5 L709.7,1722.5 L709.9,1711.3 L710.2,1708.6 L710.4,1711.6 L710.6,1707.1 L710.8,1709.5 L711.0,1699.3 L711.2,1704.9 L711.4,1699.1 L711.7,1703.9 L711.9,1694.3 L712.1,1693.8 L712.3,1690.4 L712.5,1691.0 L712.7,1685.9 L713.0,1688.5 L713.2,1683.4 L713.4,1684.9 L713.6,1677.9 L714.5,1677.7 L715.5,1676.8 L716.4,1676.6 L717.3,1673.6 L718.2,1668.8 L719.2,1662.6 L720.1,1660.8 L721.5,1659.1 L722.8,1657.5 L724.2,1655.5 L725.5,1659.2 L726.9,1653.3 L728.2,1658.1 L731.5,1652.0 L734.7,1654.2 L736.0,1655.5 L737.3,1657.1 L738.6,1665.6 L739.9,1666.3 L741.2,1664.5 L742.4,1673.4 L743.7,1674.0 L744.9,1673.2 L746.1,1677.6 L748.1,1676.5 L750.2,1672.2 L752.2,1666.3 L754.2,1667.9 L756.2,1673.3 L758.2,1664.9 L760.3,1666.6 L762.3,1658.4 L765.1,1665.6 L768.0,1665.7 L770.9,1658.8 L773.7,1657.8 L776.9,1659.7 L780.2,1656.8 L783.4,1656.5 L786.6,1657.6 L789.9,1666.3 L791.3,1662.1 L792.6,1665.4 L794.0,1663.5 L795.4,1660.4 L796.7,1659.2 L798.1,1655.9 L799.2,1644.1 L800.2,1643.3 L801.3,1651.4 L802.4,1648.1 L803.4,1643.0 L804.5,1641.0 L805.7,1636.9 L807.0,1634.9 L808.2,1629.7 L809.4,1632.7 L810.6,1627.5 L811.8,1623.8 L813.1,1630.9 L814.3,1625.5 L815.9,1631.4 L817.6,1626.7 L819.2,1632.3 L821.9,1630.5 L824.6,1639.0 L827.3,1633.4 L828.2,1640.8 L829.2,1641.8 L830.1,1641.2 L831.0,1640.4 L831.9,1647.4 L832.9,1649.9 L833.8,1655.6 L834.9,1650.3 L836.0,1652.1 L837.0,1655.6 L838.1,1663.6 L839.2,1658.8 L840.3,1665.7 L842.5,1660.0 L844.6,1662.2 L846.8,1671.3 L847.1,1670.9 L847.4,1668.5 L847.7,1675.0 L848.0,1682.7 L848.3,1678.3 L848.5,1682.5 L848.8,1683.0 L849.1,1686.2 L849.4,1682.8 L849.7,1695.0 L850.0,1693.6 L850.6,1692.9 L851.3,1694.4 L852.0,1695.4 L852.6,1706.5 L853.2,1707.6 L853.9,1704.2 L854.5,1709.1 L855.2,1710.6 L855.9,1708.6 L856.5,1708.8 L857.1,1719.4 L857.8,1714.7 L858.5,1721.7 L859.1,1717.3 L859.8,1719.5 L860.4,1726.1 L861.0,1730.2 L861.7,1732.2 L862.4,1735.9 L863.0,1736.8 L863.4,1738.3 L863.8,1738.3 L864.2,1744.1 L864.6,1744.2 L865.0,1747.8 L865.4,1746.5 L865.8,1751.7 L866.2,1752.4 L866.7,1753.4 L867.1,1756.2 L867.5,1756.9 L867.9,1760.9 L868.3,1761.5 L868.7,1765.5 L869.1,1765.4 L869.5,1769.5 L870.0,1771.3 L870.5,1773.8 L871.0,1776.8 L871.5,1776.3 L872.0,1780.0 L872.5,1780.9 L873.0,1785.0 L873.5,1786.8 L874.0,1788.7 L874.5,1790.1 L875.0,1790.8 L875.5,1795.5 L876.0,1797.8 L876.8,1799.8 L877.6,1799.4 L878.4,1803.4 L879.2,1804.8 L880.0,1808.9 L880.8,1810.6 L881.8,1810.0 L882.8,1811.7 L883.7,1817.1 L884.7,1818.1 L885.7,1819.4 L886.0,1824.1 L886.3,1819.5 L886.6,1821.4 L886.9,1827.1 L887.2,1826.2 L887.6,1834.3 L887.9,1830.3 L888.2,1838.7 L888.5,1835.5 L888.8,1836.9 L889.1,1843.9 L889.4,1845.4 L889.7,1845.3 L890.0,1848.9 L890.3,1850.6 L890.6,1855.8 L891.0,1854.4 L891.3,1856.7 L891.6,1858.1 L891.9,1859.8 L892.2,1864.1 L892.5,1861.5 L893.1,1868.2 L893.7,1872.2 L894.3,1872.9 L894.9,1873.2 L895.5,1873.7 L896.1,1873.7 L896.7,1875.7 L897.3,1881.3 L897.9,1886.0 L898.5,1888.0 L899.1,1884.6 L899.7,1891.1 L900.3,1893.6 L900.9,1893.0 L901.5,1898.1 L902.1,1894.8 L902.7,1898.0 L903.3,1901.5 L904.3,1905.2 L905.3,1905.0 L906.2,1905.9 L907.2,1912.5 L908.2,1910.7 L909.2,1913.0 L910.2,1913.4 L911.2,1917.6 L912.1,1921.4 L913.1,1920.7 L914.1,1925.1 L915.0,1925.8 L915.8,1924.0 L916.7,1933.6 L917.6,1930.3 L918.5,1934.4 L919.3,1939.7 L920.2,1935.7 L921.1,1936.6 L921.9,1939.8 L922.8,1941.4 L924.3,1948.9 L925.9,1948.0 L927.4,1946.1 L929.0,1949.8 L930.5,1953.5 L932.1,1952.7 L933.6,1955.6 L935.0,1958.3 L936.5,1952.6 L937.9,1948.9 L939.4,1949.7 L940.8,1943.8 L942.3,1945.0 L943.7,1944.0 L945.2,1937.5 L946.6,1939.2 L947.7,1935.3 L948.8,1936.9 L949.9,1933.9 L950.9,1934.3 L952.0,1930.0 L953.1,1924.7 L954.9,1926.6 L956.7,1932.7 L958.5,1935.5 L960.3,1931.4 L962.1,1936.2 L963.9,1937.0 L965.2,1940.5 L966.6,1945.7 L968.0,1945.1 L969.3,1948.5 L970.6,1950.7 L972.0,1948.7 L973.4,1953.4 L974.7,1953.4 L977.3,1955.7 L979.9,1957.6 L982.5,1960.2 L985.1,1957.7 L987.7,1964.6 L988.9,1957.1 L990.2,1956.3 L991.4,1958.6 L992.7,1957.6 L993.9,1950.6 L995.2,1953.3 L996.4,1943.9 L997.0,1949.1 L997.6,1940.9 L998.2,1937.4 L998.8,1941.0 L999.4,1934.1 L999.9,1936.6 L1000.5,1928.5 L1001.1,1927.3 L1001.7,1927.0 L1002.3,1922.6 L1002.9,1923.6 L1004.0,1920.5 L1005.0,1921.5 L1006.1,1917.4 L1007.2,1919.0 L1008.3,1915.9 L1009.4,1908.4 L1010.4,1912.3 L1011.5,1910.0 L1014.1,1908.4 L1016.7,1909.2 L1019.3,1907.4 L1021.9,1909.7 L1024.5,1910.0 L1028.8,1910.5 L1033.2,1914.5 L1033.6,1914.3 L1034.0,1920.0 L1034.4,1920.5 L1034.8,1924.6 L1035.2,1920.8 L1035.5,1929.0 L1035.9,1928.4 L1036.3,1931.5 L1036.7,1930.4 L1037.1,1936.2 L1037.5,1936.0 L1040.4,1936.7 L1043.2,1933.8 L1046.1,1928.4 L1046.7,1927.7 L1047.4,1929.2 L1048.0,1921.3 L1048.6,1924.2 L1049.2,1921.5 L1049.9,1920.8 L1050.5,1915.6 L1053.8,1915.1 L1057.0,1913.4 L1058.7,1917.6 L1060.4,1914.3 L1062.2,1919.8 L1063.9,1919.8 L1065.6,1924.5 L1067.8,1923.7 L1070.0,1925.0 L1072.1,1927.0 L1074.3,1934.0 L1076.5,1931.6 L1078.7,1933.9 L1080.8,1931.0 L1083.0,1925.5 L1085.1,1926.0 L1087.3,1919.9 L1088.1,1925.2 L1089.0,1920.8 L1089.8,1914.6 L1090.6,1915.8 L1091.5,1913.6 L1092.3,1912.9 L1093.1,1907.8 L1093.9,1910.8 L1094.8,1906.4 L1095.6,1900.0 L1096.4,1903.9 L1097.3,1902.4 L1098.1,1895.7 L1099.9,1900.9 L1101.7,1904.0 L1103.5,1906.1 L1105.3,1901.6 L1107.1,1909.6 L1108.9,1906.8 L1109.9,1913.2 L1110.9,1914.3 L1111.8,1914.5 L1112.8,1920.0 L1113.8,1921.2 L1114.8,1924.7 L1115.8,1926.4 L1116.8,1925.3 L1117.7,1928.5 L1118.7,1930.0 L1119.7,1929.8 L1121.4,1932.4 L1123.2,1934.2 L1124.9,1933.6 L1126.6,1935.8 L1128.3,1942.2 L1130.1,1944.0 L1131.8,1944.6 L1133.5,1946.3 L1135.3,1946.6 L1137.0,1948.9 L1140.0,1950.3 L1143.1,1945.7 L1146.1,1949.9 L1149.2,1954.8 L1152.2,1949.3" fill="none" stroke="#7C7CFF" stroke-width="6.5" stroke-linejoin="round"/>
<path d="M339.5,1819.8 L342.3,1817.4 L345.1,1817.2 L347.9,1818.5 L350.8,1814.5 L353.6,1816.6 L356.4,1815.7 L359.2,1815.1 L362.0,1811.8 L365.1,1813.7 L368.3,1810.6 L371.4,1810.1 L374.6,1811.3 L377.7,1808.8 L380.9,1808.5 L384.0,1805.4 L386.0,1803.3 L388.0,1802.7 L390.0,1800.4 L394.0,1803.2 L398.0,1801.0 L401.0,1803.8 L404.0,1802.7 L407.0,1800.7 L410.0,1802.8 L412.0,1803.7 L414.0,1807.1 L417.0,1803.1 L420.0,1804.0 L423.5,1804.2 L427.0,1803.7 L430.4,1803.9 L433.8,1802.2 L437.2,1801.0 L440.6,1801.5 L444.0,1802.9 L447.1,1802.2 L450.2,1800.5 L453.2,1800.9 L456.3,1801.9 L459.4,1800.0 L462.5,1800.1 L465.6,1801.8 L468.7,1800.5 L471.8,1803.5 L474.8,1800.5 L477.9,1802.9 L481.0,1803.1 L483.8,1799.6 L486.5,1798.9 L489.2,1799.1 L492.0,1795.9 L494.8,1793.7 L497.7,1794.7 L500.5,1790.6 L503.3,1792.0 L506.2,1788.1 L509.0,1787.2 L511.7,1785.3 L514.3,1785.0 L517.0,1784.4 L519.7,1782.1 L522.3,1778.5 L525.0,1780.2 L528.2,1778.1 L531.4,1776.2 L534.6,1776.6 L537.8,1772.6 L541.0,1773.5 L544.0,1773.6 L547.0,1772.8 L550.0,1771.7 L553.0,1768.5 L556.0,1769.5 L559.0,1767.9 L562.0,1768.5 L565.0,1767.0 L568.1,1766.9 L571.2,1767.0 L574.4,1766.9 L577.5,1767.9 L580.6,1765.2 L583.8,1764.9 L586.9,1764.2 L590.0,1763.7 L592.7,1768.1 L595.3,1769.8 L598.0,1768.1 L600.7,1770.4 L603.3,1774.0 L606.0,1775.3 L609.3,1775.1 L612.7,1774.4 L616.0,1770.9 L617.5,1767.6 L619.0,1766.0 L620.5,1764.7 L622.0,1760.4 L624.7,1759.9 L627.3,1759.4 L630.0,1758.8 L631.0,1754.3 L632.0,1751.8 L633.0,1750.3 L634.0,1747.0 L636.3,1745.6 L638.6,1743.9 L640.9,1745.1 L643.2,1743.9 L645.5,1738.9 L647.8,1740.0 L650.0,1738.1 L652.3,1735.3 L654.5,1731.9 L656.8,1732.0 L658.4,1727.0 L660.0,1724.8 L661.7,1726.4 L663.3,1721.5 L664.9,1722.3 L665.6,1719.4 L666.2,1714.5 L666.9,1712.5 L667.5,1712.5 L668.2,1708.4 L670.4,1712.6 L672.5,1714.8 L674.7,1715.2 L675.8,1718.6 L676.8,1719.9 L677.9,1725.0 L679.0,1721.7 L680.1,1719.7 L681.1,1717.1 L682.2,1712.6 L683.3,1713.6 L684.4,1710.9 L685.7,1707.5 L687.0,1705.5 L688.3,1702.8 L689.6,1701.6 L690.9,1698.4 L694.1,1695.6 L697.4,1694.7 L697.5,1695.7 L697.6,1697.0 L697.7,1701.2 L697.8,1704.8 L697.9,1706.3 L698.0,1706.5 L698.1,1709.8 L698.2,1712.3 L698.3,1714.4 L698.4,1716.1 L698.5,1718.5 L698.6,1721.3 L698.7,1724.3 L698.8,1725.0 L698.9,1728.2 L699.0,1730.0 L699.1,1729.9 L699.1,1732.6 L699.2,1735.0 L699.3,1737.3 L699.3,1740.0 L699.4,1741.4 L699.5,1746.3 L699.5,1747.4 L699.6,1748.2 L699.7,1751.6 L699.7,1754.7 L699.8,1753.8 L699.9,1757.8 L699.9,1761.3 L700.0,1760.1 L700.1,1768.3 L700.1,1769.6 L700.2,1766.0 L700.3,1766.0 L700.3,1776.1 L700.4,1773.6 L700.5,1775.0 L700.5,1778.5 L700.6,1783.8 L700.7,1788.0 L700.7,1790.4 L700.8,1790.7 L700.9,1785.8 L700.9,1790.3 L701.0,1788.1 L701.2,1792.7 L701.5,1796.6 L701.8,1796.9 L702.0,1802.7 L702.2,1800.9 L702.5,1809.4 L702.8,1808.7 L703.0,1809.0 L703.2,1812.0 L703.5,1805.5 L703.8,1799.6 L704.0,1807.1 L704.2,1803.8 L704.5,1803.1 L704.8,1793.8 L705.0,1791.2 L705.1,1794.2 L705.2,1785.5 L705.3,1793.2 L705.4,1787.2 L705.5,1783.8 L705.6,1775.7 L705.7,1776.3 L705.8,1775.8 L705.9,1780.4 L706.0,1768.2 L706.1,1771.4 L706.2,1763.0 L706.3,1771.6 L706.4,1766.8 L706.5,1765.4 L706.6,1762.5 L706.7,1753.5 L706.8,1752.0 L706.9,1747.5 L707.0,1751.4 L707.1,1743.6 L707.2,1742.8 L707.3,1740.4 L707.4,1747.2 L707.5,1743.5 L707.6,1735.3 L707.7,1741.4 L707.8,1729.5 L707.9,1727.1 L708.0,1727.8 L708.2,1730.7 L708.4,1720.1 L708.6,1726.2 L708.9,1721.1 L709.1,1722.0 L709.3,1714.3 L709.5,1708.6 L709.7,1707.1 L709.9,1712.5 L710.2,1707.7 L710.4,1708.6 L710.6,1699.7 L710.8,1698.5 L711.0,1695.5 L711.2,1701.0 L711.4,1697.1 L711.7,1688.4 L711.9,1693.1 L712.1,1682.7 L712.3,1685.6 L712.5,1681.0 L712.7,1684.9 L713.0,1682.2 L713.2,1679.6 L713.4,1671.6 L713.6,1667.6 L714.5,1672.5 L715.5,1670.9 L716.4,1660.4 L717.3,1668.1 L718.2,1666.5 L719.2,1657.8 L720.1,1657.5 L721.5,1656.9 L722.8,1658.0 L724.2,1652.5 L725.5,1648.8 L726.9,1649.7 L728.2,1644.2 L731.5,1640.8 L734.7,1649.2 L736.0,1649.7 L737.3,1650.9 L738.6,1653.8 L739.9,1653.9 L741.2,1657.1 L742.4,1664.7 L743.7,1668.7 L744.9,1665.9 L746.1,1672.9 L748.1,1662.5 L750.2,1665.3 L752.2,1666.3 L754.2,1664.9 L756.2,1658.6 L758.2,1654.3 L760.3,1662.2 L762.3,1656.4 L765.1,1655.8 L768.0,1651.1 L770.9,1647.2 L773.7,1651.6 L776.9,1649.8 L780.2,1655.9 L783.4,1653.4 L786.6,1656.7 L789.9,1656.6 L791.3,1656.7 L792.6,1647.1 L794.0,1655.3 L795.4,1648.1 L796.7,1646.2 L798.1,1639.1 L799.2,1635.8 L800.2,1641.0 L801.3,1639.1 L802.4,1636.2 L803.4,1629.1 L804.5,1629.7 L805.7,1631.1 L807.0,1627.6 L808.2,1628.8 L809.4,1617.0 L810.6,1623.3 L811.8,1612.2 L813.1,1617.5 L814.3,1614.4 L815.9,1611.3 L817.6,1617.9 L819.2,1623.2 L821.9,1627.6 L824.6,1620.0 L827.3,1627.1 L828.2,1632.8 L829.2,1626.9 L830.1,1638.5 L831.0,1641.3 L831.9,1636.4 L832.9,1637.1 L833.8,1638.6 L834.9,1641.6 L836.0,1646.2 L837.0,1651.8 L838.1,1656.7 L839.2,1654.3 L840.3,1661.2 L842.5,1656.6 L844.6,1661.0 L846.8,1654.8 L847.1,1662.1 L847.4,1659.7 L847.7,1663.3 L848.0,1673.7 L848.3,1667.7 L848.5,1672.2 L848.8,1677.2 L849.1,1679.5 L849.4,1675.8 L849.7,1679.1 L850.0,1688.2 L850.6,1687.2 L851.3,1685.7 L852.0,1692.7 L852.6,1693.7 L853.2,1703.5 L853.9,1694.4 L854.5,1698.3 L855.2,1699.4 L855.9,1707.4 L856.5,1714.6 L857.1,1714.7 L857.8,1709.0 L858.5,1716.5 L859.1,1716.6 L859.8,1726.3 L860.4,1723.7 L861.0,1725.6 L861.7,1726.5 L862.4,1729.6 L863.0,1732.2 L863.4,1733.8 L863.8,1736.7 L864.2,1737.0 L864.6,1740.4 L865.0,1744.9 L865.4,1744.7 L865.8,1747.3 L866.2,1750.4 L866.7,1752.8 L867.1,1754.7 L867.5,1755.4 L867.9,1758.9 L868.3,1759.0 L868.7,1762.8 L869.1,1762.6 L869.5,1765.4 L870.0,1767.6 L870.5,1770.5 L871.0,1774.3 L871.5,1773.6 L872.0,1779.3 L872.5,1778.3 L873.0,1784.0 L873.5,1786.2 L874.0,1787.1 L874.5,1790.2 L875.0,1792.8 L875.5,1793.0 L876.0,1796.9 L876.8,1795.8 L877.6,1800.9 L878.4,1802.5 L879.2,1805.2 L880.0,1803.5 L880.8,1805.1 L881.8,1810.9 L882.8,1813.9 L883.7,1816.8 L884.7,1815.1 L885.7,1820.5 L886.0,1825.9 L886.3,1822.4 L886.6,1829.1 L886.9,1832.4 L887.2,1832.3 L887.6,1832.6 L887.9,1834.6 L888.2,1837.2 L888.5,1836.7 L888.8,1838.5 L889.1,1842.3 L889.4,1843.7 L889.7,1851.7 L890.0,1849.5 L890.3,1855.8 L890.6,1855.5 L891.0,1860.4 L891.3,1862.6 L891.6,1863.3 L891.9,1863.4 L892.2,1863.9 L892.5,1868.7 L893.1,1868.8 L893.7,1875.1 L894.3,1871.0 L894.9,1877.9 L895.5,1877.7 L896.1,1880.5 L896.7,1883.7 L897.3,1889.3 L897.9,1891.6 L898.5,1888.6 L899.1,1895.6 L899.7,1897.8 L900.3,1896.5 L900.9,1898.9 L901.5,1898.2 L902.1,1905.1 L902.7,1904.8 L903.3,1909.2 L904.3,1912.6 L905.3,1912.4 L906.2,1915.1 L907.2,1916.1 L908.2,1914.9 L909.2,1919.7 L910.2,1918.7 L911.2,1921.8 L912.1,1930.4 L913.1,1927.7 L914.1,1927.9 L915.0,1932.5 L915.8,1931.6 L916.7,1938.2 L917.6,1937.3 L918.5,1939.4 L919.3,1944.9 L920.2,1949.4 L921.1,1944.2 L921.9,1952.0 L922.8,1953.1 L924.3,1954.3 L925.9,1955.7 L927.4,1954.4 L929.0,1959.1 L930.5,1962.4 L932.1,1962.8 L933.6,1970.1 L935.0,1962.7 L936.5,1964.6 L937.9,1962.1 L939.4,1959.8 L940.8,1955.2 L942.3,1953.1 L943.7,1953.7 L945.2,1945.8 L946.6,1944.5 L947.7,1940.7 L948.8,1942.5 L949.9,1940.2 L950.9,1942.2 L952.0,1939.9 L953.1,1933.7 L954.9,1936.4 L956.7,1935.4 L958.5,1942.6 L960.3,1942.7 L962.1,1942.0 L963.9,1949.7 L965.2,1945.1 L966.6,1948.4 L968.0,1952.7 L969.3,1958.9 L970.6,1954.1 L972.0,1957.2 L973.4,1963.5 L974.7,1961.9 L977.3,1968.2 L979.9,1962.6 L982.5,1965.9 L985.1,1968.0 L987.7,1973.9 L988.9,1965.8 L990.2,1968.2 L991.4,1967.8 L992.7,1966.3 L993.9,1962.8 L995.2,1954.6 L996.4,1955.9 L997.0,1951.5 L997.6,1948.4 L998.2,1947.1 L998.8,1948.7 L999.4,1945.2 L999.9,1939.3 L1000.5,1938.3 L1001.1,1934.2 L1001.7,1938.8 L1002.3,1935.2 L1002.9,1930.6 L1004.0,1932.3 L1005.0,1930.2 L1006.1,1921.7 L1007.2,1919.9 L1008.3,1917.1 L1009.4,1918.4 L1010.4,1915.8 L1011.5,1913.0 L1014.1,1916.2 L1016.7,1915.4 L1019.3,1914.8 L1021.9,1918.8 L1024.5,1922.2 L1028.8,1915.7 L1033.2,1919.9 L1033.6,1919.4 L1034.0,1926.5 L1034.4,1926.2 L1034.8,1931.6 L1035.2,1932.5 L1035.5,1937.1 L1035.9,1936.2 L1036.3,1938.6 L1036.7,1943.9 L1037.1,1944.7 L1037.5,1943.2 L1040.4,1939.4 L1043.2,1944.0 L1046.1,1935.3 L1046.7,1940.0 L1047.4,1937.9 L1048.0,1933.6 L1048.6,1933.7 L1049.2,1928.8 L1049.9,1927.8 L1050.5,1924.4 L1053.8,1919.6 L1057.0,1916.7 L1058.7,1924.1 L1060.4,1924.0 L1062.2,1923.5 L1063.9,1929.1 L1065.6,1929.0 L1067.8,1930.8 L1070.0,1937.6 L1072.1,1937.4 L1074.3,1940.3 L1076.5,1942.7 L1078.7,1937.8 L1080.8,1936.1 L1083.0,1934.0 L1085.1,1931.6 L1087.3,1933.1 L1088.1,1931.7 L1089.0,1924.9 L1089.8,1926.0 L1090.6,1919.9 L1091.5,1916.1 L1092.3,1919.4 L1093.1,1917.9 L1093.9,1912.2 L1094.8,1915.4 L1095.6,1911.0 L1096.4,1905.6 L1097.3,1907.0 L1098.1,1905.5 L1099.9,1901.9 L1101.7,1910.1 L1103.5,1908.3 L1105.3,1909.1 L1107.1,1912.0 L1108.9,1915.2 L1109.9,1917.3 L1110.9,1917.5 L1111.8,1917.8 L1112.8,1924.4 L1113.8,1927.2 L1114.8,1929.1 L1115.8,1928.8 L1116.8,1934.6 L1117.7,1930.0 L1118.7,1933.0 L1119.7,1934.2 L1121.4,1940.3 L1123.2,1942.0 L1124.9,1941.5 L1126.6,1945.7 L1128.3,1943.4 L1130.1,1945.6 L1131.8,1954.8 L1133.5,1956.1 L1135.3,1951.4 L1137.0,1958.0 L1140.0,1957.5 L1143.1,1958.5 L1146.1,1961.6 L1149.2,1960.8 L1152.2,1963.9" fill="none" stroke="#A068FF" stroke-width="6.5" stroke-linejoin="round"/>
<path d="M339.5,1821.5 L342.3,1821.5 L345.1,1817.4 L347.9,1819.3 L350.8,1816.3 L353.6,1817.7 L356.4,1816.3 L359.2,1816.0 L362.0,1814.2 L365.1,1811.9 L368.3,1811.6 L371.4,1811.7 L374.6,1808.0 L377.7,1809.0 L380.9,1808.3 L384.0,1808.0 L386.0,1804.7 L388.0,1804.0 L390.0,1802.8 L394.0,1801.3 L398.0,1802.5 L401.0,1803.4 L404.0,1801.3 L407.0,1801.9 L410.0,1801.8 L412.0,1805.8 L414.0,1806.2 L417.0,1804.0 L420.0,1802.1 L423.5,1803.6 L427.0,1802.0 L430.4,1804.9 L433.8,1802.7 L437.2,1803.3 L440.6,1801.8 L444.0,1799.9 L447.1,1801.4 L450.2,1802.1 L453.2,1800.2 L456.3,1803.7 L459.4,1802.2 L462.5,1801.7 L465.6,1799.9 L468.7,1800.8 L471.8,1801.2 L474.8,1802.4 L477.9,1800.5 L481.0,1801.8 L483.8,1799.2 L486.5,1798.7 L489.2,1797.4 L492.0,1795.0 L494.8,1794.6 L497.7,1792.7 L500.5,1789.1 L503.3,1790.0 L506.2,1787.9 L509.0,1787.7 L511.7,1786.7 L514.3,1782.7 L517.0,1783.1 L519.7,1778.9 L522.3,1779.0 L525.0,1774.8 L528.2,1777.0 L531.4,1774.4 L534.6,1773.4 L537.8,1772.5 L541.0,1770.9 L544.0,1769.6 L547.0,1770.7 L550.0,1769.6 L553.0,1766.6 L556.0,1766.7 L559.0,1768.6 L562.0,1765.2 L565.0,1764.5 L568.1,1765.4 L571.2,1764.3 L574.4,1766.3 L577.5,1766.1 L580.6,1762.4 L583.8,1762.5 L586.9,1762.0 L590.0,1762.8 L592.7,1763.7 L595.3,1766.8 L598.0,1769.2 L600.7,1767.4 L603.3,1768.8 L606.0,1770.6 L609.3,1770.7 L612.7,1769.2 L616.0,1769.6 L617.5,1766.9 L619.0,1765.9 L620.5,1764.4 L622.0,1761.9 L624.7,1758.2 L627.3,1757.5 L630.0,1754.0 L631.0,1753.4 L632.0,1752.1 L633.0,1749.6 L634.0,1744.1 L636.3,1742.6 L638.6,1743.8 L640.9,1741.3 L643.2,1739.9 L645.5,1735.5 L647.8,1735.6 L650.0,1731.1 L652.3,1731.8 L654.5,1729.9 L656.8,1725.9 L658.4,1722.5 L660.0,1723.3 L661.7,1722.2 L663.3,1718.5 L664.9,1715.4 L665.6,1713.0 L666.2,1712.6 L666.9,1711.0 L667.5,1706.3 L668.2,1703.4 L670.4,1708.8 L672.5,1708.8 L674.7,1711.1 L675.8,1713.2 L676.8,1717.3 L677.9,1720.9 L679.0,1716.4 L680.1,1715.6 L681.1,1711.4 L682.2,1709.0 L683.3,1708.2 L684.4,1706.4 L685.7,1703.1 L687.0,1700.5 L688.3,1698.5 L689.6,1696.5 L690.9,1694.2 L694.1,1690.6 L697.4,1688.1 L697.5,1688.9 L697.6,1693.2 L697.7,1694.8 L697.8,1695.7 L697.9,1701.9 L698.0,1701.5 L698.1,1706.3 L698.2,1704.9 L698.3,1708.5 L698.4,1712.5 L698.5,1714.3 L698.6,1716.6 L698.7,1718.2 L698.8,1718.9 L698.9,1724.1 L699.0,1726.1 L699.1,1727.2 L699.1,1729.9 L699.2,1733.1 L699.3,1734.2 L699.3,1736.4 L699.4,1738.7 L699.5,1742.0 L699.5,1744.2 L699.6,1744.9 L699.7,1749.0 L699.7,1749.6 L699.8,1753.1 L699.9,1754.2 L699.9,1758.6 L700.0,1764.5 L700.1,1764.9 L700.1,1762.4 L700.2,1764.3 L700.3,1767.6 L700.3,1771.9 L700.4,1767.3 L700.5,1775.8 L700.5,1782.6 L700.6,1774.5 L700.7,1786.8 L700.7,1785.2 L700.8,1792.6 L700.9,1791.6 L700.9,1793.8 L701.0,1796.5 L701.2,1794.9 L701.5,1793.6 L701.8,1804.8 L702.0,1807.5 L702.2,1808.0 L702.5,1804.3 L702.8,1810.1 L703.0,1812.6 L703.2,1808.4 L703.5,1807.6 L703.8,1804.8 L704.0,1808.7 L704.2,1802.1 L704.5,1803.9 L704.8,1800.7 L705.0,1789.6 L705.1,1794.4 L705.2,1787.5 L705.3,1787.8 L705.4,1785.1 L705.5,1784.9 L705.6,1777.4 L705.7,1779.6 L705.8,1773.7 L705.9,1776.3 L706.0,1770.6 L706.1,1770.1 L706.2,1772.1 L706.3,1761.2 L706.4,1755.6 L706.5,1764.0 L706.6,1757.3 L706.7,1756.4 L706.8,1756.4 L706.9,1754.8 L707.0,1746.5 L707.1,1751.4 L707.2,1742.0 L707.3,1743.7 L707.4,1742.7 L707.5,1734.8 L707.6,1733.2 L707.7,1730.3 L707.8,1727.7 L707.9,1726.3 L708.0,1729.2 L708.2,1717.5 L708.4,1726.4 L708.6,1721.7 L708.9,1716.6 L709.1,1715.4 L709.3,1709.0 L709.5,1712.3 L709.7,1711.3 L709.9,1703.1 L710.2,1702.2 L710.4,1696.6 L710.6,1694.7 L710.8,1699.6 L711.0,1694.8 L711.2,1690.2 L711.4,1690.3 L711.7,1682.5 L711.9,1678.1 L712.1,1680.0 L712.3,1680.4 L712.5,1673.4 L712.7,1675.4 L713.0,1670.5 L713.2,1667.5 L713.4,1670.9 L713.6,1664.1 L714.5,1666.3 L715.5,1664.0 L716.4,1657.1 L717.3,1650.6 L718.2,1657.9 L719.2,1652.1 L720.1,1650.0 L721.5,1649.0 L722.8,1645.1 L724.2,1647.1 L725.5,1634.0 L726.9,1643.3 L728.2,1636.8 L731.5,1636.5 L734.7,1644.8 L736.0,1647.0 L737.3,1645.7 L738.6,1640.9 L739.9,1650.5 L741.2,1650.3 L742.4,1654.7 L743.7,1660.2 L744.9,1654.3 L746.1,1665.3 L748.1,1657.0 L750.2,1654.4 L752.2,1650.0 L754.2,1648.9 L756.2,1649.1 L758.2,1650.5 L760.3,1653.8 L762.3,1642.8 L765.1,1643.1 L768.0,1643.0 L770.9,1645.0 L773.7,1640.5 L776.9,1644.5 L780.2,1638.5 L783.4,1637.5 L786.6,1646.2 L789.9,1650.2 L791.3,1640.9 L792.6,1637.6 L794.0,1642.7 L795.4,1633.2 L796.7,1641.2 L798.1,1636.1 L799.2,1627.5 L800.2,1628.2 L801.3,1621.7 L802.4,1619.8 L803.4,1620.7 L804.5,1624.7 L805.7,1623.0 L807.0,1619.0 L808.2,1615.6 L809.4,1612.8 L810.6,1609.9 L811.8,1609.5 L813.1,1605.5 L814.3,1602.2 L815.9,1610.0 L817.6,1606.1 L819.2,1609.9 L821.9,1615.2 L824.6,1620.7 L827.3,1615.3 L828.2,1618.7 L829.2,1620.7 L830.1,1620.8 L831.0,1624.9 L831.9,1632.6 L832.9,1627.7 L833.8,1633.6 L834.9,1633.5 L836.0,1639.4 L837.0,1644.0 L838.1,1638.4 L839.2,1645.1 L840.3,1643.8 L842.5,1651.1 L844.6,1653.2 L846.8,1649.5 L847.1,1652.0 L847.4,1655.3 L847.7,1658.1 L848.0,1667.2 L848.3,1669.4 L848.5,1670.9 L848.8,1668.5 L849.1,1671.7 L849.4,1671.0 L849.7,1676.6 L850.0,1684.9 L850.6,1677.0 L851.3,1683.1 L852.0,1683.1 L852.6,1693.3 L853.2,1689.2 L853.9,1693.9 L854.5,1691.1 L855.2,1701.2 L855.9,1701.5 L856.5,1707.4 L857.1,1708.9 L857.8,1711.6 L858.5,1708.2 L859.1,1710.5 L859.8,1717.1 L860.4,1716.6 L861.0,1722.5 L861.7,1724.1 L862.4,1725.6 L863.0,1727.5 L863.4,1728.7 L863.8,1732.9 L864.2,1736.0 L864.6,1735.7 L865.0,1737.9 L865.4,1742.5 L865.8,1743.9 L866.2,1747.5 L866.7,1748.3 L867.1,1752.8 L867.5,1754.7 L867.9,1754.7 L868.3,1757.9 L868.7,1760.4 L869.1,1762.1 L869.5,1765.8 L870.0,1767.7 L870.5,1770.5 L871.0,1770.6 L871.5,1773.9 L872.0,1776.4 L872.5,1778.9 L873.0,1779.0 L873.5,1784.5 L874.0,1785.4 L874.5,1786.6 L875.0,1791.7 L875.5,1792.9 L876.0,1795.9 L876.8,1798.2 L877.6,1800.0 L878.4,1803.5 L879.2,1802.3 L880.0,1805.0 L880.8,1806.0 L881.8,1812.2 L882.8,1811.3 L883.7,1812.2 L884.7,1815.5 L885.7,1818.2 L886.0,1823.5 L886.3,1825.1 L886.6,1827.5 L886.9,1826.2 L887.2,1832.6 L887.6,1832.7 L887.9,1833.7 L888.2,1835.8 L888.5,1838.9 L888.8,1843.2 L889.1,1843.6 L889.4,1848.3 L889.7,1848.2 L890.0,1855.1 L890.3,1858.5 L890.6,1856.4 L891.0,1856.7 L891.3,1866.2 L891.6,1861.5 L891.9,1868.3 L892.2,1871.5 L892.5,1871.6 L893.1,1877.1 L893.7,1873.5 L894.3,1880.3 L894.9,1884.1 L895.5,1886.3 L896.1,1888.2 L896.7,1887.2 L897.3,1890.1 L897.9,1895.0 L898.5,1893.6 L899.1,1894.9 L899.7,1895.3 L900.3,1899.0 L900.9,1900.8 L901.5,1909.4 L902.1,1906.7 L902.7,1909.3 L903.3,1916.6 L904.3,1916.6 L905.3,1916.8 L906.2,1916.5 L907.2,1920.8 L908.2,1922.5 L909.2,1930.0 L910.2,1928.1 L911.2,1934.8 L912.1,1931.5 L913.1,1932.0 L914.1,1941.1 L915.0,1936.7 L915.8,1944.7 L916.7,1945.5 L917.6,1945.2 L918.5,1951.9 L919.3,1951.0 L920.2,1957.7 L921.1,1956.6 L921.9,1961.9 L922.8,1964.1 L924.3,1961.7 L925.9,1966.3 L927.4,1968.7 L929.0,1970.1 L930.5,1967.2 L932.1,1974.5 L933.6,1977.2 L935.0,1970.4 L936.5,1967.3 L937.9,1964.8 L939.4,1966.3 L940.8,1960.5 L942.3,1964.2 L943.7,1958.5 L945.2,1960.8 L946.6,1956.4 L947.7,1951.8 L948.8,1947.7 L949.9,1947.5 L950.9,1946.8 L952.0,1946.7 L953.1,1944.8 L954.9,1942.4 L956.7,1942.1 L958.5,1949.4 L960.3,1951.8 L962.1,1953.6 L963.9,1957.0 L965.2,1959.3 L966.6,1959.9 L968.0,1963.7 L969.3,1960.3 L970.6,1969.1 L972.0,1969.0 L973.4,1966.6 L974.7,1969.4 L977.3,1974.9 L979.9,1973.8 L982.5,1980.6 L985.1,1977.0 L987.7,1980.3 L988.9,1978.2 L990.2,1979.4 L991.4,1972.0 L992.7,1974.4 L993.9,1970.8 L995.2,1967.3 L996.4,1968.0 L997.0,1965.1 L997.6,1961.6 L998.2,1957.6 L998.8,1951.1 L999.4,1950.1 L999.9,1951.2 L1000.5,1944.5 L1001.1,1946.3 L1001.7,1941.5 L1002.3,1939.4 L1002.9,1940.4 L1004.0,1938.2 L1005.0,1935.1 L1006.1,1930.3 L1007.2,1928.6 L1008.3,1929.9 L1009.4,1927.0 L1010.4,1922.1 L1011.5,1915.5 L1014.1,1923.3 L1016.7,1917.7 L1019.3,1919.4 L1021.9,1925.0 L1024.5,1922.5 L1028.8,1927.7 L1033.2,1927.9 L1033.6,1926.1 L1034.0,1934.4 L1034.4,1937.5 L1034.8,1937.1 L1035.2,1942.1 L1035.5,1943.0 L1035.9,1942.7 L1036.3,1947.8 L1036.7,1951.1 L1037.1,1951.5 L1037.5,1949.0 L1040.4,1949.2 L1043.2,1949.9 L1046.1,1945.1 L1046.7,1941.3 L1047.4,1941.3 L1048.0,1936.5 L1048.6,1936.9 L1049.2,1931.6 L1049.9,1934.3 L1050.5,1928.0 L1053.8,1931.8 L1057.0,1923.3 L1058.7,1929.8 L1060.4,1932.2 L1062.2,1930.9 L1063.9,1936.6 L1065.6,1938.2 L1067.8,1940.8 L1070.0,1939.3 L1072.1,1943.6 L1074.3,1948.4 L1076.5,1948.7 L1078.7,1943.7 L1080.8,1942.5 L1083.0,1944.8 L1085.1,1936.3 L1087.3,1937.7 L1088.1,1935.7 L1089.0,1932.7 L1089.8,1927.0 L1090.6,1925.6 L1091.5,1929.2 L1092.3,1923.8 L1093.1,1920.2 L1093.9,1919.2 L1094.8,1913.8 L1095.6,1911.7 L1096.4,1915.4 L1097.3,1912.6 L1098.1,1905.8 L1099.9,1908.9 L1101.7,1909.1 L1103.5,1913.2 L1105.3,1917.0 L1107.1,1921.0 L1108.9,1921.2 L1109.9,1926.1 L1110.9,1929.5 L1111.8,1928.3 L1112.8,1926.3 L1113.8,1929.3 L1114.8,1935.8 L1115.8,1933.7 L1116.8,1942.0 L1117.7,1937.5 L1118.7,1939.7 L1119.7,1949.4 L1121.4,1946.7 L1123.2,1949.8 L1124.9,1952.2 L1126.6,1950.3 L1128.3,1954.0 L1130.1,1956.3 L1131.8,1961.2 L1133.5,1963.5 L1135.3,1964.8 L1137.0,1962.7 L1140.0,1965.7 L1143.1,1970.1 L1146.1,1964.9 L1149.2,1967.0 L1152.2,1969.9" fill="none" stroke="#D048FF" stroke-width="6.5" stroke-linejoin="round"/>
<path d="M339.5,1828.6 L342.3,1821.6 L345.1,1824.4 L347.9,1821.8 L350.8,1820.9 L353.6,1821.6 L356.4,1815.9 L359.2,1817.6 L362.0,1814.7 L365.1,1816.2 L368.3,1814.9 L371.4,1811.9 L374.6,1809.2 L377.7,1811.8 L380.9,1810.3 L384.0,1808.3 L386.0,1807.1 L388.0,1806.0 L390.0,1799.5 L394.0,1802.2 L398.0,1802.9 L401.0,1799.6 L404.0,1803.5 L407.0,1799.9 L410.0,1803.8 L412.0,1805.0 L414.0,1810.8 L417.0,1807.3 L420.0,1803.7 L423.5,1801.8 L427.0,1802.8 L430.4,1803.2 L433.8,1804.1 L437.2,1801.3 L440.6,1803.8 L444.0,1799.4 L447.1,1801.2 L450.2,1798.9 L453.2,1799.1 L456.3,1799.8 L459.4,1798.3 L462.5,1801.5 L465.6,1801.8 L468.7,1800.4 L471.8,1802.8 L474.8,1801.3 L477.9,1802.2 L481.0,1798.6 L483.8,1797.8 L486.5,1793.7 L489.2,1792.4 L492.0,1794.3 L494.8,1788.2 L497.7,1789.2 L500.5,1786.0 L503.3,1786.0 L506.2,1785.4 L509.0,1783.3 L511.7,1782.0 L514.3,1779.9 L517.0,1774.3 L519.7,1775.7 L522.3,1772.3 L525.0,1767.2 L528.2,1766.1 L531.4,1765.9 L534.6,1766.5 L537.8,1760.6 L541.0,1764.0 L544.0,1761.7 L547.0,1760.2 L550.0,1758.1 L553.0,1757.0 L556.0,1756.2 L559.0,1757.0 L562.0,1754.4 L565.0,1755.1 L568.1,1755.7 L571.2,1750.6 L574.4,1749.8 L577.5,1754.9 L580.6,1750.1 L583.8,1753.4 L586.9,1750.6 L590.0,1749.2 L592.7,1749.9 L595.3,1754.3 L598.0,1757.3 L600.7,1756.0 L603.3,1757.7 L606.0,1761.4 L609.3,1763.9 L612.7,1762.2 L616.0,1758.2 L617.5,1755.9 L619.0,1752.8 L620.5,1751.3 L622.0,1745.6 L624.7,1744.0 L627.3,1743.0 L630.0,1739.4 L631.0,1737.3 L632.0,1736.1 L633.0,1731.4 L634.0,1725.5 L636.3,1725.1 L638.6,1724.2 L640.9,1720.1 L643.2,1718.8 L645.5,1717.7 L647.8,1713.8 L650.0,1709.9 L652.3,1711.3 L654.5,1703.7 L656.8,1706.0 L658.4,1698.3 L660.0,1698.3 L661.7,1695.5 L663.3,1692.0 L664.9,1690.5 L665.6,1689.1 L666.2,1682.8 L666.9,1678.2 L667.5,1676.1 L668.2,1677.2 L670.4,1678.5 L672.5,1682.4 L674.7,1683.2 L675.8,1686.1 L676.8,1691.5 L677.9,1694.1 L679.0,1693.0 L680.1,1685.4 L681.1,1683.4 L682.2,1682.4 L683.3,1680.5 L684.4,1674.8 L685.7,1673.5 L687.0,1666.3 L688.3,1666.4 L689.6,1661.3 L690.9,1660.4 L694.1,1655.5 L697.4,1652.4 L697.5,1655.9 L697.6,1661.5 L697.7,1664.4 L697.8,1668.6 L697.9,1668.5 L698.0,1669.4 L698.1,1676.8 L698.2,1676.5 L698.3,1682.2 L698.4,1683.8 L698.5,1686.5 L698.6,1686.9 L698.7,1691.1 L698.8,1697.1 L698.9,1698.4 L699.0,1703.9 L699.1,1706.4 L699.1,1707.7 L699.2,1713.3 L699.3,1710.4 L699.3,1715.7 L699.4,1719.5 L699.5,1719.6 L699.5,1727.4 L699.6,1726.1 L699.7,1731.6 L699.7,1732.7 L699.8,1736.3 L699.9,1739.8 L699.9,1741.7 L700.0,1740.0 L700.1,1751.9 L700.1,1754.1 L700.2,1747.2 L700.3,1766.2 L700.3,1753.6 L700.4,1758.6 L700.5,1762.6 L700.5,1767.1 L700.6,1772.3 L700.7,1782.7 L700.7,1771.2 L700.8,1782.7 L700.9,1786.5 L700.9,1782.9 L701.0,1787.6 L701.2,1792.3 L701.5,1803.3 L701.8,1804.4 L702.0,1802.2 L702.2,1797.8 L702.5,1806.1 L702.8,1817.5 L703.0,1813.7 L703.2,1809.8 L703.5,1811.2 L703.8,1797.3 L704.0,1805.2 L704.2,1802.8 L704.5,1789.4 L704.8,1791.8 L705.0,1796.6 L705.1,1783.0 L705.2,1784.8 L705.3,1778.6 L705.4,1779.3 L705.5,1773.5 L705.6,1769.7 L705.7,1777.2 L705.8,1770.0 L705.9,1772.6 L706.0,1757.7 L706.1,1757.1 L706.2,1752.3 L706.3,1758.4 L706.4,1746.5 L706.5,1749.1 L706.6,1737.1 L706.7,1740.7 L706.8,1732.9 L706.9,1741.5 L707.0,1728.7 L707.1,1736.3 L707.2,1726.4 L707.3,1719.4 L707.4,1720.2 L707.5,1724.1 L707.6,1716.9 L707.7,1716.3 L707.8,1708.7 L707.9,1706.7 L708.0,1695.1 L708.2,1704.6 L708.4,1698.2 L708.6,1695.4 L708.9,1686.2 L709.1,1691.5 L709.3,1684.3 L709.5,1677.6 L709.7,1686.8 L709.9,1679.9 L710.2,1675.2 L710.4,1675.2 L710.6,1669.6 L710.8,1661.1 L711.0,1668.4 L711.2,1664.5 L711.4,1657.4 L711.7,1650.2 L711.9,1648.4 L712.1,1637.2 L712.3,1649.5 L712.5,1645.5 L712.7,1638.3 L713.0,1633.0 L713.2,1636.1 L713.4,1619.1 L713.6,1622.9 L714.5,1617.2 L715.5,1620.5 L716.4,1612.8 L717.3,1614.3 L718.2,1616.4 L719.2,1604.6 L720.1,1596.1 L721.5,1591.3 L722.8,1603.2 L724.2,1593.6 L725.5,1590.2 L726.9,1579.8 L728.2,1578.2 L731.5,1579.3 L734.7,1598.4 L736.0,1586.1 L737.3,1593.9 L738.6,1599.6 L739.9,1604.4 L741.2,1601.0 L742.4,1611.8 L743.7,1614.9 L744.9,1624.4 L746.1,1611.5 L748.1,1612.7 L750.2,1606.8 L752.2,1607.7 L754.2,1603.8 L756.2,1598.3 L758.2,1610.1 L760.3,1598.3 L762.3,1604.5 L765.1,1604.3 L768.0,1602.5 L770.9,1587.1 L773.7,1595.8 L776.9,1600.9 L780.2,1597.2 L783.4,1597.1 L786.6,1596.8 L789.9,1606.9 L791.3,1598.7 L792.6,1592.5 L794.0,1592.2 L795.4,1588.8 L796.7,1580.7 L798.1,1586.5 L799.2,1586.4 L800.2,1580.2 L801.3,1565.7 L802.4,1569.8 L803.4,1573.4 L804.5,1559.0 L805.7,1563.0 L807.0,1563.5 L808.2,1558.1 L809.4,1551.7 L810.6,1543.4 L811.8,1553.1 L813.1,1540.7 L814.3,1545.8 L815.9,1547.7 L817.6,1554.5 L819.2,1546.8 L821.9,1565.0 L824.6,1563.5 L827.3,1568.4 L828.2,1559.1 L829.2,1571.9 L830.1,1568.8 L831.0,1577.7 L831.9,1580.7 L832.9,1578.6 L833.8,1591.4 L834.9,1585.2 L836.0,1588.7 L837.0,1596.1 L838.1,1588.9 L839.2,1605.3 L840.3,1598.1 L842.5,1610.4 L844.6,1599.3 L846.8,1601.2 L847.1,1612.8 L847.4,1609.6 L847.7,1616.3 L848.0,1615.1 L848.3,1627.7 L848.5,1631.1 L848.8,1633.3 L849.1,1626.5 L849.4,1628.0 L849.7,1640.8 L850.0,1634.9 L850.6,1649.5 L851.3,1649.6 L852.0,1659.7 L852.6,1660.8 L853.2,1661.0 L853.9,1667.3 L854.5,1664.7 L855.2,1663.9 L855.9,1662.9 L856.5,1677.6 L857.1,1680.1 L857.8,1682.7 L858.5,1683.7 L859.1,1685.8 L859.8,1697.3 L860.4,1692.2 L861.0,1693.9 L861.7,1701.9 L862.4,1703.9 L863.0,1707.9 L863.4,1711.4 L863.8,1711.0 L864.2,1712.3 L864.6,1717.3 L865.0,1720.2 L865.4,1722.6 L865.8,1727.9 L866.2,1727.6 L866.7,1734.9 L867.1,1733.3 L867.5,1736.7 L867.9,1742.9 L868.3,1742.3 L868.7,1748.2 L869.1,1748.5 L869.5,1752.2 L870.0,1755.6 L870.5,1757.3 L871.0,1763.8 L871.5,1767.6 L872.0,1770.5 L872.5,1768.9 L873.0,1771.2 L873.5,1776.7 L874.0,1781.5 L874.5,1783.4 L875.0,1788.9 L875.5,1792.1 L876.0,1793.3 L876.8,1793.7 L877.6,1797.5 L878.4,1798.4 L879.2,1803.4 L880.0,1810.0 L880.8,1807.7 L881.8,1809.3 L882.8,1816.7 L883.7,1824.1 L884.7,1824.3 L885.7,1821.0 L886.0,1827.9 L886.3,1828.4 L886.6,1838.4 L886.9,1836.7 L887.2,1840.0 L887.6,1848.2 L887.9,1844.2 L888.2,1849.1 L888.5,1858.4 L888.8,1853.4 L889.1,1859.1 L889.4,1863.5 L889.7,1862.7 L890.0,1869.2 L890.3,1869.7 L890.6,1877.6 L891.0,1877.4 L891.3,1882.4 L891.6,1883.5 L891.9,1888.0 L892.2,1887.4 L892.5,1887.4 L893.1,1893.0 L893.7,1895.5 L894.3,1894.7 L894.9,1906.7 L895.5,1906.7 L896.1,1909.2 L896.7,1914.8 L897.3,1910.1 L897.9,1913.8 L898.5,1923.8 L899.1,1918.7 L899.7,1931.6 L900.3,1930.2 L900.9,1938.6 L901.5,1940.3 L902.1,1937.8 L902.7,1940.0 L903.3,1944.1 L904.3,1951.0 L905.3,1950.3 L906.2,1956.4 L907.2,1962.6 L908.2,1962.6 L909.2,1962.8 L910.2,1968.5 L911.2,1968.4 L912.1,1972.4 L913.1,1973.5 L914.1,1982.6 L915.0,1986.2 L915.8,1984.1 L916.7,1986.9 L917.6,1984.4 L918.5,1992.9 L919.3,2000.2 L920.2,1995.0 L921.1,2004.3 L921.9,2001.0 L922.8,2009.5 L924.3,2007.0 L925.9,2013.4 L927.4,2018.2 L929.0,2012.0 L930.5,2024.4 L932.1,2023.2 L933.6,2022.6 L935.0,2020.4 L936.5,2020.4 L937.9,2019.7 L939.4,2009.9 L940.8,2005.7 L942.3,2004.7 L943.7,2006.6 L945.2,2000.8 L946.6,2002.2 L947.7,1999.0 L948.8,1991.9 L949.9,1991.7 L950.9,1983.6 L952.0,1986.4 L953.1,1984.1 L954.9,1981.9 L956.7,1989.9 L958.5,1986.3 L960.3,1999.1 L962.1,1996.8 L963.9,2004.1 L965.2,2003.9 L966.6,2001.3 L968.0,2010.3 L969.3,2011.7 L970.6,2011.7 L972.0,2018.3 L973.4,2022.0 L974.7,2023.8 L977.3,2020.5 L979.9,2031.6 L982.5,2033.1 L985.1,2029.6 L987.7,2037.6 L988.9,2035.5 L990.2,2024.8 L991.4,2020.0 L992.7,2017.6 L993.9,2017.6 L995.2,2010.5 L996.4,2008.7 L997.0,2011.5 L997.6,1999.8 L998.2,2003.8 L998.8,1998.2 L999.4,1998.7 L999.9,1990.1 L1000.5,1989.6 L1001.1,1983.3 L1001.7,1977.8 L1002.3,1984.9 L1002.9,1975.8 L1004.0,1971.8 L1005.0,1976.4 L1006.1,1966.6 L1007.2,1965.5 L1008.3,1957.7 L1009.4,1957.8 L1010.4,1960.3 L1011.5,1956.6 L1014.1,1958.1 L1016.7,1960.9 L1019.3,1954.2 L1021.9,1953.7 L1024.5,1956.2 L1028.8,1963.4 L1033.2,1963.1 L1033.6,1964.1 L1034.0,1971.2 L1034.4,1968.4 L1034.8,1976.1 L1035.2,1976.8 L1035.5,1976.5 L1035.9,1987.2 L1036.3,1983.2 L1036.7,1993.6 L1037.1,1996.2 L1037.5,1995.3 L1040.4,1992.9 L1043.2,1987.3 L1046.1,1983.9 L1046.7,1987.6 L1047.4,1980.7 L1048.0,1980.1 L1048.6,1974.8 L1049.2,1970.6 L1049.9,1966.4 L1050.5,1970.7 L1053.8,1964.2 L1057.0,1958.4 L1058.7,1970.0 L1060.4,1964.4 L1062.2,1968.2 L1063.9,1970.3 L1065.6,1978.1 L1067.8,1983.3 L1070.0,1976.9 L1072.1,1990.1 L1074.3,1990.0 L1076.5,1994.1 L1078.7,1986.7 L1080.8,1984.3 L1083.0,1977.6 L1085.1,1977.1 L1087.3,1981.8 L1088.1,1971.8 L1089.0,1976.3 L1089.8,1972.5 L1090.6,1970.6 L1091.5,1958.3 L1092.3,1958.7 L1093.1,1960.7 L1093.9,1951.5 L1094.8,1947.7 L1095.6,1942.1 L1096.4,1945.3 L1097.3,1942.5 L1098.1,1935.5 L1099.9,1938.9 L1101.7,1946.1 L1103.5,1943.4 L1105.3,1953.5 L1107.1,1957.4 L1108.9,1954.7 L1109.9,1954.1 L1110.9,1962.3 L1111.8,1961.8 L1112.8,1962.4 L1113.8,1972.5 L1114.8,1973.6 L1115.8,1973.0 L1116.8,1975.6 L1117.7,1984.2 L1118.7,1989.4 L1119.7,1985.4 L1121.4,1990.8 L1123.2,1989.0 L1124.9,1994.5 L1126.6,1998.4 L1128.3,1997.7 L1130.1,2003.8 L1131.8,2005.6 L1133.5,2002.2 L1135.3,2005.7 L1137.0,2011.8 L1140.0,2009.6 L1143.1,2015.4 L1146.1,2016.9 L1149.2,2018.3 L1152.2,2022.4" fill="none" stroke="#FF22FF" stroke-width="5.5" stroke-linejoin="round"/>
<path d="M1164.0,1812.7 L1167.0,1813.5 L1170.0,1810.9 L1171.5,1813.8 L1173.0,1814.0 L1174.5,1812.5 L1176.0,1813.4 L1177.8,1812.2 L1179.6,1811.6 L1181.4,1810.4 L1183.2,1811.6 L1185.0,1812.4 L1186.8,1812.6 L1187.5,1813.1 L1188.2,1811.7 L1189.0,1813.6 L1189.7,1811.4 L1190.4,1810.1 L1191.1,1811.8 L1191.9,1812.4 L1192.6,1813.4 L1193.3,1811.4" fill="none" stroke="#00FFFF" stroke-width="5.0" stroke-linejoin="round"/>
<path d="M1164.0,1836.3 L1167.0,1839.4 L1170.0,1837.6 L1171.5,1839.8 L1173.0,1838.3 L1174.5,1836.1 L1176.0,1837.3 L1177.8,1837.9 L1179.6,1835.2 L1181.4,1837.7 L1183.2,1833.7 L1185.0,1833.7 L1186.8,1835.0 L1187.5,1835.8 L1188.2,1836.0 L1189.0,1837.7 L1189.7,1835.3 L1190.4,1835.2 L1191.1,1837.6 L1191.9,1837.3 L1192.6,1838.0 L1193.3,1838.4" fill="none" stroke="#00F6FF" stroke-width="5.5" stroke-linejoin="round"/>
<path d="M1164.0,1860.1 L1167.0,1858.2 L1170.0,1860.3 L1171.5,1859.1 L1173.0,1857.3 L1174.5,1859.2 L1176.0,1855.9 L1177.8,1855.4 L1179.6,1854.3 L1181.4,1855.6 L1183.2,1854.9 L1185.0,1852.9 L1186.8,1851.3 L1187.5,1853.9 L1188.2,1853.6 L1189.0,1855.2 L1189.7,1856.4 L1190.4,1854.5 L1191.1,1855.4 L1191.9,1859.3 L1192.6,1860.2 L1193.3,1857.9" fill="none" stroke="#00EAFF" stroke-width="5.5" stroke-linejoin="round"/>
<path d="M1164.0,1875.3 L1167.0,1876.9 L1170.0,1879.5 L1171.5,1876.1 L1173.0,1878.3 L1174.5,1873.3 L1176.0,1876.3 L1177.8,1871.3 L1179.6,1873.0 L1181.4,1873.9 L1183.2,1871.8 L1185.0,1871.8 L1186.8,1868.2 L1187.5,1872.1 L1188.2,1872.8 L1189.0,1870.8 L1189.7,1874.2 L1190.4,1875.9 L1191.1,1873.5 L1191.9,1875.4 L1192.6,1878.2 L1193.3,1878.2" fill="none" stroke="#00DCFF" stroke-width="6.5" stroke-linejoin="round"/>
<path d="M1164.0,1887.6 L1167.0,1886.0 L1170.0,1886.8 L1171.5,1884.5 L1173.0,1884.0 L1174.5,1885.9 L1176.0,1882.0 L1177.8,1884.0 L1179.6,1882.5 L1181.4,1880.4 L1183.2,1878.1 L1185.0,1875.6 L1186.8,1875.1 L1187.5,1879.7 L1188.2,1881.4 L1189.0,1882.6 L1189.7,1880.4 L1190.4,1884.7 L1191.1,1883.4 L1191.9,1884.2 L1192.6,1887.9 L1193.3,1888.6" fill="none" stroke="#00D4FF" stroke-width="6.5" stroke-linejoin="round"/>
<path d="M1164.0,1895.6 L1167.0,1894.3 L1170.0,1894.2 L1171.5,1893.5 L1173.0,1892.8 L1174.5,1891.3 L1176.0,1892.2 L1177.8,1889.7 L1179.6,1888.1 L1181.4,1890.4 L1183.2,1886.6 L1185.0,1883.6 L1186.8,1882.5 L1187.5,1886.6 L1188.2,1885.1 L1189.0,1889.1 L1189.7,1887.6 L1190.4,1891.1 L1191.1,1893.1 L1191.9,1894.0 L1192.6,1893.5 L1193.3,1898.0" fill="none" stroke="#00CCFF" stroke-width="6.5" stroke-linejoin="round"/>
<path d="M1164.0,1906.3 L1167.0,1906.3 L1170.0,1907.8 L1171.5,1906.9 L1173.0,1902.3 L1174.5,1902.0 L1176.0,1900.1 L1177.8,1900.9 L1179.6,1896.2 L1181.4,1895.3 L1183.2,1895.3 L1185.0,1894.6 L1186.8,1895.9 L1187.5,1893.6 L1188.2,1893.1 L1189.0,1896.6 L1189.7,1900.7 L1190.4,1897.7 L1191.1,1901.4 L1191.9,1903.2 L1192.6,1906.0 L1193.3,1904.5" fill="none" stroke="#00C4FF" stroke-width="6.5" stroke-linejoin="round"/>
<path d="M1164.0,1913.3 L1167.0,1916.4 L1170.0,1917.4 L1171.5,1913.7 L1173.0,1911.0 L1174.5,1911.5 L1176.0,1910.7 L1177.8,1909.0 L1179.6,1907.7 L1181.4,1904.6 L1183.2,1905.2 L1185.0,1901.6 L1186.8,1899.6 L1187.5,1900.3 L1188.2,1904.5 L1189.0,1903.7 L1189.7,1905.8 L1190.4,1907.4 L1191.1,1909.4 L1191.9,1911.1 L1192.6,1916.0 L1193.3,1914.8" fill="none" stroke="#00BAFF" stroke-width="6.5" stroke-linejoin="round"/>
<path d="M1164.0,1922.0 L1167.0,1922.1 L1170.0,1924.1 L1171.5,1924.4 L1173.0,1921.1 L1174.5,1919.6 L1176.0,1917.1 L1177.8,1914.6 L1179.6,1913.3 L1181.4,1911.0 L1183.2,1910.8 L1185.0,1907.8 L1186.8,1908.7 L1187.5,1911.3 L1188.2,1910.0 L1189.0,1915.7 L1189.7,1915.4 L1190.4,1918.1 L1191.1,1918.5 L1191.9,1922.4 L1192.6,1923.3 L1193.3,1921.4" fill="none" stroke="#10B0FF" stroke-width="6.5" stroke-linejoin="round"/>
<path d="M1164.0,1931.1 L1167.0,1930.3 L1170.0,1934.7 L1171.5,1930.6 L1173.0,1928.0 L1174.5,1925.2 L1176.0,1930.1 L1177.8,1922.6 L1179.6,1922.0 L1181.4,1925.0 L1183.2,1917.4 L1185.0,1918.3 L1186.8,1916.8 L1187.5,1920.3 L1188.2,1922.7 L1189.0,1925.7 L1189.7,1923.0 L1190.4,1923.2 L1191.1,1925.8 L1191.9,1926.1 L1192.6,1929.7 L1193.3,1933.8" fill="none" stroke="#2AA0FF" stroke-width="6.5" stroke-linejoin="round"/>
<path d="M1164.0,1942.6 L1167.0,1938.1 L1170.0,1940.5 L1171.5,1943.3 L1173.0,1939.5 L1174.5,1936.5 L1176.0,1932.5 L1177.8,1930.7 L1179.6,1930.1 L1181.4,1931.3 L1183.2,1925.6 L1185.0,1927.1 L1186.8,1927.6 L1187.5,1923.6 L1188.2,1927.6 L1189.0,1930.3 L1189.7,1933.6 L1190.4,1936.4 L1191.1,1937.8 L1191.9,1938.0 L1192.6,1939.1 L1193.3,1943.1" fill="none" stroke="#4494FF" stroke-width="6.5" stroke-linejoin="round"/>
<path d="M1164.0,1948.5 L1167.0,1953.3 L1170.0,1951.6 L1171.5,1950.2 L1173.0,1949.1 L1174.5,1945.9 L1176.0,1944.2 L1177.8,1943.7 L1179.6,1941.4 L1181.4,1942.7 L1183.2,1935.6 L1185.0,1935.2 L1186.8,1937.0 L1187.5,1937.8 L1188.2,1937.8 L1189.0,1937.9 L1189.7,1938.9 L1190.4,1942.7 L1191.1,1944.8 L1191.9,1946.8 L1192.6,1947.5 L1193.3,1951.2" fill="none" stroke="#6088FF" stroke-width="6.5" stroke-linejoin="round"/>
<path d="M1164.0,1958.4 L1167.0,1956.0 L1170.0,1961.8 L1171.5,1960.3 L1173.0,1954.4 L1174.5,1952.9 L1176.0,1949.4 L1177.8,1950.9 L1179.6,1950.6 L1181.4,1946.6 L1183.2,1946.1 L1185.0,1944.3 L1186.8,1937.8 L1187.5,1940.0 L1188.2,1945.8 L1189.0,1951.2 L1189.7,1951.6 L1190.4,1951.6 L1191.1,1952.3 L1191.9,1953.4 L1192.6,1959.6 L1193.3,1962.6" fill="none" stroke="#7C7CFF" stroke-width="6.5" stroke-linejoin="round"/>
<path d="M1164.0,1966.0 L1167.0,1965.0 L1170.0,1967.9 L1171.5,1969.4 L1173.0,1967.9 L1174.5,1963.0 L1176.0,1964.9 L1177.8,1958.9 L1179.6,1953.9 L1181.4,1953.3 L1183.2,1956.8 L1185.0,1953.2 L1186.8,1946.2 L1187.5,1950.1 L1188.2,1953.2 L1189.0,1956.1 L1189.7,1954.7 L1190.4,1964.1 L1191.1,1963.2 L1191.9,1963.3 L1192.6,1963.7 L1193.3,1970.3" fill="none" stroke="#A068FF" stroke-width="6.5" stroke-linejoin="round"/>
<path d="M1164.0,1979.3 L1167.0,1979.1 L1170.0,1981.8 L1171.5,1979.8 L1173.0,1976.0 L1174.5,1969.1 L1176.0,1969.0 L1177.8,1969.0 L1179.6,1965.6 L1181.4,1961.8 L1183.2,1958.5 L1185.0,1962.7 L1186.8,1959.0 L1187.5,1958.4 L1188.2,1962.1 L1189.0,1967.7 L1189.7,1964.2 L1190.4,1970.5 L1191.1,1969.7 L1191.9,1977.4 L1192.6,1978.9 L1193.3,1982.5" fill="none" stroke="#D048FF" stroke-width="6.5" stroke-linejoin="round"/>
<path d="M1164.0,2025.2 L1167.0,2028.7 L1170.0,2028.4 L1171.5,2026.1 L1173.0,2030.6 L1174.5,2028.1 L1176.0,2025.7 L1177.8,2021.8 L1179.6,2014.0 L1181.4,2013.3 L1183.2,2013.5 L1185.0,2004.9 L1186.8,2008.0 L1187.5,2009.6 L1188.2,2006.5 L1189.0,2010.5 L1189.7,2017.5 L1190.4,2014.3 L1191.1,2018.4 L1191.9,2020.8 L1192.6,2022.8 L1193.3,2035.5" fill="none" stroke="#FF22FF" stroke-width="5.5" stroke-linejoin="round"/>
<path d="M1290.0,1807.4 L1293.5,1807.1 L1297.0,1806.4" fill="none" stroke="#00FFFF" stroke-width="5.0" stroke-linejoin="round"/>
<path d="M1290.0,1813.5 L1293.5,1813.4 L1297.0,1812.9" fill="none" stroke="#00F6FF" stroke-width="5.5" stroke-linejoin="round"/>
<path d="M1290.0,1818.3 L1293.5,1817.5 L1297.0,1817.7" fill="none" stroke="#00EAFF" stroke-width="5.5" stroke-linejoin="round"/>
<path d="M1290.0,1822.5 L1293.5,1822.5 L1297.0,1823.2" fill="none" stroke="#00DCFF" stroke-width="6.5" stroke-linejoin="round"/>
<path d="M1290.0,1824.5 L1293.5,1824.5 L1297.0,1826.0" fill="none" stroke="#00D4FF" stroke-width="6.5" stroke-linejoin="round"/>
<path d="M1290.0,1828.2 L1293.5,1828.6 L1297.0,1828.2" fill="none" stroke="#00CCFF" stroke-width="6.5" stroke-linejoin="round"/>
<path d="M1290.0,1828.9 L1293.5,1829.7 L1297.0,1830.7" fill="none" stroke="#00C4FF" stroke-width="6.5" stroke-linejoin="round"/>
<path d="M1290.0,1833.0 L1293.5,1831.2 L1297.0,1832.0" fill="none" stroke="#00BAFF" stroke-width="6.5" stroke-linejoin="round"/>
<path d="M1290.0,1834.6 L1293.5,1832.8 L1297.0,1833.5" fill="none" stroke="#10B0FF" stroke-width="6.5" stroke-linejoin="round"/>
<path d="M1290.0,1837.5 L1293.5,1837.2 L1297.0,1836.5" fill="none" stroke="#2AA0FF" stroke-width="6.5" stroke-linejoin="round"/>
<path d="M1290.0,1839.2 L1293.5,1839.1 L1297.0,1838.4" fill="none" stroke="#4494FF" stroke-width="6.5" stroke-linejoin="round"/>
<path d="M1290.0,1839.7 L1293.5,1842.2 L1297.0,1842.3" fill="none" stroke="#6088FF" stroke-width="6.5" stroke-linejoin="round"/>
<path d="M1290.0,1843.3 L1293.5,1844.6 L1297.0,1844.9" fill="none" stroke="#7C7CFF" stroke-width="6.5" stroke-linejoin="round"/>
<path d="M1290.0,1846.6 L1293.5,1847.1 L1297.0,1847.7" fill="none" stroke="#A068FF" stroke-width="6.5" stroke-linejoin="round"/>
<path d="M1290.0,1846.3 L1293.5,1849.9 L1297.0,1848.0" fill="none" stroke="#D048FF" stroke-width="6.5" stroke-linejoin="round"/>
<path d="M1290.0,1862.8 L1293.5,1862.6 L1297.0,1858.7" fill="none" stroke="#FF22FF" stroke-width="5.5" stroke-linejoin="round"/>
<path d="M1307.6,1806.5 L1309.8,1805.6 L1311.9,1807.0 L1314.1,1806.3 L1318.4,1806.4 L1322.8,1806.2 L1325.0,1807.2 L1327.1,1806.8 L1329.3,1806.0 L1331.4,1806.8 L1333.6,1805.6 L1337.0,1806.8 L1340.4,1806.4 L1343.8,1806.8 L1347.2,1806.5 L1350.6,1807.2 L1354.0,1806.6 L1357.4,1806.1 L1360.5,1806.4 L1363.6,1806.3 L1366.7,1805.7 L1369.7,1805.7 L1372.8,1806.7 L1375.9,1806.7 L1379.0,1807.0 L1382.6,1806.5 L1386.3,1806.2 L1389.9,1806.0 L1391.4,1806.7 L1393.0,1806.7 L1394.5,1807.4 L1396.1,1807.1 L1397.6,1806.5 L1399.2,1806.4 L1400.7,1806.0 L1404.3,1807.5 L1407.9,1806.9 L1411.5,1806.9 L1414.4,1806.2 L1417.3,1807.2 L1420.2,1808.0" fill="none" stroke="#00FFFF" stroke-width="5.0" stroke-linejoin="round"/>
<path d="M1307.6,1812.1 L1309.8,1813.5 L1311.9,1814.0 L1314.1,1814.3 L1318.4,1814.1 L1322.8,1813.4 L1325.0,1814.0 L1327.1,1813.4 L1329.3,1813.9 L1331.4,1812.7 L1333.6,1812.0 L1337.0,1813.1 L1340.4,1812.5 L1343.8,1811.9 L1347.2,1812.5 L1350.6,1811.5 L1354.0,1811.5 L1357.4,1812.9 L1360.5,1812.0 L1363.6,1812.6 L1366.7,1811.3 L1369.7,1811.7 L1372.8,1811.2 L1375.9,1812.2 L1379.0,1811.7 L1382.6,1811.6 L1386.3,1811.8 L1389.9,1811.7 L1391.4,1812.1 L1393.0,1813.5 L1394.5,1813.1 L1396.1,1813.1 L1397.6,1814.1 L1399.2,1814.6 L1400.7,1816.1 L1404.3,1815.2 L1407.9,1815.4 L1411.5,1816.8 L1414.4,1816.5 L1417.3,1816.2 L1420.2,1816.3" fill="none" stroke="#00F6FF" stroke-width="5.5" stroke-linejoin="round"/>
<path d="M1307.6,1817.0 L1309.8,1817.5 L1311.9,1818.9 L1314.1,1819.9 L1318.4,1818.9 L1322.8,1819.6 L1325.0,1818.5 L1327.1,1818.8 L1329.3,1817.8 L1331.4,1817.9 L1333.6,1817.6 L1337.0,1816.8 L1340.4,1816.7 L1343.8,1816.1 L1347.2,1816.3 L1350.6,1817.1 L1354.0,1817.4 L1357.4,1816.1 L1360.5,1817.6 L1363.6,1817.3 L1366.7,1816.1 L1369.7,1816.3 L1372.8,1816.4 L1375.9,1815.6 L1379.0,1815.6 L1382.6,1816.7 L1386.3,1816.6 L1389.9,1816.9 L1391.4,1817.8 L1393.0,1817.6 L1394.5,1818.9 L1396.1,1819.2 L1397.6,1819.6 L1399.2,1821.0 L1400.7,1822.0 L1404.3,1822.0 L1407.9,1822.4 L1411.5,1823.1 L1414.4,1822.9 L1417.3,1824.4 L1420.2,1823.2" fill="none" stroke="#00EAFF" stroke-width="5.5" stroke-linejoin="round"/>
<path d="M1307.6,1820.7 L1309.8,1823.0 L1311.9,1824.3 L1314.1,1824.5 L1318.4,1824.5 L1322.8,1824.4 L1325.0,1823.4 L1327.1,1824.0 L1329.3,1823.5 L1331.4,1821.4 L1333.6,1821.4 L1337.0,1821.1 L1340.4,1820.3 L1343.8,1821.7 L1347.2,1821.1 L1350.6,1822.2 L1354.0,1821.9 L1357.4,1821.9 L1360.5,1820.2 L1363.6,1819.6 L1366.7,1821.1 L1369.7,1819.2 L1372.8,1820.4 L1375.9,1819.0 L1379.0,1820.1 L1382.6,1819.1 L1386.3,1819.7 L1389.9,1822.1 L1391.4,1822.1 L1393.0,1822.9 L1394.5,1825.0 L1396.1,1825.4 L1397.6,1824.9 L1399.2,1826.9 L1400.7,1827.0 L1404.3,1827.8 L1407.9,1827.9 L1411.5,1828.3 L1414.4,1828.9 L1417.3,1829.2 L1420.2,1829.4" fill="none" stroke="#00DCFF" stroke-width="6.5" stroke-linejoin="round"/>
<path d="M1307.6,1825.0 L1309.8,1824.8 L1311.9,1826.4 L1314.1,1828.0 L1318.4,1827.7 L1322.8,1826.5 L1325.0,1827.6 L1327.1,1826.7 L1329.3,1825.7 L1331.4,1823.7 L1333.6,1824.1 L1337.0,1823.6 L1340.4,1822.1 L1343.8,1822.9 L1347.2,1823.6 L1350.6,1823.2 L1354.0,1824.1 L1357.4,1823.7 L1360.5,1823.6 L1363.6,1823.7 L1366.7,1822.0 L1369.7,1823.1 L1372.8,1820.8 L1375.9,1822.5 L1379.0,1820.5 L1382.6,1822.1 L1386.3,1822.6 L1389.9,1822.3 L1391.4,1824.6 L1393.0,1826.0 L1394.5,1825.6 L1396.1,1826.6 L1397.6,1828.9 L1399.2,1829.3 L1400.7,1829.0 L1404.3,1830.3 L1407.9,1832.4 L1411.5,1831.4 L1414.4,1832.0 L1417.3,1832.8 L1420.2,1834.3" fill="none" stroke="#00D4FF" stroke-width="6.5" stroke-linejoin="round"/>
<path d="M1307.6,1827.0 L1309.8,1827.1 L1311.9,1829.1 L1314.1,1828.6 L1318.4,1828.7 L1322.8,1829.5 L1325.0,1829.3 L1327.1,1827.1 L1329.3,1826.0 L1331.4,1827.2 L1333.6,1824.6 L1337.0,1824.2 L1340.4,1824.2 L1343.8,1824.2 L1347.2,1824.7 L1350.6,1825.4 L1354.0,1825.5 L1357.4,1824.5 L1360.5,1824.9 L1363.6,1824.1 L1366.7,1824.6 L1369.7,1823.1 L1372.8,1824.2 L1375.9,1822.4 L1379.0,1824.5 L1382.6,1823.4 L1386.3,1824.9 L1389.9,1824.6 L1391.4,1826.4 L1393.0,1827.0 L1394.5,1829.1 L1396.1,1830.5 L1397.6,1831.8 L1399.2,1833.2 L1400.7,1832.9 L1404.3,1833.8 L1407.9,1834.0 L1411.5,1834.5 L1414.4,1835.6 L1417.3,1837.3 L1420.2,1835.5" fill="none" stroke="#00CCFF" stroke-width="6.5" stroke-linejoin="round"/>
<path d="M1307.6,1829.1 L1309.8,1829.2 L1311.9,1831.3 L1314.1,1831.7 L1318.4,1833.0 L1322.8,1832.4 L1325.0,1830.9 L1327.1,1830.3 L1329.3,1828.1 L1331.4,1827.4 L1333.6,1828.7 L1337.0,1826.3 L1340.4,1827.1 L1343.8,1827.8 L1347.2,1826.0 L1350.6,1828.4 L1354.0,1826.3 L1357.4,1828.4 L1360.5,1826.7 L1363.6,1826.8 L1366.7,1826.6 L1369.7,1824.9 L1372.8,1825.9 L1375.9,1826.3 L1379.0,1826.2 L1382.6,1826.7 L1386.3,1827.3 L1389.9,1826.5 L1391.4,1828.5 L1393.0,1830.0 L1394.5,1829.8 L1396.1,1833.1 L1397.6,1832.4 L1399.2,1834.9 L1400.7,1835.3 L1404.3,1835.7 L1407.9,1838.6 L1411.5,1838.4 L1414.4,1839.3 L1417.3,1839.6 L1420.2,1840.0" fill="none" stroke="#00C4FF" stroke-width="6.5" stroke-linejoin="round"/>
<path d="M1307.6,1831.7 L1309.8,1830.7 L1311.9,1833.1 L1314.1,1834.1 L1318.4,1835.2 L1322.8,1834.6 L1325.0,1835.1 L1327.1,1832.0 L1329.3,1831.1 L1331.4,1832.0 L1333.6,1830.3 L1337.0,1829.4 L1340.4,1829.1 L1343.8,1830.1 L1347.2,1828.3 L1350.6,1830.0 L1354.0,1828.4 L1357.4,1830.1 L1360.5,1827.6 L1363.6,1829.9 L1366.7,1829.4 L1369.7,1826.6 L1372.8,1826.8 L1375.9,1828.8 L1379.0,1828.2 L1382.6,1827.4 L1386.3,1829.8 L1389.9,1829.9 L1391.4,1830.2 L1393.0,1832.8 L1394.5,1833.3 L1396.1,1833.8 L1397.6,1837.2 L1399.2,1838.1 L1400.7,1838.0 L1404.3,1839.3 L1407.9,1840.9 L1411.5,1840.8 L1414.4,1841.1 L1417.3,1842.5 L1420.2,1844.4" fill="none" stroke="#00BAFF" stroke-width="6.5" stroke-linejoin="round"/>
<path d="M1307.6,1831.5 L1309.8,1833.6 L1311.9,1835.9 L1314.1,1839.0 L1318.4,1839.0 L1322.8,1835.9 L1325.0,1836.8 L1327.1,1834.0 L1329.3,1833.1 L1331.4,1831.7 L1333.6,1831.8 L1337.0,1833.3 L1340.4,1833.1 L1343.8,1831.1 L1347.2,1832.7 L1350.6,1832.0 L1354.0,1829.9 L1357.4,1832.5 L1360.5,1830.2 L1363.6,1832.2 L1366.7,1829.2 L1369.7,1831.3 L1372.8,1829.8 L1375.9,1829.5 L1379.0,1828.1 L1382.6,1830.0 L1386.3,1831.7 L1389.9,1831.9 L1391.4,1834.7 L1393.0,1834.7 L1394.5,1837.3 L1396.1,1836.2 L1397.6,1839.6 L1399.2,1840.5 L1400.7,1842.9 L1404.3,1842.0 L1407.9,1843.2 L1411.5,1845.2 L1414.4,1844.1 L1417.3,1845.2 L1420.2,1847.4" fill="none" stroke="#10B0FF" stroke-width="6.5" stroke-linejoin="round"/>
<path d="M1307.6,1835.5 L1309.8,1836.6 L1311.9,1836.7 L1314.1,1840.9 L1318.4,1839.7 L1322.8,1839.1 L1325.0,1838.4 L1327.1,1836.3 L1329.3,1837.5 L1331.4,1836.1 L1333.6,1835.4 L1337.0,1834.4 L1340.4,1832.5 L1343.8,1833.4 L1347.2,1835.2 L1350.6,1831.8 L1354.0,1832.8 L1357.4,1832.1 L1360.5,1831.9 L1363.6,1831.9 L1366.7,1832.7 L1369.7,1830.5 L1372.8,1832.9 L1375.9,1831.1 L1379.0,1829.9 L1382.6,1830.6 L1386.3,1833.0 L1389.9,1833.3 L1391.4,1835.4 L1393.0,1835.6 L1394.5,1837.9 L1396.1,1840.0 L1397.6,1840.0 L1399.2,1843.0 L1400.7,1845.7 L1404.3,1845.7 L1407.9,1845.1 L1411.5,1847.7 L1414.4,1846.6 L1417.3,1847.6 L1420.2,1847.9" fill="none" stroke="#2AA0FF" stroke-width="6.5" stroke-linejoin="round"/>
<path d="M1307.6,1837.3 L1309.8,1837.8 L1311.9,1840.0 L1314.1,1841.2 L1318.4,1844.0 L1322.8,1841.3 L1325.0,1841.9 L1327.1,1841.0 L1329.3,1838.4 L1331.4,1837.6 L1333.6,1835.4 L1337.0,1837.0 L1340.4,1836.5 L1343.8,1834.2 L1347.2,1836.4 L1350.6,1834.2 L1354.0,1835.4 L1357.4,1834.2 L1360.5,1835.0 L1363.6,1835.2 L1366.7,1835.2 L1369.7,1833.4 L1372.8,1832.0 L1375.9,1833.1 L1379.0,1834.5 L1382.6,1834.1 L1386.3,1835.4 L1389.9,1836.9 L1391.4,1838.1 L1393.0,1840.8 L1394.5,1842.5 L1396.1,1843.3 L1397.6,1845.2 L1399.2,1844.4 L1400.7,1846.5 L1404.3,1849.1 L1407.9,1849.6 L1411.5,1851.7 L1414.4,1852.1 L1417.3,1851.4 L1420.2,1851.6" fill="none" stroke="#4494FF" stroke-width="6.5" stroke-linejoin="round"/>
<path d="M1307.6,1839.9 L1309.8,1839.8 L1311.9,1843.2 L1314.1,1844.3 L1318.4,1844.7 L1322.8,1845.7 L1325.0,1844.2 L1327.1,1842.7 L1329.3,1839.2 L1331.4,1841.0 L1333.6,1838.8 L1337.0,1839.5 L1340.4,1838.3 L1343.8,1838.3 L1347.2,1839.2 L1350.6,1838.5 L1354.0,1838.0 L1357.4,1835.7 L1360.5,1835.2 L1363.6,1837.5 L1366.7,1837.6 L1369.7,1835.5 L1372.8,1834.5 L1375.9,1835.0 L1379.0,1836.2 L1382.6,1836.9 L1386.3,1835.6 L1389.9,1836.9 L1391.4,1838.7 L1393.0,1842.5 L1394.5,1842.3 L1396.1,1846.5 L1397.6,1846.4 L1399.2,1847.3 L1400.7,1849.9 L1404.3,1849.9 L1407.9,1853.8 L1411.5,1851.6 L1414.4,1854.0 L1417.3,1854.7 L1420.2,1854.2" fill="none" stroke="#6088FF" stroke-width="6.5" stroke-linejoin="round"/>
<path d="M1307.6,1840.4 L1309.8,1845.5 L1311.9,1847.0 L1314.1,1847.3 L1318.4,1849.1 L1322.8,1849.3 L1325.0,1847.6 L1327.1,1845.6 L1329.3,1843.4 L1331.4,1841.7 L1333.6,1841.0 L1337.0,1840.5 L1340.4,1841.9 L1343.8,1838.6 L1347.2,1841.4 L1350.6,1840.7 L1354.0,1839.4 L1357.4,1840.9 L1360.5,1838.2 L1363.6,1838.3 L1366.7,1838.6 L1369.7,1839.8 L1372.8,1836.5 L1375.9,1838.5 L1379.0,1837.4 L1382.6,1839.6 L1386.3,1838.2 L1389.9,1840.8 L1391.4,1843.6 L1393.0,1845.4 L1394.5,1846.5 L1396.1,1848.9 L1397.6,1849.9 L1399.2,1851.5 L1400.7,1851.9 L1404.3,1854.3 L1407.9,1857.3 L1411.5,1858.3 L1414.4,1855.6 L1417.3,1857.5 L1420.2,1858.2" fill="none" stroke="#7C7CFF" stroke-width="6.5" stroke-linejoin="round"/>
<path d="M1307.6,1845.1 L1309.8,1844.6 L1311.9,1849.1 L1314.1,1849.0 L1318.4,1849.6 L1322.8,1852.1 L1325.0,1847.1 L1327.1,1847.4 L1329.3,1844.5 L1331.4,1844.9 L1333.6,1840.5 L1337.0,1842.9 L1340.4,1841.1 L1343.8,1843.8 L1347.2,1841.2 L1350.6,1842.4 L1354.0,1839.8 L1357.4,1843.3 L1360.5,1841.7 L1363.6,1842.4 L1366.7,1841.3 L1369.7,1838.1 L1372.8,1840.5 L1375.9,1838.6 L1379.0,1837.5 L1382.6,1841.4 L1386.3,1841.7 L1389.9,1841.7 L1391.4,1842.5 L1393.0,1846.8 L1394.5,1846.4 L1396.1,1849.0 L1397.6,1850.2 L1399.2,1852.7 L1400.7,1856.9 L1404.3,1856.2 L1407.9,1860.3 L1411.5,1858.7 L1414.4,1861.7 L1417.3,1862.4 L1420.2,1863.0" fill="none" stroke="#A068FF" stroke-width="6.5" stroke-linejoin="round"/>
<path d="M1307.6,1846.3 L1309.8,1846.7 L1311.9,1851.8 L1314.1,1854.4 L1318.4,1852.9 L1322.8,1851.5 L1325.0,1849.4 L1327.1,1848.4 L1329.3,1849.6 L1331.4,1845.3 L1333.6,1843.5 L1337.0,1844.4 L1340.4,1842.3 L1343.8,1845.2 L1347.2,1845.1 L1350.6,1843.1 L1354.0,1841.8 L1357.4,1845.2 L1360.5,1844.4 L1363.6,1843.8 L1366.7,1841.2 L1369.7,1843.7 L1372.8,1842.0 L1375.9,1839.1 L1379.0,1842.5 L1382.6,1842.6 L1386.3,1841.8 L1389.9,1845.9 L1391.4,1846.8 L1393.0,1849.0 L1394.5,1848.7 L1396.1,1851.5 L1397.6,1855.9 L1399.2,1854.8 L1400.7,1857.6 L1404.3,1858.4 L1407.9,1861.7 L1411.5,1861.2 L1414.4,1864.8 L1417.3,1864.4 L1420.2,1866.8" fill="none" stroke="#D048FF" stroke-width="6.5" stroke-linejoin="round"/>
<path d="M1307.6,1860.7 L1309.8,1864.0 L1311.9,1862.2 L1314.1,1866.2 L1318.4,1868.8 L1322.8,1866.0 L1325.0,1867.5 L1327.1,1861.7 L1329.3,1861.3 L1331.4,1856.9 L1333.6,1857.5 L1337.0,1854.8 L1340.4,1855.5 L1343.8,1857.1 L1347.2,1857.6 L1350.6,1853.3 L1354.0,1853.4 L1357.4,1853.5 L1360.5,1856.3 L1363.6,1855.1 L1366.7,1854.8 L1369.7,1854.8 L1372.8,1850.8 L1375.9,1851.8 L1379.0,1848.3 L1382.6,1852.0 L1386.3,1855.2 L1389.9,1854.8 L1391.4,1860.7 L1393.0,1859.8 L1394.5,1863.9 L1396.1,1868.0 L1397.6,1867.9 L1399.2,1873.2 L1400.7,1874.3 L1404.3,1873.9 L1407.9,1875.8 L1411.5,1880.8 L1414.4,1883.1 L1417.3,1883.6 L1420.2,1886.0" fill="none" stroke="#FF22FF" stroke-width="5.5" stroke-linejoin="round"/>
<path d="M1429.0,1807.2 L1431.0,1807.5 L1433.6,1807.5 L1436.2,1807.0 L1438.8,1806.8 L1441.4,1805.9 L1444.0,1806.0 L1447.6,1805.7 L1451.2,1805.7 L1454.8,1806.2 L1457.9,1806.0 L1461.0,1806.6 L1464.1,1807.1 L1467.2,1806.0 L1470.3,1807.2 L1473.4,1807.1 L1476.5,1805.8 L1479.4,1806.6 L1482.2,1805.8 L1485.1,1805.4 L1487.0,1805.7 L1488.8,1805.5 L1490.7,1805.0 L1492.5,1805.0 L1494.4,1806.5 L1496.2,1806.5 L1498.1,1806.4 L1501.7,1804.7 L1505.3,1804.6 L1508.9,1806.2 L1512.0,1805.2 L1515.1,1805.2 L1518.2,1805.9 L1521.3,1805.6 L1524.4,1805.2 L1527.5,1804.8 L1530.6,1804.8 L1533.8,1806.0 L1537.1,1806.4 L1540.3,1804.6 L1543.6,1805.0 L1546.8,1805.6 L1550.0,1805.1 L1553.3,1805.6 L1556.5,1805.6 L1559.8,1805.2 L1563.0,1804.9 L1566.1,1805.5 L1569.2,1806.3 L1572.3,1805.0 L1575.4,1805.8 L1578.5,1806.3 L1581.6,1805.8 L1584.7,1805.4 L1588.0,1806.6 L1591.2,1806.4" fill="none" stroke="#00FFFF" stroke-width="5.0" stroke-linejoin="round"/>
<path d="M1429.0,1816.1 L1431.0,1814.7 L1433.6,1814.8 L1436.2,1814.4 L1438.8,1814.9 L1441.4,1814.2 L1444.0,1813.7 L1447.6,1813.5 L1451.2,1814.0 L1454.8,1812.7 L1457.9,1812.3 L1461.0,1812.4 L1464.1,1812.6 L1467.2,1812.3 L1470.3,1814.1 L1473.4,1813.3 L1476.5,1813.8 L1479.4,1812.9 L1482.2,1812.8 L1485.1,1812.0 L1487.0,1813.0 L1488.8,1811.6 L1490.7,1811.2 L1492.5,1811.4 L1494.4,1811.3 L1496.2,1811.1 L1498.1,1809.7 L1501.7,1809.3 L1505.3,1809.9 L1508.9,1808.8 L1512.0,1808.4 L1515.1,1809.0 L1518.2,1808.7 L1521.3,1808.7 L1524.4,1809.7 L1527.5,1808.9 L1530.6,1809.5 L1533.8,1808.9 L1537.1,1808.6 L1540.3,1810.0 L1543.6,1810.0 L1546.8,1809.9 L1550.0,1809.8 L1553.3,1809.0 L1556.5,1809.7 L1559.8,1810.4 L1563.0,1810.3 L1566.1,1810.0 L1569.2,1810.1 L1572.3,1809.2 L1575.4,1809.0 L1578.5,1810.6 L1581.6,1809.0 L1584.7,1809.5 L1588.0,1810.1 L1591.2,1811.0" fill="none" stroke="#00F6FF" stroke-width="5.5" stroke-linejoin="round"/>
<path d="M1429.0,1822.0 L1431.0,1822.3 L1433.6,1822.0 L1436.2,1820.2 L1438.8,1819.6 L1441.4,1818.9 L1444.0,1818.8 L1447.6,1818.1 L1451.2,1819.5 L1454.8,1818.4 L1457.9,1818.2 L1461.0,1817.4 L1464.1,1819.2 L1467.2,1817.9 L1470.3,1818.9 L1473.4,1817.8 L1476.5,1818.0 L1479.4,1817.4 L1482.2,1817.9 L1485.1,1817.1 L1487.0,1817.0 L1488.8,1816.6 L1490.7,1815.0 L1492.5,1814.2 L1494.4,1814.3 L1496.2,1813.4 L1498.1,1812.8 L1501.7,1812.3 L1505.3,1811.5 L1508.9,1811.0 L1512.0,1812.3 L1515.1,1812.1 L1518.2,1812.3 L1521.3,1812.3 L1524.4,1812.1 L1527.5,1811.5 L1530.6,1813.1 L1533.8,1812.4 L1537.1,1812.3 L1540.3,1812.0 L1543.6,1812.3 L1546.8,1813.5 L1550.0,1812.5 L1553.3,1813.3 L1556.5,1812.0 L1559.8,1813.1 L1563.0,1812.5 L1566.1,1812.5 L1569.2,1812.7 L1572.3,1812.9 L1575.4,1813.5 L1578.5,1813.1 L1581.6,1814.1 L1584.7,1812.7 L1588.0,1814.6 L1591.2,1814.3" fill="none" stroke="#00EAFF" stroke-width="5.5" stroke-linejoin="round"/>
<path d="M1429.0,1828.0 L1431.0,1827.1 L1433.6,1826.1 L1436.2,1827.0 L1438.8,1825.7 L1441.4,1825.3 L1444.0,1824.2 L1447.6,1824.2 L1451.2,1824.4 L1454.8,1823.4 L1457.9,1824.0 L1461.0,1822.6 L1464.1,1822.5 L1467.2,1823.9 L1470.3,1823.9 L1473.4,1824.0 L1476.5,1823.0 L1479.4,1822.5 L1482.2,1823.4 L1485.1,1821.2 L1487.0,1820.2 L1488.8,1819.3 L1490.7,1818.8 L1492.5,1818.2 L1494.4,1817.2 L1496.2,1816.6 L1498.1,1814.7 L1501.7,1814.9 L1505.3,1814.7 L1508.9,1813.1 L1512.0,1814.2 L1515.1,1815.3 L1518.2,1814.8 L1521.3,1815.6 L1524.4,1815.5 L1527.5,1814.7 L1530.6,1813.7 L1533.8,1813.9 L1537.1,1815.2 L1540.3,1815.9 L1543.6,1814.8 L1546.8,1814.4 L1550.0,1816.0 L1553.3,1815.6 L1556.5,1815.5 L1559.8,1814.8 L1563.0,1815.9 L1566.1,1816.1 L1569.2,1816.5 L1572.3,1817.0 L1575.4,1815.1 L1578.5,1817.0 L1581.6,1815.9 L1584.7,1816.2 L1588.0,1816.7 L1591.2,1818.5" fill="none" stroke="#00DCFF" stroke-width="6.5" stroke-linejoin="round"/>
<path d="M1429.0,1830.0 L1431.0,1829.1 L1433.6,1829.4 L1436.2,1827.9 L1438.8,1826.9 L1441.4,1826.2 L1444.0,1826.3 L1447.6,1826.0 L1451.2,1824.4 L1454.8,1824.3 L1457.9,1826.2 L1461.0,1825.3 L1464.1,1826.4 L1467.2,1825.4 L1470.3,1826.5 L1473.4,1825.9 L1476.5,1825.2 L1479.4,1823.9 L1482.2,1823.7 L1485.1,1824.8 L1487.0,1823.5 L1488.8,1821.6 L1490.7,1820.3 L1492.5,1820.5 L1494.4,1820.2 L1496.2,1817.6 L1498.1,1818.4 L1501.7,1816.7 L1505.3,1815.3 L1508.9,1814.7 L1512.0,1816.0 L1515.1,1816.6 L1518.2,1815.0 L1521.3,1815.2 L1524.4,1815.1 L1527.5,1815.3 L1530.6,1815.5 L1533.8,1816.0 L1537.1,1815.7 L1540.3,1816.9 L1543.6,1815.9 L1546.8,1816.1 L1550.0,1816.6 L1553.3,1816.1 L1556.5,1815.9 L1559.8,1816.1 L1563.0,1816.0 L1566.1,1817.7 L1569.2,1816.3 L1572.3,1817.5 L1575.4,1818.6 L1578.5,1818.0 L1581.6,1817.4 L1584.7,1817.7 L1588.0,1818.5 L1591.2,1818.9" fill="none" stroke="#00D4FF" stroke-width="6.5" stroke-linejoin="round"/>
<path d="M1429.0,1831.9 L1431.0,1832.1 L1433.6,1831.3 L1436.2,1830.7 L1438.8,1830.2 L1441.4,1828.8 L1444.0,1829.3 L1447.6,1827.7 L1451.2,1828.0 L1454.8,1827.9 L1457.9,1827.5 L1461.0,1828.2 L1464.1,1828.3 L1467.2,1827.5 L1470.3,1827.0 L1473.4,1826.6 L1476.5,1828.3 L1479.4,1827.0 L1482.2,1826.2 L1485.1,1825.2 L1487.0,1824.3 L1488.8,1825.1 L1490.7,1822.9 L1492.5,1822.8 L1494.4,1821.7 L1496.2,1819.1 L1498.1,1817.9 L1501.7,1819.0 L1505.3,1816.6 L1508.9,1816.9 L1512.0,1817.9 L1515.1,1816.8 L1518.2,1816.8 L1521.3,1818.3 L1524.4,1818.2 L1527.5,1818.4 L1530.6,1818.0 L1533.8,1816.8 L1537.1,1816.5 L1540.3,1816.6 L1543.6,1819.0 L1546.8,1818.2 L1550.0,1819.2 L1553.3,1819.5 L1556.5,1817.7 L1559.8,1819.7 L1563.0,1818.1 L1566.1,1817.9 L1569.2,1818.3 L1572.3,1820.3 L1575.4,1820.2 L1578.5,1818.8 L1581.6,1819.3 L1584.7,1820.3 L1588.0,1821.0 L1591.2,1822.1" fill="none" stroke="#00CCFF" stroke-width="6.5" stroke-linejoin="round"/>
<path d="M1429.0,1835.5 L1431.0,1835.2 L1433.6,1835.1 L1436.2,1835.4 L1438.8,1833.6 L1441.4,1833.4 L1444.0,1830.7 L1447.6,1830.9 L1451.2,1831.5 L1454.8,1829.9 L1457.9,1830.6 L1461.0,1830.7 L1464.1,1829.8 L1467.2,1830.5 L1470.3,1830.6 L1473.4,1830.0 L1476.5,1830.2 L1479.4,1830.5 L1482.2,1830.1 L1485.1,1829.8 L1487.0,1826.9 L1488.8,1826.5 L1490.7,1825.0 L1492.5,1824.6 L1494.4,1821.7 L1496.2,1821.2 L1498.1,1819.4 L1501.7,1820.2 L1505.3,1819.2 L1508.9,1816.5 L1512.0,1816.9 L1515.1,1817.1 L1518.2,1818.5 L1521.3,1819.1 L1524.4,1818.1 L1527.5,1817.4 L1530.6,1819.0 L1533.8,1819.2 L1537.1,1818.8 L1540.3,1818.5 L1543.6,1818.8 L1546.8,1818.7 L1550.0,1820.4 L1553.3,1819.3 L1556.5,1820.4 L1559.8,1820.1 L1563.0,1819.3 L1566.1,1819.6 L1569.2,1820.8 L1572.3,1821.5 L1575.4,1821.7 L1578.5,1819.7 L1581.6,1820.1 L1584.7,1819.8 L1588.0,1821.0 L1591.2,1822.4" fill="none" stroke="#00C4FF" stroke-width="6.5" stroke-linejoin="round"/>
<path d="M1429.0,1839.4 L1431.0,1840.0 L1433.6,1838.1 L1436.2,1835.8 L1438.8,1835.5 L1441.4,1833.9 L1444.0,1833.3 L1447.6,1833.6 L1451.2,1832.7 L1454.8,1831.1 L1457.9,1831.4 L1461.0,1833.4 L1464.1,1832.6 L1467.2,1832.6 L1470.3,1831.9 L1473.4,1831.9 L1476.5,1833.3 L1479.4,1830.4 L1482.2,1831.7 L1485.1,1832.0 L1487.0,1829.7 L1488.8,1826.6 L1490.7,1825.3 L1492.5,1826.3 L1494.4,1823.1 L1496.2,1822.6 L1498.1,1821.9 L1501.7,1821.2 L1505.3,1819.3 L1508.9,1819.6 L1512.0,1820.5 L1515.1,1819.3 L1518.2,1819.2 L1521.3,1820.2 L1524.4,1820.9 L1527.5,1820.5 L1530.6,1821.3 L1533.8,1821.0 L1537.1,1821.7 L1540.3,1819.7 L1543.6,1821.1 L1546.8,1819.9 L1550.0,1819.8 L1553.3,1820.6 L1556.5,1822.5 L1559.8,1820.7 L1563.0,1820.9 L1566.1,1822.9 L1569.2,1823.2 L1572.3,1822.7 L1575.4,1821.6 L1578.5,1823.1 L1581.6,1821.0 L1584.7,1821.0 L1588.0,1822.1 L1591.2,1823.9" fill="none" stroke="#00BAFF" stroke-width="6.5" stroke-linejoin="round"/>
<path d="M1429.0,1840.8 L1431.0,1842.8 L1433.6,1840.4 L1436.2,1840.7 L1438.8,1838.5 L1441.4,1837.1 L1444.0,1835.9 L1447.6,1834.3 L1451.2,1834.9 L1454.8,1835.8 L1457.9,1835.9 L1461.0,1835.9 L1464.1,1833.3 L1467.2,1834.5 L1470.3,1835.8 L1473.4,1833.7 L1476.5,1833.5 L1479.4,1833.2 L1482.2,1832.2 L1485.1,1833.6 L1487.0,1832.1 L1488.8,1831.5 L1490.7,1827.1 L1492.5,1827.8 L1494.4,1826.7 L1496.2,1823.3 L1498.1,1821.6 L1501.7,1823.6 L1505.3,1822.1 L1508.9,1818.9 L1512.0,1819.5 L1515.1,1821.1 L1518.2,1819.7 L1521.3,1820.7 L1524.4,1819.9 L1527.5,1819.9 L1530.6,1821.3 L1533.8,1821.6 L1537.1,1822.8 L1540.3,1820.2 L1543.6,1821.5 L1546.8,1820.8 L1550.0,1822.5 L1553.3,1821.4 L1556.5,1822.1 L1559.8,1824.3 L1563.0,1823.4 L1566.1,1823.6 L1569.2,1823.5 L1572.3,1822.4 L1575.4,1824.1 L1578.5,1825.2 L1581.6,1822.5 L1584.7,1825.0 L1588.0,1824.5 L1591.2,1825.1" fill="none" stroke="#10B0FF" stroke-width="6.5" stroke-linejoin="round"/>
<path d="M1429.0,1845.0 L1431.0,1845.7 L1433.6,1842.2 L1436.2,1841.2 L1438.8,1841.1 L1441.4,1839.0 L1444.0,1838.9 L1447.6,1839.8 L1451.2,1835.8 L1454.8,1836.4 L1457.9,1835.7 L1461.0,1835.7 L1464.1,1837.2 L1467.2,1838.5 L1470.3,1837.0 L1473.4,1837.3 L1476.5,1837.9 L1479.4,1837.7 L1482.2,1837.3 L1485.1,1834.4 L1487.0,1832.4 L1488.8,1833.4 L1490.7,1830.8 L1492.5,1830.2 L1494.4,1826.2 L1496.2,1826.8 L1498.1,1823.0 L1501.7,1822.2 L1505.3,1821.2 L1508.9,1821.1 L1512.0,1821.4 L1515.1,1822.4 L1518.2,1823.5 L1521.3,1821.9 L1524.4,1822.6 L1527.5,1822.2 L1530.6,1822.3 L1533.8,1822.0 L1537.1,1821.3 L1540.3,1822.3 L1543.6,1824.1 L1546.8,1824.5 L1550.0,1824.3 L1553.3,1823.6 L1556.5,1823.7 L1559.8,1823.1 L1563.0,1823.5 L1566.1,1826.2 L1569.2,1825.0 L1572.3,1824.5 L1575.4,1825.1 L1578.5,1825.1 L1581.6,1824.6 L1584.7,1825.2 L1588.0,1826.3 L1591.2,1829.1" fill="none" stroke="#2AA0FF" stroke-width="6.5" stroke-linejoin="round"/>
<path d="M1429.0,1848.8 L1431.0,1846.6 L1433.6,1846.0 L1436.2,1844.0 L1438.8,1845.4 L1441.4,1841.3 L1444.0,1841.3 L1447.6,1838.8 L1451.2,1839.6 L1454.8,1838.8 L1457.9,1837.3 L1461.0,1837.9 L1464.1,1839.2 L1467.2,1839.2 L1470.3,1838.7 L1473.4,1837.9 L1476.5,1838.9 L1479.4,1838.2 L1482.2,1836.5 L1485.1,1837.5 L1487.0,1834.5 L1488.8,1834.0 L1490.7,1833.0 L1492.5,1828.9 L1494.4,1829.0 L1496.2,1827.9 L1498.1,1827.2 L1501.7,1825.4 L1505.3,1825.0 L1508.9,1823.3 L1512.0,1821.9 L1515.1,1824.2 L1518.2,1824.2 L1521.3,1823.4 L1524.4,1825.1 L1527.5,1822.2 L1530.6,1825.4 L1533.8,1823.6 L1537.1,1824.5 L1540.3,1825.6 L1543.6,1823.5 L1546.8,1824.8 L1550.0,1823.3 L1553.3,1823.6 L1556.5,1827.0 L1559.8,1824.6 L1563.0,1825.5 L1566.1,1824.6 L1569.2,1827.7 L1572.3,1826.3 L1575.4,1827.7 L1578.5,1825.8 L1581.6,1826.7 L1584.7,1826.0 L1588.0,1828.5 L1591.2,1830.1" fill="none" stroke="#4494FF" stroke-width="6.5" stroke-linejoin="round"/>
<path d="M1429.0,1850.5 L1431.0,1850.5 L1433.6,1848.2 L1436.2,1849.4 L1438.8,1844.6 L1441.4,1843.8 L1444.0,1844.5 L1447.6,1844.8 L1451.2,1843.4 L1454.8,1840.3 L1457.9,1843.0 L1461.0,1841.3 L1464.1,1841.8 L1467.2,1842.2 L1470.3,1842.2 L1473.4,1843.3 L1476.5,1843.4 L1479.4,1840.4 L1482.2,1841.7 L1485.1,1838.6 L1487.0,1838.3 L1488.8,1834.6 L1490.7,1834.7 L1492.5,1831.6 L1494.4,1832.5 L1496.2,1829.5 L1498.1,1826.8 L1501.7,1827.9 L1505.3,1823.6 L1508.9,1824.9 L1512.0,1824.7 L1515.1,1822.5 L1518.2,1824.4 L1521.3,1823.3 L1524.4,1826.8 L1527.5,1823.6 L1530.6,1825.8 L1533.8,1825.6 L1537.1,1824.2 L1540.3,1827.5 L1543.6,1826.3 L1546.8,1826.7 L1550.0,1825.5 L1553.3,1825.3 L1556.5,1826.1 L1559.8,1825.2 L1563.0,1826.0 L1566.1,1827.4 L1569.2,1827.1 L1572.3,1828.7 L1575.4,1826.6 L1578.5,1827.0 L1581.6,1828.4 L1584.7,1829.2 L1588.0,1829.0 L1591.2,1829.9" fill="none" stroke="#6088FF" stroke-width="6.5" stroke-linejoin="round"/>
<path d="M1429.0,1851.6 L1431.0,1852.5 L1433.6,1851.2 L1436.2,1851.6 L1438.8,1848.0 L1441.4,1847.0 L1444.0,1847.3 L1447.6,1844.2 L1451.2,1842.6 L1454.8,1845.5 L1457.9,1845.3 L1461.0,1843.0 L1464.1,1843.0 L1467.2,1843.8 L1470.3,1842.9 L1473.4,1845.3 L1476.5,1845.8 L1479.4,1844.2 L1482.2,1842.0 L1485.1,1842.9 L1487.0,1841.4 L1488.8,1836.6 L1490.7,1836.7 L1492.5,1832.8 L1494.4,1834.2 L1496.2,1831.6 L1498.1,1828.2 L1501.7,1828.4 L1505.3,1825.5 L1508.9,1823.5 L1512.0,1825.5 L1515.1,1823.9 L1518.2,1825.6 L1521.3,1827.4 L1524.4,1826.5 L1527.5,1825.4 L1530.6,1825.4 L1533.8,1827.0 L1537.1,1827.0 L1540.3,1828.8 L1543.6,1826.1 L1546.8,1827.5 L1550.0,1827.6 L1553.3,1827.5 L1556.5,1826.9 L1559.8,1827.9 L1563.0,1828.8 L1566.1,1827.6 L1569.2,1828.3 L1572.3,1829.3 L1575.4,1831.1 L1578.5,1829.5 L1581.6,1829.2 L1584.7,1828.1 L1588.0,1831.4 L1591.2,1832.1" fill="none" stroke="#7C7CFF" stroke-width="6.5" stroke-linejoin="round"/>
<path d="M1429.0,1854.4 L1431.0,1855.8 L1433.6,1855.0 L1436.2,1852.5 L1438.8,1852.6 L1441.4,1850.7 L1444.0,1847.0 L1447.6,1846.0 L1451.2,1846.9 L1454.8,1846.3 L1457.9,1846.2 L1461.0,1845.0 L1464.1,1845.6 L1467.2,1847.2 L1470.3,1846.0 L1473.4,1846.6 L1476.5,1845.5 L1479.4,1846.1 L1482.2,1844.6 L1485.1,1841.7 L1487.0,1842.8 L1488.8,1841.0 L1490.7,1839.8 L1492.5,1837.7 L1494.4,1834.7 L1496.2,1831.9 L1498.1,1829.1 L1501.7,1829.6 L1505.3,1827.3 L1508.9,1825.7 L1512.0,1825.1 L1515.1,1827.3 L1518.2,1827.9 L1521.3,1828.3 L1524.4,1826.1 L1527.5,1826.5 L1530.6,1828.4 L1533.8,1826.6 L1537.1,1829.8 L1540.3,1830.2 L1543.6,1829.3 L1546.8,1828.0 L1550.0,1829.4 L1553.3,1830.4 L1556.5,1829.0 L1559.8,1830.4 L1563.0,1830.4 L1566.1,1831.9 L1569.2,1831.5 L1572.3,1831.3 L1575.4,1831.0 L1578.5,1832.6 L1581.6,1831.7 L1584.7,1832.2 L1588.0,1832.2 L1591.2,1832.8" fill="none" stroke="#A068FF" stroke-width="6.5" stroke-linejoin="round"/>
<path d="M1429.0,1859.0 L1431.0,1857.7 L1433.6,1859.2 L1436.2,1854.7 L1438.8,1855.8 L1441.4,1852.1 L1444.0,1850.0 L1447.6,1850.5 L1451.2,1848.5 L1454.8,1850.2 L1457.9,1848.8 L1461.0,1846.8 L1464.1,1847.7 L1467.2,1847.1 L1470.3,1848.7 L1473.4,1848.9 L1476.5,1848.2 L1479.4,1848.6 L1482.2,1846.7 L1485.1,1847.2 L1487.0,1844.5 L1488.8,1840.8 L1490.7,1841.0 L1492.5,1835.8 L1494.4,1834.5 L1496.2,1831.6 L1498.1,1833.3 L1501.7,1830.3 L1505.3,1830.3 L1508.9,1829.6 L1512.0,1826.2 L1515.1,1829.7 L1518.2,1826.4 L1521.3,1829.3 L1524.4,1829.9 L1527.5,1828.5 L1530.6,1830.7 L1533.8,1830.5 L1537.1,1829.6 L1540.3,1829.0 L1543.6,1828.7 L1546.8,1828.6 L1550.0,1830.7 L1553.3,1830.9 L1556.5,1829.8 L1559.8,1831.3 L1563.0,1829.8 L1566.1,1830.9 L1569.2,1832.6 L1572.3,1830.7 L1575.4,1832.4 L1578.5,1831.1 L1581.6,1834.3 L1584.7,1831.8 L1588.0,1836.2 L1591.2,1837.7" fill="none" stroke="#D048FF" stroke-width="6.5" stroke-linejoin="round"/>
<path d="M1429.0,1877.7 L1431.0,1873.6 L1433.6,1874.0 L1436.2,1868.4 L1438.8,1871.8 L1441.4,1868.2 L1444.0,1862.3 L1447.6,1861.6 L1451.2,1860.1 L1454.8,1860.2 L1457.9,1863.9 L1461.0,1863.2 L1464.1,1860.5 L1467.2,1863.6 L1470.3,1858.9 L1473.4,1862.2 L1476.5,1861.5 L1479.4,1858.3 L1482.2,1862.0 L1485.1,1859.1 L1487.0,1858.5 L1488.8,1853.7 L1490.7,1850.9 L1492.5,1845.3 L1494.4,1844.7 L1496.2,1844.5 L1498.1,1839.8 L1501.7,1838.7 L1505.3,1835.9 L1508.9,1833.7 L1512.0,1831.9 L1515.1,1833.4 L1518.2,1833.5 L1521.3,1833.2 L1524.4,1833.3 L1527.5,1837.8 L1530.6,1839.5 L1533.8,1838.0 L1537.1,1839.1 L1540.3,1835.7 L1543.6,1839.8 L1546.8,1837.3 L1550.0,1840.4 L1553.3,1837.0 L1556.5,1837.7 L1559.8,1839.3 L1563.0,1837.8 L1566.1,1838.3 L1569.2,1841.4 L1572.3,1842.0 L1575.4,1843.5 L1578.5,1841.8 L1581.6,1840.3 L1584.7,1841.3 L1588.0,1843.9 L1591.2,1845.9" fill="none" stroke="#FF22FF" stroke-width="5.5" stroke-linejoin="round"/>
<path d="M339.5,1825.4 L342.0,1824.3 L344.5,1823.2 L347.0,1822.1 L349.5,1821.0 L352.0,1820.0 L354.5,1818.9 L357.0,1817.8 L359.5,1816.7 L362.0,1815.7 L364.4,1814.8 L366.9,1813.9 L369.3,1813.1 L371.8,1812.2 L374.2,1811.3 L376.7,1810.5 L379.1,1809.6 L381.6,1808.8 L384.0,1807.9 L386.0,1805.6 L388.0,1803.4 L390.0,1801.1 L392.7,1801.1 L395.3,1801.1 L398.0,1801.1 L401.0,1801.1 L404.0,1801.1 L407.0,1801.1 L410.0,1801.1 L411.3,1803.4 L412.7,1805.6 L414.0,1807.9 L416.0,1806.0 L418.0,1804.0 L420.0,1802.1 L423.5,1802.6 L427.0,1803.0 L429.8,1802.7 L432.7,1802.4 L435.5,1802.1 L438.3,1801.7 L441.2,1801.4 L444.0,1801.1 L446.6,1801.1 L449.3,1801.1 L451.9,1801.1 L454.6,1801.1 L457.2,1801.1 L459.9,1801.1 L462.5,1801.1 L465.1,1801.1 L467.8,1801.1 L470.4,1801.1 L473.1,1801.1 L475.7,1801.1 L478.4,1801.1 L481.0,1801.1 L483.2,1799.4 L485.4,1797.6 L487.6,1795.9 L489.8,1794.1 L492.0,1792.4 L494.1,1791.0 L496.2,1789.7 L498.4,1788.4 L500.5,1787.0 L502.6,1785.7 L504.8,1784.4 L506.9,1783.0 L509.0,1781.7 L511.0,1780.1 L513.0,1778.5 L515.0,1777.0 L517.0,1775.4 L519.0,1773.8 L521.0,1772.2 L523.0,1770.7 L525.0,1769.1 L527.7,1768.0 L530.3,1766.8 L533.0,1765.7 L535.7,1764.6 L538.3,1763.4 L541.0,1762.3 L543.4,1761.5 L545.8,1760.8 L548.2,1760.0 L550.6,1759.2 L553.0,1758.4 L555.4,1757.6 L557.8,1756.9 L560.2,1756.1 L562.6,1755.3 L565.0,1754.5 L567.5,1754.3 L570.0,1754.0 L572.5,1753.7 L575.0,1753.4 L577.5,1753.1 L580.0,1752.8 L582.5,1752.5 L585.0,1752.2 L587.5,1751.9 L590.0,1751.6 L592.0,1753.1 L594.0,1754.5 L596.0,1756.0 L598.0,1757.5 L600.0,1758.9 L602.0,1760.4 L604.0,1761.8 L606.0,1763.3 L608.5,1762.5 L611.0,1761.8 L613.5,1761.1 L616.0,1760.4 L617.2,1757.8 L618.4,1755.3 L619.6,1752.8 L620.8,1750.3 L622.0,1747.8 L624.0,1746.3 L626.0,1744.8 L628.0,1743.4 L630.0,1741.9 L630.8,1739.4 L631.6,1736.9 L632.4,1734.4 L633.2,1731.8 L634.0,1729.3 L635.9,1727.5 L637.8,1725.8 L639.8,1724.0 L641.7,1722.2 L643.6,1720.4 L645.5,1718.7 L647.1,1716.7 L648.7,1714.8 L650.3,1712.8 L652.0,1710.9 L653.6,1709.0 L655.2,1707.0 L656.8,1705.1 L658.1,1702.8 L659.5,1700.5 L660.8,1698.3 L662.2,1696.0 L663.5,1693.8 L664.9,1691.5 L665.5,1689.1 L666.0,1686.6 L666.5,1684.2 L667.1,1681.8 L667.7,1679.4 L668.2,1676.9 L669.8,1679.1 L671.5,1681.3 L673.1,1683.5 L674.7,1685.7 L675.5,1688.1 L676.3,1690.5 L677.1,1692.9 L677.9,1695.4 L678.7,1693.1 L679.5,1690.8 L680.3,1688.5 L681.1,1686.2 L682.0,1683.9 L682.8,1681.5 L683.6,1679.2 L684.4,1676.9 L685.5,1674.4 L686.6,1671.8 L687.6,1669.2 L688.7,1666.6 L689.8,1664.0 L690.9,1661.4 L693.1,1659.8 L695.2,1658.2 L697.4,1656.6 L697.5,1659.0 L697.6,1661.5 L697.7,1663.9 L697.7,1666.4 L697.8,1668.8 L697.9,1671.3 L698.0,1673.7 L698.1,1676.2 L698.2,1678.6 L698.2,1681.1 L698.3,1683.5 L698.4,1686.0 L698.5,1688.4 L698.6,1690.9 L698.7,1693.3 L698.7,1695.8 L698.8,1698.2 L698.9,1700.7 L699.0,1703.1 L699.1,1705.6 L699.1,1708.0 L699.2,1710.4 L699.2,1712.8 L699.3,1715.3 L699.3,1717.7 L699.4,1720.1 L699.4,1722.5 L699.5,1725.0 L699.6,1727.4 L699.6,1729.8 L699.7,1732.2 L699.7,1734.7 L699.8,1737.1 L699.8,1739.5 L699.9,1741.9 L699.9,1744.4 L700.0,1746.8 L700.1,1749.2 L700.1,1751.6 L700.2,1754.1 L700.2,1756.5 L700.3,1758.9 L700.3,1761.3 L700.4,1763.8 L700.4,1766.2 L700.5,1768.6 L700.6,1771.0 L700.6,1773.5 L700.7,1775.9 L700.7,1778.3 L700.8,1780.7 L700.8,1783.2 L700.9,1785.6 L700.9,1788.0 L701.0,1790.4 L701.2,1792.9 L701.4,1795.3 L701.6,1797.7 L701.8,1800.1 L702.0,1802.6 L702.2,1805.0 L702.4,1807.4 L702.6,1809.8 L702.8,1812.3 L703.0,1814.7 L703.2,1812.3 L703.4,1809.8 L703.6,1807.4 L703.8,1805.0 L704.0,1802.6 L704.2,1800.1 L704.4,1797.7 L704.6,1795.3 L704.8,1792.9 L705.0,1790.4 L705.1,1788.0 L705.2,1785.6 L705.2,1783.2 L705.3,1780.7 L705.4,1778.3 L705.5,1775.9 L705.6,1773.5 L705.7,1771.0 L705.8,1768.6 L705.8,1766.2 L705.9,1763.8 L706.0,1761.3 L706.1,1758.9 L706.2,1756.5 L706.2,1754.1 L706.3,1751.6 L706.4,1749.2 L706.5,1746.8 L706.6,1744.4 L706.7,1741.9 L706.8,1739.5 L706.8,1737.1 L706.9,1734.7 L707.0,1732.2 L707.1,1729.8 L707.2,1727.4 L707.2,1725.0 L707.3,1722.5 L707.4,1720.1 L707.5,1717.7 L707.6,1715.3 L707.7,1712.8 L707.8,1710.4 L707.8,1708.0 L707.9,1705.6 L708.0,1703.1 L708.2,1700.7 L708.4,1698.3 L708.5,1695.8 L708.7,1693.4 L708.9,1690.9 L709.1,1688.5 L709.3,1686.0 L709.4,1683.6 L709.6,1681.2 L709.8,1678.7 L710.0,1676.3 L710.2,1673.8 L710.3,1671.4 L710.5,1669.0 L710.7,1666.5 L710.9,1664.1 L711.1,1661.6 L711.3,1659.2 L711.4,1656.8 L711.6,1654.3 L711.8,1651.9 L712.0,1649.4 L712.2,1647.0 L712.3,1644.6 L712.5,1642.1 L712.7,1639.7 L712.9,1637.2 L713.1,1634.8 L713.2,1632.4 L713.4,1629.9 L713.6,1627.5 L714.3,1625.1 L715.0,1622.7 L715.8,1620.4 L716.5,1618.0 L717.2,1615.6 L717.9,1613.2 L718.7,1610.9 L719.4,1608.5 L720.1,1606.1 L721.3,1603.6 L722.4,1601.1 L723.6,1598.6 L724.7,1596.2 L725.9,1593.7 L727.0,1591.2 L728.2,1588.7 L730.4,1590.6 L732.5,1592.6 L734.7,1594.5 L735.8,1596.9 L736.9,1599.3 L738.0,1601.8 L739.0,1604.2 L740.1,1606.6 L741.2,1609.0 L742.2,1611.6 L743.2,1614.1 L744.1,1616.6 L745.1,1619.1 L746.1,1621.7 L747.7,1619.7 L749.3,1617.8 L751.0,1615.8 L752.6,1613.9 L754.2,1612.0 L756.2,1609.8 L758.2,1607.6 L760.3,1605.4 L762.3,1603.2 L764.6,1602.1 L766.9,1600.9 L769.1,1599.7 L771.4,1598.6 L773.7,1597.4 L776.9,1597.7 L780.2,1598.0 L783.4,1598.4 L785.6,1600.3 L787.7,1602.3 L789.9,1604.2 L791.1,1601.7 L792.2,1599.2 L793.4,1596.7 L794.6,1594.2 L795.8,1591.7 L796.9,1589.2 L798.1,1586.7 L799.0,1584.2 L799.9,1581.7 L800.8,1579.2 L801.8,1576.8 L802.7,1574.3 L803.6,1571.8 L804.5,1569.3 L805.6,1566.9 L806.7,1564.5 L807.8,1562.2 L808.9,1559.8 L809.9,1557.4 L811.0,1555.0 L812.1,1552.7 L813.2,1550.3 L814.3,1547.9 L815.5,1550.4 L816.8,1552.8 L818.0,1555.2 L819.2,1557.6 L821.2,1559.6 L823.2,1561.5 L825.3,1563.5 L827.3,1565.4 L828.0,1567.8 L828.7,1570.1 L829.5,1572.5 L830.2,1574.9 L830.9,1577.2 L831.6,1579.6 L832.4,1582.0 L833.1,1584.4 L833.8,1586.7 L834.7,1589.2 L835.7,1591.7 L836.6,1594.2 L837.5,1596.7 L838.4,1599.2 L839.4,1601.7 L840.3,1604.2 L842.5,1606.5 L844.6,1608.7 L846.8,1611.0 L847.0,1613.4 L847.3,1615.8 L847.5,1618.3 L847.7,1620.7 L847.9,1623.1 L848.2,1625.5 L848.4,1628.0 L848.6,1630.4 L848.9,1632.8 L849.1,1635.2 L849.3,1637.7 L849.5,1640.1 L849.8,1642.5 L850.0,1644.9 L850.5,1647.3 L851.0,1649.7 L851.5,1652.1 L852.0,1654.5 L852.5,1656.9 L853.0,1659.3 L853.5,1661.6 L854.0,1664.0 L854.5,1666.4 L855.0,1668.8 L855.5,1671.2 L856.0,1673.6 L856.5,1676.0 L857.0,1678.4 L857.5,1680.7 L858.0,1683.1 L858.5,1685.5 L859.0,1687.9 L859.5,1690.3 L860.0,1692.7 L860.5,1695.1 L861.0,1697.5 L861.5,1699.8 L862.0,1702.2 L862.5,1704.6 L863.0,1707.0 L863.3,1709.5 L863.7,1711.9 L864.0,1714.4 L864.4,1716.8 L864.7,1719.3 L865.1,1721.7 L865.4,1724.2 L865.7,1726.6 L866.1,1729.1 L866.4,1731.5 L866.8,1734.0 L867.1,1736.4 L867.4,1738.9 L867.8,1741.3 L868.1,1743.8 L868.5,1746.2 L868.8,1748.7 L869.2,1751.1 L869.5,1753.6 L869.9,1756.0 L870.3,1758.4 L870.7,1760.8 L871.1,1763.3 L871.5,1765.7 L871.9,1768.1 L872.3,1770.5 L872.8,1773.0 L873.2,1775.4 L873.6,1777.8 L874.0,1780.2 L874.4,1782.7 L874.8,1785.1 L875.2,1787.5 L875.6,1789.9 L876.0,1792.4 L876.7,1794.9 L877.4,1797.4 L878.1,1799.9 L878.7,1802.3 L879.4,1804.8 L880.1,1807.3 L880.8,1809.8 L881.6,1812.4 L882.4,1815.0 L883.2,1817.6 L884.1,1820.2 L884.9,1822.8 L885.7,1825.4 L886.0,1827.9 L886.2,1830.4 L886.5,1832.9 L886.7,1835.4 L887.0,1837.9 L887.3,1840.3 L887.5,1842.8 L887.8,1845.3 L888.1,1847.8 L888.3,1850.3 L888.6,1852.8 L888.8,1855.3 L889.1,1857.8 L889.4,1860.3 L889.6,1862.8 L889.9,1865.3 L890.1,1867.8 L890.4,1870.3 L890.7,1872.8 L890.9,1875.3 L891.2,1877.8 L891.5,1880.3 L891.7,1882.8 L892.0,1885.3 L892.2,1887.8 L892.5,1890.3 L893.0,1892.7 L893.5,1895.1 L894.0,1897.5 L894.5,1899.9 L895.0,1902.2 L895.4,1904.6 L895.9,1907.0 L896.4,1909.4 L896.9,1911.8 L897.4,1914.2 L897.9,1916.5 L898.4,1918.9 L898.9,1921.3 L899.4,1923.7 L899.9,1926.1 L900.4,1928.4 L900.8,1930.8 L901.3,1933.2 L901.8,1935.6 L902.3,1938.0 L902.8,1940.3 L903.3,1942.7 L904.1,1945.2 L905.0,1947.6 L905.8,1950.1 L906.6,1952.6 L907.5,1955.0 L908.3,1957.5 L909.1,1960.0 L909.9,1962.4 L910.8,1964.9 L911.6,1967.3 L912.4,1969.8 L913.3,1972.3 L914.1,1974.7 L914.8,1977.2 L915.5,1979.6 L916.3,1982.0 L917.0,1984.4 L917.7,1986.9 L918.5,1989.3 L919.2,1991.7 L919.9,1994.1 L920.6,1996.6 L921.3,1999.0 L922.1,2001.4 L922.8,2003.8 L924.1,2006.1 L925.5,2008.4 L926.9,2010.7 L928.2,2013.0 L929.5,2015.4 L930.9,2017.7 L932.2,2020.0 L933.6,2022.3 L934.8,2019.9 L936.0,2017.5 L937.1,2015.1 L938.3,2012.7 L939.5,2010.4 L940.7,2008.0 L941.9,2005.6 L943.1,2003.2 L944.2,2000.8 L945.4,1998.5 L946.6,1996.1 L947.5,1993.7 L948.5,1991.4 L949.4,1989.0 L950.3,1986.6 L951.2,1984.3 L952.2,1981.9 L953.1,1979.6 L954.5,1981.6 L955.8,1983.7 L957.1,1985.8 L958.5,1987.8 L959.9,1989.9 L961.2,1991.9 L962.5,1994.0 L963.9,1996.1 L965.0,1998.3 L966.1,2000.5 L967.1,2002.8 L968.2,2005.0 L969.3,2007.2 L970.4,2009.5 L971.5,2011.7 L972.5,2013.9 L973.6,2016.2 L974.7,2018.4 L976.9,2020.2 L979.0,2021.9 L981.2,2023.7 L983.4,2025.5 L985.5,2027.3 L987.7,2029.1 L988.7,2026.8 L989.6,2024.5 L990.6,2022.3 L991.6,2020.0 L992.5,2017.7 L993.5,2015.5 L994.5,2013.2 L995.4,2010.9 L996.4,2008.7 L996.9,2006.3 L997.3,2003.8 L997.8,2001.4 L998.3,1999.0 L998.7,1996.6 L999.2,1994.1 L999.6,1991.7 L1000.1,1989.3 L1000.6,1986.9 L1001.0,1984.4 L1001.5,1982.0 L1002.0,1979.6 L1002.4,1977.2 L1002.9,1974.7 L1003.8,1972.3 L1004.6,1969.9 L1005.5,1967.5 L1006.3,1965.0 L1007.2,1962.6 L1008.1,1960.2 L1008.9,1957.8 L1009.8,1955.3 L1010.6,1952.9 L1011.5,1950.5 L1013.7,1951.8 L1015.8,1953.1 L1018.0,1954.4 L1020.2,1955.7 L1022.3,1956.9 L1024.5,1958.2 L1027.4,1958.9 L1030.3,1959.5 L1033.2,1960.2 L1033.5,1962.7 L1033.9,1965.3 L1034.2,1967.8 L1034.5,1970.3 L1034.9,1972.9 L1035.2,1975.4 L1035.5,1977.9 L1035.8,1980.5 L1036.2,1983.0 L1036.5,1985.6 L1036.8,1988.1 L1037.2,1990.6 L1037.5,1993.2 L1039.7,1991.2 L1041.8,1989.3 L1043.9,1987.3 L1046.1,1985.4 L1046.6,1982.9 L1047.2,1980.3 L1047.8,1977.8 L1048.3,1975.2 L1048.8,1972.7 L1049.4,1970.1 L1050.0,1967.6 L1050.5,1965.0 L1052.7,1963.4 L1054.8,1961.8 L1057.0,1960.2 L1058.4,1962.6 L1059.9,1965.0 L1061.3,1967.5 L1062.7,1969.9 L1064.2,1972.3 L1065.6,1974.7 L1067.4,1976.8 L1069.2,1978.9 L1071.0,1981.0 L1072.9,1983.1 L1074.7,1985.2 L1076.5,1987.3 L1078.3,1985.2 L1080.1,1983.1 L1081.9,1981.0 L1083.7,1978.9 L1085.5,1976.8 L1087.3,1974.7 L1088.0,1972.4 L1088.6,1970.0 L1089.3,1967.6 L1090.0,1965.3 L1090.7,1962.9 L1091.3,1960.5 L1092.0,1958.2 L1092.7,1955.8 L1093.4,1953.5 L1094.0,1951.1 L1094.7,1948.7 L1095.4,1946.4 L1096.1,1944.0 L1096.8,1941.6 L1097.4,1939.3 L1098.1,1936.9 L1099.4,1939.0 L1100.8,1941.0 L1102.2,1943.1 L1103.5,1945.1 L1104.8,1947.2 L1106.2,1949.3 L1107.6,1951.3 L1108.9,1953.4 L1109.7,1955.8 L1110.6,1958.2 L1111.4,1960.6 L1112.2,1962.9 L1113.1,1965.3 L1113.9,1967.7 L1114.7,1970.1 L1115.5,1972.5 L1116.4,1974.9 L1117.2,1977.3 L1118.0,1979.7 L1118.9,1982.0 L1119.7,1984.4 L1121.1,1986.5 L1122.6,1988.6 L1124.0,1990.7 L1125.5,1992.8 L1126.9,1994.9 L1128.3,1997.0 L1129.8,1999.1 L1131.2,2001.2 L1132.7,2003.3 L1134.1,2005.4 L1135.6,2007.6 L1137.0,2009.7 L1139.5,2010.5 L1142.1,2011.3 L1144.6,2012.1 L1147.1,2012.9 L1149.7,2013.7 L1152.2,2014.5 L1152.2,1977.7 L1149.7,1977.0 L1147.1,1976.3 L1144.6,1975.7 L1142.1,1975.0 L1139.5,1974.3 L1137.0,1973.7 L1135.6,1971.9 L1134.1,1970.2 L1132.7,1968.5 L1131.2,1966.7 L1129.8,1965.0 L1128.3,1963.3 L1126.9,1961.5 L1125.5,1959.8 L1124.0,1958.1 L1122.6,1956.3 L1121.1,1954.6 L1119.7,1952.9 L1118.9,1950.9 L1118.0,1948.9 L1117.2,1947.0 L1116.4,1945.0 L1115.5,1943.0 L1114.7,1941.1 L1113.9,1939.1 L1113.1,1937.1 L1112.2,1935.2 L1111.4,1933.2 L1110.6,1931.2 L1109.7,1929.2 L1108.9,1927.3 L1107.6,1925.6 L1106.2,1923.9 L1104.8,1922.2 L1103.5,1920.5 L1102.2,1918.8 L1100.8,1917.1 L1099.4,1915.4 L1098.1,1913.7 L1097.4,1915.6 L1096.8,1917.6 L1096.1,1919.5 L1095.4,1921.5 L1094.7,1923.4 L1094.0,1925.4 L1093.4,1927.3 L1092.7,1929.3 L1092.0,1931.2 L1091.3,1933.2 L1090.7,1935.1 L1090.0,1937.1 L1089.3,1939.0 L1088.6,1941.0 L1088.0,1942.9 L1087.3,1944.9 L1085.5,1946.6 L1083.7,1948.3 L1081.9,1950.1 L1080.1,1951.8 L1078.3,1953.5 L1076.5,1955.3 L1074.7,1953.5 L1072.9,1951.8 L1071.0,1950.1 L1069.2,1948.3 L1067.4,1946.6 L1065.6,1944.9 L1064.2,1942.9 L1062.7,1940.9 L1061.3,1938.9 L1059.9,1936.9 L1058.4,1934.9 L1057.0,1932.9 L1054.8,1934.2 L1052.7,1935.5 L1050.5,1936.9 L1050.0,1939.0 L1049.4,1941.1 L1048.8,1943.2 L1048.3,1945.3 L1047.8,1947.4 L1047.2,1949.5 L1046.6,1951.6 L1046.1,1953.7 L1043.9,1955.3 L1041.8,1956.9 L1039.7,1958.5 L1037.5,1960.1 L1037.2,1958.0 L1036.8,1955.9 L1036.5,1953.8 L1036.2,1951.7 L1035.8,1949.6 L1035.5,1947.5 L1035.2,1945.4 L1034.9,1943.3 L1034.5,1941.2 L1034.2,1939.2 L1033.9,1937.1 L1033.5,1935.0 L1033.2,1932.9 L1030.3,1932.3 L1027.4,1931.8 L1024.5,1931.3 L1022.3,1930.2 L1020.2,1929.1 L1018.0,1928.1 L1015.8,1927.0 L1013.7,1925.9 L1011.5,1924.9 L1010.6,1926.9 L1009.8,1928.9 L1008.9,1930.9 L1008.1,1932.9 L1007.2,1934.9 L1006.3,1936.9 L1005.5,1938.9 L1004.6,1940.9 L1003.8,1942.9 L1002.9,1944.9 L1002.4,1946.9 L1002.0,1948.9 L1001.5,1950.9 L1001.0,1952.9 L1000.6,1954.9 L1000.1,1956.9 L999.6,1958.9 L999.2,1960.9 L998.7,1962.9 L998.3,1964.9 L997.8,1966.9 L997.3,1968.9 L996.9,1970.9 L996.4,1972.9 L995.4,1974.7 L994.5,1976.6 L993.5,1978.5 L992.5,1980.3 L991.6,1982.2 L990.6,1984.1 L989.6,1985.9 L988.7,1987.8 L987.7,1989.7 L985.5,1988.2 L983.4,1986.7 L981.2,1985.3 L979.0,1983.8 L976.9,1982.3 L974.7,1980.9 L973.6,1979.0 L972.5,1977.2 L971.5,1975.4 L970.4,1973.5 L969.3,1971.7 L968.2,1969.8 L967.1,1968.0 L966.1,1966.2 L965.0,1964.3 L963.9,1962.5 L962.5,1960.8 L961.2,1959.1 L959.9,1957.4 L958.5,1955.7 L957.1,1954.0 L955.8,1952.3 L954.5,1950.6 L953.1,1948.9 L952.2,1950.8 L951.2,1952.8 L950.3,1954.7 L949.4,1956.7 L948.5,1958.6 L947.5,1960.5 L946.6,1962.5 L945.4,1964.4 L944.2,1966.4 L943.1,1968.4 L941.9,1970.3 L940.7,1972.3 L939.5,1974.3 L938.3,1976.2 L937.1,1978.2 L936.0,1980.2 L934.8,1982.1 L933.6,1984.1 L932.2,1982.2 L930.9,1980.3 L929.5,1978.4 L928.2,1976.5 L926.9,1974.6 L925.5,1972.7 L924.1,1970.8 L922.8,1968.9 L922.1,1966.9 L921.3,1964.9 L920.6,1962.9 L919.9,1960.9 L919.2,1958.9 L918.5,1956.9 L917.7,1954.9 L917.0,1952.9 L916.3,1950.9 L915.5,1948.9 L914.8,1946.9 L914.1,1944.9 L913.3,1942.8 L912.4,1940.8 L911.6,1938.8 L910.8,1936.8 L909.9,1934.7 L909.1,1932.7 L908.3,1930.7 L907.5,1928.6 L906.6,1926.6 L905.8,1924.6 L905.0,1922.5 L904.1,1920.5 L903.3,1918.5 L902.8,1916.5 L902.3,1914.6 L901.8,1912.6 L901.3,1910.6 L900.8,1908.7 L900.4,1906.7 L899.9,1904.7 L899.4,1902.8 L898.9,1900.8 L898.4,1898.8 L897.9,1896.9 L897.4,1894.9 L896.9,1893.0 L896.4,1891.0 L895.9,1889.0 L895.4,1887.1 L895.0,1885.1 L894.5,1883.1 L894.0,1881.2 L893.5,1879.2 L893.0,1877.2 L892.5,1875.3 L892.2,1873.2 L892.0,1871.2 L891.7,1869.1 L891.5,1867.0 L891.2,1865.0 L890.9,1862.9 L890.7,1860.8 L890.4,1858.8 L890.1,1856.7 L889.9,1854.7 L889.6,1852.6 L889.4,1850.5 L889.1,1848.5 L888.8,1846.4 L888.6,1844.4 L888.3,1842.3 L888.1,1840.2 L887.8,1838.2 L887.5,1836.1 L887.3,1834.0 L887.0,1832.0 L886.7,1829.9 L886.5,1827.9 L886.2,1825.8 L886.0,1823.7 L885.7,1821.7 L884.9,1819.5 L884.1,1817.4 L883.2,1815.3 L882.4,1813.1 L881.6,1811.0 L880.8,1808.9 L880.1,1806.8 L879.4,1804.8 L878.7,1802.7 L878.1,1800.7 L877.4,1798.6 L876.7,1796.5 L876.0,1794.5 L875.6,1792.5 L875.2,1790.5 L874.8,1788.5 L874.4,1786.5 L874.0,1784.5 L873.6,1782.5 L873.2,1780.5 L872.8,1778.5 L872.3,1776.5 L871.9,1774.5 L871.5,1772.5 L871.1,1770.5 L870.7,1768.5 L870.3,1766.5 L869.9,1764.5 L869.5,1762.5 L869.2,1760.5 L868.8,1758.4 L868.5,1756.4 L868.1,1754.4 L867.8,1752.4 L867.4,1750.4 L867.1,1748.3 L866.8,1746.3 L866.4,1744.3 L866.1,1742.3 L865.7,1740.2 L865.4,1738.2 L865.1,1736.2 L864.7,1734.2 L864.4,1732.2 L864.0,1730.1 L863.7,1728.1 L863.3,1726.1 L863.0,1724.1 L862.5,1722.1 L862.0,1720.1 L861.5,1718.2 L861.0,1716.2 L860.5,1714.2 L860.0,1712.3 L859.5,1710.3 L859.0,1708.3 L858.5,1706.4 L858.0,1704.4 L857.5,1702.4 L857.0,1700.4 L856.5,1698.5 L856.0,1696.5 L855.5,1694.5 L855.0,1692.6 L854.5,1690.6 L854.0,1688.6 L853.5,1686.7 L853.0,1684.7 L852.5,1682.7 L852.0,1680.8 L851.5,1678.8 L851.0,1676.8 L850.5,1674.8 L850.0,1672.9 L849.8,1670.9 L849.5,1668.9 L849.3,1666.9 L849.1,1664.9 L848.9,1662.9 L848.6,1660.9 L848.4,1658.9 L848.2,1656.9 L847.9,1654.9 L847.7,1652.9 L847.5,1650.9 L847.3,1648.9 L847.0,1646.9 L846.8,1644.9 L844.6,1643.0 L842.5,1641.1 L840.3,1639.3 L839.4,1637.2 L838.4,1635.2 L837.5,1633.1 L836.6,1631.1 L835.7,1629.0 L834.7,1626.9 L833.8,1624.9 L833.1,1622.9 L832.4,1621.0 L831.6,1619.0 L830.9,1617.1 L830.2,1615.1 L829.5,1613.1 L828.7,1611.2 L828.0,1609.2 L827.3,1607.3 L825.3,1605.7 L823.2,1604.1 L821.2,1602.5 L819.2,1600.9 L818.0,1598.9 L816.8,1596.9 L815.5,1594.9 L814.3,1592.9 L813.2,1594.8 L812.1,1596.8 L811.0,1598.7 L809.9,1600.7 L808.9,1602.7 L807.8,1604.6 L806.7,1606.6 L805.6,1608.5 L804.5,1610.5 L803.6,1612.5 L802.7,1614.6 L801.8,1616.7 L800.8,1618.7 L799.9,1620.8 L799.0,1622.8 L798.1,1624.9 L796.9,1626.9 L795.8,1629.0 L794.6,1631.1 L793.4,1633.1 L792.2,1635.2 L791.1,1637.2 L789.9,1639.3 L787.7,1637.7 L785.6,1636.1 L783.4,1634.5 L780.2,1634.2 L776.9,1633.9 L773.7,1633.7 L771.4,1634.6 L769.1,1635.6 L766.9,1636.6 L764.6,1637.5 L762.3,1638.5 L760.3,1640.3 L758.2,1642.1 L756.2,1643.9 L754.2,1645.7 L752.6,1647.3 L751.0,1648.9 L749.3,1650.5 L747.7,1652.1 L746.1,1653.7 L745.1,1651.6 L744.1,1649.5 L743.2,1647.4 L742.2,1645.4 L741.2,1643.3 L740.1,1641.3 L739.0,1639.3 L738.0,1637.3 L736.9,1635.3 L735.8,1633.3 L734.7,1631.3 L732.5,1629.7 L730.4,1628.1 L728.2,1626.5 L727.0,1628.5 L725.9,1630.6 L724.7,1632.7 L723.6,1634.7 L722.4,1636.8 L721.3,1638.8 L720.1,1640.9 L719.4,1642.8 L718.7,1644.8 L717.9,1646.7 L717.2,1648.7 L716.5,1650.7 L715.8,1652.6 L715.0,1654.6 L714.3,1656.5 L713.6,1658.5 L713.4,1660.5 L713.2,1662.5 L713.1,1664.5 L712.9,1666.5 L712.7,1668.5 L712.5,1670.6 L712.3,1672.6 L712.2,1674.6 L712.0,1676.6 L711.8,1678.6 L711.6,1680.6 L711.4,1682.6 L711.3,1684.6 L711.1,1686.7 L710.9,1688.7 L710.7,1690.7 L710.5,1692.7 L710.3,1694.7 L710.2,1696.7 L710.0,1698.7 L709.8,1700.8 L709.6,1702.8 L709.4,1704.8 L709.3,1706.8 L709.1,1708.8 L708.9,1710.8 L708.7,1712.8 L708.5,1714.8 L708.4,1716.9 L708.2,1718.9 L708.0,1720.9 L707.9,1722.9 L707.8,1724.9 L707.8,1726.9 L707.7,1728.9 L707.6,1730.9 L707.5,1732.9 L707.4,1734.9 L707.3,1736.9 L707.2,1738.9 L707.2,1740.9 L707.1,1742.9 L707.0,1744.9 L706.9,1746.9 L706.8,1748.9 L706.8,1750.9 L706.7,1752.9 L706.6,1754.9 L706.5,1756.9 L706.4,1758.9 L706.3,1760.9 L706.2,1762.9 L706.2,1764.9 L706.1,1766.9 L706.0,1768.9 L705.9,1770.9 L705.8,1772.9 L705.8,1774.9 L705.7,1776.9 L705.6,1778.9 L705.5,1780.9 L705.4,1782.9 L705.3,1784.9 L705.2,1786.9 L705.2,1788.9 L705.1,1790.9 L705.0,1792.9 L704.8,1794.9 L704.6,1796.9 L704.4,1798.9 L704.2,1800.9 L704.0,1802.9 L703.8,1804.9 L703.6,1806.9 L703.4,1808.9 L703.2,1810.9 L703.0,1812.9 L702.8,1810.9 L702.6,1808.9 L702.4,1806.9 L702.2,1804.9 L702.0,1802.9 L701.8,1800.9 L701.6,1798.9 L701.4,1796.9 L701.2,1794.9 L701.0,1792.9 L700.9,1790.9 L700.9,1788.9 L700.8,1786.9 L700.8,1784.9 L700.7,1782.9 L700.7,1780.9 L700.6,1778.9 L700.6,1776.9 L700.5,1774.9 L700.4,1772.9 L700.4,1770.9 L700.3,1768.9 L700.3,1766.9 L700.2,1764.9 L700.2,1762.9 L700.1,1760.9 L700.1,1758.9 L700.0,1756.9 L699.9,1754.9 L699.9,1752.9 L699.8,1750.9 L699.8,1748.9 L699.7,1746.9 L699.7,1744.9 L699.6,1742.9 L699.6,1740.9 L699.5,1738.9 L699.4,1736.9 L699.4,1734.9 L699.3,1732.9 L699.3,1730.9 L699.2,1728.9 L699.2,1726.9 L699.1,1724.9 L699.1,1722.9 L699.0,1720.9 L698.9,1718.9 L698.8,1716.8 L698.7,1714.8 L698.7,1712.8 L698.6,1710.8 L698.5,1708.8 L698.4,1706.7 L698.3,1704.7 L698.2,1702.7 L698.2,1700.7 L698.1,1698.6 L698.0,1696.6 L697.9,1694.6 L697.8,1692.6 L697.7,1690.6 L697.7,1688.5 L697.6,1686.5 L697.5,1684.5 L697.4,1682.5 L695.2,1683.8 L693.1,1685.1 L690.9,1686.5 L689.8,1688.6 L688.7,1690.7 L687.6,1692.9 L686.6,1695.0 L685.5,1697.1 L684.4,1699.3 L683.6,1701.2 L682.8,1703.1 L682.0,1705.0 L681.1,1706.9 L680.3,1708.8 L679.5,1710.7 L678.7,1712.6 L677.9,1714.5 L677.1,1712.5 L676.3,1710.5 L675.5,1708.5 L674.7,1706.5 L673.1,1704.7 L671.5,1702.9 L669.8,1701.1 L668.2,1699.3 L667.7,1701.3 L667.1,1703.3 L666.5,1705.3 L666.0,1707.3 L665.5,1709.3 L664.9,1711.3 L663.5,1713.1 L662.2,1715.0 L660.8,1716.9 L659.5,1718.7 L658.1,1720.6 L656.8,1722.5 L655.2,1724.1 L653.6,1725.7 L652.0,1727.3 L650.3,1728.9 L648.7,1730.5 L647.1,1732.1 L645.5,1733.7 L643.6,1735.1 L641.7,1736.6 L639.8,1738.1 L637.8,1739.5 L635.9,1741.0 L634.0,1742.5 L633.2,1744.6 L632.4,1746.6 L631.6,1748.7 L630.8,1750.8 L630.0,1752.9 L628.0,1754.1 L626.0,1755.3 L624.0,1756.5 L622.0,1757.7 L620.8,1759.8 L619.6,1761.8 L618.4,1763.9 L617.2,1766.0 L616.0,1768.1 L613.5,1768.7 L611.0,1769.3 L608.5,1769.9 L606.0,1770.5 L604.0,1769.3 L602.0,1768.1 L600.0,1766.9 L598.0,1765.7 L596.0,1764.5 L594.0,1763.3 L592.0,1762.1 L590.0,1760.9 L587.5,1761.1 L585.0,1761.4 L582.5,1761.6 L580.0,1761.8 L577.5,1762.1 L575.0,1762.3 L572.5,1762.6 L570.0,1762.8 L567.5,1763.0 L565.0,1763.3 L562.6,1763.9 L560.2,1764.6 L557.8,1765.2 L555.4,1765.8 L553.0,1766.5 L550.6,1767.1 L548.2,1767.8 L545.8,1768.4 L543.4,1769.0 L541.0,1769.7 L538.3,1770.6 L535.7,1771.5 L533.0,1772.5 L530.3,1773.4 L527.7,1774.3 L525.0,1775.3 L523.0,1776.6 L521.0,1777.9 L519.0,1779.2 L517.0,1780.5 L515.0,1781.8 L513.0,1783.1 L511.0,1784.4 L509.0,1785.7 L506.9,1786.8 L504.8,1787.9 L502.6,1789.0 L500.5,1790.1 L498.4,1791.2 L496.2,1792.3 L494.1,1793.4 L492.0,1794.5 L489.8,1795.9 L487.6,1797.4 L485.4,1798.8 L483.2,1800.2 L481.0,1801.7 L478.4,1801.7 L475.7,1801.7 L473.1,1801.7 L470.4,1801.7 L467.8,1801.7 L465.1,1801.7 L462.5,1801.7 L459.9,1801.7 L457.2,1801.7 L454.6,1801.7 L451.9,1801.7 L449.3,1801.7 L446.6,1801.7 L444.0,1801.7 L441.2,1801.9 L438.3,1802.2 L435.5,1802.5 L432.7,1802.7 L429.8,1803.0 L427.0,1803.3 L423.5,1802.9 L420.0,1802.5 L418.0,1804.1 L416.0,1805.7 L414.0,1807.3 L412.7,1805.4 L411.3,1803.5 L410.0,1801.7 L407.0,1801.7 L404.0,1801.7 L401.0,1801.7 L398.0,1801.7 L395.3,1801.7 L392.7,1801.7 L390.0,1801.7 L388.0,1803.5 L386.0,1805.4 L384.0,1807.3 L381.6,1808.0 L379.1,1808.7 L376.7,1809.4 L374.2,1810.1 L371.8,1810.8 L369.3,1811.5 L366.9,1812.3 L364.4,1813.0 L362.0,1813.7 L359.5,1814.6 L357.0,1815.5 L354.5,1816.3 L352.0,1817.2 L349.5,1818.1 L347.0,1819.0 L344.5,1819.9 L342.0,1820.8 L339.5,1821.7 Z" fill="#FF22FF" stroke="#FF22FF" stroke-width="3" stroke-linejoin="round"/>
<path d="M1164.0,2023.2 L1167.0,2025.2 L1170.0,2027.1 L1171.2,2025.0 L1172.4,2022.8 L1173.6,2020.7 L1174.8,2018.6 L1176.0,2016.4 L1177.3,2014.4 L1178.7,2012.3 L1180.0,2010.3 L1181.4,2008.2 L1182.8,2006.1 L1184.1,2004.1 L1185.5,2002.0 L1186.8,2000.0 L1187.4,2002.4 L1188.0,2004.9 L1188.6,2007.4 L1189.2,2009.8 L1189.8,2012.3 L1190.3,2014.8 L1190.9,2017.2 L1191.5,2019.7 L1192.1,2022.2 L1192.7,2024.6 L1193.3,2027.1 L1193.3,1988.1 L1192.7,1986.0 L1192.1,1984.0 L1191.5,1982.0 L1190.9,1979.9 L1190.3,1977.9 L1189.8,1975.9 L1189.2,1973.8 L1188.6,1971.8 L1188.0,1969.8 L1187.4,1967.7 L1186.8,1965.7 L1185.5,1967.4 L1184.1,1969.1 L1182.8,1970.8 L1181.4,1972.5 L1180.0,1974.2 L1178.7,1975.9 L1177.3,1977.6 L1176.0,1979.3 L1174.8,1981.0 L1173.6,1982.8 L1172.4,1984.6 L1171.2,1986.3 L1170.0,1988.1 L1167.0,1986.5 L1164.0,1984.9 Z" fill="#FF22FF" stroke="#FF22FF" stroke-width="3" stroke-linejoin="round"/>
<path d="M1290.0,1860.3 L1293.5,1860.3 L1297.0,1860.3 L1297.0,1850.5 L1293.5,1850.5 L1290.0,1850.5 Z" fill="#FF22FF" stroke="#FF22FF" stroke-width="3" stroke-linejoin="round"/>
<path d="M1307.6,1857.4 L1309.2,1859.5 L1310.8,1861.7 L1312.5,1863.9 L1314.1,1866.1 L1317.0,1866.1 L1319.9,1866.1 L1322.8,1866.1 L1324.6,1864.3 L1326.4,1862.5 L1328.2,1860.8 L1330.0,1859.0 L1331.8,1857.2 L1333.6,1855.4 L1336.2,1855.3 L1338.9,1855.2 L1341.5,1855.1 L1344.2,1855.0 L1346.8,1854.9 L1349.5,1854.8 L1352.1,1854.7 L1354.8,1854.6 L1357.4,1854.5 L1360.1,1854.0 L1362.8,1853.5 L1365.5,1853.0 L1368.2,1852.5 L1370.9,1852.0 L1373.6,1851.5 L1376.3,1851.1 L1379.0,1850.6 L1381.7,1851.8 L1384.5,1853.0 L1387.2,1854.2 L1389.9,1855.4 L1391.2,1857.7 L1392.6,1860.0 L1394.0,1862.3 L1395.3,1864.6 L1396.7,1866.9 L1398.0,1869.2 L1399.4,1871.5 L1400.7,1873.9 L1403.4,1875.1 L1406.1,1876.3 L1408.8,1877.5 L1411.5,1878.7 L1414.4,1880.0 L1417.3,1881.3 L1420.2,1882.6 L1420.2,1868.9 L1417.3,1867.8 L1414.4,1866.7 L1411.5,1865.7 L1408.8,1864.7 L1406.1,1863.7 L1403.4,1862.7 L1400.7,1861.7 L1399.4,1859.8 L1398.0,1857.9 L1396.7,1856.0 L1395.3,1854.1 L1394.0,1852.2 L1392.6,1850.3 L1391.2,1848.4 L1389.9,1846.5 L1387.2,1845.5 L1384.5,1844.5 L1381.7,1843.5 L1379.0,1842.5 L1376.3,1842.9 L1373.6,1843.3 L1370.9,1843.7 L1368.2,1844.1 L1365.5,1844.5 L1362.8,1844.9 L1360.1,1845.3 L1357.4,1845.7 L1354.8,1845.8 L1352.1,1845.9 L1349.5,1845.9 L1346.8,1846.0 L1344.2,1846.1 L1341.5,1846.2 L1338.9,1846.3 L1336.2,1846.4 L1333.6,1846.5 L1331.8,1847.9 L1330.0,1849.4 L1328.2,1850.9 L1326.4,1852.3 L1324.6,1853.8 L1322.8,1855.3 L1319.9,1855.3 L1317.0,1855.3 L1314.1,1855.3 L1312.5,1853.5 L1310.8,1851.7 L1309.2,1849.9 L1307.6,1848.1 Z" fill="#FF22FF" stroke="#FF22FF" stroke-width="3" stroke-linejoin="round"/>
<path d="M1429.0,1873.9 L1431.0,1873.9 L1433.2,1872.2 L1435.3,1870.6 L1437.5,1869.0 L1439.7,1867.4 L1441.8,1865.8 L1444.0,1864.2 L1446.7,1863.2 L1449.4,1862.2 L1452.1,1861.2 L1454.8,1860.3 L1457.5,1860.4 L1460.2,1860.5 L1462.9,1860.6 L1465.7,1860.8 L1468.4,1860.9 L1471.1,1861.0 L1473.8,1861.1 L1476.5,1861.2 L1479.4,1859.9 L1482.2,1858.7 L1485.1,1857.4 L1486.5,1855.3 L1488.0,1853.3 L1489.4,1851.2 L1490.9,1849.2 L1492.3,1847.1 L1493.8,1845.1 L1495.2,1843.0 L1496.7,1841.0 L1498.1,1838.9 L1500.8,1837.7 L1503.5,1836.5 L1506.2,1835.3 L1508.9,1834.1 L1511.6,1834.3 L1514.3,1834.6 L1517.0,1834.8 L1519.8,1835.1 L1522.5,1835.3 L1525.2,1835.5 L1527.9,1835.8 L1530.6,1836.0 L1533.1,1836.2 L1535.6,1836.5 L1538.1,1836.7 L1540.6,1836.9 L1543.1,1837.1 L1545.6,1837.4 L1548.0,1837.6 L1550.5,1837.8 L1553.0,1838.0 L1555.5,1838.3 L1558.0,1838.5 L1560.5,1838.7 L1563.0,1838.9 L1565.7,1839.2 L1568.4,1839.4 L1571.1,1839.7 L1573.8,1839.9 L1576.6,1840.1 L1579.3,1840.4 L1582.0,1840.6 L1584.7,1840.9 L1586.9,1842.2 L1589.0,1843.5 L1591.2,1844.8 L1591.2,1837.7 L1589.0,1836.6 L1586.9,1835.5 L1584.7,1834.5 L1582.0,1834.3 L1579.3,1834.1 L1576.6,1833.9 L1573.8,1833.7 L1571.1,1833.5 L1568.4,1833.3 L1565.7,1833.1 L1563.0,1832.9 L1560.5,1832.7 L1558.0,1832.5 L1555.5,1832.3 L1553.0,1832.1 L1550.5,1832.0 L1548.0,1831.8 L1545.6,1831.6 L1543.1,1831.4 L1540.6,1831.2 L1538.1,1831.0 L1535.6,1830.8 L1533.1,1830.7 L1530.6,1830.5 L1527.9,1830.3 L1525.2,1830.1 L1522.5,1829.9 L1519.8,1829.7 L1517.0,1829.5 L1514.3,1829.3 L1511.6,1829.1 L1508.9,1828.9 L1506.2,1829.9 L1503.5,1830.9 L1500.8,1831.9 L1498.1,1832.9 L1496.7,1834.6 L1495.2,1836.3 L1493.8,1837.9 L1492.3,1839.6 L1490.9,1841.3 L1489.4,1843.0 L1488.0,1844.7 L1486.5,1846.4 L1485.1,1848.1 L1482.2,1849.1 L1479.4,1850.2 L1476.5,1851.3 L1473.8,1851.2 L1471.1,1851.1 L1468.4,1851.0 L1465.7,1850.9 L1462.9,1850.8 L1460.2,1850.7 L1457.5,1850.6 L1454.8,1850.5 L1452.1,1851.3 L1449.4,1852.1 L1446.7,1852.9 L1444.0,1853.7 L1441.8,1855.0 L1439.7,1856.3 L1437.5,1857.7 L1435.3,1859.0 L1433.2,1860.3 L1431.0,1861.7 L1429.0,1861.7 Z" fill="#FF22FF" stroke="#FF22FF" stroke-width="3" stroke-linejoin="round"/>
<rect x="734.3" y="1625.9" width="3.6" height="3.6" fill="#FF22FF"/>
<rect x="780.1" y="1684.4" width="3.6" height="3.6" fill="#20B0FF"/>
<rect x="828.1" y="1626.9" width="3.6" height="3.6" fill="#8A80FF"/>
<rect x="744.7" y="1713.2" width="3.6" height="3.6" fill="#20B0FF"/>
<rect x="795.7" y="1696.5" width="3.6" height="3.6" fill="#20B0FF"/>
<rect x="744.1" y="1684.1" width="3.6" height="3.6" fill="#20B0FF"/>
<rect x="855.8" y="1698.1" width="3.6" height="3.6" fill="#FF22FF"/>
<rect x="800.1" y="1687.6" width="3.6" height="3.6" fill="#20B0FF"/>
<rect x="782.8" y="1699.3" width="3.6" height="3.6" fill="#20B0FF"/>
<rect x="764.0" y="1693.7" width="3.6" height="3.6" fill="#20B0FF"/>
<rect x="728.4" y="1588.1" width="3.6" height="3.6" fill="#FF22FF"/>
<rect x="790.8" y="1664.8" width="3.6" height="3.6" fill="#8A80FF"/>
<rect x="737.5" y="1709.6" width="3.6" height="3.6" fill="#20B0FF"/>
<rect x="744.5" y="1630.1" width="3.6" height="3.6" fill="#FF22FF"/>
<rect x="851.6" y="1665.8" width="3.6" height="3.6" fill="#FF22FF"/>
<rect x="821.6" y="1611.7" width="3.6" height="3.6" fill="#8A80FF"/>
<rect x="728.1" y="1648.6" width="3.6" height="3.6" fill="#8A80FF"/>
<rect x="739.6" y="1614.3" width="3.6" height="3.6" fill="#FF22FF"/>
<rect x="770.0" y="1661.6" width="3.6" height="3.6" fill="#8A80FF"/>
<rect x="766.5" y="1588.8" width="3.6" height="3.6" fill="#FF22FF"/>
<rect x="714.1" y="1708.7" width="3.6" height="3.6" fill="#20B0FF"/>
<rect x="855.2" y="1706.4" width="3.6" height="3.6" fill="#8A80FF"/>
<rect x="790.6" y="1613.7" width="3.6" height="3.6" fill="#FF22FF"/>
<rect x="799.1" y="1626.9" width="3.6" height="3.6" fill="#8A80FF"/>
<rect x="736.6" y="1685.2" width="3.6" height="3.6" fill="#20B0FF"/>
<rect x="845.6" y="1678.3" width="3.6" height="3.6" fill="#8A80FF"/>
<rect x="755.0" y="1691.7" width="3.6" height="3.6" fill="#20B0FF"/>
<rect x="829.0" y="1592.8" width="3.6" height="3.6" fill="#FF22FF"/>
<rect x="810.0" y="1594.4" width="3.6" height="3.6" fill="#FF22FF"/>
<rect x="850.1" y="1704.0" width="3.6" height="3.6" fill="#8A80FF"/>
<rect x="850.6" y="1688.4" width="3.6" height="3.6" fill="#8A80FF"/>
<rect x="781.9" y="1657.3" width="3.6" height="3.6" fill="#8A80FF"/>
<rect x="838.1" y="1681.8" width="3.6" height="3.6" fill="#20B0FF"/>
<rect x="827.8" y="1591.3" width="3.6" height="3.6" fill="#FF22FF"/>
<rect x="832.4" y="1689.8" width="3.6" height="3.6" fill="#20B0FF"/>
<rect x="752.5" y="1660.2" width="3.6" height="3.6" fill="#8A80FF"/>
<rect x="720.3" y="1674.1" width="3.6" height="3.6" fill="#8A80FF"/>
<rect x="853.8" y="1682.5" width="3.6" height="3.6" fill="#FF22FF"/>
<rect x="747.0" y="1613.6" width="3.6" height="3.6" fill="#FF22FF"/>
<rect x="816.6" y="1676.8" width="3.6" height="3.6" fill="#20B0FF"/>
<rect x="832.6" y="1609.0" width="3.6" height="3.6" fill="#FF22FF"/>
<rect x="798.0" y="1645.1" width="3.6" height="3.6" fill="#8A80FF"/>
<rect x="834.2" y="1665.9" width="3.6" height="3.6" fill="#20B0FF"/>
<rect x="750.5" y="1621.7" width="3.6" height="3.6" fill="#FF22FF"/>
<rect x="810.3" y="1540.2" width="3.6" height="3.6" fill="#FF22FF"/>
<rect x="796.9" y="1624.5" width="3.6" height="3.6" fill="#FF22FF"/>
<rect x="795.5" y="1667.4" width="3.6" height="3.6" fill="#20B0FF"/>
<rect x="850.2" y="1648.1" width="3.6" height="3.6" fill="#FF22FF"/>
<rect x="724.0" y="1684.1" width="3.6" height="3.6" fill="#20B0FF"/>
<rect x="775.4" y="1694.1" width="3.6" height="3.6" fill="#20B0FF"/>
<rect x="805.9" y="1671.6" width="3.6" height="3.6" fill="#20B0FF"/>
<rect x="757.5" y="1648.8" width="3.6" height="3.6" fill="#8A80FF"/>
<rect x="734.4" y="1681.3" width="3.6" height="3.6" fill="#20B0FF"/>
<rect x="813.9" y="1596.5" width="3.6" height="3.6" fill="#8A80FF"/>
<rect x="814.0" y="1561.8" width="3.6" height="3.6" fill="#FF22FF"/>
<rect x="825.6" y="1688.3" width="3.6" height="3.6" fill="#20B0FF"/>
<rect x="719.5" y="1615.3" width="3.6" height="3.6" fill="#FF22FF"/>
<rect x="814.1" y="1649.9" width="3.6" height="3.6" fill="#20B0FF"/>
<rect x="756.0" y="1703.1" width="3.6" height="3.6" fill="#20B0FF"/>
<rect x="755.4" y="1606.6" width="3.6" height="3.6" fill="#FF22FF"/>
<rect x="783.7" y="1649.4" width="3.6" height="3.6" fill="#8A80FF"/>
<rect x="724.6" y="1630.3" width="3.6" height="3.6" fill="#FF22FF"/>
<rect x="817.4" y="1547.8" width="3.6" height="3.6" fill="#FF22FF"/>
<rect x="812.3" y="1606.4" width="3.6" height="3.6" fill="#8A80FF"/>
<rect x="719.5" y="1622.3" width="3.6" height="3.6" fill="#FF22FF"/>
<rect x="762.1" y="1678.4" width="3.6" height="3.6" fill="#8A80FF"/>
<rect x="725.9" y="1684.9" width="3.6" height="3.6" fill="#20B0FF"/>
<rect x="829.1" y="1596.5" width="3.6" height="3.6" fill="#FF22FF"/>
<rect x="800.9" y="1693.5" width="3.6" height="3.6" fill="#20B0FF"/>
<rect x="774.8" y="1642.3" width="3.6" height="3.6" fill="#8A80FF"/>
<rect x="768.8" y="1671.8" width="3.6" height="3.6" fill="#20B0FF"/>
<rect x="773.6" y="1678.9" width="3.6" height="3.6" fill="#20B0FF"/>
<rect x="829.5" y="1602.5" width="3.6" height="3.6" fill="#FF22FF"/>
<rect x="744.7" y="1675.3" width="3.6" height="3.6" fill="#8A80FF"/>
<rect x="802.4" y="1557.2" width="3.6" height="3.6" fill="#FF22FF"/>
<rect x="780.2" y="1650.9" width="3.6" height="3.6" fill="#8A80FF"/>
<rect x="840.2" y="1622.9" width="3.6" height="3.6" fill="#FF22FF"/>
<rect x="820.9" y="1601.3" width="3.6" height="3.6" fill="#FF22FF"/>
<rect x="812.3" y="1578.7" width="3.6" height="3.6" fill="#FF22FF"/>
<rect x="844.0" y="1669.7" width="3.6" height="3.6" fill="#8A80FF"/>
<rect x="830.6" y="1583.9" width="3.6" height="3.6" fill="#FF22FF"/>
<rect x="711.1" y="1689.9" width="3.6" height="3.6" fill="#8A80FF"/>
<rect x="767.3" y="1689.6" width="3.6" height="3.6" fill="#20B0FF"/>
<rect x="721.8" y="1676.9" width="3.6" height="3.6" fill="#20B0FF"/>
<rect x="818.6" y="1616.0" width="3.6" height="3.6" fill="#8A80FF"/>
<rect x="849.8" y="1664.8" width="3.6" height="3.6" fill="#FF22FF"/>
<rect x="759.2" y="1638.2" width="3.6" height="3.6" fill="#FF22FF"/>
<rect x="748.3" y="1609.6" width="3.6" height="3.6" fill="#FF22FF"/>
<rect x="747.3" y="1619.3" width="3.6" height="3.6" fill="#FF22FF"/>
<rect x="809.6" y="1657.7" width="3.6" height="3.6" fill="#20B0FF"/>
<rect x="750.7" y="1678.4" width="3.6" height="3.6" fill="#8A80FF"/>
<rect x="778.4" y="1655.6" width="3.6" height="3.6" fill="#8A80FF"/>
<rect x="751.2" y="1691.3" width="3.6" height="3.6" fill="#20B0FF"/>
<rect x="750.0" y="1699.8" width="3.6" height="3.6" fill="#20B0FF"/>
<rect x="715.2" y="1633.8" width="3.6" height="3.6" fill="#FF22FF"/>
<rect x="813.1" y="1679.4" width="3.6" height="3.6" fill="#20B0FF"/>
<rect x="715.9" y="1649.8" width="3.6" height="3.6" fill="#FF22FF"/>
<rect x="745.3" y="1715.2" width="3.6" height="3.6" fill="#20B0FF"/>
<rect x="724.0" y="1665.3" width="3.6" height="3.6" fill="#20B0FF"/>
<rect x="840.8" y="1661.5" width="3.6" height="3.6" fill="#8A80FF"/>
<rect x="825.8" y="1579.6" width="3.6" height="3.6" fill="#FF22FF"/>
<rect x="717.4" y="1687.7" width="3.6" height="3.6" fill="#20B0FF"/>
<rect x="790.8" y="1683.6" width="3.6" height="3.6" fill="#20B0FF"/>
<rect x="833.4" y="1595.2" width="3.6" height="3.6" fill="#FF22FF"/>
<rect x="712.8" y="1650.9" width="3.6" height="3.6" fill="#8A80FF"/>
<rect x="841.6" y="1629.9" width="3.6" height="3.6" fill="#FF22FF"/>
<rect x="737.7" y="1706.5" width="3.6" height="3.6" fill="#20B0FF"/>
<rect x="798.8" y="1617.1" width="3.6" height="3.6" fill="#FF22FF"/>
<rect x="827.0" y="1643.5" width="3.6" height="3.6" fill="#8A80FF"/>
<rect x="761.8" y="1674.9" width="3.6" height="3.6" fill="#20B0FF"/>
<rect x="840.2" y="1693.6" width="3.6" height="3.6" fill="#20B0FF"/>
<rect x="784.9" y="1623.4" width="3.6" height="3.6" fill="#FF22FF"/>
<rect x="749.6" y="1699.2" width="3.6" height="3.6" fill="#20B0FF"/>
<rect x="782.5" y="1628.6" width="3.6" height="3.6" fill="#FF22FF"/>
<rect x="733.3" y="1698.2" width="3.6" height="3.6" fill="#20B0FF"/>
<rect x="788.8" y="1663.3" width="3.6" height="3.6" fill="#8A80FF"/>
<rect x="816.5" y="1604.6" width="3.6" height="3.6" fill="#8A80FF"/>
<rect x="831.0" y="1663.9" width="3.6" height="3.6" fill="#20B0FF"/>
<rect x="761.6" y="1648.1" width="3.6" height="3.6" fill="#8A80FF"/>
<rect x="735.6" y="1623.9" width="3.6" height="3.6" fill="#FF22FF"/>
<rect x="733.9" y="1608.9" width="3.6" height="3.6" fill="#FF22FF"/>
<rect x="842.5" y="1629.6" width="3.6" height="3.6" fill="#FF22FF"/>
<rect x="823.7" y="1566.3" width="3.6" height="3.6" fill="#FF22FF"/>
<rect x="842.8" y="1600.4" width="3.6" height="3.6" fill="#FF22FF"/>
<rect x="847.7" y="1641.4" width="3.6" height="3.6" fill="#FF22FF"/>
<rect x="711.8" y="1684.9" width="3.6" height="3.6" fill="#8A80FF"/>
<rect x="798.8" y="1602.5" width="3.6" height="3.6" fill="#FF22FF"/>
<rect x="733.8" y="1595.0" width="3.6" height="3.6" fill="#FF22FF"/>
<rect x="838.9" y="1692.5" width="3.6" height="3.6" fill="#20B0FF"/>
<rect x="791.2" y="1617.5" width="3.6" height="3.6" fill="#FF22FF"/>
<rect x="839.1" y="1660.3" width="3.6" height="3.6" fill="#8A80FF"/>
<rect x="769.4" y="1685.0" width="3.6" height="3.6" fill="#20B0FF"/>
<rect x="829.2" y="1642.8" width="3.6" height="3.6" fill="#8A80FF"/>
<rect x="714.1" y="1672.0" width="3.6" height="3.6" fill="#8A80FF"/>
<rect x="714.0" y="1641.0" width="3.6" height="3.6" fill="#FF22FF"/>
<rect x="725.8" y="1588.6" width="3.6" height="3.6" fill="#FF22FF"/>
<rect x="840.9" y="1645.2" width="3.6" height="3.6" fill="#8A80FF"/>
<rect x="745.2" y="1673.3" width="3.6" height="3.6" fill="#8A80FF"/>
<rect x="822.7" y="1588.0" width="3.6" height="3.6" fill="#FF22FF"/>
<rect x="747.1" y="1666.9" width="3.6" height="3.6" fill="#8A80FF"/>
<rect x="781.7" y="1674.7" width="3.6" height="3.6" fill="#20B0FF"/>
<rect x="777.2" y="1705.8" width="3.6" height="3.6" fill="#20B0FF"/>
<rect x="795.8" y="1605.3" width="3.6" height="3.6" fill="#FF22FF"/>
<rect x="816.9" y="1544.1" width="3.6" height="3.6" fill="#FF22FF"/>
<rect x="767.7" y="1707.8" width="3.6" height="3.6" fill="#20B0FF"/>
<rect x="795.1" y="1638.5" width="3.6" height="3.6" fill="#8A80FF"/>
<rect x="739.0" y="1687.9" width="3.6" height="3.6" fill="#20B0FF"/>
<rect x="828.8" y="1625.2" width="3.6" height="3.6" fill="#8A80FF"/>
<rect x="764.3" y="1611.2" width="3.6" height="3.6" fill="#FF22FF"/>
<rect x="777.6" y="1661.3" width="3.6" height="3.6" fill="#8A80FF"/>
<rect x="797.6" y="1616.9" width="3.6" height="3.6" fill="#FF22FF"/>
<rect x="819.9" y="1631.3" width="3.6" height="3.6" fill="#8A80FF"/>
<rect x="824.4" y="1588.1" width="3.6" height="3.6" fill="#FF22FF"/>
<rect x="739.2" y="1621.9" width="3.6" height="3.6" fill="#FF22FF"/>
<rect x="721.5" y="1671.8" width="3.6" height="3.6" fill="#20B0FF"/>
<rect x="731.5" y="1599.4" width="3.6" height="3.6" fill="#FF22FF"/>
<rect x="809.8" y="1637.8" width="3.6" height="3.6" fill="#20B0FF"/>
<rect x="740.4" y="1660.2" width="3.6" height="3.6" fill="#8A80FF"/>
<rect x="742.0" y="1637.0" width="3.6" height="3.6" fill="#FF22FF"/>
<rect x="805.0" y="1634.2" width="3.6" height="3.6" fill="#8A80FF"/>
<rect x="730.8" y="1698.6" width="3.6" height="3.6" fill="#20B0FF"/>
<rect x="770.6" y="1696.5" width="3.6" height="3.6" fill="#20B0FF"/>
<rect x="805.8" y="1689.1" width="3.6" height="3.6" fill="#20B0FF"/>
<rect x="797.0" y="1643.5" width="3.6" height="3.6" fill="#8A80FF"/>
<rect x="850.7" y="1703.0" width="3.6" height="3.6" fill="#8A80FF"/>
<rect x="803.0" y="1639.8" width="3.6" height="3.6" fill="#8A80FF"/>
<rect x="820.4" y="1598.9" width="3.6" height="3.6" fill="#FF22FF"/>
<rect x="785.2" y="1685.5" width="3.6" height="3.6" fill="#20B0FF"/>
<rect x="713.1" y="1649.7" width="3.6" height="3.6" fill="#FF22FF"/>
<rect x="742.5" y="1652.7" width="3.6" height="3.6" fill="#8A80FF"/>
<rect x="722.9" y="1640.9" width="3.6" height="3.6" fill="#8A80FF"/>
<rect x="826.9" y="1645.6" width="3.6" height="3.6" fill="#8A80FF"/>
<rect x="741.6" y="1702.5" width="3.6" height="3.6" fill="#20B0FF"/>
<rect x="732.3" y="1634.1" width="3.6" height="3.6" fill="#FF22FF"/>
<rect x="742.5" y="1702.3" width="3.6" height="3.6" fill="#20B0FF"/>
<rect x="727.1" y="1655.5" width="3.6" height="3.6" fill="#8A80FF"/>
<rect x="739.9" y="1634.1" width="3.6" height="3.6" fill="#FF22FF"/>
<rect x="722.6" y="1677.4" width="3.6" height="3.6" fill="#20B0FF"/>
<rect x="724.3" y="1679.5" width="3.6" height="3.6" fill="#20B0FF"/>
<rect x="829.6" y="1632.1" width="3.6" height="3.6" fill="#8A80FF"/>
<rect x="711.5" y="1687.6" width="3.6" height="3.6" fill="#20B0FF"/>
<rect x="843.6" y="1675.2" width="3.6" height="3.6" fill="#8A80FF"/>
<rect x="715.2" y="1666.4" width="3.6" height="3.6" fill="#8A80FF"/>
<rect x="822.8" y="1604.0" width="3.6" height="3.6" fill="#8A80FF"/>
<rect x="845.4" y="1711.9" width="3.6" height="3.6" fill="#20B0FF"/>
<rect x="823.5" y="1591.0" width="3.6" height="3.6" fill="#FF22FF"/>
<rect x="734.1" y="1667.1" width="3.6" height="3.6" fill="#8A80FF"/>
<rect x="806.0" y="1639.6" width="3.6" height="3.6" fill="#8A80FF"/>
<rect x="718.0" y="1670.4" width="3.6" height="3.6" fill="#20B0FF"/>
<rect x="757.6" y="1623.7" width="3.6" height="3.6" fill="#FF22FF"/>
<rect x="732.0" y="1659.8" width="3.6" height="3.6" fill="#20B0FF"/>
<rect x="806.8" y="1621.8" width="3.6" height="3.6" fill="#8A80FF"/>
<rect x="764.8" y="1605.3" width="3.6" height="3.6" fill="#FF22FF"/>
<rect x="811.1" y="1592.5" width="3.6" height="3.6" fill="#FF22FF"/>
<rect x="791.4" y="1656.8" width="3.6" height="3.6" fill="#8A80FF"/>
<rect x="782.4" y="1667.2" width="3.6" height="3.6" fill="#20B0FF"/>
<rect x="737.4" y="1603.3" width="3.6" height="3.6" fill="#FF22FF"/>
<rect x="739.4" y="1701.9" width="3.6" height="3.6" fill="#20B0FF"/>
<rect x="837.0" y="1669.5" width="3.6" height="3.6" fill="#8A80FF"/>
<rect x="743.9" y="1646.7" width="3.6" height="3.6" fill="#FF22FF"/>
<rect x="817.7" y="1610.4" width="3.6" height="3.6" fill="#8A80FF"/>
<rect x="751.1" y="1653.0" width="3.6" height="3.6" fill="#8A80FF"/>
<rect x="811.2" y="1611.2" width="3.6" height="3.6" fill="#8A80FF"/>
<rect x="840.3" y="1607.8" width="3.6" height="3.6" fill="#FF22FF"/>
<rect x="809.4" y="1578.3" width="3.6" height="3.6" fill="#FF22FF"/>
<rect x="851.0" y="1655.9" width="3.6" height="3.6" fill="#FF22FF"/>
<rect x="855.7" y="1718.4" width="3.6" height="3.6" fill="#8A80FF"/>
<rect x="852.8" y="1722.0" width="3.6" height="3.6" fill="#20B0FF"/>
<rect x="801.6" y="1653.3" width="3.6" height="3.6" fill="#20B0FF"/>
<rect x="826.2" y="1612.4" width="3.6" height="3.6" fill="#FF22FF"/>
<rect x="825.5" y="1577.9" width="3.6" height="3.6" fill="#FF22FF"/>
<rect x="830.4" y="1573.5" width="3.6" height="3.6" fill="#FF22FF"/>
<rect x="812.6" y="1614.6" width="3.6" height="3.6" fill="#8A80FF"/>
<rect x="805.8" y="1631.9" width="3.6" height="3.6" fill="#8A80FF"/>
<rect x="753.3" y="1694.9" width="3.6" height="3.6" fill="#20B0FF"/>
<rect x="730.2" y="1695.1" width="3.6" height="3.6" fill="#20B0FF"/>
<rect x="776.5" y="1608.2" width="3.6" height="3.6" fill="#FF22FF"/>
<rect x="803.2" y="1676.3" width="3.6" height="3.6" fill="#20B0FF"/>
<rect x="753.4" y="1665.3" width="3.6" height="3.6" fill="#8A80FF"/>
<rect x="770.6" y="1662.7" width="3.6" height="3.6" fill="#8A80FF"/>
<rect x="727.1" y="1661.5" width="3.6" height="3.6" fill="#8A80FF"/>
<rect x="832.1" y="1575.1" width="3.6" height="3.6" fill="#FF22FF"/>
<rect x="801.5" y="1655.2" width="3.6" height="3.6" fill="#8A80FF"/>
<rect x="833.7" y="1683.0" width="3.6" height="3.6" fill="#20B0FF"/>
<rect x="846.9" y="1687.7" width="3.6" height="3.6" fill="#8A80FF"/>
<rect x="829.7" y="1665.1" width="3.6" height="3.6" fill="#20B0FF"/>
<rect x="710.7" y="1688.5" width="3.6" height="3.6" fill="#8A80FF"/>
<rect x="760.7" y="1675.3" width="3.6" height="3.6" fill="#20B0FF"/>
<rect x="827.5" y="1671.0" width="3.6" height="3.6" fill="#20B0FF"/>
<rect x="791.1" y="1610.8" width="3.6" height="3.6" fill="#FF22FF"/>
<rect x="801.0" y="1675.8" width="3.6" height="3.6" fill="#20B0FF"/>
<rect x="724.4" y="1588.1" width="3.6" height="3.6" fill="#FF22FF"/>
<rect x="747.1" y="1689.7" width="3.6" height="3.6" fill="#20B0FF"/>
<rect x="825.8" y="1578.6" width="3.6" height="3.6" fill="#FF22FF"/>
<rect x="816.7" y="1648.2" width="3.6" height="3.6" fill="#20B0FF"/>
<rect x="754.6" y="1668.3" width="3.6" height="3.6" fill="#8A80FF"/>
<rect x="855.6" y="1744.6" width="3.6" height="3.6" fill="#20B0FF"/>
<rect x="844.3" y="1662.9" width="3.6" height="3.6" fill="#8A80FF"/>
<rect x="824.7" y="1665.8" width="3.6" height="3.6" fill="#20B0FF"/>
<rect x="853.5" y="1678.1" width="3.6" height="3.6" fill="#FF22FF"/>
<rect x="722.6" y="1620.1" width="3.6" height="3.6" fill="#FF22FF"/>
<rect x="842.9" y="1692.1" width="3.6" height="3.6" fill="#20B0FF"/>
<rect x="727.8" y="1606.8" width="3.6" height="3.6" fill="#FF22FF"/>
<rect x="714.7" y="1675.5" width="3.6" height="3.6" fill="#8A80FF"/>
<rect x="803.0" y="1600.0" width="3.6" height="3.6" fill="#FF22FF"/>
<rect x="849.0" y="1642.4" width="3.6" height="3.6" fill="#FF22FF"/>
<rect x="794.0" y="1659.7" width="3.6" height="3.6" fill="#8A80FF"/>
<rect x="768.4" y="1658.1" width="3.6" height="3.6" fill="#8A80FF"/>
<rect x="737.4" y="1678.3" width="3.6" height="3.6" fill="#20B0FF"/>
<rect x="743.0" y="1713.6" width="3.6" height="3.6" fill="#20B0FF"/>
<rect x="733.5" y="1652.2" width="3.6" height="3.6" fill="#8A80FF"/>
<rect x="748.4" y="1676.6" width="3.6" height="3.6" fill="#8A80FF"/>
<rect x="727.1" y="1628.6" width="3.6" height="3.6" fill="#8A80FF"/>
<rect x="721.7" y="1677.5" width="3.6" height="3.6" fill="#20B0FF"/>
<rect x="760.1" y="1679.7" width="3.6" height="3.6" fill="#20B0FF"/>
<rect x="806.3" y="1627.1" width="3.6" height="3.6" fill="#8A80FF"/>
<rect x="810.3" y="1640.6" width="3.6" height="3.6" fill="#8A80FF"/>
<rect x="819.0" y="1616.6" width="3.6" height="3.6" fill="#8A80FF"/>
<rect x="802.6" y="1564.3" width="3.6" height="3.6" fill="#FF22FF"/>
<rect x="808.2" y="1549.4" width="3.6" height="3.6" fill="#FF22FF"/>
<rect x="1221.5" y="1809.0" width="4" height="4" fill="#00E0FF"/>
<rect x="1221.5" y="1816.5" width="4" height="4" fill="#00E0FF"/>
<rect x="1221.5" y="1824.0" width="4" height="4" fill="#00E0FF"/>
<rect x="1221.5" y="1831.5" width="4" height="4" fill="#00E0FF"/>
<rect x="1221.5" y="1839.0" width="4" height="4" fill="#00E0FF"/>
<rect x="1221.5" y="1846.5" width="4" height="4" fill="#00E0FF"/>
<rect x="1221.5" y="1854.0" width="4" height="4" fill="#00E0FF"/>
<rect x="1221.5" y="1861.5" width="4" height="4" fill="#00E0FF"/>
<rect x="1221.5" y="1869.0" width="4" height="4" fill="#00E0FF"/>
<rect x="1221.5" y="1876.5" width="4" height="4" fill="#00E0FF"/>
<rect x="1221.5" y="1884.0" width="4" height="4" fill="#00E0FF"/>
<rect x="1221.5" y="1891.5" width="4" height="4" fill="#00E0FF"/>
<rect x="1221.5" y="1899.0" width="4" height="4" fill="#7090FF"/>
<rect x="1221.5" y="1906.5" width="4" height="4" fill="#7090FF"/>
<rect x="1221.5" y="1914.0" width="4" height="4" fill="#7090FF"/>
<rect x="1221.5" y="1921.5" width="4" height="4" fill="#FF22FF"/>
<rect x="1221.5" y="1929.0" width="4" height="4" fill="#FF22FF"/>
<rect x="1221.5" y="1936.5" width="4" height="4" fill="#FF22FF"/>
<rect x="1221.5" y="1944.0" width="4" height="4" fill="#FF22FF"/>
<rect x="1221.5" y="1951.5" width="4" height="4" fill="#FF22FF"/>
<rect x="1221.5" y="1959.0" width="4" height="4" fill="#FF22FF"/>
<rect x="1221.5" y="1966.5" width="4" height="4" fill="#FF22FF"/>
<line x1="338.5" y1="1805.2" x2="1642.4" y2="1805.2" stroke="#000" stroke-width="1.8" />
<line x1="338.5" y1="1433.6" x2="1642.4" y2="1433.6" stroke="#000" stroke-width="4.3" />
<line x1="338.5" y1="2176.0" x2="1642.4" y2="2176.0" stroke="#000" stroke-width="3.2" />
<line x1="338.5" y1="1432.6" x2="338.5" y2="2177.0" stroke="#000" stroke-width="2.8" />
<line x1="1642.4" y1="1431.6" x2="1642.4" y2="2177.6" stroke="#000" stroke-width="4.7" />
<line x1="328.1" y1="2175.0" x2="338.5" y2="2175.0" stroke="#000" stroke-width="2.2" />
<line x1="1642.4" y1="2175.0" x2="1651.7" y2="2175.0" stroke="#000" stroke-width="2.2" />
<text x="300.0" y="2192.0" font-size="52.5" text-anchor="end" fill="#000" >−80</text>
<line x1="328.1" y1="2082.3" x2="338.5" y2="2082.3" stroke="#000" stroke-width="2.2" />
<line x1="1642.4" y1="2082.3" x2="1651.7" y2="2082.3" stroke="#000" stroke-width="2.2" />
<text x="300.0" y="2099.3" font-size="52.5" text-anchor="end" fill="#000" >−60</text>
<line x1="328.1" y1="1989.7" x2="338.5" y2="1989.7" stroke="#000" stroke-width="2.2" />
<line x1="1642.4" y1="1989.7" x2="1651.7" y2="1989.7" stroke="#000" stroke-width="2.2" />
<text x="300.0" y="2006.7" font-size="52.5" text-anchor="end" fill="#000" >−40</text>
<line x1="328.1" y1="1897.0" x2="338.5" y2="1897.0" stroke="#000" stroke-width="2.2" />
<line x1="1642.4" y1="1897.0" x2="1651.7" y2="1897.0" stroke="#000" stroke-width="2.2" />
<text x="300.0" y="1914.0" font-size="52.5" text-anchor="end" fill="#000" >−20</text>
<line x1="328.1" y1="1804.4" x2="338.5" y2="1804.4" stroke="#000" stroke-width="2.2" />
<line x1="1642.4" y1="1804.4" x2="1651.7" y2="1804.4" stroke="#000" stroke-width="2.2" />
<text x="300.0" y="1821.4" font-size="52.5" text-anchor="end" fill="#000" >0</text>
<line x1="328.1" y1="1711.8" x2="338.5" y2="1711.8" stroke="#000" stroke-width="2.2" />
<line x1="1642.4" y1="1711.8" x2="1651.7" y2="1711.8" stroke="#000" stroke-width="2.2" />
<text x="300.0" y="1728.8" font-size="52.5" text-anchor="end" fill="#000" >20</text>
<line x1="328.1" y1="1619.1" x2="338.5" y2="1619.1" stroke="#000" stroke-width="2.2" />
<line x1="1642.4" y1="1619.1" x2="1651.7" y2="1619.1" stroke="#000" stroke-width="2.2" />
<text x="300.0" y="1636.1" font-size="52.5" text-anchor="end" fill="#000" >40</text>
<line x1="328.1" y1="1526.5" x2="338.5" y2="1526.5" stroke="#000" stroke-width="2.2" />
<line x1="1642.4" y1="1526.5" x2="1651.7" y2="1526.5" stroke="#000" stroke-width="2.2" />
<text x="300.0" y="1543.5" font-size="52.5" text-anchor="end" fill="#000" >60</text>
<line x1="328.1" y1="1433.8" x2="338.5" y2="1433.8" stroke="#000" stroke-width="2.2" />
<line x1="1642.4" y1="1433.8" x2="1651.7" y2="1433.8" stroke="#000" stroke-width="2.2" />
<text x="300.0" y="1450.8" font-size="52.5" text-anchor="end" fill="#000" >80</text>
<line x1="339.3" y1="2176.0" x2="339.3" y2="2186.5" stroke="#000" stroke-width="2.2" />
<line x1="339.3" y1="1424.4" x2="339.3" y2="1433.6" stroke="#000" stroke-width="2.2" />
<text x="339.3" y="2247.5" font-size="53" text-anchor="middle" fill="#000" >0</text>
<line x1="502.1" y1="2176.0" x2="502.1" y2="2186.5" stroke="#000" stroke-width="2.2" />
<line x1="502.1" y1="1424.4" x2="502.1" y2="1433.6" stroke="#000" stroke-width="2.2" />
<text x="502.1" y="2247.5" font-size="53" text-anchor="middle" fill="#000" >50</text>
<line x1="664.9" y1="2176.0" x2="664.9" y2="2186.5" stroke="#000" stroke-width="2.2" />
<line x1="664.9" y1="1424.4" x2="664.9" y2="1433.6" stroke="#000" stroke-width="2.2" />
<text x="664.9" y="2247.5" font-size="53" text-anchor="middle" fill="#000" >100</text>
<line x1="827.7" y1="2176.0" x2="827.7" y2="2186.5" stroke="#000" stroke-width="2.2" />
<line x1="827.7" y1="1424.4" x2="827.7" y2="1433.6" stroke="#000" stroke-width="2.2" />
<text x="827.7" y="2247.5" font-size="53" text-anchor="middle" fill="#000" >150</text>
<line x1="990.5" y1="2176.0" x2="990.5" y2="2186.5" stroke="#000" stroke-width="2.2" />
<line x1="990.5" y1="1424.4" x2="990.5" y2="1433.6" stroke="#000" stroke-width="2.2" />
<text x="990.5" y="2247.5" font-size="53" text-anchor="middle" fill="#000" >200</text>
<line x1="1153.2" y1="2176.0" x2="1153.2" y2="2186.5" stroke="#000" stroke-width="2.2" />
<line x1="1153.2" y1="1424.4" x2="1153.2" y2="1433.6" stroke="#000" stroke-width="2.2" />
<text x="1153.2" y="2247.5" font-size="53" text-anchor="middle" fill="#000" >250</text>
<line x1="1316.0" y1="2176.0" x2="1316.0" y2="2186.5" stroke="#000" stroke-width="2.2" />
<line x1="1316.0" y1="1424.4" x2="1316.0" y2="1433.6" stroke="#000" stroke-width="2.2" />
<text x="1316.0" y="2247.5" font-size="53" text-anchor="middle" fill="#000" >300</text>
<line x1="1478.8" y1="2176.0" x2="1478.8" y2="2186.5" stroke="#000" stroke-width="2.2" />
<line x1="1478.8" y1="1424.4" x2="1478.8" y2="1433.6" stroke="#000" stroke-width="2.2" />
<text x="1478.8" y="2247.5" font-size="53" text-anchor="middle" fill="#000" >350</text>
<line x1="1641.6" y1="2176.0" x2="1641.6" y2="2186.5" stroke="#000" stroke-width="2.2" />
<line x1="1641.6" y1="1424.4" x2="1641.6" y2="1433.6" stroke="#000" stroke-width="2.2" />
<text x="1641.6" y="2247.5" font-size="53" text-anchor="middle" fill="#000" >400</text>
<text x="985.4" y="2327.9" font-size="54.6" text-anchor="middle" fill="#000" textLength="310" lengthAdjust="spacingAndGlyphs">Distance [km]</text>
<text transform="translate(167.7,1805.2) rotate(-90)" font-size="54.6" text-anchor="middle" fill="#000" textLength="438" lengthAdjust="spacingAndGlyphs">Displacement [mm]</text>
<text x="927" y="1521.9" font-size="48.5" fill="#231815" textLength="267" lengthAdjust="spacingAndGlyphs">Kunlun fault</text>
<text x="482.5" y="2100.3" font-size="49.5" fill="#231815" textLength="127.5" lengthAdjust="spacingAndGlyphs">North</text>
<text x="1409" y="2099.2" font-size="50" fill="#231815" textLength="137" lengthAdjust="spacingAndGlyphs">South</text>
</svg>
</body></html>
